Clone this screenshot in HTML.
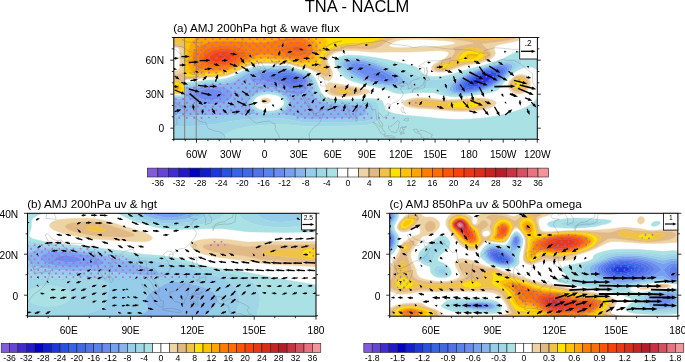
<!DOCTYPE html>
<html><head><meta charset="utf-8"><title>TNA - NACLM</title>
<style>html,body{margin:0;padding:0;background:#fff}svg{display:block}text{font-family:"Liberation Sans",Arial,Helvetica,sans-serif;fill:#000}</style></head><body>
<svg width="685" height="362" viewBox="0 0 685 362">
<defs>
<pattern id="dotsa" x="193.20" y="41.70" width="7.39" height="7.52" patternUnits="userSpaceOnUse"><circle cx="1" cy="1" r="0.95" fill="#a060e4"/><circle cx="4.70" cy="4.76" r="0.95" fill="#a060e4"/></pattern>
<pattern id="dotsb" x="33.76" y="244.26" width="7.05" height="7.06" patternUnits="userSpaceOnUse"><circle cx="1" cy="1" r="0.90" fill="#b05ee2"/><circle cx="4.53" cy="4.53" r="0.90" fill="#b05ee2"/></pattern>
<pattern id="dotsc" x="550.00" y="237.40" width="7.00" height="7.00" patternUnits="userSpaceOnUse"><circle cx="1" cy="1" r="0.95" fill="#7a68f0"/><circle cx="4.50" cy="4.50" r="0.95" fill="#7a68f0"/></pattern>
<clipPath id="cpa"><rect x="173.8" y="37.5" width="363.5" height="101.7"/></clipPath>
<clipPath id="cpb"><rect x="27.5" y="213.3" width="288.5" height="102.9"/></clipPath>
<clipPath id="cpc"><rect x="389.7" y="213.3" width="288.1" height="102.9"/></clipPath>
</defs>
<rect width="685" height="362" fill="#fff"/>
<text x="357.0" y="11.7" font-size="16.5" text-anchor="middle">TNA - NACLM</text>
<text x="173.2" y="31.7" font-size="11.7" text-anchor="start">(a) AMJ 200hPa hgt &amp; wave flux</text>
<g clip-path="url(#cpa)">
<rect x="173.8" y="37.5" width="363.5" height="101.7" fill="#fff"/>
<path d="M480.8 79.4L481.8 79.3 482.4 79.5 480.8 80.3 480.5 79.5Z" fill="#0f1ed2" stroke="#0f1ed2" stroke-width="0.5" fill-rule="evenodd"/>
<path d="M485.8 74.3L489.8 73.8 491.8 74.2 492.5 74.5 493 75.5 492.7 76.5 492.1 77.5 489.9 79.5 486.7 81.5 482 83.5 478.2 84.5 474.8 84.8 472.3 84.5 471.2 83.5 471.3 82.5 471.8 81.5 473.9 79.5 477.1 77.5 481.6 75.5 484.9 74.5ZM480.5 79.5L480.8 80.3 482.4 79.5 481.8 79.3 480.8 79.4Z" fill="#1e37dc" stroke="#1e37dc" stroke-width="0.5" fill-rule="evenodd"/>
<path d="M487.8 72.4L490.8 72 492.8 72 495.4 72.5 496.4 73.5 496.5 74.5 496.1 75.5 495.6 76.5 494.8 77.5 492.5 79.5 489.5 81.5 487.7 82.5 482.8 84.6 479.8 85.5 476.8 86.2 474.8 86.5 471.8 86.6 470.3 86.5 468.8 86 468 85.5 467.6 84.5 467.7 83.5 468.2 82.5 469 81.5 471.2 79.5 476.2 76.5 480.8 74.5 483.8 73.4 487.5 72.5ZM484.9 74.5L481.6 75.5 477.1 77.5 473.9 79.5 471.8 81.5 471.3 82.5 471.2 83.5 472.3 84.5 474.8 84.8 478.2 84.5 482 83.5 486.7 81.5 489.9 79.5 492.1 77.5 492.7 76.5 493 75.5 492.5 74.5 491.8 74.2 489.8 73.8 485.8 74.3Z" fill="#2850e1" stroke="#2850e1" stroke-width="0.5" fill-rule="evenodd"/>
<path d="M493.8 70.5L495.8 70.6 497.8 71.1 498.4 71.5 499.1 72.5 499.1 73.5 498.3 75.5 496.7 77.5 494.5 79.5 489.8 82.5 485.8 84.5 483.1 85.5 476.8 87.3 471.8 88 469.8 88 467.8 87.8 466.7 87.5 465.2 86.5 464.7 85.5 464.8 84.5 465.2 83.5 465.9 82.5 467.9 80.5 470.6 78.5 473.9 76.5 480.6 73.5 487.1 71.5 490.8 70.8 493.5 70.5ZM487.5 72.5L483.8 73.4 480.8 74.5 476.2 76.5 471.2 79.5 469 81.5 468.2 82.5 467.7 83.5 467.6 84.5 468 85.5 468.8 86 470.3 86.5 471.8 86.6 474.8 86.5 476.8 86.2 479.8 85.5 482.8 84.6 487.7 82.5 489.5 81.5 492.5 79.5 494.8 77.5 495.6 76.5 496.1 75.5 496.5 74.5 496.4 73.5 495.4 72.5 492.8 72 490.8 72 487.8 72.4Z" fill="#3764e6" stroke="#3764e6" stroke-width="0.5" fill-rule="evenodd"/>
<path d="M492.8 69.5L495.8 69.2 497.8 69.3 499.8 69.9 500.8 70.5 501.3 71.5 501.4 72.5 501.1 73.5 500 75.5 498.3 77.5 496.1 79.5 493.4 81.5 487.9 84.5 484.8 85.8 480.8 87.2 476.8 88.2 473.8 88.8 469.8 89.2 466.8 89.1 464.3 88.5 462.8 87.5 462.3 86.5 462.3 85.5 462.6 84.5 463.2 83.5 464.9 81.5 467.3 79.5 470.3 77.5 473.9 75.5 476.8 74.1 483.9 71.5 487.8 70.4 492.6 69.5ZM493.5 70.5L490.8 70.8 487.1 71.5 480.6 73.5 473.9 76.5 470.6 78.5 467.9 80.5 465.9 82.5 465.2 83.5 464.8 84.5 464.7 85.5 465.2 86.5 466.7 87.5 467.8 87.8 469.8 88 471.8 88 476.8 87.3 483.1 85.5 485.8 84.5 489.8 82.5 494.5 79.5 496.7 77.5 498.3 75.5 499.1 73.5 499.1 72.5 498.4 71.5 497.8 71.1 495.8 70.6 493.8 70.5Z" fill="#4169e6" stroke="#4169e6" stroke-width="0.5" fill-rule="evenodd"/>
<path d="M493.8 68.4L496.8 68.1 499.8 68.2 501.8 68.7 502.9 69.5 503.4 70.5 503.5 71.5 503.2 72.5 502.2 74.5 499.8 77.5 497.6 79.5 495 81.5 491.8 83.4 488.8 85 484.8 86.7 480.8 88 476.8 89.1 472.8 89.8 468.8 90.2 465.8 90.2 462.8 89.7 460.8 88.6 460 87.5 459.9 86.5 460.6 84.5 462.1 82.5 464.2 80.5 466.9 78.5 470.2 76.5 474.8 74.2 478.8 72.5 484.5 70.5 488.8 69.4 493 68.5ZM492.6 69.5L487.8 70.4 483.9 71.5 476.8 74.1 473.9 75.5 470.3 77.5 467.3 79.5 464.9 81.5 463.2 83.5 462.6 84.5 462.3 85.5 462.3 86.5 462.8 87.5 464.3 88.5 466.8 89.1 469.8 89.2 473.8 88.8 476.8 88.2 480.8 87.2 484.8 85.8 487.9 84.5 493.4 81.5 496.1 79.5 498.3 77.5 500 75.5 501.1 73.5 501.4 72.5 501.3 71.5 500.8 70.5 499.8 69.9 497.8 69.3 495.8 69.2 492.8 69.5ZM282.8 75.5L286.8 74.8 289.8 74.8 292.8 75.4 295.7 76.5 297.3 77.5 298.4 78.5 299 79.5 299.2 80.5 298.9 81.5 298 82.5 296.8 83.1 294.8 83.3 291.8 82.6 283.3 78.5 281.5 77.5 281 76.5 282.7 75.5Z" fill="#5073e6" stroke="#5073e6" stroke-width="0.5" fill-rule="evenodd"/>
<path d="M493.8 67.5L497.8 67 500.8 67 503.5 67.5 505 68.5 505.5 69.5 505.6 70.5 505.3 71.5 504.3 73.5 502 76.5 499.8 78.8 496.8 81.3 493.8 83.2 490.8 84.9 486.8 86.7 482.8 88.2 478.4 89.5 473.8 90.5 469.8 91.1 465.8 91.3 462.8 91 459.8 90.2 458.6 89.5 457.8 88.5 457.6 87.5 457.7 86.5 458 85.5 459.3 83.5 461.3 81.5 465.2 78.5 468.4 76.5 472.8 74.2 477.8 72.1 482.8 70.3 488.8 68.6 493.8 67.5ZM493 68.5L488.8 69.4 484.5 70.5 478.8 72.5 474.8 74.2 470.2 76.5 466.9 78.5 464.2 80.5 462.1 82.5 460.6 84.5 459.9 86.5 460 87.5 460.8 88.6 462.8 89.7 465.8 90.2 468.8 90.2 472.8 89.8 476.8 89.1 480.8 88 484.8 86.7 488.8 85 491.8 83.4 495 81.5 497.6 79.5 499.8 77.5 502.2 74.5 503.2 72.5 503.5 71.5 503.4 70.5 502.9 69.5 501.8 68.7 499.8 68.2 496.8 68.1 493.8 68.4ZM282.8 72.5L287.8 72.4 291.8 73.1 293.8 73.7 298.2 75.5 300.2 76.5 301.6 77.5 302.4 78.5 302.9 79.5 303.2 80.5 303.2 81.5 302.8 83.1 301.8 84.5 300.6 85.5 298.8 86.4 296.8 86.8 294.8 86.7 292.8 86.3 283.8 82.4 280.8 81.5 272.2 79.5 269.8 78.5 268.5 77.5 268.1 76.5 268.5 75.5 269.9 74.5 273.8 73.4 282 72.5ZM282.7 75.5L281 76.5 281.5 77.5 283.3 78.5 291.8 82.6 294.8 83.3 296.8 83.1 298 82.5 298.9 81.5 299.2 80.5 299 79.5 298.4 78.5 297.3 77.5 295.7 76.5 292.8 75.4 289.8 74.8 286.8 74.8 282.8 75.5ZM373.8 72.9L374.8 72.6 375.8 72.5 377.8 72.7 380.8 73.4 382.8 74.2 385.1 75.5 386.3 76.5 386.9 77.5 386.6 78.5 385.8 78.9 383.8 79.2 381.8 79.1 378.6 78.5 376 77.5 374.4 76.5 373.3 75.5 372.9 74.5 373 73.5ZM208.8 93.4L210.7 93.5 210.8 93.7 211.1 94.5 209.8 94.8 208.8 94.8 207.5 94.5 207.9 93.5Z" fill="#5a82eb" stroke="#5a82eb" stroke-width="0.5" fill-rule="evenodd"/>
<path d="M352.8 63.4L354.8 63 357.8 63 362.8 63.7 368.6 65.5 384 71.5 389.5 74.5 392 76.5 392.8 77.5 393.3 78.5 393.4 79.5 392.8 80.5 390.8 81.5 386.8 81.9 380.8 81.4 376.3 80.5 372.9 79.5 368.1 77.5 360.8 73.2 353.8 69.5 352.4 68.5 350.8 66.8 350.4 65.5 350.7 64.5 352.4 63.5ZM373 73.5L372.9 74.5 373.3 75.5 374.4 76.5 376 77.5 378.6 78.5 381.8 79.1 383.8 79.2 385.8 78.9 386.6 78.5 386.9 77.5 386.3 76.5 385.1 75.5 382.8 74.2 380.8 73.4 377.8 72.7 375.8 72.5 374.8 72.6 373.8 72.9ZM494.8 66.5L498.8 65.9 502.8 65.8 504.8 66.1 505.9 66.5 506.8 67.1 507.2 67.5 507.6 68.5 507.7 69.5 507 71.5 505 74.5 502.4 77.5 499.1 80.5 495.8 83 492.8 84.8 488.8 86.7 483.8 88.7 479.8 89.9 474.8 91.1 469.8 91.9 464.8 92.2 460.8 92 457.8 91.2 456.6 90.5 455.8 89.7 455.2 88.5 455.2 87.5 455.5 86.5 455.9 85.5 457.3 83.5 459.4 81.5 463.3 78.5 467.8 75.8 472.4 73.5 477.8 71.3 482.9 69.5 488.8 67.8 494.6 66.5ZM493.8 67.5L488.8 68.6 482.8 70.3 477.8 72.1 472.8 74.2 468.4 76.5 465.2 78.5 461.3 81.5 459.3 83.5 458 85.5 457.7 86.5 457.6 87.5 457.8 88.5 458.6 89.5 459.8 90.2 462.8 91 465.8 91.3 469.8 91.1 473.8 90.5 478.4 89.5 482.8 88.2 486.8 86.7 490.8 84.9 493.8 83.2 496.8 81.3 499.8 78.8 502 76.5 504.3 73.5 505.3 71.5 505.6 70.5 505.5 69.5 505 68.5 503.5 67.5 500.8 67 497.8 67 493.8 67.5ZM271.8 71.4L282.8 70.8 286.8 70.8 288.8 70.9 291.4 71.5 294.4 72.5 300.8 75 302.8 76.1 304.4 77.5 305.6 79.5 306 81.5 306 83.5 305.8 84.5 304.8 86.4 302.8 88.2 300.8 89.3 297.8 90.1 295.8 90.2 292.8 89.6 290.8 88.9 284.8 85.9 281.8 84.8 278.8 84 267.8 82 263.8 80.7 261.5 79.5 260.3 78.5 259.6 77.5 259.5 76.5 259.9 75.5 260.9 74.5 262.6 73.5 265.4 72.5 271 71.5ZM282 72.5L273.8 73.4 269.9 74.5 268.5 75.5 268.1 76.5 268.5 77.5 269.8 78.5 272.2 79.5 280.8 81.5 283.8 82.4 292.8 86.3 294.8 86.7 296.8 86.8 298.8 86.4 300.6 85.5 301.8 84.5 302.8 83.1 303.2 81.5 303.2 80.5 302.9 79.5 302.4 78.5 301.6 77.5 300.2 76.5 298.2 75.5 293.8 73.7 291.8 73.1 287.8 72.4 282.8 72.5ZM203.8 89.3L208.8 88.7 213.8 89 217.8 89.8 219.7 90.5 221.4 91.5 222.4 92.5 222.9 93.5 222.9 94.5 222.6 95.5 221.9 96.5 220.6 97.5 218.7 98.5 215.8 99.4 210.8 100 205.8 99.8 202.8 99.3 200.8 98.7 198.8 97.8 197.8 97.1 197.1 96.5 196.3 95.5 196 94.5 196.2 93.5 196.8 92.5 198 91.5 199.8 90.5 202.8 89.5ZM207.9 93.5L207.5 94.5 208.8 94.8 209.8 94.8 211.1 94.5 210.8 93.7 210.7 93.5 208.8 93.4Z" fill="#698cee" stroke="#698cee" stroke-width="0.5" fill-rule="evenodd"/>
<path d="M349.8 61.4L352.8 61 356.8 60.9 361.8 61.4 365.8 62.3 370 63.5 375.4 65.5 386.8 70.5 390.6 72.5 393.8 74.5 396.3 76.5 398 78.5 398.4 79.5 398.5 80.5 398.1 81.5 396.9 82.5 394.8 83.3 391.8 83.7 387.8 83.8 383.8 83.4 378.8 82.7 373.5 81.5 370 80.5 367 79.5 362.3 77.5 356.8 74.6 352.8 72.2 349.1 69.5 347.2 67.5 346.6 66.5 346.2 65.5 346.2 64.5 346.5 63.5 347.5 62.5 349.6 61.5ZM352.4 63.5L350.7 64.5 350.4 65.5 350.8 66.8 352.4 68.5 353.8 69.5 360.8 73.2 368.1 77.5 372.9 79.5 376.3 80.5 380.8 81.4 386.8 81.9 390.8 81.5 392.8 80.5 393.4 79.5 393.3 78.5 392.8 77.5 392 76.5 389.5 74.5 384 71.5 368.6 65.5 362.8 63.7 357.8 63 354.8 63 352.8 63.4ZM495.8 65.4L499.8 64.8 503.8 64.5 506.8 64.9 508.5 65.5 509.6 66.5 510 67.5 509.9 68.5 509.2 70.5 507.9 72.5 505.4 75.5 501.6 79.5 497.8 82.7 494.8 84.7 490.8 86.8 485.8 88.8 480.8 90.4 475.8 91.7 469.8 92.7 464.8 93.1 460.8 93.1 456.8 92.4 454.5 91.5 453.3 90.5 452.8 89.5 452.6 88.5 452.8 87.5 453.1 86.5 454.3 84.5 457.2 81.5 460.8 78.8 465.8 75.8 470.4 73.5 475.8 71.2 481.8 69.1 488.8 67 495.3 65.5ZM494.6 66.5L488.8 67.8 482.9 69.5 477.8 71.3 472.4 73.5 467.8 75.8 463.3 78.5 459.4 81.5 457.3 83.5 455.9 85.5 455.5 86.5 455.2 87.5 455.2 88.5 455.8 89.7 456.6 90.5 457.8 91.2 460.8 92 464.8 92.2 469.8 91.9 474.8 91.1 479.8 89.9 483.8 88.7 488.8 86.7 492.8 84.8 495.8 83 499.1 80.5 502.4 77.5 505 74.5 507 71.5 507.7 69.5 507.6 68.5 507.2 67.5 506.8 67.1 505.9 66.5 504.8 66.1 502.8 65.8 498.8 65.9 494.8 66.5ZM283.8 69.5L287.8 69.5 289.8 69.9 300.8 73.6 303 74.5 304.6 75.5 305.8 76.5 307.4 78.5 307.9 79.5 308.5 81.5 308.7 84.5 308.5 86.5 308 88.5 306.9 90.5 304.8 92.4 301.8 94.1 298.8 94.9 296.8 95.1 293.8 94.8 290.8 93.9 288.8 93 282.8 89.6 279.8 88.4 276.1 87.5 264.8 85.9 257.8 84.1 254.8 83 252.8 81.9 250.8 80.5 250 79.5 249.6 78.5 249.7 77.5 250.1 76.5 250.9 75.5 252.1 74.5 253.9 73.5 256.3 72.5 259.5 71.5 264.2 70.5 267.8 70.1 282.9 69.5ZM271 71.5L265.4 72.5 262.6 73.5 260.9 74.5 259.9 75.5 259.5 76.5 259.6 77.5 260.3 78.5 261.5 79.5 263.8 80.7 267.8 82 278.8 84 281.8 84.8 284.8 85.9 290.8 88.9 292.8 89.6 295.8 90.2 297.8 90.1 300.8 89.3 302.8 88.2 304.8 86.4 305.8 84.5 306 83.5 306 81.5 305.6 79.5 304.4 77.5 302.8 76.1 300.8 75 294.4 72.5 291.4 71.5 288.8 70.9 286.8 70.8 282.8 70.8 271.8 71.4ZM204.8 86.4L208.8 86.1 213.8 86.1 218.8 86.5 222.8 87.1 225.8 87.8 228.8 88.9 230.8 90.2 232 91.5 232.6 92.5 232.9 93.5 232.8 95.5 231.9 97.5 230.2 99.5 227.8 101 224.8 102.3 221.8 103.1 217.8 103.9 213.8 104.3 208.8 104.3 203.8 103.9 199.8 103.3 195.8 102.1 192.8 100.9 190.5 99.5 188.4 97.5 187.5 95.5 187.4 94.5 187.6 93.5 188.2 92.5 189.8 91 192.6 89.5 195.3 88.5 199 87.5 204 86.5ZM202.8 89.5L199.8 90.5 198 91.5 196.8 92.5 196.2 93.5 196 94.5 196.3 95.5 197.1 96.5 197.8 97.1 198.8 97.8 200.8 98.7 202.8 99.3 205.8 99.8 210.8 100 215.8 99.4 218.7 98.5 220.6 97.5 221.9 96.5 222.6 95.5 222.9 94.5 222.9 93.5 222.4 92.5 221.4 91.5 219.7 90.5 217.8 89.8 213.8 89 208.8 88.7 203.8 89.3Z" fill="#78a0f0" stroke="#78a0f0" stroke-width="0.5" fill-rule="evenodd"/>
<path d="M349.8 59.5L354.8 59.2 359.6 59.5 364.8 60.3 369.5 61.5 374.8 63.2 380.5 65.5 386.8 68.3 393.1 71.5 398.1 74.5 400.8 76.5 402.9 78.5 403.6 79.5 403.9 80.5 404 81.5 403.6 82.5 402.6 83.5 400.7 84.5 396.8 85.3 392.8 85.5 387.8 85.3 381.9 84.5 375.8 83.4 370.8 82.2 364.8 80.5 359.4 78.5 355.4 76.5 350.8 73.6 346.8 70.5 344 67.5 343 65.5 342.8 64.5 343 63.5 343.4 62.5 344.3 61.5 345.8 60.6 346.8 60.2 349.6 59.5ZM349.6 61.5L347.5 62.5 346.5 63.5 346.2 64.5 346.2 65.5 346.6 66.5 347.2 67.5 349.1 69.5 352.8 72.2 356.8 74.6 362.3 77.5 367 79.5 370 80.5 373.5 81.5 378.8 82.7 383.8 83.4 387.8 83.8 391.8 83.7 394.8 83.3 396.9 82.5 398.1 81.5 398.5 80.5 398.4 79.5 398 78.5 396.3 76.5 393.8 74.5 390.6 72.5 386.8 70.5 375.4 65.5 370 63.5 365.8 62.3 361.8 61.4 356.8 60.9 352.8 61 349.8 61.4ZM501.8 63.4L506.8 63.1 509.8 63.6 511.8 64.7 512.4 65.5 512.7 66.5 512.2 68.5 510.9 70.5 507.6 74.5 502.8 79.5 499.8 82.2 496.8 84.5 493.8 86.3 489.8 88.3 485.8 89.8 480.8 91.3 475.8 92.5 470.8 93.3 464.8 93.9 458.8 93.9 454.8 93.4 452.8 92.7 451.8 92.2 450.9 91.5 450.1 90.5 449.8 89.5 449.7 88.5 449.9 87.5 450.9 85.5 453.5 82.5 456.8 79.9 460.8 77.3 466.8 74.1 471.8 71.9 478.8 69.3 486.8 66.8 494.8 64.7 501.1 63.5ZM495.3 65.5L488.8 67 481.8 69.1 475.8 71.2 470.4 73.5 465.8 75.8 460.8 78.8 457.2 81.5 454.3 84.5 453.1 86.5 452.8 87.5 452.6 88.5 452.8 89.5 453.3 90.5 454.5 91.5 456.8 92.4 460.8 93.1 464.8 93.1 469.8 92.7 475.8 91.7 480.8 90.4 485.8 88.8 490.8 86.8 494.8 84.7 497.8 82.7 501.6 79.5 505.4 75.5 507.9 72.5 509.2 70.5 509.9 68.5 510 67.5 509.6 66.5 508.5 65.5 506.8 64.9 503.8 64.5 499.8 64.8 495.8 65.4ZM280.8 68.5L286.8 68.4 289.8 68.9 297.8 71.7 302.8 73.2 305.6 74.5 307.1 75.5 308.2 76.5 309.8 78.5 311 81.5 311.6 84.5 312.1 91.5 313 94.5 313.8 95.7 315.8 98.1 316.8 98.9 318.8 100.1 324.8 102.7 327.8 103.4 333.8 103.9 356.2 104.5 362.8 105.5 365.3 106.5 366.1 107.5 366.5 108.5 366.7 109.5 366.7 111.5 366.5 112.5 365.8 114 364.8 114.9 363.7 115.5 361 116.5 356.4 117.5 348.8 118.4 341.8 118.7 309.8 119 306.8 118.8 301.8 118.2 287.8 115.1 281.8 114.1 280.6 113.5 281.7 112.5 284.8 110.3 286.8 108.6 288.5 106.5 289 105.5 289.4 104.5 289.7 102.5 289.3 100.5 288.9 99.5 287.5 97.5 285.8 95.9 282.8 94 280.8 93.1 276.8 91.8 272.8 91.1 269.8 90.9 263.8 91.2 259.8 91.8 256.8 92.7 253.8 94 251.8 95.3 250.4 96.5 248.8 98.5 247.9 100.5 247.6 102.5 247.9 104.5 248.3 105.5 249.5 107.5 250.8 108.9 256.8 113.5 255.8 114 252.8 114.3 236.8 114.6 215.8 115.3 205.8 115.5 188.8 115 172.8 113.9 172.8 99.4 183.8 98.1 184.8 96.5 185.2 95.5 185.5 93.5 185.8 88.1 186.8 87.6 204.8 84.3 210.8 83.9 223.8 83.7 228.8 83 232.8 81.9 234.8 81 245.1 74.5 248.8 72.5 251.8 71.3 254.8 70.5 259.8 69.5 264.8 68.9 268.8 68.7 279.8 68.5ZM282.9 69.5L267.8 70.1 264.2 70.5 259.5 71.5 256.3 72.5 253.9 73.5 252.1 74.5 250.9 75.5 250.1 76.5 249.7 77.5 249.6 78.5 250 79.5 250.8 80.5 252.8 81.9 254.8 83 257.8 84.1 264.8 85.9 276.1 87.5 279.8 88.4 282.8 89.6 288.8 93 290.8 93.9 293.8 94.8 296.8 95.1 298.8 94.9 301.8 94.1 304.8 92.4 306.9 90.5 308 88.5 308.5 86.5 308.7 84.5 308.5 81.5 307.9 79.5 307.4 78.5 305.8 76.5 304.6 75.5 303 74.5 300.8 73.6 289.8 69.9 287.8 69.5 283.8 69.5ZM204 86.5L199 87.5 195.3 88.5 192.6 89.5 189.8 91 188.2 92.5 187.6 93.5 187.4 94.5 187.5 95.5 188.4 97.5 190.5 99.5 192.8 100.9 195.8 102.1 199.8 103.3 203.8 103.9 208.8 104.3 213.8 104.3 217.8 103.9 221.8 103.1 224.8 102.3 227.8 101 230.2 99.5 231.9 97.5 232.8 95.5 232.9 93.5 232.6 92.5 232 91.5 230.8 90.2 228.8 88.9 225.8 87.8 222.8 87.1 218.8 86.5 213.8 86.1 208.8 86.1 204.8 86.4Z" fill="#87b4eb" stroke="#87b4eb" stroke-width="0.5" fill-rule="evenodd"/>
<path d="M346.8 58.3L350.8 57.8 356.8 57.9 362.8 58.5 368.8 59.7 373.8 61 379.8 63.1 386.8 66 394.8 69.8 401.9 73.5 407.1 76.5 409.9 78.5 411.8 80.5 412.2 81.5 412.2 82.5 411.8 83.5 410.8 84.5 408.8 85.7 404.8 86.9 400.8 87.5 395.8 87.5 390.8 87.1 383.8 86.1 375.4 84.5 366.7 82.5 359.9 80.5 355 78.5 349.8 75.5 345.8 72.5 342.6 69.5 340.6 66.5 339.9 64.5 339.9 63.5 340.1 62.5 340.7 61.5 341.6 60.5 342.8 59.7 345.8 58.5ZM349.6 59.5L346.8 60.2 345.8 60.6 344.3 61.5 343.4 62.5 343 63.5 342.8 64.5 343 65.5 344 67.5 346.8 70.5 350.8 73.6 355.4 76.5 359.4 78.5 364.8 80.5 370.8 82.2 375.8 83.4 381.9 84.5 387.8 85.3 392.8 85.5 396.8 85.3 400.7 84.5 402.6 83.5 403.6 82.5 404 81.5 403.9 80.5 403.6 79.5 402.9 78.5 400.8 76.5 398.1 74.5 393.1 71.5 386.8 68.3 380.5 65.5 374.8 63.2 369.5 61.5 364.8 60.3 359.6 59.5 354.8 59.2 349.8 59.5ZM506.8 61.4L508.8 61.3 511.4 61.5 512.8 61.8 514.6 62.5 515.7 63.5 516.1 64.5 516.1 65.5 515.7 66.5 514.5 68.5 511.8 71.5 502.8 80.7 498.8 84.4 495.8 86.5 492.8 88.2 488.8 89.8 485.8 90.8 476.8 93.1 471.8 93.9 466.8 94.6 459.8 94.9 454.8 94.7 450.8 93.8 448 92.5 446.9 91.5 446.3 90.5 446 89.5 445.9 88.5 446.1 87.5 447 85.5 448.6 83.5 449.6 82.5 453.8 79.5 459.1 76.5 465.8 73.2 471.8 70.8 480.8 67.8 493.8 64.1 500.8 62.4 505.9 61.5ZM501.1 63.5L494.8 64.7 486.8 66.8 478.8 69.3 471.8 71.9 466.8 74.1 460.8 77.3 456.8 79.9 453.5 82.5 450.9 85.5 449.9 87.5 449.7 88.5 449.8 89.5 450.1 90.5 450.9 91.5 451.8 92.2 452.8 92.7 454.8 93.4 458.8 93.9 464.8 93.9 470.8 93.3 475.8 92.5 480.8 91.3 485.8 89.8 489.8 88.3 493.8 86.3 496.8 84.5 499.8 82.2 502.8 79.5 507.6 74.5 510.9 70.5 512.2 68.5 512.7 66.5 512.4 65.5 511.8 64.7 509.8 63.6 506.8 63.1 501.8 63.4ZM282.8 67.5L287.8 67.5 290.8 68.2 297.8 70.8 304.1 72.5 306.8 73.7 309.5 75.5 310.8 76.8 312 78.5 313.8 82.2 314.5 84.5 315.7 90.5 317 93.5 318.6 95.5 319.8 96.5 323.5 99.5 325.8 100.7 328.8 101.3 336.8 101.8 365.8 101.8 368.8 102.2 370.8 103 371.8 103.6 372.6 104.5 373.1 105.5 373.7 107.5 374 111.5 373.8 114.5 373.2 116.5 371.9 118.5 370.7 119.5 368.5 120.5 365.8 121.1 354.8 121.9 340.8 122.4 309.8 122.8 306.8 122.6 302.8 122.2 288.8 119.5 282.8 118.6 268.8 118.6 253.8 119 244.1 119.5 235 120.5 215.8 124 207.8 125.1 197.8 125.9 184.8 126.4 172.8 126.5 172.8 113.9 188.8 115 205.8 115.5 215.8 115.3 236.8 114.6 252.8 114.3 255.8 114 256.8 113.5 250.8 108.9 249.5 107.5 248.3 105.5 247.9 104.5 247.6 102.5 247.9 100.5 248.3 99.5 249.5 97.5 250.4 96.5 251.8 95.3 253.8 94 255.8 93.1 258.8 92.1 262.8 91.3 265.8 91 269.8 90.9 272.8 91.1 276.8 91.8 279.8 92.7 282.8 94 284.8 95.2 286.5 96.5 288.3 98.5 289.3 100.5 289.6 101.5 289.6 103.5 289 105.5 288.5 106.5 286.8 108.6 284.8 110.3 281.7 112.5 280.6 113.5 281.8 114.1 287.8 115.1 302.8 118.4 306.8 118.8 309.8 119 340.8 118.7 347.3 118.5 353.8 117.9 357.8 117.2 361 116.5 363.7 115.5 364.8 114.9 365.8 114 366.5 112.5 366.7 110.5 366.5 108.5 366.1 107.5 365.3 106.5 362.8 105.5 355.8 104.5 333.8 103.9 327.8 103.4 324.8 102.7 317.7 99.5 316.3 98.5 314.8 97 313.6 95.5 312.6 93.5 312 90.5 311.6 84.5 311 81.5 309.8 78.5 308.2 76.5 305.8 74.6 303.7 73.5 297.8 71.7 291.8 69.5 287.8 68.5 267.8 68.7 263.8 69 258.8 69.7 252.8 71 248.8 72.5 241.7 76.5 236.8 79.9 234.8 81 232.8 81.9 229.8 82.8 226.8 83.4 223.8 83.7 210.8 83.9 204.8 84.3 186.8 87.6 185.8 88.1 185.5 93.5 185.2 95.5 184.8 96.5 183.8 98.1 172.8 99.4 172.8 97.1 178.8 97 183.8 96.7 184.6 95.5 185.1 93.5 185.8 85.5 196.8 84.1 205.8 82.6 221.8 81.7 226.8 81 229.8 80 233.8 78.5 236.8 76.9 240.8 74.5 246.9 71.5 249.8 70.3 252.8 69.4 257.8 68.5 264.8 67.7 282.7 67.5ZM264.2 92.5L260.8 93.1 257.8 94.1 254.9 95.5 252.8 97 251.4 98.5 250.3 100.5 250 102.5 250.3 104.5 251.4 106.5 253.3 108.5 255.8 110.2 258.8 111.6 262.8 112.8 265.8 113.2 269.8 113.3 272.8 113.1 276.8 112.2 279.8 111.2 281.8 110.1 284.2 108.5 286.1 106.5 287.1 104.5 287.5 102.5 287.1 100.5 286 98.5 283.9 96.5 281.8 95.1 278.8 93.8 275.8 92.9 271.8 92.3 267.8 92.2 264.8 92.4Z" fill="#96cde8" stroke="#96cde8" stroke-width="0.5" fill-rule="evenodd"/>
<path d="M349.8 56.5L355.8 56.5 362.8 57.2 369.8 58.3 375.8 59.7 385.8 62.9 401.8 69.4 411.8 72.9 419.8 76.7 422.8 77.8 428.8 79.2 435.8 79.7 442.8 79.3 445.8 78.8 448.8 78.1 452.8 76.8 464.8 72.1 470.8 70 505.8 59.7 509.8 58.9 512.8 58.6 515.8 58.6 518.8 59.3 520.8 60.3 521.7 61.5 521.9 62.5 521.7 63.5 520.4 65.5 518.4 67.5 509.8 74.9 499.8 85.2 497.8 86.9 495.8 88.3 492.8 89.8 489.8 90.9 481.8 92.9 470.8 94.9 461.8 95.7 457.8 95.8 453.8 95.7 450.8 95.3 447.2 94.5 444.6 93.5 442.8 92.5 437.8 88.9 434.8 88 431.8 87.9 426.8 88.1 406.8 90.3 402.8 90.4 399.8 90.3 392.8 89.2 370.8 84.7 361.6 82.5 356.8 81 352.9 79.5 349.8 78 347.3 76.5 344.8 74.6 341.8 71.7 339.8 69.2 338.1 66.5 337.4 64.5 337.3 62.5 337.6 61.5 338.1 60.5 339.8 59.1 341.8 58 343.8 57.3 346.8 56.7 349.6 56.5ZM345.8 58.5L342.8 59.7 341.6 60.5 340.7 61.5 340.1 62.5 339.9 63.5 339.9 64.5 340.6 66.5 342.6 69.5 345.8 72.5 349.8 75.5 355 78.5 359.9 80.5 366.7 82.5 375.4 84.5 383.8 86.1 390.8 87.1 395.8 87.5 400.8 87.5 404.8 86.9 408.8 85.7 410.8 84.5 411.8 83.5 412.2 82.5 412.2 81.5 411.8 80.5 409.9 78.5 407.1 76.5 401.9 73.5 394.8 69.8 386.8 66 379.8 63.1 373.8 61 368.8 59.7 362.8 58.5 356.8 57.9 350.8 57.8 346.8 58.3ZM505.9 61.5L500.8 62.4 493.8 64.1 480.8 67.8 471.8 70.8 465.8 73.2 459.1 76.5 453.8 79.5 449.6 82.5 448.6 83.5 447 85.5 446.1 87.5 445.9 88.5 446 89.5 446.3 90.5 446.9 91.5 448 92.5 450.8 93.8 454.8 94.7 459.8 94.9 466.8 94.6 471.8 93.9 476.8 93.1 485.8 90.8 488.8 89.8 492.8 88.2 495.8 86.5 498.8 84.4 502.8 80.7 511.8 71.5 514.5 68.5 515.7 66.5 516.1 65.5 516.1 64.5 515.7 63.5 514.6 62.5 512.8 61.8 511.4 61.5 508.8 61.3 506.8 61.4ZM257.8 67.4L262.8 66.8 266.8 66.6 274.8 66.8 287.8 66.7 290.8 67.4 297.8 70 304.3 71.5 307.8 72.8 309.1 73.5 310.8 74.9 312.2 76.5 313.8 78.8 315.6 82.5 318.6 90.5 320.1 93.5 321.7 95.5 323.8 97.6 324.9 98.5 326.8 99.5 328.8 99.9 332.8 100.3 340.8 100.6 346.8 100.6 367.8 100 372.4 100.5 375.5 101.5 376.9 102.5 377.7 103.5 378.4 105.5 379.6 112.5 379.6 115.5 379.2 117.5 378.3 119.5 377.5 120.5 375.1 122.5 371.8 124 367.8 124.9 362.8 125.3 344.8 126 309.8 126.6 303.8 126.3 290.8 125 283.8 124.5 271.8 124.7 259.8 125.3 251.8 126.1 244.8 127.2 239 128.5 232.7 130.5 228.5 132.5 225.8 134.5 224.2 136.5 223 139.5 172.8 139.5 172.8 126.5 192.8 126.2 205.8 125.3 215.8 124 235 120.5 244.1 119.5 253.8 119 268.8 118.6 282.8 118.6 288.8 119.5 302.8 122.2 306.8 122.6 309.8 122.8 342.8 122.4 358.8 121.7 365.8 121.1 367.8 120.7 369.8 120 371.8 118.6 372.7 117.5 373.6 115.5 374 112.5 373.9 109.5 373.7 107.5 373.1 105.5 372.6 104.5 371.8 103.6 370.8 103 368.8 102.2 365.8 101.8 344.8 101.9 332.8 101.7 327.8 101.2 324.8 100.2 322.8 99 318.8 95.7 317 93.5 315.7 90.5 314.5 84.5 313.8 82.2 312 78.5 310.8 76.8 309.5 75.5 306.8 73.7 304.1 72.5 297.8 70.8 290.8 68.2 287.8 67.5 266.8 67.6 261.8 68 256.8 68.6 252.1 69.5 249.1 70.5 242.7 73.5 234.8 78 229.8 80 225.8 81.2 220.8 81.8 205.8 82.6 196.8 84.1 185.8 85.5 185.1 93.5 184.6 95.5 183.8 96.7 178.8 97 172.8 97.1 172.8 96.2 178.8 96.2 183.8 95.9 184.5 94.5 184.8 93.1 185.3 86.5 185.8 83.9 195.8 82.9 205.8 81.3 220.8 80.4 224.8 79.9 228.8 78.8 233.8 76.9 242 72.5 248.8 69.4 251.8 68.4 256.8 67.5ZM264.8 92.4L267.8 92.2 271.8 92.3 275.8 92.9 278.8 93.8 281.8 95.1 283.9 96.5 286 98.5 287.1 100.5 287.5 102.5 287.1 104.5 286.1 106.5 284.2 108.5 281.8 110.1 279.8 111.2 276.8 112.2 272.8 113.1 269.8 113.3 265.8 113.2 262.8 112.8 258.8 111.6 255.8 110.2 253.3 108.5 251.4 106.5 250.3 104.5 250 102.5 250.3 100.5 251.4 98.5 252.8 97 254.9 95.5 257.8 94.1 260.8 93.1 264.2 92.5ZM263.9 93.5L260.8 94.2 257.8 95.3 255.6 96.5 253.8 98 252.6 99.5 251.8 101.5 251.8 103.5 252.5 105.5 254.2 107.5 255.8 108.7 257.8 109.9 260.8 111 263.8 111.8 266.8 112.1 269.8 112.2 272.8 111.9 275.8 111.3 278.8 110.3 280.8 109.3 283.3 107.5 284.2 106.5 285.4 104.5 285.8 102.5 285.4 100.5 284.1 98.5 282.8 97.2 280.8 95.9 277.8 94.6 274.8 93.8 271.8 93.3 267.8 93.1 264.8 93.4Z" fill="#a0d7e6" stroke="#a0d7e6" stroke-width="0.5" fill-rule="evenodd"/>
<path d="M522.8 50.5L537.8 49.5 537.8 70.7 536.6 69.5 534.8 68.2 532.8 67.3 530.8 66.9 528.8 66.7 526.8 66.9 522.8 67.9 517.8 70.2 514.8 72.1 511.8 74.4 508.8 77.1 505.6 80.5 498.8 89 497.8 89.9 495.8 91.1 492.8 92 487.8 93 476.8 94.8 467.8 96 458.8 96.7 454.8 96.8 450.8 96.5 444.2 95.5 434.8 93.1 431.8 92.7 427.8 92.4 418.8 92.5 402.8 93.6 397.8 93.5 394.8 92.9 388.8 90.5 382.5 88.5 361.8 83.9 356.8 82.6 350.4 80.5 346.8 78.8 343.8 76.8 340.8 73.8 338.8 71.2 337 68.5 335.9 66.5 335.1 64.5 334.7 62.5 334.8 61.5 335.2 60.5 335.8 59.5 336.9 58.5 339.8 56.9 343.8 55.7 347.8 55.2 352.8 55.2 358.8 55.5 365.8 56.2 374.8 57.5 386.8 59.5 409.8 65.1 414.8 66.6 416.7 67.5 418.2 68.5 421.8 72.5 423 73.5 424.7 74.5 426.8 75.3 428.8 75.9 431.8 76.4 437.8 76.6 443.8 76.1 449.8 74.9 464.8 70.3 486.2 64.5 492.5 62.5 500.8 59.5 505.2 57.5 513.8 53 516.8 51.7 518.8 51.1 522.7 50.5ZM349.6 56.5L346.8 56.7 343.8 57.3 341.8 58 339.8 59.1 338.1 60.5 337.6 61.5 337.3 62.5 337.4 64.5 338.1 66.5 339.8 69.2 341.8 71.7 344.8 74.6 347.3 76.5 349.8 78 352.9 79.5 356.8 81 361.6 82.5 370.8 84.7 392.8 89.2 399.8 90.3 402.8 90.4 406.8 90.3 426.8 88.1 431.8 87.9 434.8 88 437.8 88.9 442.8 92.5 444.6 93.5 447.2 94.5 450.8 95.3 453.8 95.7 457.8 95.8 461.8 95.7 470.8 94.9 481.8 92.9 489.8 90.9 492.8 89.8 495.8 88.3 497.8 86.9 499.8 85.2 509.8 74.9 518.4 67.5 520.4 65.5 521.7 63.5 521.9 62.5 521.7 61.5 520.8 60.3 518.8 59.3 515.8 58.6 512.8 58.6 509.8 58.9 505.8 59.7 470.8 70 464.8 72.1 452.8 76.8 448.8 78.1 445.8 78.8 442.8 79.3 435.8 79.7 428.8 79.2 422.8 77.8 419.8 76.7 411.8 72.9 401.8 69.4 385.8 62.9 375.8 59.7 369.8 58.3 362.8 57.2 355.8 56.5 349.8 56.5ZM257.8 66.4L265.8 65.8 274.8 66 287.8 65.9 289.8 66.3 298.8 69.5 303.8 70.4 306.8 71.2 308.8 72.1 310.8 73.5 312.8 75.5 314.4 77.5 316.6 81.5 319.8 89.5 321.2 92.5 323.4 95.5 324.8 96.8 326.8 98.1 328 98.5 331.8 99.1 338.8 99.5 346.8 99.5 368.8 98.5 374.8 98.8 378.8 99.4 381.6 100.5 382.6 101.5 383.1 102.5 384.8 107.9 385.8 109.6 386.8 110.7 387.8 111.4 391.8 112.8 395.8 113.8 404.8 115.2 420.1 116.5 441.8 118.7 452.8 119.3 461.8 119.3 470.8 119 480.8 118.2 488.8 117.2 496.8 115.9 505.8 113.9 512.8 112 521.8 108.9 527.8 106.2 531.8 103.7 534.8 101.1 537.8 97.6 537.8 139.5 223 139.5 224.2 136.5 225.8 134.5 228.5 132.5 230.4 131.5 234.8 129.8 239 128.5 244.8 127.2 250.8 126.2 262.8 125.1 280.8 124.5 288.8 124.8 302.8 126.3 308.8 126.6 341.8 126.1 364.8 125.2 369.8 124.5 371.8 124 373.8 123.2 375.8 122 376.8 121.2 378.3 119.5 378.8 118.5 379.4 116.5 379.6 113.5 379.3 110.5 378.7 106.5 378.1 104.5 377.7 103.5 376.9 102.5 375.5 101.5 372.4 100.5 367.8 100 346.8 100.6 340.8 100.6 332.8 100.3 328.8 99.9 326.8 99.5 324.9 98.5 323.8 97.6 321.7 95.5 320.1 93.5 318.6 90.5 316 83.5 314.7 80.5 313.6 78.5 312.2 76.5 309.8 74 307.8 72.8 304.8 71.7 297.8 70 290.8 67.4 287.8 66.7 274.8 66.8 265.8 66.6 260.8 67 254.8 67.8 251.8 68.4 248.5 69.5 242 72.5 233.8 76.9 228.8 78.8 224.8 79.9 220.8 80.4 205.8 81.3 195.8 82.9 185.8 83.9 185.3 86.5 184.8 93.1 184.5 94.5 183.8 95.9 178.8 96.2 172.8 96.2 172.8 95.5 178.8 95.5 183.8 95.2 184.1 94.5 184.6 92.5 185.2 84.5 185.4 83.5 185.8 82.6 195.8 81.9 205.8 80.3 219.8 79.4 224.8 78.8 228.8 77.6 233.8 75.7 241.8 71.5 248.8 68.4 251.8 67.4 257.2 66.5ZM264.8 93.4L267.8 93.1 271.8 93.3 274.8 93.8 277.8 94.6 280.8 95.9 282.8 97.2 284.1 98.5 285.4 100.5 285.8 102.5 285.4 104.5 284.2 106.5 283.3 107.5 280.8 109.3 278.8 110.3 275.8 111.3 272.8 111.9 269.8 112.2 266.8 112.1 263.8 111.8 260.8 111 257.8 109.9 255.8 108.7 254.2 107.5 252.5 105.5 251.8 103.5 251.8 101.5 252.6 99.5 253.8 98 255.6 96.5 257.8 95.3 260.8 94.2 263.9 93.5ZM263.5 94.5L260.8 95.2 258.8 96 256.8 97.1 255.1 98.5 253.8 100.5 253.5 101.5 253.5 103.5 254.4 105.5 255.8 107.1 257.7 108.5 259.8 109.5 262.8 110.5 267.8 111.1 270.8 111.1 273.8 110.7 276.8 109.8 278.8 109 280.8 107.8 282.3 106.5 283.1 105.5 284 103.5 283.9 101.5 283.1 99.5 281.8 98.1 279.8 96.7 277.3 95.5 275.8 95 272.8 94.4 269.8 94.1 266.8 94.1 263.8 94.5Z" fill="#aae1e4" stroke="#aae1e4" stroke-width="0.5" fill-rule="evenodd"/>
<path d="M396.8 37.5L398.7 36.5 424.8 36.5 432.3 37.5 447.8 38.8 456.8 39.7 468.4 41.5 472.5 42.5 473.7 43.5 458.1 46.5 454.4 47.5 453 48.5 454.6 50.5 455 51.5 454.8 52.5 453.7 54.5 451.3 57.5 448.4 59.5 439.8 63 437.8 64 435.8 65.4 434.8 66.5 434.4 67.5 434.4 68.5 434.9 69.5 436.8 70.5 438.8 70.9 440.8 71 443.8 70.7 447.8 69.8 451.7 68.5 457.8 66 461.8 64.8 465.8 64 475.8 62.6 480.6 61.5 483.8 60.5 487.9 58.5 489.2 57.5 490.2 56.5 490.8 55.5 491 54.5 490.9 53.5 490.4 52.5 488.8 50.6 483.8 46 481.9 44.5 482.8 43.5 501.8 41.2 507.8 40.3 511.2 39.5 514.4 38.5 516.3 37.5 517.1 36.5 527.9 36.5 527 37.5 525.8 38.2 522.3 39.5 512.8 41.9 499.9 44.5 496.8 45.4 495.8 45.9 494.9 46.5 494.2 47.5 494 48.5 495.3 52.5 495.3 53.5 495.1 54.5 494.5 55.5 492.7 57.5 491.3 58.5 487.4 60.5 483.8 61.8 478.8 63.2 465.8 65.3 461.8 66.2 457.8 67.4 449.8 70.4 444.8 71.7 441.8 72.1 438.8 72.2 436.8 72.1 434.8 71.6 432.8 70.6 431.8 69.5 431.5 68.5 431.5 67.5 431.9 66.5 432.5 65.5 434.8 63.5 437.8 61.9 444.8 58.5 447.2 56.5 448.5 54.5 448.7 53.5 448.3 52.5 446.8 51.6 445.8 51.3 441.8 50.8 436.8 50.7 409.8 52.1 387.8 52 379.8 52.3 369.8 52.1 356.8 50.7 347.8 50.4 344.8 50.7 341.8 51.1 337.8 52.1 334.8 53.1 332.8 54.1 330.8 55.5 328.9 57.5 328.2 58.5 327.7 60.5 327.9 62.5 328.7 64.5 331 68.5 331.9 70.5 332.5 72.5 332.7 74.5 332.4 76.5 331.8 77.9 330.8 79.4 329.8 80.4 328.8 81 327.8 80.8 324.8 79.4 322.8 78 318.8 74.4 316.8 72.8 313.8 71.4 310.5 69.5 308.4 68.5 305.8 67.8 297.8 66.8 290.8 64.3 288.8 63.8 286.8 63.6 275.8 63.8 264.8 63.4 259.8 63.7 253.8 64.5 250.8 65.1 247.8 66.2 240.8 69.4 233.8 73 228.8 74.9 224.8 76 218.8 76.8 206.5 77.5 194.8 79.2 185.8 79.5 184.8 80.4 184.5 81.5 184.4 89.5 184 92.5 183.8 93.1 181.8 93.6 178.8 93.9 174.8 93.9 172.8 93.6 172.8 92.8 175.8 93.3 178.8 93.3 182.8 92.7 183.8 92.1 184.2 88.5 184.1 80.5 184.3 79.5 184.8 78.7 185.8 78.5 194.8 78.3 205.8 76.7 219.8 75.9 224.8 75.2 227.8 74.4 233.8 72.2 241.8 68.1 247.8 65.4 250.8 64.3 252.8 63.8 257.8 63.1 265.8 62.5 275.8 63 287.8 62.9 290.8 63.6 297.8 66 299.8 66.3 306.8 67 309.8 68 312.8 69.5 316.8 70.7 318.8 72 321.8 74.4 323.8 75.6 325.8 76.2 327.8 76.1 328.8 75.6 329.8 74.5 330.2 73.5 330.2 71.5 329.8 70 329.2 68.5 326.7 64.5 325.7 62.5 325.5 61.5 325.7 59.5 326.5 57.5 328.2 55.5 329.8 54.1 332.8 52.1 334.8 51.1 338.8 49.9 342.8 49 345.8 48.6 349.8 48.4 354.8 48.5 368.8 49 371.8 48.9 374.8 48.4 377.8 47.3 380.8 45.9 385.8 42.2 388.5 40.5 396.7 37.5ZM407.9 39.5L400.8 40 398.4 40.5 395.2 41.5 393 42.5 390.1 44.5 389.4 45.5 389.8 46.5 390.8 46.8 394.9 47.5 400.8 47.8 417.8 47.3 436.8 46.4 445.8 45.6 452.5 44.5 455.3 43.5 455.2 42.5 451.8 41.6 442.8 40.5 433.8 40 417.8 39.3 408.8 39.4ZM173.8 45.6L177.8 45.8 178.8 46.1 180.8 47.3 183.8 48.2 184 52.5 183.9 69.5 183.8 71.9 182.8 72.8 180.8 73.2 178.8 74.2 177.8 74.5 172.8 74.7 172.8 70.9 176.8 70.8 177.8 70.6 179 69.5 179.5 68.5 179.8 66.5 179.9 59.5 179.8 51.5 179.4 49.5 178.9 48.5 177.8 47.7 176.8 47.4 172.8 47.3 172.8 45.6ZM520.8 74.4L522.8 74.5 524.8 75.1 526.8 76.2 527.8 77.1 528.9 78.5 529.9 80.5 530.2 81.5 530.5 83.5 530.3 85.5 529.5 87.5 528.3 89.5 527.3 90.5 525.8 91.8 523.8 92.9 521.8 93.6 519.8 94 517.8 94 515.8 93.8 513.8 93.1 511.8 91.9 510.3 90.5 509 88.5 508.5 87.5 508.2 85.5 508.3 84.5 508.9 82.5 510.2 80.5 512 78.5 513.8 77 515.8 75.8 517.8 75 520 74.5ZM517.6 76.5L514.8 77.8 512.8 79.4 511.8 80.5 510.8 82.2 510.3 83.5 510.2 85.5 510.5 86.5 510.9 87.5 511.8 88.8 512.8 89.8 514.8 91 517.8 91.8 519.8 91.8 521.8 91.4 523.8 90.6 524.8 89.9 526.3 88.5 527.1 87.5 527.8 86 528.2 84.5 528.2 82.5 528 81.5 527 79.5 526.2 78.5 525.1 77.5 523.8 76.8 522.8 76.4 520.8 76.1 517.8 76.4ZM329.8 82.5L337.8 83.7 356.8 87.2 366.8 89.5 369.2 90.5 370.2 91.5 369.8 92.5 368.8 92.9 367.3 93.5 360.8 94.9 352.8 96 346.8 96.5 343.8 96.6 338.8 96.3 332.3 95.5 329.8 94.6 328.1 93.5 327.1 92.5 326.5 91.5 325.8 89.5 325.8 87.5 326 86.5 326.8 84.6 328.8 82.7 329.7 82.5ZM336.3 86.5L333.8 86.9 332.1 87.5 330.6 88.5 329.9 89.5 329.8 90.5 330.1 91.5 330.9 92.5 331.8 93.1 332.8 93.6 335.6 94.5 339.8 95.1 344.8 95.3 349.8 94.9 352.9 94.5 357.9 93.5 360.8 92.5 361.7 91.5 360.9 90.5 357.8 89.3 348.8 87.5 340.8 86.4 336.8 86.4ZM263.8 98.2L265.8 98 267.8 98.2 268.8 98.5 270.2 99.5 270.6 100.5 270.4 101.5 269.4 102.5 267.8 103.3 265.8 103.6 264.8 103.6 262.8 103.1 261.7 102.5 260.9 101.5 260.9 100.5 261.4 99.5 263 98.5ZM263.7 100.5L264.3 101.5 264.8 101.7 265.8 101.7 266.8 101.5 267.4 100.5 266.8 100 265.8 99.6 264.8 99.8 263.8 100.4ZM411.8 98.5L417.8 97.8 423.8 97.8 428.8 98.1 442.2 99.5 449.8 99.8 456.8 99.5 476.8 98.1 481.8 98.1 486.8 98.5 490.8 99.4 493.9 100.5 495.4 101.5 496.1 102.5 496.2 103.5 495.7 104.5 494.6 105.5 491.8 107.1 487.8 108.5 481.8 109.9 475.8 110.8 470.8 111.3 463.8 111.6 457.8 111.5 448.8 111 432.8 109.2 416.8 108.3 410.8 107.6 406.8 106.6 404.8 105.7 403.2 104.5 402.8 103.5 402.9 102.5 403.7 101.5 405.2 100.5 407.8 99.4 411.6 98.5ZM415.2 99.5L410.8 100.5 408.7 101.5 407.7 102.5 407.6 103.5 408.4 104.5 410.4 105.5 413.8 106.3 418.8 106.9 433.8 107.7 448.9 109.5 455.8 110.1 465.8 110.2 474.8 109.5 480.8 108.5 484.7 107.5 487.8 106.2 489.1 105.5 490.2 104.5 490.6 103.5 490.3 102.5 489.1 101.5 486.6 100.5 483.8 99.9 479.8 99.4 473.8 99.3 453.8 100.7 445.8 100.9 438.8 100.5 424.8 99.2 419.8 99.1 415.8 99.4Z" fill="#eed4a5" stroke="#eed4a5" stroke-width="0.5" fill-rule="evenodd"/>
<path d="M387.8 36.8L388.1 36.5 398.7 36.5 396.7 37.5 388.5 40.5 385.8 42.2 380.8 45.9 375.8 48.1 372.8 48.7 369.8 49 354.8 48.5 349.8 48.4 345.8 48.6 341.8 49.2 337.8 50.2 334.8 51.1 331.8 52.7 329.3 54.5 327.3 56.5 326 58.5 325.5 60.5 325.5 61.5 326.1 63.5 329.2 68.5 329.8 70 330.2 71.5 330.2 73.5 329.8 74.5 328.8 75.6 327.8 76.1 325.8 76.2 323.8 75.6 321.8 74.4 318.8 72 316.8 70.7 312.8 69.5 309.8 68 307.8 67.2 305.8 66.8 299.8 66.3 297.8 66 288.8 63.1 286.8 62.9 274.8 62.9 266.8 62.5 258.8 63 252.8 63.8 249.8 64.7 241.8 68.1 233.8 72.2 227.8 74.4 224.8 75.2 219.8 75.9 205.8 76.7 194.8 78.3 185.8 78.5 184.8 78.7 184.3 79.5 184.1 80.5 184.2 88.5 183.8 92.1 182.8 92.7 181.8 92.9 177.8 93.3 174.8 93.2 172.8 92.8 172.8 92 174.8 92.5 177.8 92.7 180.8 92.4 183.1 91.5 183.8 90.5 184 87.5 183.8 84 182.8 82.1 181.8 81.4 179.8 80.6 177.8 80.4 175.8 80.5 173.8 81.1 172.8 81.6 172.8 74.7 176.8 74.5 178.8 74.2 180.8 73.2 182.8 72.8 183.8 71.9 184 65.5 183.8 48.5 183.8 48.2 180.8 47.3 178.8 46.1 177.8 45.8 172.8 45.6 172.8 43.6 177.8 43.7 180.8 44.5 183.8 44.9 184.2 47.5 184.4 49.5 184.4 72.5 184.5 75.5 184.9 76.5 185.8 77.2 192.8 77.5 196.8 77.2 205.8 75.8 218.8 75.1 224.8 74.4 228 73.5 233.8 71.4 241.8 67.3 247.8 64.6 250.8 63.5 252.8 63 257.8 62.3 264.8 61.7 274.8 62.1 286.8 62.1 288.8 62.3 297.8 65.1 299.8 65.4 304.8 65.6 306.8 65.9 308.8 66.4 312.8 67.8 316.8 68.5 318.8 69.3 323.1 72.5 324.8 73.1 325.8 73.2 326.8 72.8 327.1 72.5 327.6 71.5 327.6 70.5 326.8 68.3 323.4 63.5 323 61.5 323.2 59.5 324.2 57.5 326.5 54.5 328.8 52.4 331.8 50.3 333.8 49.2 336.8 48.2 340.8 47.2 344.8 46.5 349.8 46.1 367.8 45.6 370.8 45.2 374.8 44 380.8 41.5 384.4 39.5 387.3 37.5ZM425.8 36.5L455 36.5 458.5 37.5 469.8 39.1 477.8 39.9 484.8 40.2 492.8 39.9 499.8 39.1 503.1 38.5 505.8 37.6 507 36.5 517.1 36.5 516.3 37.5 514.4 38.5 511.2 39.5 507.8 40.3 501.8 41.2 482.8 43.5 481.9 44.5 483.8 46 488.8 50.6 490.4 52.5 490.9 53.5 491 54.5 490.8 55.5 490.2 56.5 489.2 57.5 487.9 58.5 486.1 59.5 481.8 61.1 477.8 62.2 465.8 64 461.8 64.8 457.8 66 451.7 68.5 447.8 69.8 443.8 70.7 440.8 71 438.8 70.9 436.8 70.5 434.9 69.5 434.4 68.5 434.4 67.5 434.8 66.5 435.8 65.4 437.8 64 439.8 63 448.4 59.5 451.3 57.5 453.7 54.5 454.8 52.5 455 51.5 454.6 50.5 453 48.5 454.4 47.5 458.1 46.5 473.7 43.5 472.5 42.5 468.4 41.5 462.6 40.5 451.8 39.1 432.3 37.5 424.8 36.5ZM465.9 48.5L463.8 49.3 461.8 50.7 458.8 53.6 454.8 58.3 452.8 59.9 449.8 61.3 443.8 63.3 440.8 64.5 439 65.5 437.9 66.5 437.4 67.5 437.7 68.5 439.7 69.5 442.8 69.6 445.8 69.1 448.1 68.5 450.8 67.5 455.8 65.2 458.8 64.1 462.8 63.1 473.8 61.6 477.8 60.9 482.2 59.5 484.3 58.5 485.7 57.5 486.6 56.5 487 55.5 487.1 54.5 486.6 53.5 485.8 52.5 484.8 51.7 481.8 50 478.8 48.9 474.8 48 470.8 47.8 466.8 48.3ZM517.8 76.4L520.8 76.1 522.8 76.4 523.8 76.8 525.1 77.5 526.2 78.5 527 79.5 528 81.5 528.2 82.5 528.2 84.5 527.8 86 527.1 87.5 526.3 88.5 524.8 89.9 523.8 90.6 521.8 91.4 519.8 91.8 517.8 91.8 514.8 91 512.8 89.8 511.8 88.8 510.9 87.5 510.5 86.5 510.2 85.5 510.3 83.5 510.8 82.2 511.8 80.5 512.8 79.4 514.8 77.8 517.6 76.5ZM516.6 78.5L515 79.5 513.9 80.5 512.6 82.5 512.3 84.5 512.9 86.5 513.6 87.5 514.7 88.5 516.8 89.5 517.8 89.7 519.8 89.7 521.8 89.2 523.2 88.5 524.4 87.5 525.7 85.5 526 83.5 525.7 81.5 525.1 80.5 524.3 79.5 522.9 78.5 521.8 78.1 519.8 77.8 518.8 77.9 516.8 78.4ZM336.8 86.4L340.8 86.4 348.8 87.5 357.8 89.3 360.9 90.5 361.7 91.5 360.8 92.5 357.9 93.5 352.9 94.5 349.8 94.9 344.8 95.3 339.8 95.1 335.6 94.5 332.8 93.6 331.8 93.1 330.9 92.5 330.1 91.5 329.8 90.5 329.9 89.5 330.6 88.5 332.1 87.5 333.8 86.9 336.3 86.5ZM338.3 89.5L336.9 90.5 336.9 91.5 338.2 92.5 340.8 93.2 342.8 93.6 344.8 93.5 348.8 93 350.7 92.5 351.8 91.5 350.9 90.5 347.8 89.5 341.8 88.9 340.8 88.9 338.8 89.3ZM415.8 99.4L419.8 99.1 424.8 99.2 438.8 100.5 445.8 100.9 453.8 100.7 473.8 99.3 479.8 99.4 483.8 99.9 486.6 100.5 489.1 101.5 490.3 102.5 490.6 103.5 490.2 104.5 489.1 105.5 487.8 106.2 484.7 107.5 480.8 108.5 474.8 109.5 465.8 110.2 455.8 110.1 448.9 109.5 433.8 107.7 418.8 106.9 413.8 106.3 410.4 105.5 408.4 104.5 407.6 103.5 407.7 102.5 408.7 101.5 410.8 100.5 415.2 99.5ZM415.7 101.5L413.8 102.5 413.8 103.5 415.8 104.5 416.8 104.7 421.8 105.3 434.8 106 453.6 108.5 460.8 108.9 466.8 108.8 471.8 108.5 477.8 107.5 481.3 106.5 483.5 105.5 484.7 104.5 485 103.5 484.2 102.5 481.9 101.5 477.8 100.8 473.8 100.5 469.8 100.6 451.8 101.9 443.8 102.2 436.8 102.1 422.8 100.8 418.8 101 415.8 101.5ZM263.8 100.4L264.8 99.8 265.8 99.6 266.8 100 267.4 100.5 266.8 101.5 265.8 101.7 264.8 101.7 264.3 101.5 263.7 100.5Z" fill="#e1b987" stroke="#e1b987" stroke-width="0.5" fill-rule="evenodd"/>
<path d="M173.8 36.5L184.5 36.5 184.3 41.5 184.8 48.5 184.9 70.5 185.3 74.5 185.8 75.6 189.8 76.1 193.8 76.3 197.8 76 205.8 74.8 218.8 74.1 224.8 73.4 228.2 72.5 233.8 70.5 242.8 66 249.8 62.9 252.8 62.1 260.8 61 266.8 60.7 275.8 61.2 287.8 61.3 290.8 61.9 295.8 63.6 298.8 64.3 305.8 64.5 313.8 66 316.8 65.8 317.8 65.5 319 64.5 319.5 63.5 320.9 58.5 322 56.5 323.8 54.2 326.8 50.9 328.8 49.1 331.8 47 333.8 46 339.8 44.1 345.8 43 349.8 42.7 368.8 42.1 372.8 41.1 379.4 38.5 381.2 37.5 382.1 36.5 388.1 36.5 387.3 37.5 385.9 38.5 381.8 41 375.8 43.6 371.8 44.9 367.8 45.6 349.8 46.1 344.8 46.5 340.8 47.2 336.8 48.2 333.8 49.2 331.8 50.3 328.8 52.4 326.5 54.5 324.2 57.5 323.2 59.5 323 61.5 323.4 63.5 326.8 68.3 327.6 70.5 327.6 71.5 327.1 72.5 326.8 72.8 325.8 73.2 324.8 73.1 323.1 72.5 318.8 69.3 316.8 68.5 312.8 67.8 308.8 66.4 306.8 65.9 304.8 65.6 299.8 65.4 297.8 65.1 288.8 62.3 286.8 62.1 274.8 62.1 264.8 61.7 257.8 62.3 252.8 63 250.8 63.5 247.8 64.6 241.8 67.3 233.8 71.4 228 73.5 224.8 74.4 218.8 75.1 205.8 75.8 196.8 77.2 191.8 77.5 185.8 77.2 184.9 76.5 184.5 75.5 184.4 72.5 184.4 49.5 184.2 47.5 183.8 44.9 180.8 44.5 177.8 43.7 172.8 43.6 172.8 36.5ZM455.8 36.5L476.6 36.5 480.8 37.3 484.8 37.5 487.8 37.4 491.8 36.5 507 36.5 505.8 37.6 503.1 38.5 499.8 39.1 492.8 39.9 484.8 40.2 477.8 39.9 469.8 39.1 458.5 37.5 455 36.5ZM466.8 48.3L470.8 47.8 474.8 48 478.8 48.9 481.8 50 484.8 51.7 485.8 52.5 486.6 53.5 487.1 54.5 487 55.5 486.6 56.5 485.7 57.5 484.3 58.5 482.2 59.5 477.8 60.9 473.8 61.6 462.8 63.1 458.8 64.1 455.8 65.2 450.8 67.5 448.1 68.5 445.8 69.1 442.8 69.6 439.7 69.5 437.7 68.5 437.4 67.5 437.9 66.5 439 65.5 440.8 64.5 443.8 63.3 449.8 61.3 452.8 59.9 454.8 58.3 458.8 53.6 461.8 50.7 463.8 49.3 465.9 48.5ZM468 51.5L465.8 52.3 463.8 53.3 461.1 55.5 460.3 56.5 459.1 58.5 458.7 59.5 458.6 60.5 458.8 60.7 459.8 61.1 460.8 61.3 465.8 61.1 472.3 60.5 477.2 59.5 480 58.5 481.7 57.5 482.7 56.5 483.1 55.5 482.9 54.5 482.1 53.5 479.8 52.2 477.8 51.5 475.8 51.1 471.8 50.9 468.8 51.3ZM447.3 64.5L443.8 65.5 442.4 66.5 442.9 67.5 444.8 67.5 448.1 66.5 449.7 65.5 449.9 64.5 447.8 64.4ZM516.8 78.4L518.8 77.9 519.8 77.8 521.8 78.1 522.9 78.5 524.3 79.5 525.1 80.5 525.7 81.5 526 83.5 525.7 85.5 524.4 87.5 523.2 88.5 521.8 89.2 519.8 89.7 517.8 89.7 516.8 89.5 514.7 88.5 513.6 87.5 512.9 86.5 512.3 84.5 512.6 82.5 513.9 80.5 515 79.5 516.6 78.5ZM517.1 80.5L515.8 81.5 515.1 82.5 514.8 83.5 514.9 84.5 515.3 85.5 516.2 86.5 517.8 87.3 518.8 87.4 520.8 87.1 521.8 86.5 522.8 85.5 523.3 84.5 523.4 83.5 523.2 82.5 522.7 81.5 521.8 80.6 520.8 80.2 519.8 80 517.8 80.2ZM176.8 80.4L179.8 80.6 181.8 81.4 182.8 82.1 183.8 84 184 87.5 183.8 90.7 182.8 91.7 179.8 92.6 175.8 92.6 172.8 92 172.8 90.7 174.4 91.5 175.8 91.8 177.8 91.9 179.8 91.7 180.8 91.4 182.5 90.5 183.1 89.5 183.3 87.5 182.8 85.7 181.7 84.5 179.8 83.4 177.8 83 175.8 83.2 173.8 84.1 172.8 85 172.8 81.6 174.8 80.7 176.2 80.5ZM338.8 89.3L340.8 88.9 341.8 88.9 347.8 89.5 350.9 90.5 351.8 91.5 350.7 92.5 348.8 93 344.8 93.5 342.8 93.6 340.8 93.2 338.2 92.5 336.9 91.5 336.9 90.5 338.3 89.5ZM415.8 101.5L418.8 101 422.8 100.8 436.8 102.1 443.8 102.2 451.8 101.9 469.8 100.6 473.8 100.5 477.8 100.8 481.9 101.5 484.2 102.5 485 103.5 484.7 104.5 483.5 105.5 481.3 106.5 477.8 107.5 471.8 108.5 466.8 108.8 460.8 108.9 453.6 108.5 434.8 106 421.8 105.3 416.8 104.7 415.8 104.5 413.8 103.5 413.8 102.5 415.7 101.5ZM461.7 102.5L452.9 103.5 448.8 104.4 448.4 104.5 448.8 105.5 452.7 106.5 457.8 107.1 462.8 107.3 467.8 107.2 473.2 106.5 476.6 105.5 478.1 104.5 477.9 103.5 475.4 102.5 472.8 102.2 467.8 102.1 461.8 102.5Z" fill="#f0c346" stroke="#f0c346" stroke-width="0.5" fill-rule="evenodd"/>
<path d="M184.8 36.5L189.6 36.5 185.8 39.9 185.5 41.5 185.4 62.5 185.6 69.5 185.8 72.4 187.9 73.5 189.8 74.1 191.8 74.5 194.8 74.8 198.8 74.5 205.8 73.6 219.8 72.9 224.8 72.3 227.9 71.5 233.8 69.4 242.8 65 249.8 61.9 252.8 61 260.8 59.8 266.8 59.6 275.8 60.1 287.8 60.3 290.8 60.9 295.9 62.5 298.8 63.1 304.8 63 312.8 63.5 313.8 63.4 314.8 63.1 315.8 62.6 316.8 61.4 319.8 55.2 325.4 46.5 326.8 43.5 327 41.5 326.7 40.5 326.1 39.5 324.9 38.5 321.6 36.5 356.7 36.5 360.1 37.5 367.8 38.2 370.8 37.7 372.8 36.5 382.1 36.5 381.2 37.5 379.4 38.5 373.8 40.8 369.8 41.9 366.8 42.3 349.8 42.7 345.8 43 339.8 44.1 333.8 46 331.8 47 328.8 49.1 326.8 50.9 323.8 54.2 322 56.5 320.9 58.5 319.5 63.5 319 64.5 317.8 65.5 316.8 65.8 313.8 66 305.8 64.5 298.8 64.3 295.8 63.6 290.8 61.9 287.8 61.3 275.8 61.2 266.8 60.7 260.8 61 252.8 62.1 249.8 62.9 242.8 66 233.8 70.5 228.2 72.5 224.8 73.4 218.8 74.1 205.8 74.8 197.8 76 193.8 76.3 189.8 76.1 185.8 75.6 185.3 74.5 184.9 70.5 184.8 48.5 184.3 41.5 184.5 36.5ZM476.8 36.5L491.8 36.5 487.8 37.4 484.8 37.5 480.8 37.3 476.6 36.5ZM468.8 51.3L471.8 50.9 475.8 51.1 477.8 51.5 479.8 52.2 482.1 53.5 482.9 54.5 483.1 55.5 482.7 56.5 481.7 57.5 480 58.5 477.2 59.5 472.3 60.5 465.8 61.1 460.8 61.3 459.8 61.1 458.8 60.7 458.6 60.5 458.7 59.5 459.1 58.5 460.3 56.5 461.1 55.5 463.8 53.3 465.8 52.3 468 51.5ZM471.3 53.5L468.8 54 466.8 54.9 465.9 55.5 465 56.5 464.7 57.5 465.8 58.6 467.8 58.9 470.8 58.8 473.3 58.5 476.4 57.5 477.7 56.5 478 55.5 477.3 54.5 475.8 53.8 473.8 53.5 471.8 53.4ZM447.8 64.4L449.9 64.5 449.7 65.5 448.1 66.5 444.8 67.5 442.9 67.5 442.4 66.5 443.8 65.5 447.3 64.5ZM517.8 80.2L519.8 80 520.8 80.2 521.8 80.6 522.7 81.5 523.2 82.5 523.4 83.5 523.3 84.5 522.8 85.5 521.8 86.5 520.8 87.1 518.8 87.4 517.8 87.3 516.2 86.5 515.3 85.5 514.9 84.5 514.8 83.5 515.1 82.5 515.8 81.5 517.1 80.5ZM175.8 83.2L177.8 83 179.8 83.4 181.7 84.5 182.8 85.7 183.3 87.5 183.1 89.5 182.5 90.5 180.6 91.5 177.8 91.9 175.8 91.8 174.4 91.5 172.8 90.7 172.8 85 173.8 84.1 174.9 83.5ZM175.3 85.5L174 86.5 173.4 87.5 173.4 88.5 173.8 89.5 175.1 90.5 176.8 90.9 178.8 90.8 179.9 90.5 181.2 89.5 181.6 88.5 181.6 87.5 181 86.5 179.8 85.5 178.8 85.1 176.8 85 175.8 85.2ZM461.8 102.5L467.8 102.1 472.8 102.2 475.4 102.5 477.9 103.5 478.1 104.5 476.6 105.5 473.2 106.5 467.8 107.2 462.8 107.3 457.8 107.1 452.7 106.5 448.8 105.5 448.4 104.5 448.8 104.4 452.9 103.5 461.7 102.5Z" fill="#ffe100" stroke="#ffe100" stroke-width="0.5" fill-rule="evenodd"/>
<path d="M188.8 37.2L189.6 36.5 211.8 36.5 203.8 37.4 195.8 38.8 194.3 39.5 192.8 40.6 191.8 41.6 190.6 43.5 189.6 46.5 187.8 55.5 187.5 59.5 187.8 62.5 188.8 66.5 190.2 69.5 191.1 70.5 192.5 71.5 194.8 72.3 197.8 72.5 205.8 72 217.8 71.7 222.8 71.2 225.8 70.7 230 69.5 234.8 67.7 241.8 64.2 250.8 60.1 254.8 59 260.8 58.1 266.8 57.8 274.8 58.5 287.8 59 289.8 59.3 296.8 61.2 298.8 61.6 300.8 61.6 305.8 61.1 309.4 60.5 312.8 59.3 313.8 58.5 314.8 57.3 316.4 54.5 317.6 51.5 318.4 48.5 318.6 46.5 318.2 44.5 317.7 43.5 316.2 41.5 313.6 39.5 309.1 36.5 321.6 36.5 323.8 37.8 325.8 39.3 326.7 40.5 327 41.5 326.8 43.5 325.9 45.5 320.2 54.5 316.8 61.4 315.9 62.5 314.8 63.1 312.8 63.5 305.8 63.1 299.8 63.2 296.8 62.7 290.8 60.9 287.8 60.3 275.8 60.1 266.8 59.6 260.8 59.8 252.8 61 249.8 61.9 242.8 65 233.8 69.4 227.9 71.5 224.8 72.3 218.8 73 204.8 73.7 196.8 74.7 193.8 74.7 191.6 74.5 188.8 73.8 186.8 73 185.8 72.4 185.7 71.5 185.4 62.5 185.5 42.5 185.8 39.9 188.5 37.5ZM356.8 36.5L372.8 36.5 370.8 37.7 367.8 38.2 360.1 37.5 356.7 36.5ZM471.8 53.4L473.8 53.5 475.8 53.8 477.3 54.5 478 55.5 477.7 56.5 476.4 57.5 473.3 58.5 470.8 58.8 467.8 58.9 465.8 58.6 464.7 57.5 465 56.5 465.9 55.5 466.8 54.9 468.8 54 471.3 53.5ZM175.8 85.2L176.8 85 178.8 85.1 179.8 85.5 181 86.5 181.6 87.5 181.6 88.5 181.2 89.5 179.9 90.5 178.8 90.8 176.8 90.9 175.1 90.5 173.8 89.5 173.4 88.5 173.4 87.5 174 86.5 175.3 85.5ZM176.7 87.5L176.3 88.5 176.8 88.9 177.8 89 178.7 88.5 178.2 87.5 177.8 87.4 176.8 87.5Z" fill="#ffc300" stroke="#ffc300" stroke-width="0.5" fill-rule="evenodd"/>
<path d="M203.8 37.4L211.8 36.5 309.1 36.5 315 40.5 317.1 42.5 318.2 44.5 318.4 45.5 318.5 47.5 318.2 49.5 317.3 52.5 315.8 55.7 314.6 57.5 313.8 58.5 312.4 59.5 307.8 60.9 301.8 61.5 298.8 61.6 296.8 61.2 289.8 59.3 287.8 59 274.8 58.5 266.8 57.8 260.8 58.1 254.8 59 250.8 60.1 241.8 64.2 234.8 67.7 230 69.5 225.8 70.7 222.8 71.2 217.8 71.7 205.8 72 197.8 72.5 194.8 72.3 192.5 71.5 191.1 70.5 190.2 69.5 188.8 66.5 187.9 63.5 187.6 60.5 187.7 56.5 189.6 46.5 190.2 44.5 191.2 42.5 192.8 40.6 193.8 39.8 195.8 38.8 203 37.5ZM288.1 38.5L281.8 39.5 268.8 42.1 261.8 42.9 255.8 42.9 235.8 41.5 224.8 41.2 218.8 41.4 214.8 41.7 210.8 42.2 206.8 43.1 203 44.5 199.8 46.3 196.8 48.7 195.8 49.7 194.8 51 193.2 54.5 192.6 57.5 192.5 59.5 192.8 61.5 193.8 64.5 194.8 65.9 195.8 66.8 196.8 67.4 199.5 68.5 201.8 69 206.8 69.5 213.8 69.8 218.8 69.7 223.8 69.2 228.8 68.1 234.8 66.1 243.9 61.5 250.8 57.6 254.8 55.9 257.8 54.9 260.8 54.1 263.8 53.8 267.8 54 277.8 56.1 288.8 57.4 296.8 59.2 298.8 59.4 300.8 59.4 304.8 58.6 306.8 57.8 308.8 56.5 310.7 54.5 311.8 52.5 312.6 49.5 312.6 47.5 312.3 46.5 311.5 44.5 309.9 42.5 307.8 40.6 305.8 39.3 302.8 38.1 300.8 37.7 297.8 37.7 288.8 38.4ZM176.8 87.5L177.8 87.4 178.2 87.5 178.7 88.5 177.8 89 176.8 88.9 176.3 88.5 176.7 87.5Z" fill="#ffa500" stroke="#ffa500" stroke-width="0.5" fill-rule="evenodd"/>
<path d="M288.8 38.4L297.8 37.7 300.8 37.7 302.8 38.1 305.8 39.3 307.8 40.6 309.9 42.5 311.5 44.5 312.3 46.5 312.6 47.5 312.6 49.5 311.8 52.5 310.7 54.5 308.8 56.5 306.8 57.8 304.8 58.6 300.8 59.4 298.8 59.4 296.8 59.2 288.8 57.4 277.8 56.1 267.8 54 263.8 53.8 260.8 54.1 257.8 54.9 254.8 55.9 250.8 57.6 243.9 61.5 234.8 66.1 228.8 68.1 223.8 69.2 218.8 69.7 213.8 69.8 206.8 69.5 201.8 69 199.5 68.5 196.8 67.4 195.8 66.8 194.8 65.9 193.8 64.5 192.8 61.5 192.5 59.5 192.6 57.5 193.2 54.5 194.8 51 195.8 49.7 196.8 48.7 199.8 46.3 203 44.5 206.8 43.1 210.8 42.2 214.8 41.7 218.8 41.4 224.8 41.2 235.8 41.5 255.8 42.9 261.8 42.9 268.8 42.1 281.8 39.5 288.1 38.5ZM295.5 41.5L291.8 41.9 288.6 42.5 285.5 43.5 283.5 44.5 282.1 45.5 281.2 46.5 280.7 47.5 280.5 48.5 280.6 49.5 281 50.5 281.8 51.5 283.1 52.5 285.1 53.5 293.8 55.9 296.8 56.3 298.8 56.4 300.8 56.2 302.8 55.6 304.8 54.5 305.8 53.6 306.8 52.1 307.5 50.5 307.7 48.5 307.6 47.5 306.8 45.6 306 44.5 304.8 43.4 303.4 42.5 300.8 41.6 295.8 41.5ZM215.1 46.5L211.8 47.3 207.8 48.7 204.4 50.5 201.6 52.5 199.8 54.5 199.2 55.5 198.4 57.5 198.4 59.5 199.2 61.5 200.8 63.3 202.8 64.7 205.8 65.9 208.8 66.7 212.8 67.2 216.8 67.4 221.8 67.1 225.8 66.6 229.8 65.6 233.8 64.3 237.6 62.5 240.9 60.5 243.5 58.5 245.4 56.5 246.3 54.5 246.3 53.5 246.1 52.5 245.6 51.5 244.7 50.5 242.8 49.1 239.8 47.8 235.8 46.6 230.8 45.9 225.8 45.6 219.8 45.8 215.8 46.4Z" fill="#ff7d00" stroke="#ff7d00" stroke-width="0.5" fill-rule="evenodd"/>
<path d="M295.8 41.5L300.8 41.6 303.4 42.5 304.8 43.4 306 44.5 306.8 45.6 307.6 47.5 307.7 48.5 307.5 50.5 306.8 52.1 305.8 53.6 304.8 54.5 302.8 55.6 300.8 56.2 298.8 56.4 296.8 56.3 293.8 55.9 285.1 53.5 283.1 52.5 281.8 51.5 281 50.5 280.6 49.5 280.5 48.5 280.7 47.5 281.2 46.5 282.1 45.5 283.5 44.5 285.5 43.5 288.6 42.5 291.8 41.9 295.5 41.5ZM293.6 47.5L292.7 48.5 292.9 49.5 294.1 50.5 296.8 51.1 298.8 50.9 300.1 50.5 301 49.5 301.1 48.5 300.4 47.5 299.8 47.2 298.8 46.9 296.8 46.7 294.8 47 293.8 47.4ZM215.8 46.4L219.8 45.8 225.8 45.6 230.8 45.9 235.8 46.6 239.8 47.8 242.8 49.1 244.7 50.5 245.6 51.5 246.1 52.5 246.3 53.5 246.3 54.5 245.4 56.5 243.5 58.5 240.9 60.5 237.6 62.5 233.8 64.3 229.8 65.6 225.8 66.6 221.8 67.1 216.8 67.4 212.8 67.2 208.8 66.7 205.8 65.9 202.8 64.7 200.8 63.3 199.2 61.5 198.4 59.5 198.4 57.5 199.2 55.5 199.8 54.5 201.6 52.5 204.4 50.5 207.8 48.7 211.8 47.3 215.1 46.5ZM216.6 49.5L213.8 50.2 210.2 51.5 207.8 52.8 205.8 54.4 204.9 55.5 204 57.5 204 58.5 204.2 59.5 204.8 60.5 205.8 61.6 207.8 62.9 209.8 63.7 212.8 64.4 215.8 64.8 218.8 64.8 222.8 64.6 225.8 64.1 228.8 63.3 231.8 62.3 234.8 60.8 236.8 59.5 237.8 58.5 238.6 57.5 239.1 56.5 239.3 55.5 239.2 54.5 238.7 53.5 237.8 52.4 235.8 51.1 233.8 50.3 230.8 49.5 227.8 49 223.8 48.8 219.8 49 216.8 49.5Z" fill="#ff6e00" stroke="#ff6e00" stroke-width="0.5" fill-rule="evenodd"/>
<path d="M293.8 47.4L294.8 47 296.8 46.7 298.8 46.9 299.8 47.2 300.4 47.5 301.1 48.5 301 49.5 300.1 50.5 298.8 50.9 296.8 51.1 294.1 50.5 292.9 49.5 292.7 48.5 293.6 47.5ZM216.8 49.5L219.8 49 223.8 48.8 227.8 49 230.8 49.5 233.8 50.3 235.8 51.1 237.8 52.4 238.7 53.5 239.2 54.5 239.3 55.5 239.1 56.5 238.6 57.5 237.8 58.5 236.8 59.5 234.8 60.8 231.8 62.3 228.8 63.3 225.8 64.1 222.8 64.6 218.8 64.8 215.8 64.8 212.8 64.4 209.8 63.7 207.8 62.9 205.8 61.6 204.8 60.5 204.2 59.5 204 58.5 204 57.5 204.9 55.5 205.8 54.4 207.8 52.8 210.2 51.5 213.8 50.2 216.6 49.5ZM216 52.5L213.3 53.5 211.8 54.4 210.5 55.5 209.7 56.5 209.4 57.5 209.5 58.5 210.1 59.5 210.8 60.2 211.8 60.8 213.4 61.5 216.8 62.2 220.8 62.2 225.8 61.4 228.8 60.4 230.6 59.5 231.9 58.5 232.7 57.5 233.2 56.5 233.1 55.5 232.6 54.5 231.5 53.5 229.8 52.6 227.8 52.1 225.8 51.7 220.8 51.7 216.8 52.3Z" fill="#ff5505" stroke="#ff5505" stroke-width="0.5" fill-rule="evenodd"/>
<path d="M216.8 52.3L220.8 51.7 225.8 51.7 227.8 52.1 229.8 52.6 231.5 53.5 232.6 54.5 233.1 55.5 233.2 56.5 232.7 57.5 231.9 58.5 230.6 59.5 228.8 60.4 225.8 61.4 220.8 62.2 216.8 62.2 213.4 61.5 211.8 60.8 210.8 60.2 210.1 59.5 209.5 58.5 209.4 57.5 209.7 56.5 210.5 55.5 211.8 54.4 213.3 53.5 216 52.5ZM219.4 55.5L217.5 56.5 217.1 57.5 217.8 58.1 218.8 58.6 220.8 58.7 222.4 58.5 224.6 57.5 225 56.5 223.8 55.5 221.8 55.2 219.8 55.4Z" fill="#fa410a" stroke="#fa410a" stroke-width="0.5" fill-rule="evenodd"/>
<path d="M219.8 55.4L221.8 55.2 223.8 55.5 225 56.5 224.6 57.5 222.4 58.5 220.8 58.7 218.8 58.6 217.8 58.1 217.1 57.5 217.5 56.5 219.4 55.5Z" fill="#eb3714" stroke="#eb3714" stroke-width="0.5" fill-rule="evenodd"/>
<path d="M258.4 87.4 253.9 94.2 249.9 97.0 245.4 104.4 245.9 110.1 245.0 111.5 247.6 115.7 249.9 118.0 253.3 121.4 256.2 123.2 260.1 122.3 265.8 121.4 269.8 121.1 272.6 123.2 274.9 123.7 275.5 127.1 274.9 129.3 277.2 132.7 278.6 135.0 279.8 138.4 280.0 140.7M310.1 140.7 309.3 135.6 309.0 133.5 311.2 130.5 313.5 127.6 316.9 125.4 319.8 122.5 322.4 116.9 322.8 114.6 318.1 115.5 314.7 116.3 313.7 114.9 313.9 113.7 311.2 111.2 309.3 110.1 308.4 107.2 306.9 104.4 305.0 101.0 303.3 97.6 301.6 94.2 301.0 92.7 297.6 93.0 293.1 92.1 287.4 91.3 286.3 93.6 282.3 91.3 276.6 90.2 276.0 86.2 268.1 86.5 262.4 88.3 258.4 87.4M301.6 94.2 304.4 96.4 306.7 99.8 309.0 104.4 312.4 109.5 313.5 113.8 315.8 113.5 319.2 112.3 323.7 109.5 327.2 108.4 330.0 106.7 332.3 102.7 329.4 101.0 328.6 98.1 326.0 100.8 323.2 100.4 322.9 98.7 321.5 98.1 319.8 94.7 321.5 94.2 323.7 97.0 326.6 98.0 328.9 97.6 330.0 99.3 334.0 99.6 340.2 99.5 341.4 101.0 342.5 101.6 343.1 102.9 344.8 104.6 347.0 103.8 347.4 106.7 348.2 110.1 349.3 113.5 351.0 116.9 352.7 119.1 353.8 118.0 355.3 116.5 355.8 112.9 355.9 110.6 358.2 109.3 361.2 106.1 363.5 103.8 365.8 103.3 368.0 102.7 369.2 104.4 371.5 107.8 372.0 110.1 373.7 109.5 375.4 109.1 376.0 113.5 376.6 116.9 376.3 119.1 378.6 121.4 380.0 124.8 382.2 126.5 383.0 125.9 382.1 123.1 380.5 121.1 378.8 119.1 378.3 114.6 378.8 112.9 380.5 114.0 381.7 115.7 383.9 118.0 386.0 116.3 388.5 114.6 388.8 112.3 387.4 109.5 385.7 107.2 385.1 105.5 387.4 103.8 389.6 104.0 390.2 105.2 393.6 102.7 397.0 102.1 399.9 99.3 402.7 95.9 403.3 93.6 402.1 91.9 400.4 89.1 401.6 86.8 403.8 86.2 399.9 85.7 398.7 84.0 402.7 82.3 403.3 84.0 406.7 82.8 408.4 85.7 408.1 89.1 411.2 88.2 411.8 86.2 410.1 83.4 412.9 80.0 418.6 78.9 424.3 73.2 424.8 68.1 418.6 66.2 427.1 61.0 440.7 60.7 451.0 57.9 441.9 61.3 441.3 64.1 442.4 70.4 448.7 64.7 449.8 60.7 457.8 60.2 468.0 57.3 466.9 55.1 471.4 54.7 477.1 55.3 480.5 52.8 469.1 50.0 457.8 49.4 446.4 48.8 435.1 47.1 423.7 46.0 413.5 47.7 408.9 46.0 393.0 44.3 382.8 40.3 376.0 42.0 363.5 43.1 355.6 45.4 346.5 46.0 340.8 47.7 341.9 50.5 332.8 50.0 324.9 50.5 314.7 50.7 314.7 52.8 310.1 54.5 306.7 55.6 303.3 52.8 310.1 53.4 311.2 51.1 298.8 48.8 293.1 47.7 286.3 48.8 280.6 51.1 276.0 55.6 270.4 58.5 272.6 62.4 277.2 61.3 279.4 65.3 283.4 64.1 285.7 60.2 284.6 57.9 289.7 53.7 293.1 53.9 289.1 56.8 290.8 60.2 297.6 60.2 291.9 61.0 288.5 63.6 286.3 66.4 280.6 67.0 276.0 66.4 276.6 63.0 274.3 63.6 273.8 67.0 269.2 69.2 266.9 70.4 263.0 73.0 259.6 73.2 263.5 76.0 263.0 78.9 254.1 79.4 254.5 86.2 258.4 87.4 262.4 86.6 264.7 84.3 268.1 80.8 271.5 79.2 274.9 78.0 278.9 81.1 282.5 82.8 282.9 85.1 284.0 83.4 285.7 82.6 280.0 78.9 278.6 76.8 280.2 76.5 286.8 81.1 288.5 85.1 290.8 86.8 291.9 85.1 290.8 82.5 294.2 81.9 295.3 86.2 299.3 86.8 305.6 86.8 305.0 90.8 303.6 92.7 301.0 92.7M297.6 81.5 302.2 80.6 307.8 81.7 311.8 81.1 309.0 78.3 306.7 76.8 302.7 77.7 302.2 76.0 299.3 76.0 297.0 78.9 297.6 81.5M320.3 85.7 326.0 86.2 324.9 82.8 324.9 80.6 323.2 77.2 318.1 76.6 318.6 79.4 320.9 82.3 320.3 85.7M355.6 117.4 357.6 119.7 356.2 121.4 355.3 119.7 355.6 117.4M412.3 92.5 413.5 89.6 415.8 89.1 418.6 88.9 420.3 88.9 422.6 88.5 424.6 87.4 424.8 84.5 425.4 82.3 423.7 82.3 423.1 85.1 420.3 86.2 419.2 87.4 415.8 87.9 413.5 89.1 412.3 90.2 412.3 92.5M424.0 81.1 425.4 79.4 425.8 76.8 429.4 78.3 430.0 79.4 427.1 80.6 424.0 81.1M426.0 76.0 427.7 72.6 426.5 67.0 427.1 71.5 426.0 76.0M402.1 99.8 403.3 100.4 401.9 103.3 401.2 101.6 402.1 99.8M401.6 107.2 403.5 107.4 403.3 110.1 405.5 113.5 404.4 112.6 402.1 112.3 401.0 110.1 401.6 107.2M403.3 120.3 405.5 118.6 408.4 118.0 408.1 120.8 407.2 121.4 405.5 120.3 403.3 120.3M372.9 122.0 376.0 123.7 378.8 125.9 382.2 128.2 383.4 131.0 385.1 131.6 384.9 134.8 383.4 134.8 380.5 132.7 378.8 129.3 376.8 126.3 374.3 124.0 372.9 122.0M384.3 135.9 387.4 135.6 390.5 135.6 393.0 136.1 394.7 137.0 394.5 138.0 389.6 137.3 385.7 136.6 384.3 135.9M388.5 126.5 391.3 125.9 393.0 124.6 395.9 122.5 397.6 120.3 399.9 122.3 398.5 124.8 398.7 127.1 398.1 128.8 397.0 130.5 396.4 132.7 394.7 132.7 393.0 131.9 391.3 131.9 389.6 129.9 388.5 127.9 388.5 126.5M400.8 127.6 401.6 126.8 404.4 127.1 406.7 126.5 405.0 127.7 401.9 127.7 402.7 129.3 404.7 129.3 403.0 130.5 403.8 131.9 404.2 133.6 402.7 133.6 402.1 131.6 401.3 131.6 401.4 134.4 400.4 134.4 400.4 132.2 399.6 131.3 400.8 127.6M413.5 129.1 416.9 129.1 418.0 131.9 421.4 130.1 424.8 131.1 429.4 133.1 432.6 135.0 431.1 136.1 432.2 138.4 435.6 140.1 431.7 140.1 427.1 138.4 424.8 138.6 422.6 137.3 421.4 137.6 420.9 134.1 418.0 133.2 415.8 132.7 414.6 131.4 413.5 129.1M388.2 105.6 390.5 105.5 390.0 107.3 388.3 107.1 388.2 105.6M259.0 71.5 266.4 70.0 264.7 68.1 262.4 64.7 261.3 61.9 258.4 62.4 259.0 66.4 261.3 67.5 259.2 69.2 259.0 71.5M253.3 69.2 257.9 69.0 257.9 65.8 255.6 65.6 253.3 67.0 253.3 69.2M237.4 53.9 239.7 55.6 243.1 56.2 248.8 55.1 248.2 53.4 244.2 53.0 239.7 53.0 237.4 53.9M244.2 36.3 242.0 43.1 239.7 48.8 227.2 51.1 219.2 53.9 215.8 54.5 213.6 60.2 207.9 57.9 204.5 54.5 206.7 51.1 203.3 47.7 198.8 42.6 187.4 42.0 181.8 39.7 190.8 36.3M172.7 99.8 173.8 99.3 173.2 96.4 172.3 93.6 173.2 91.9 175.5 89.6 178.3 88.5 178.3 85.1 180.6 82.8 184.0 81.1 185.2 78.9 188.6 77.4 189.7 78.3 192.0 77.2 195.4 76.6 196.5 74.9 191.4 74.3 189.7 72.6 196.5 71.5 199.9 69.2 201.3 68.1 196.5 65.3 194.2 62.4 191.4 59.8 185.2 61.3 185.7 59.0 182.9 58.2 176.1 57.3 172.7 60.2M172.7 45.4 182.9 47.1 188.6 51.1 194.2 52.8 189.7 57.3 181.8 55.1 176.1 50.0 172.7 48.8M197.1 74.0 201.1 74.9 204.5 74.9 203.9 72.1 201.1 69.8 197.1 74.0M172.7 127.1 177.2 123.7 176.6 119.1 178.9 116.3 182.9 114.6 183.5 116.3 187.4 115.7 194.2 116.3 196.5 118.6 199.9 121.4 205.6 122.5 207.9 128.2 210.2 129.3 214.7 131.0 219.2 131.6 222.6 133.9 224.9 136.1 223.8 140.7M172.7 102.1 177.2 104.4 180.0 105.5 176.1 102.7 172.7 102.1M180.0 105.7 182.9 105.7 186.9 107.2 184.0 108.0 180.0 107.2 180.0 105.7M480.5 52.8 482.8 53.4 487.3 52.8 489.6 55.1 485.0 56.8 486.2 60.2 489.6 61.3 494.1 63.6 498.7 60.7 502.1 59.6 506.6 60.2 514.6 60.7 519.1 63.0 523.7 66.4 528.2 70.4 532.2 73.2 532.8 76.0 532.2 79.4 532.8 82.8 535.0 86.2 538.4 89.6M482.8 52.8 485.0 50.2 495.3 47.7 505.5 48.6 513.4 49.4 525.9 49.4 538.4 50.0M323.7 47.7 328.3 44.9 335.1 42.0 341.9 40.9 332.8 43.1 327.2 46.6 323.7 47.7M277.2 38.0 282.9 40.9 289.7 39.7 295.3 37.5 285.1 36.9 277.2 38.0" fill="none" stroke="#6a6a6a" stroke-width="0.35" stroke-opacity="0.75" stroke-linejoin="round"/>
<path d="M184.7 37V140M196.2 37V140" stroke="#8a7f74" stroke-width="1" fill="none"/>
<path d="M193.8 36.5L322.3 36.5 322.3 59.5 321.3 60.5 321.3 63.5 322.3 64.5 322.3 69.5 321.8 70 319.8 68 318.8 68 317.8 67 311.8 67 310.8 66 308.8 66 307.8 65 297.8 65 296.8 64 294.8 64 293.8 63 291.8 63 290.8 62 271.8 62 270.8 61 261.8 61 260.8 62 253.8 62 252.8 63 249.8 63 248.8 64 247.8 64 246.8 65 245.8 65 244.8 66 242.8 66 241.8 67 240.8 67 239.8 68 238.8 68 236.8 70 234.8 70 233.8 71 232.8 71 231.8 72 229.8 72 228.8 73 226.8 73 225.8 74 220.8 74 219.8 75 204.8 75 203.8 76 198.8 76 197.8 77 193.8 77 193.3 76.5 193.3 36.5ZM484.8 71L494.8 71 497.3 73.5 497.3 74.5 496.3 75.5 496.3 76.5 490.8 82 489.8 82 488.8 83 487.8 83 486.8 84 485.8 84 484.8 85 483.8 85 482.8 86 480.8 86 479.8 87 477.8 87 476.8 88 467.8 88 466.8 87 465.8 87 465.3 86.5 465.3 83.5 466.3 82.5 466.3 81.5 469.8 78 470.8 78 472.8 76 473.8 76 474.8 75 475.8 75 476.8 74 477.8 74 478.8 73 480.8 73 481.8 72 483.8 72 484.3 71.5ZM370.8 74L376.8 74 377.8 75 378.8 75 381.3 77.5 381.3 78.5 378.8 81 377.8 81 376.8 82 370.8 82 369.8 81 368.8 81 367.8 82 366.8 82 365.8 81 363.8 81 362.8 80 360.8 80 359.8 79 358.8 79 358.3 78.5 358.8 78 365.8 78 366.3 77.5 366.3 76.5 367.8 75 369.8 75 370.3 74.5ZM515.8 77L520.8 77 522.3 78.5 522.3 79.5 523.3 80.5 523.3 85.5 522.3 86.5 522.3 87.5 520.8 89 515.8 89 513.3 86.5 513.3 85.5 512.3 84.5 512.3 81.5 513.3 80.5 513.3 79.5 515.3 77.5ZM236.8 78L309.8 78 311.3 79.5 311.3 80.5 312.3 81.5 312.3 86.5 313.3 87.5 313.3 91.5 314.3 92.5 314.3 93.5 315.3 94.5 315.3 95.5 317.8 98 318.8 98 320.8 100 321.8 100 322.8 101 323.8 101 324.8 102 327.8 102 328.8 103 362.8 103 363.8 104 366.8 104 368.3 105.5 368.3 115.5 368.8 116 395.8 116 396.3 116.5 396.3 118.5 395.8 119 296.8 119 295.8 118 291.8 118 290.8 117 286.8 117 285.8 116 239.8 116 238.8 117 223.8 117 222.8 118 208.8 118 207.8 119 172.8 119 172.8 98 181.8 98 182.8 97 183.8 97 185.3 95.5 185.3 87.5 185.8 87 186.8 87 187.8 86 193.8 86 194.8 85 199.8 85 200.8 84 205.8 84 206.8 83 225.8 83 226.8 82 229.8 82 230.8 81 231.8 81 232.8 80 234.8 80 236.3 78.5ZM267.3 91.5L266.8 92 260.8 92 259.8 93 257.8 93 256.8 94 254.8 94 252.8 96 251.8 96 250.3 97.5 250.3 98.5 249.3 99.5 249.3 100.5 248.3 101.5 248.3 103.5 249.3 104.5 249.3 105.5 250.3 106.5 250.3 107.5 251.8 109 252.8 109 254.8 111 255.8 111 256.8 112 257.8 112 258.8 113 260.8 113 261.8 114 264.8 114 265.8 115 271.8 115 272.8 114 275.8 114 276.8 113 278.8 113 279.8 112 280.8 112 281.8 111 282.8 111 288.3 105.5 288.3 99.5 283.8 95 282.8 95 281.8 94 280.8 94 279.8 93 277.8 93 276.8 92 269.8 92 268.8 91 267.8 91ZM466.8 98L476.8 98 477.8 99 478.8 99 480.3 100.5 480.3 103.5 478.8 105 477.8 105 476.8 106 466.8 106 463.3 102.5 463.3 101.5 466.3 98.5ZM414.8 101L416.8 101 418.3 102.5 416.8 104 414.8 104 414.3 103.5 414.3 101.5Z" fill="url(#dotsa)" fill-rule="evenodd"/>
<g stroke="#000" fill="#000" stroke-linecap="butt">
<path d="M181.3 56.5L185.9 56.5" stroke-width="1.25" fill="none"/><path d="M189.7 56.5L185.3 58.1L185.3 54.9Z" stroke="none"/>
<path d="M173.0 58.3L175.5 58.3" stroke-width="1.25" fill="none"/><path d="M178.8 58.3L174.9 59.8L174.9 56.9Z" stroke="none"/>
<path d="M188.8 62.5L195.0 62.2" stroke-width="1.29" fill="none"/><path d="M198.8 62.0L194.5 63.8L194.4 60.6Z" stroke="none"/>
<path d="M199.7 60.7L206.7 60.5" stroke-width="1.31" fill="none"/><path d="M210.5 60.3L206.2 62.1L206.1 58.8Z" stroke="none"/>
<path d="M179.7 65.0L182.6 65.0" stroke-width="1.25" fill="none"/><path d="M186.3 65.0L182.0 66.6L182.0 63.4Z" stroke="none"/>
<path d="M222.2 60.7L224.7 60.5" stroke-width="1.25" fill="none"/><path d="M228.0 60.3L224.2 62.0L224.0 59.1Z" stroke="none"/>
<path d="M230.5 53.7L233.4 54.0" stroke-width="1.25" fill="none"/><path d="M237.2 54.5L232.6 55.6L233.0 52.4Z" stroke="none"/>
<path d="M213.8 64.0L216.4 64.7" stroke-width="1.25" fill="none"/><path d="M219.7 65.7L215.4 66.0L216.2 63.1Z" stroke="none"/>
<path d="M229.7 63.7L234.4 65.4" stroke-width="1.25" fill="none"/><path d="M238.0 66.7L233.3 66.7L234.4 63.6Z" stroke="none"/>
<path d="M204.7 69.5L208.4 68.9" stroke-width="1.25" fill="none"/><path d="M212.2 68.3L208.1 70.6L207.6 67.4Z" stroke="none"/>
<path d="M240.5 57.8L242.5 60.6" stroke-width="1.25" fill="none"/><path d="M244.7 63.7L240.8 61.0L243.4 59.1Z" stroke="none"/>
<path d="M249.7 55.0L250.4 56.1" stroke-width="1.25" fill="none"/><path d="M251.7 57.8L249.3 56.2L250.9 55.0Z" stroke="none"/>
<path d="M223.0 70.0L224.7 71.0" stroke-width="1.25" fill="none"/><path d="M227.2 72.3L223.6 71.8L224.8 69.6Z" stroke="none"/>
<path d="M241.3 66.2L246.6 69.8" stroke-width="1.29" fill="none"/><path d="M249.7 72.0L245.1 70.8L247.0 68.1Z" stroke="none"/>
<path d="M251.3 62.3L253.2 64.8" stroke-width="1.25" fill="none"/><path d="M255.5 67.8L251.5 65.3L254.1 63.3Z" stroke="none"/>
<path d="M235.5 72.5L236.5 72.9" stroke-width="1.25" fill="none"/><path d="M238.3 73.7L235.6 73.6L236.3 71.8Z" stroke="none"/>
<path d="M195.5 71.2L196.8 71.8" stroke-width="1.25" fill="none"/><path d="M198.8 72.8L195.8 72.5L196.7 70.6Z" stroke="none"/>
<path d="M190.5 80.7L194.2 80.1" stroke-width="1.25" fill="none"/><path d="M198.0 79.5L193.9 81.8L193.4 78.6Z" stroke="none"/>
<path d="M203.0 80.0L204.8 78.1" stroke-width="1.25" fill="none"/><path d="M207.2 75.7L205.5 79.6L203.3 77.5Z" stroke="none"/>
<path d="M215.5 81.7L216.8 77.6" stroke-width="1.25" fill="none"/><path d="M218.0 74.0L218.2 78.7L215.1 77.7Z" stroke="none"/>
<path d="M250.5 74.5L253.0 75.6" stroke-width="1.25" fill="none"/><path d="M256.3 77.0L251.9 76.8L253.1 73.9Z" stroke="none"/>
<path d="M173.0 68.7L174.7 69.0" stroke-width="1.25" fill="none"/><path d="M177.2 69.5L173.9 70.0L174.3 67.8Z" stroke="none"/>
<path d="M174.7 76.2L176.8 77.6" stroke-width="1.25" fill="none"/><path d="M179.7 79.5L175.5 78.5L177.2 76.0Z" stroke="none"/>
<path d="M181.3 82.3L184.4 83.3" stroke-width="1.25" fill="none"/><path d="M188.0 84.5L183.3 84.7L184.3 81.6Z" stroke="none"/>
<path d="M183.8 73.3L185.1 73.3" stroke-width="1.25" fill="none"/><path d="M187.2 73.3L184.5 74.3L184.5 72.3Z" stroke="none"/>
<path d="M243.8 80.7L244.7 81.8" stroke-width="1.25" fill="none"/><path d="M246.0 83.7L243.5 82.0L245.2 80.7Z" stroke="none"/>
<path d="M262.2 72.8L263.9 71.8" stroke-width="1.25" fill="none"/><path d="M266.3 70.3L264.0 73.2L262.7 71.0Z" stroke="none"/>
<path d="M271.3 76.2L273.5 75.2" stroke-width="1.25" fill="none"/><path d="M276.3 74.0L273.5 76.7L272.4 74.2Z" stroke="none"/>
<path d="M278.8 55.3L279.3 53.2" stroke-width="1.25" fill="none"/><path d="M280.0 50.3L280.5 54.1L277.9 53.5Z" stroke="none"/>
<path d="M282.2 47.0L282.6 45.3" stroke-width="1.25" fill="none"/><path d="M283.3 42.8L283.6 46.2L281.4 45.6Z" stroke="none"/>
<path d="M273.0 67.0L274.0 65.7" stroke-width="1.25" fill="none"/><path d="M275.5 63.7L274.6 66.8L272.7 65.4Z" stroke="none"/>
<path d="M279.7 64.5L283.8 62.2" stroke-width="1.25" fill="none"/><path d="M287.2 60.3L284.1 63.9L282.5 61.0Z" stroke="none"/>
<path d="M278.0 72.8L283.7 70.2" stroke-width="1.29" fill="none"/><path d="M287.2 68.7L283.8 72.0L282.5 69.0Z" stroke="none"/>
<path d="M281.3 80.3L283.9 79.2" stroke-width="1.25" fill="none"/><path d="M287.2 77.8L283.9 80.9L282.7 78.1Z" stroke="none"/>
<path d="M263.8 85.3L264.8 86.3" stroke-width="1.25" fill="none"/><path d="M266.3 87.8L263.7 86.6L265.1 85.2Z" stroke="none"/>
<path d="M274.7 82.0L275.7 84.1" stroke-width="1.25" fill="none"/><path d="M277.2 87.0L274.2 84.2L276.7 83.0Z" stroke="none"/>
<path d="M198.0 85.3L205.1 86.2" stroke-width="1.32" fill="none"/><path d="M208.8 86.7L204.3 87.7L204.7 84.5Z" stroke="none"/>
<path d="M209.7 86.3L213.4 86.3" stroke-width="1.25" fill="none"/><path d="M217.2 86.3L212.8 88.0L212.8 84.7Z" stroke="none"/>
<path d="M188.8 89.0L196.0 91.0" stroke-width="1.33" fill="none"/><path d="M199.7 92.0L195.0 92.4L195.9 89.3Z" stroke="none"/>
<path d="M201.3 92.8L208.5 94.5" stroke-width="1.32" fill="none"/><path d="M212.2 95.3L207.5 95.9L208.2 92.8Z" stroke="none"/>
<path d="M174.7 90.0L182.0 93.0" stroke-width="1.35" fill="none"/><path d="M185.5 94.5L180.8 94.3L182.1 91.3Z" stroke="none"/>
<path d="M173.0 86.2L175.5 86.5" stroke-width="1.25" fill="none"/><path d="M178.8 87.0L174.7 87.9L175.1 85.0Z" stroke="none"/>
<path d="M217.2 96.2L218.9 95.1" stroke-width="1.25" fill="none"/><path d="M221.3 93.7L219.0 96.5L217.7 94.3Z" stroke="none"/>
<path d="M234.7 92.8L236.5 94.7" stroke-width="1.25" fill="none"/><path d="M238.8 97.2L235.0 95.3L237.1 93.3Z" stroke="none"/>
<path d="M242.2 91.2L246.5 94.1" stroke-width="1.25" fill="none"/><path d="M249.7 96.2L245.1 95.1L246.9 92.4Z" stroke="none"/>
<path d="M283.8 85.3L284.3 87.4" stroke-width="1.25" fill="none"/><path d="M285.0 90.3L282.9 87.2L285.5 86.6Z" stroke="none"/>
<path d="M307.8 45.7L309.5 45.4" stroke-width="1.25" fill="none"/><path d="M312.0 45.0L309.1 46.6L308.7 44.4Z" stroke="none"/>
<path d="M299.5 49.0L301.2 49.5" stroke-width="1.25" fill="none"/><path d="M303.7 50.3L300.3 50.5L301.0 48.2Z" stroke="none"/>
<path d="M287.8 52.3L289.9 51.8" stroke-width="1.25" fill="none"/><path d="M292.8 51.2L289.7 53.3L289.1 50.7Z" stroke="none"/>
<path d="M312.0 52.3L315.9 53.7" stroke-width="1.25" fill="none"/><path d="M319.5 55.0L314.8 55.1L315.9 52.0Z" stroke="none"/>
<path d="M322.8 48.3L326.7 49.4" stroke-width="1.25" fill="none"/><path d="M330.3 50.3L325.7 50.8L326.5 47.6Z" stroke="none"/>
<path d="M334.5 43.7L335.4 45.2" stroke-width="1.25" fill="none"/><path d="M336.7 47.3L334.1 45.2L336.1 44.1Z" stroke="none"/>
<path d="M343.3 50.0L343.8 51.6" stroke-width="1.25" fill="none"/><path d="M344.5 54.0L342.5 51.4L344.7 50.7Z" stroke="none"/>
<path d="M365.3 45.0L366.4 45.0" stroke-width="1.25" fill="none"/><path d="M368.3 45.0L365.8 45.9L365.8 44.1Z" stroke="none"/>
<path d="M303.7 58.3L306.6 58.3" stroke-width="1.25" fill="none"/><path d="M310.3 58.3L306.0 59.9L306.0 56.7Z" stroke="none"/>
<path d="M320.3 57.3L324.2 58.4" stroke-width="1.25" fill="none"/><path d="M327.8 59.5L323.2 59.8L324.1 56.7Z" stroke="none"/>
<path d="M332.0 57.0L335.9 58.3" stroke-width="1.25" fill="none"/><path d="M339.5 59.5L334.8 59.7L335.8 56.6Z" stroke="none"/>
<path d="M344.5 59.5L347.0 60.2" stroke-width="1.25" fill="none"/><path d="M350.3 61.2L346.0 61.5L346.9 58.6Z" stroke="none"/>
<path d="M356.2 59.5L357.9 60.2" stroke-width="1.25" fill="none"/><path d="M360.3 61.2L356.9 61.1L357.8 58.8Z" stroke="none"/>
<path d="M292.8 61.2L295.8 60.4" stroke-width="1.25" fill="none"/><path d="M299.5 59.5L295.6 62.1L294.8 59.0Z" stroke="none"/>
<path d="M302.8 69.5L303.9 67.4" stroke-width="1.25" fill="none"/><path d="M305.3 64.5L304.9 68.5L302.4 67.3Z" stroke="none"/>
<path d="M292.0 71.2L292.7 69.5" stroke-width="1.25" fill="none"/><path d="M293.7 67.0L293.6 70.5L291.3 69.6Z" stroke="none"/>
<path d="M312.0 65.3L315.8 64.7" stroke-width="1.25" fill="none"/><path d="M319.5 64.0L315.5 66.4L314.9 63.2Z" stroke="none"/>
<path d="M323.7 67.5L326.6 67.1" stroke-width="1.25" fill="none"/><path d="M330.3 66.7L326.2 68.8L325.8 65.6Z" stroke="none"/>
<path d="M334.5 67.5L338.2 67.1" stroke-width="1.25" fill="none"/><path d="M342.0 66.7L337.8 68.8L337.4 65.5Z" stroke="none"/>
<path d="M347.0 69.5L350.0 68.8" stroke-width="1.25" fill="none"/><path d="M353.7 67.8L349.8 70.5L349.0 67.3Z" stroke="none"/>
<path d="M357.8 69.5L360.4 68.8" stroke-width="1.25" fill="none"/><path d="M363.7 67.8L360.2 70.4L359.4 67.5Z" stroke="none"/>
<path d="M368.7 64.5L369.4 64.6" stroke-width="1.25" fill="none"/><path d="M371.2 65.0L368.6 65.4L369.0 63.7Z" stroke="none"/>
<path d="M392.8 65.0L394.9 64.8" stroke-width="1.25" fill="none"/><path d="M397.8 64.5L394.5 66.1L394.2 63.6Z" stroke="none"/>
<path d="M383.7 69.5L385.8 69.1" stroke-width="1.25" fill="none"/><path d="M388.7 68.7L385.4 70.5L385.0 68.0Z" stroke="none"/>
<path d="M302.8 78.7L308.1 75.0" stroke-width="1.29" fill="none"/><path d="M311.2 72.8L308.5 76.7L306.6 74.0Z" stroke="none"/>
<path d="M316.2 75.0L318.3 74.1" stroke-width="1.25" fill="none"/><path d="M321.2 72.8L318.3 75.6L317.2 73.0Z" stroke="none"/>
<path d="M331.5 75.7L329.1 76.6L329.1 74.8Z" stroke="none"/>
<path d="M342.4 75.7L340.0 76.6L340.0 74.8Z" stroke="none"/>
<path d="M351.2 77.3L351.9 77.3" stroke-width="1.25" fill="none"/><path d="M353.7 77.3L351.3 78.2L351.3 76.4Z" stroke="none"/>
<path d="M365.3 79.5L366.7 77.9" stroke-width="1.25" fill="none"/><path d="M368.7 75.7L367.3 79.2L365.4 77.5Z" stroke="none"/>
<path d="M376.2 75.3L377.9 73.9" stroke-width="1.25" fill="none"/><path d="M380.3 72.0L378.3 75.4L376.6 73.2Z" stroke="none"/>
<path d="M392.0 75.7L394.9 75.9" stroke-width="1.25" fill="none"/><path d="M398.7 76.2L394.2 77.4L394.5 74.2Z" stroke="none"/>
<path d="M293.7 78.3L296.2 77.9" stroke-width="1.25" fill="none"/><path d="M299.5 77.3L295.8 79.4L295.4 76.6Z" stroke="none"/>
<path d="M320.3 82.3L321.1 82.1" stroke-width="1.25" fill="none"/><path d="M322.8 81.7L320.7 83.1L320.3 81.4Z" stroke="none"/>
<path d="M307.0 85.3L310.0 84.6" stroke-width="1.25" fill="none"/><path d="M313.7 83.7L309.8 86.3L309.0 83.2Z" stroke="none"/>
<path d="M292.8 87.0L299.9 86.1" stroke-width="1.32" fill="none"/><path d="M303.7 85.7L299.5 87.8L299.1 84.6Z" stroke="none"/>
<path d="M334.5 87.8L335.2 86.5" stroke-width="1.25" fill="none"/><path d="M336.2 84.5L335.8 87.5L333.9 86.6Z" stroke="none"/>
<path d="M345.3 89.5L346.8 86.9" stroke-width="1.25" fill="none"/><path d="M348.7 83.7L347.9 88.3L345.1 86.7Z" stroke="none"/>
<path d="M360.3 90.0L364.4 85.6" stroke-width="1.28" fill="none"/><path d="M367.0 82.8L365.2 87.2L362.8 84.9Z" stroke="none"/>
<path d="M372.8 84.5L375.5 82.8" stroke-width="1.25" fill="none"/><path d="M378.7 80.7L375.9 84.4L374.1 81.7Z" stroke="none"/>
<path d="M384.5 80.7L386.2 80.2" stroke-width="1.25" fill="none"/><path d="M388.7 79.5L385.9 81.5L385.3 79.2Z" stroke="none"/>
<path d="M392.8 84.5L395.0 86.2" stroke-width="1.25" fill="none"/><path d="M397.8 88.3L393.6 87.0L395.5 84.6Z" stroke="none"/>
<path d="M325.3 91.2L326.6 90.8" stroke-width="1.25" fill="none"/><path d="M328.7 90.3L326.3 92.0L325.8 90.0Z" stroke="none"/>
<path d="M313.7 93.3L315.4 92.8" stroke-width="1.25" fill="none"/><path d="M317.8 92.0L315.2 94.1L314.4 91.8Z" stroke="none"/>
<path d="M354.5 93.7L355.2 90.7" stroke-width="1.25" fill="none"/><path d="M356.2 87.0L356.7 91.7L353.5 90.9Z" stroke="none"/>
<path d="M371.2 93.7L372.3 91.1" stroke-width="1.25" fill="none"/><path d="M373.7 87.8L373.4 92.3L370.6 91.1Z" stroke="none"/>
<path d="M382.0 90.3L383.4 88.9" stroke-width="1.25" fill="none"/><path d="M385.3 87.0L383.8 90.3L382.1 88.5Z" stroke="none"/>
<path d="M292.0 96.7L293.3 96.1" stroke-width="1.25" fill="none"/><path d="M295.3 95.3L293.1 97.3L292.4 95.4Z" stroke="none"/>
<path d="M302.0 96.2L304.1 95.1" stroke-width="1.25" fill="none"/><path d="M307.0 93.7L304.2 96.6L303.0 94.1Z" stroke="none"/>
<path d="M342.0 97.2L344.2 95.5" stroke-width="1.25" fill="none"/><path d="M347.0 93.3L344.6 97.1L342.8 94.6Z" stroke="none"/>
<path d="M364.5 97.2L364.8 95.8" stroke-width="1.25" fill="none"/><path d="M365.3 93.7L365.7 96.6L363.7 96.1Z" stroke="none"/>
<path d="M402.7 60.3L403.4 60.4" stroke-width="1.25" fill="none"/><path d="M405.2 60.7L402.7 61.2L402.9 59.5Z" stroke="none"/>
<path d="M411.0 64.5L411.7 64.6" stroke-width="1.25" fill="none"/><path d="M413.5 65.0L411.0 65.4L411.3 63.7Z" stroke="none"/>
<path d="M419.3 68.7L420.0 68.8" stroke-width="1.25" fill="none"/><path d="M421.8 69.0L419.3 69.6L419.6 67.8Z" stroke="none"/>
<path d="M427.7 62.3L428.9 62.5" stroke-width="1.25" fill="none"/><path d="M431.0 62.8L428.2 63.4L428.5 61.5Z" stroke="none"/>
<path d="M401.0 71.7L403.1 71.3" stroke-width="1.25" fill="none"/><path d="M406.0 70.8L402.7 72.7L402.3 70.1Z" stroke="none"/>
<path d="M410.2 76.2L411.5 75.7" stroke-width="1.25" fill="none"/><path d="M413.5 75.0L411.2 76.9L410.6 74.9Z" stroke="none"/>
<path d="M402.7 82.0L403.4 81.9" stroke-width="1.25" fill="none"/><path d="M405.2 81.7L402.9 82.9L402.7 81.1Z" stroke="none"/>
<path d="M431.0 71.2L431.7 71.3" stroke-width="1.25" fill="none"/><path d="M433.5 71.7L431.0 72.1L431.3 70.3Z" stroke="none"/>
<path d="M436.8 67.3L439.8 67.0" stroke-width="1.25" fill="none"/><path d="M443.5 66.7L439.3 68.7L439.0 65.5Z" stroke="none"/>
<path d="M445.2 70.0L449.1 71.5" stroke-width="1.25" fill="none"/><path d="M452.7 72.8L448.0 72.8L449.1 69.8Z" stroke="none"/>
<path d="M464.3 58.3L465.6 58.3" stroke-width="1.25" fill="none"/><path d="M467.7 58.3L465.0 59.3L465.0 57.3Z" stroke="none"/>
<path d="M457.7 61.2L457.8 62.4" stroke-width="1.25" fill="none"/><path d="M458.0 64.5L456.7 61.9L458.7 61.7Z" stroke="none"/>
<path d="M468.5 65.7L468.9 66.6" stroke-width="1.25" fill="none"/><path d="M469.7 68.3L467.9 66.4L469.5 65.7Z" stroke="none"/>
<path d="M458.5 69.5L460.3 71.3" stroke-width="1.25" fill="none"/><path d="M462.7 73.7L458.8 71.9L460.9 69.8Z" stroke="none"/>
<path d="M474.3 61.2L477.2 62.4" stroke-width="1.25" fill="none"/><path d="M480.7 64.0L476.0 63.7L477.3 60.7Z" stroke="none"/>
<path d="M486.8 59.5L488.6 60.5" stroke-width="1.25" fill="none"/><path d="M491.0 62.0L487.4 61.3L488.7 59.1Z" stroke="none"/>
<path d="M504.3 51.7L505.0 51.8" stroke-width="1.25" fill="none"/><path d="M506.8 52.0L504.3 52.6L504.6 50.8Z" stroke="none"/>
<path d="M498.5 62.0L500.7 63.4" stroke-width="1.25" fill="none"/><path d="M503.5 65.3L499.3 64.3L501.0 61.9Z" stroke="none"/>
<path d="M489.3 66.2L496.9 70.8" stroke-width="1.38" fill="none"/><path d="M500.2 72.8L495.6 71.9L497.3 69.1Z" stroke="none"/>
<path d="M479.3 66.7L483.8 73.1" stroke-width="1.34" fill="none"/><path d="M486.0 76.2L482.1 73.5L484.8 71.6Z" stroke="none"/>
<path d="M469.3 72.0L480.1 77.7" stroke-width="1.50" fill="none"/><path d="M483.5 79.5L478.8 78.9L480.4 76.0Z" stroke="none"/>
<path d="M482.7 72.8L494.3 78.9" stroke-width="1.53" fill="none"/><path d="M497.7 80.7L493.0 80.1L494.5 77.2Z" stroke="none"/>
<path d="M462.7 77.8L471.0 82.6" stroke-width="1.41" fill="none"/><path d="M474.3 84.5L469.7 83.7L471.3 80.9Z" stroke="none"/>
<path d="M474.3 80.7L484.1 84.1" stroke-width="1.43" fill="none"/><path d="M487.7 85.3L483.0 85.4L484.1 82.3Z" stroke="none"/>
<path d="M453.5 76.2L454.8 80.1" stroke-width="1.25" fill="none"/><path d="M456.0 83.7L453.1 80.0L456.2 79.0Z" stroke="none"/>
<path d="M460.2 84.5L463.1 88.8" stroke-width="1.25" fill="none"/><path d="M465.2 92.0L461.4 89.2L464.1 87.4Z" stroke="none"/>
<path d="M445.2 84.0L445.9 86.0" stroke-width="1.25" fill="none"/><path d="M446.8 88.7L444.5 85.8L446.9 85.0Z" stroke="none"/>
<path d="M441.9 78.0L439.3 78.2L439.9 76.5Z" stroke="none"/>
<path d="M423.5 77.0L424.5 78.2" stroke-width="1.25" fill="none"/><path d="M426.0 80.0L423.3 78.4L424.9 77.0Z" stroke="none"/>
<path d="M415.2 86.2L413.5 84.3L415.1 83.6Z" stroke="none"/>
<path d="M494.3 86.7L511.4 86.3" stroke-width="1.66" fill="none"/><path d="M515.2 86.2L510.8 87.9L510.7 84.6Z" stroke="none"/>
<path d="M491.0 90.7L491.8 90.5" stroke-width="1.25" fill="none"/><path d="M493.5 90.0L491.4 91.5L491.0 89.8Z" stroke="none"/>
<path d="M508.5 71.2L511.4 73.7" stroke-width="1.25" fill="none"/><path d="M514.3 76.2L509.9 74.5L512.1 72.1Z" stroke="none"/>
<path d="M497.7 75.3L504.3 78.9" stroke-width="1.33" fill="none"/><path d="M507.7 80.7L503.0 80.0L504.6 77.2Z" stroke="none"/>
<path d="M479.3 87.0L482.7 93.8" stroke-width="1.33" fill="none"/><path d="M484.3 97.2L480.9 93.9L483.9 92.5Z" stroke="none"/>
<path d="M436.8 90.3L437.7 90.7" stroke-width="1.25" fill="none"/><path d="M439.3 91.3L436.8 91.3L437.4 89.6Z" stroke="none"/>
<path d="M418.6 96.4L416.8 94.7L418.3 93.9Z" stroke="none"/>
<path d="M501.8 93.7L502.5 95.1" stroke-width="1.25" fill="none"/><path d="M503.5 97.2L501.3 95.0L503.2 94.0Z" stroke="none"/>
<path d="M510.2 93.7L512.3 94.4" stroke-width="1.25" fill="none"/><path d="M515.2 95.3L511.3 95.5L512.1 92.9Z" stroke="none"/>
<path d="M459.3 94.5L459.6 95.4" stroke-width="1.25" fill="none"/><path d="M460.2 97.2L458.6 95.1L460.3 94.6Z" stroke="none"/>
<path d="M518.6 51.9L516.1 52.4L516.3 50.7Z" stroke="none"/>
<path d="M528.0 66.0L528.1 66.7" stroke-width="1.25" fill="none"/><path d="M528.3 68.5L527.1 66.2L528.9 66.0Z" stroke="none"/>
<path d="M526.3 77.1L528.4 77.5" stroke-width="1.25" fill="none"/><path d="M531.3 78.1L527.6 78.7L528.1 76.1Z" stroke="none"/>
<path d="M513.9 80.4L523.5 82.8" stroke-width="1.41" fill="none"/><path d="M527.2 83.7L522.5 84.2L523.3 81.1Z" stroke="none"/>
<path d="M519.7 85.0L532.6 88.3" stroke-width="1.53" fill="none"/><path d="M536.3 89.2L531.6 89.7L532.4 86.5Z" stroke="none"/>
<path d="M518.0 88.4L530.3 93.5" stroke-width="1.53" fill="none"/><path d="M533.8 95.0L529.1 94.8L530.4 91.8Z" stroke="none"/>
<path d="M509.8 94.2L514.4 95.6" stroke-width="1.25" fill="none"/><path d="M518.0 96.8L513.4 97.0L514.4 93.9Z" stroke="none"/>
<path d="M189.6 93.7L200.1 102.5" stroke-width="1.55" fill="none"/><path d="M203.0 105.0L198.5 103.4L200.7 100.9Z" stroke="none"/>
<path d="M174.7 111.6L177.7 110.6" stroke-width="1.25" fill="none"/><path d="M181.3 109.5L177.6 112.4L176.6 109.3Z" stroke="none"/>
<path d="M184.6 105.6L185.0 106.8" stroke-width="1.25" fill="none"/><path d="M185.5 108.6L183.9 106.4L185.7 105.9Z" stroke="none"/>
<path d="M193.0 104.5L193.3 107.0" stroke-width="1.25" fill="none"/><path d="M193.8 110.3L191.8 106.6L194.7 106.2Z" stroke="none"/>
<path d="M203.0 109.5L202.6 111.6" stroke-width="1.25" fill="none"/><path d="M202.1 114.5L201.4 110.8L204.0 111.2Z" stroke="none"/>
<path d="M212.1 108.6L213.6 111.2" stroke-width="1.25" fill="none"/><path d="M215.4 114.5L211.9 111.5L214.7 109.9Z" stroke="none"/>
<path d="M214.6 104.5L215.9 103.8" stroke-width="1.25" fill="none"/><path d="M217.9 102.8L215.8 105.0L214.9 103.1Z" stroke="none"/>
<path d="M203.8 103.6L205.1 103.0" stroke-width="1.25" fill="none"/><path d="M207.1 102.0L205.0 104.2L204.1 102.3Z" stroke="none"/>
<path d="M222.9 109.5L224.7 111.3" stroke-width="1.25" fill="none"/><path d="M227.1 113.6L223.3 111.9L225.3 109.8Z" stroke="none"/>
<path d="M227.9 102.8L231.0 104.0" stroke-width="1.25" fill="none"/><path d="M234.6 105.3L229.9 105.3L231.0 102.2Z" stroke="none"/>
<path d="M232.1 112.3L236.6 111.9" stroke-width="1.25" fill="none"/><path d="M240.4 111.6L236.1 113.6L235.9 110.4Z" stroke="none"/>
<path d="M237.1 101.2L243.7 104.4" stroke-width="1.33" fill="none"/><path d="M247.1 106.1L242.4 105.6L243.8 102.7Z" stroke="none"/>
<path d="M245.4 115.3L248.1 111.7" stroke-width="1.25" fill="none"/><path d="M250.4 108.6L249.0 113.1L246.4 111.2Z" stroke="none"/>
<path d="M248.7 105.0L254.2 103.4" stroke-width="1.27" fill="none"/><path d="M257.9 102.3L254.1 105.1L253.2 102.0Z" stroke="none"/>
<path d="M262.0 101.2L264.1 101.2" stroke-width="1.25" fill="none"/><path d="M267.0 101.2L263.5 102.4L263.5 99.9Z" stroke="none"/>
<path d="M263.7 115.3L264.8 111.5" stroke-width="1.25" fill="none"/><path d="M265.9 107.8L266.2 112.5L263.1 111.6Z" stroke="none"/>
<path d="M272.5 104.5L273.1 105.4" stroke-width="1.25" fill="none"/><path d="M274.2 107.0L272.0 105.4L273.6 104.4Z" stroke="none"/>
<path d="M281.2 99.5L282.0 99.1" stroke-width="1.25" fill="none"/><path d="M283.7 98.3L281.9 100.1L281.1 98.5Z" stroke="none"/>
<path d="M280.8 108.6L281.4 109.6" stroke-width="1.25" fill="none"/><path d="M282.5 111.1L280.3 109.6L281.9 108.5Z" stroke="none"/>
<path d="M288.7 104.0L290.0 105.1" stroke-width="1.25" fill="none"/><path d="M292.0 106.6L288.8 105.6L290.3 103.8Z" stroke="none"/>
<path d="M297.0 111.1L297.9 111.7" stroke-width="1.25" fill="none"/><path d="M299.5 112.8L296.9 112.2L297.9 110.6Z" stroke="none"/>
<path d="M312.0 102.8L313.0 101.2" stroke-width="1.25" fill="none"/><path d="M314.5 99.0L313.7 102.4L311.6 101.1Z" stroke="none"/>
<path d="M322.8 101.2L323.9 99.8" stroke-width="1.25" fill="none"/><path d="M325.6 97.8L324.4 101.0L322.6 99.5Z" stroke="none"/>
<path d="M307.8 109.5L309.9 109.7" stroke-width="1.25" fill="none"/><path d="M312.8 110.0L309.2 110.9L309.4 108.3Z" stroke="none"/>
<path d="M320.3 109.5L322.1 108.1" stroke-width="1.25" fill="none"/><path d="M324.4 106.1L322.4 109.5L320.7 107.4Z" stroke="none"/>
<path d="M327.8 110.0L334.2 107.5" stroke-width="1.31" fill="none"/><path d="M337.8 106.1L334.2 109.2L333.1 106.2Z" stroke="none"/>
<path d="M335.3 102.8L335.5 99.9" stroke-width="1.25" fill="none"/><path d="M335.8 96.2L337.0 100.6L333.8 100.4Z" stroke="none"/>
<path d="M343.6 111.1L344.4 107.7" stroke-width="1.25" fill="none"/><path d="M345.2 104.0L345.8 108.6L342.7 107.9Z" stroke="none"/>
<path d="M352.7 112.0L356.1 107.1" stroke-width="1.27" fill="none"/><path d="M358.2 104.0L357.1 108.5L354.4 106.7Z" stroke="none"/>
<path d="M352.4 101.2L352.6 99.5" stroke-width="1.25" fill="none"/><path d="M352.9 97.0L353.7 100.2L351.4 99.9Z" stroke="none"/>
<path d="M366.0 108.6L366.8 105.9" stroke-width="1.25" fill="none"/><path d="M367.7 102.3L368.2 106.8L365.1 106.0Z" stroke="none"/>
<path d="M362.7 101.2L363.8 97.3" stroke-width="1.25" fill="none"/><path d="M364.9 93.7L365.2 98.3L362.1 97.4Z" stroke="none"/>
<path d="M379.6 98.5L377.9 100.4L377.1 98.8Z" stroke="none"/>
<path d="M390.5 96.5L388.6 98.3L387.9 96.6Z" stroke="none"/>
<path d="M399.4 103.2L397.3 104.7L396.9 103.0Z" stroke="none"/>
<path d="M388.8 108.6L389.3 107.7" stroke-width="1.25" fill="none"/><path d="M390.2 106.1L389.8 108.7L388.3 107.9Z" stroke="none"/>
<path d="M409.9 104.7L408.5 102.6L410.3 102.2Z" stroke="none"/>
<path d="M419.5 105.0L420.7 103.3" stroke-width="1.25" fill="none"/><path d="M422.4 100.8L421.5 104.5L419.3 103.0Z" stroke="none"/>
<path d="M430.1 98.2L428.4 96.2L430.1 95.6Z" stroke="none"/>
<path d="M443.7 95.8L443.9 98.5" stroke-width="1.25" fill="none"/><path d="M444.1 102.1L442.3 98.0L445.4 97.8Z" stroke="none"/>
<path d="M437.2 106.3L440.5 107.5" stroke-width="1.25" fill="none"/><path d="M444.1 108.8L439.4 108.8L440.5 105.8Z" stroke="none"/>
<path d="M451.5 102.5L451.9 105.1" stroke-width="1.25" fill="none"/><path d="M452.5 108.4L450.3 104.7L453.3 104.2Z" stroke="none"/>
<path d="M460.5 93.1L461.2 96.7" stroke-width="1.25" fill="none"/><path d="M462.0 100.4L459.5 96.4L462.7 95.8Z" stroke="none"/>
<path d="M471.4 93.1L472.6 97.8" stroke-width="1.25" fill="none"/><path d="M473.5 101.5L470.9 97.6L474.0 96.8Z" stroke="none"/>
<path d="M463.0 101.5L466.8 105.6" stroke-width="1.26" fill="none"/><path d="M469.3 108.4L465.2 106.2L467.6 104.0Z" stroke="none"/>
<path d="M470.4 100.4L479.5 104.2" stroke-width="1.41" fill="none"/><path d="M483.0 105.7L478.3 105.5L479.5 102.5Z" stroke="none"/>
<path d="M469.3 110.9L474.0 112.1" stroke-width="1.25" fill="none"/><path d="M477.7 113.0L473.1 113.5L473.9 110.4Z" stroke="none"/>
<path d="M485.1 101.5L487.9 102.7" stroke-width="1.25" fill="none"/><path d="M491.4 104.2L486.7 103.9L488.0 100.9Z" stroke="none"/>
<path d="M483.0 108.4L486.5 112.6" stroke-width="1.26" fill="none"/><path d="M488.9 115.5L484.8 113.2L487.3 111.1Z" stroke="none"/>
<path d="M494.5 106.7L498.0 112.9" stroke-width="1.31" fill="none"/><path d="M499.8 116.2L496.2 113.1L499.1 111.5Z" stroke="none"/>
<path d="M505.1 115.1L509.4 111.6" stroke-width="1.26" fill="none"/><path d="M512.4 109.2L510.0 113.3L508.0 110.7Z" stroke="none"/>
<path d="M506.4 104.1L504.4 102.5L505.9 101.6Z" stroke="none"/>
<path d="M519.8 100.4L520.0 102.6" stroke-width="1.25" fill="none"/><path d="M520.4 105.7L518.6 102.2L521.3 101.9Z" stroke="none"/>
<path d="M527.1 108.8L528.2 111.6" stroke-width="1.25" fill="none"/><path d="M529.7 115.1L526.5 111.6L529.5 110.4Z" stroke="none"/>
<path d="M525.0 97.9L528.9 99.4" stroke-width="1.25" fill="none"/><path d="M532.4 100.8L527.7 100.7L528.9 97.7Z" stroke="none"/>
<path d="M531.3 102.1L534.0 105.0" stroke-width="1.25" fill="none"/><path d="M536.6 107.8L532.4 105.6L534.8 103.4Z" stroke="none"/>
</g>
</g>
<rect x="173.8" y="37.5" width="363.5" height="101.7" fill="none" stroke="#000" stroke-width="1"/>
<path d="M196.5 139.2v3.5M230.6 139.2v3.5M264.7 139.2v3.5M298.8 139.2v3.5M332.8 139.2v3.5M366.9 139.2v3.5M401.0 139.2v3.5M435.1 139.2v3.5M469.1 139.2v3.5M503.2 139.2v3.5M537.3 139.2v3.5M173.8 139.2v2.0M185.2 139.2v2.0M207.9 139.2v2.0M219.2 139.2v2.0M242.0 139.2v2.0M253.3 139.2v2.0M276.0 139.2v2.0M287.4 139.2v2.0M310.1 139.2v2.0M321.5 139.2v2.0M344.2 139.2v2.0M355.6 139.2v2.0M378.3 139.2v2.0M389.6 139.2v2.0M412.3 139.2v2.0M423.7 139.2v2.0M446.4 139.2v2.0M457.8 139.2v2.0M480.5 139.2v2.0M491.9 139.2v2.0M514.6 139.2v2.0M525.9 139.2v2.0" stroke="#000" stroke-width="0.8" fill="none"/>
<text x="196.5" y="157.8" font-size="10.2" text-anchor="middle">60W</text>
<text x="230.6" y="157.8" font-size="10.2" text-anchor="middle">30W</text>
<text x="264.7" y="157.8" font-size="10.2" text-anchor="middle">0</text>
<text x="298.8" y="157.8" font-size="10.2" text-anchor="middle">30E</text>
<text x="332.8" y="157.8" font-size="10.2" text-anchor="middle">60E</text>
<text x="366.9" y="157.8" font-size="10.2" text-anchor="middle">90E</text>
<text x="401.0" y="157.8" font-size="10.2" text-anchor="middle">120E</text>
<text x="435.1" y="157.8" font-size="10.2" text-anchor="middle">150E</text>
<text x="469.1" y="157.8" font-size="10.2" text-anchor="middle">180</text>
<text x="503.2" y="157.8" font-size="10.2" text-anchor="middle">150W</text>
<text x="537.3" y="157.8" font-size="10.2" text-anchor="middle">120W</text>
<path d="M173.8 128.2h-3.5M173.8 94.2h-3.5M173.8 60.2h-3.5M173.8 139.5h-2.0M173.8 116.9h-2.0M173.8 105.5h-2.0M173.8 82.8h-2.0M173.8 71.5h-2.0M173.8 48.8h-2.0M173.8 37.5h-2.0" stroke="#000" stroke-width="0.8" fill="none"/>
<path d="M537.3 128.2h3.5M537.3 94.2h3.5M537.3 60.2h3.5M537.3 139.5h2.0M537.3 116.9h2.0M537.3 105.5h2.0M537.3 82.8h2.0M537.3 71.5h2.0M537.3 48.8h2.0M537.3 37.5h2.0" stroke="#000" stroke-width="0.8" fill="none"/>
<text x="164.1" y="131.6" font-size="10.2" text-anchor="end">0</text>
<text x="164.1" y="97.6" font-size="10.2" text-anchor="end">30N</text>
<text x="164.1" y="63.6" font-size="10.2" text-anchor="end">60N</text>
<rect x="519.7" y="37.5" width="17.6" height="21.5" fill="#fff" stroke="#000" stroke-width="0.8"/>
<text x="528.2" y="45.7" font-size="8.3" text-anchor="middle">.2</text>
<g stroke="#000" fill="#000"><path d="M521.0 51.3L532.2 51.3" stroke-width="1.30" fill="none"/><path d="M535.6 51.3L531.6 52.9L531.6 49.7Z" stroke="none"/></g>
<rect x="147.30" y="168.1" width="10.56" height="8.9" fill="#825adc" stroke="#222" stroke-width="0.6"/>
<rect x="157.86" y="168.1" width="10.56" height="8.9" fill="#6446d2" stroke="#222" stroke-width="0.6"/>
<rect x="168.42" y="168.1" width="10.56" height="8.9" fill="#412dcd" stroke="#222" stroke-width="0.6"/>
<rect x="178.98" y="168.1" width="10.56" height="8.9" fill="#2319c8" stroke="#222" stroke-width="0.6"/>
<rect x="189.54" y="168.1" width="10.56" height="8.9" fill="#0000c8" stroke="#222" stroke-width="0.6"/>
<rect x="200.10" y="168.1" width="10.56" height="8.9" fill="#0f1ed2" stroke="#222" stroke-width="0.6"/>
<rect x="210.66" y="168.1" width="10.56" height="8.9" fill="#1e37dc" stroke="#222" stroke-width="0.6"/>
<rect x="221.22" y="168.1" width="10.56" height="8.9" fill="#2850e1" stroke="#222" stroke-width="0.6"/>
<rect x="231.78" y="168.1" width="10.56" height="8.9" fill="#3764e6" stroke="#222" stroke-width="0.6"/>
<rect x="242.34" y="168.1" width="10.56" height="8.9" fill="#4169e6" stroke="#222" stroke-width="0.6"/>
<rect x="252.90" y="168.1" width="10.56" height="8.9" fill="#5073e6" stroke="#222" stroke-width="0.6"/>
<rect x="263.46" y="168.1" width="10.56" height="8.9" fill="#5a82eb" stroke="#222" stroke-width="0.6"/>
<rect x="274.02" y="168.1" width="10.56" height="8.9" fill="#698cee" stroke="#222" stroke-width="0.6"/>
<rect x="284.58" y="168.1" width="10.56" height="8.9" fill="#78a0f0" stroke="#222" stroke-width="0.6"/>
<rect x="295.14" y="168.1" width="10.56" height="8.9" fill="#87b4eb" stroke="#222" stroke-width="0.6"/>
<rect x="305.70" y="168.1" width="10.56" height="8.9" fill="#96cde8" stroke="#222" stroke-width="0.6"/>
<rect x="316.26" y="168.1" width="10.56" height="8.9" fill="#a0d7e6" stroke="#222" stroke-width="0.6"/>
<rect x="326.82" y="168.1" width="10.56" height="8.9" fill="#aae1e4" stroke="#222" stroke-width="0.6"/>
<rect x="337.38" y="168.1" width="10.56" height="8.9" fill="#ffffff" stroke="#222" stroke-width="0.6"/>
<rect x="347.94" y="168.1" width="10.56" height="8.9" fill="#ffffff" stroke="#222" stroke-width="0.6"/>
<rect x="358.50" y="168.1" width="10.56" height="8.9" fill="#eed4a5" stroke="#222" stroke-width="0.6"/>
<rect x="369.06" y="168.1" width="10.56" height="8.9" fill="#e1b987" stroke="#222" stroke-width="0.6"/>
<rect x="379.62" y="168.1" width="10.56" height="8.9" fill="#f0c346" stroke="#222" stroke-width="0.6"/>
<rect x="390.18" y="168.1" width="10.56" height="8.9" fill="#ffe100" stroke="#222" stroke-width="0.6"/>
<rect x="400.74" y="168.1" width="10.56" height="8.9" fill="#ffc300" stroke="#222" stroke-width="0.6"/>
<rect x="411.30" y="168.1" width="10.56" height="8.9" fill="#ffa500" stroke="#222" stroke-width="0.6"/>
<rect x="421.86" y="168.1" width="10.56" height="8.9" fill="#ff7d00" stroke="#222" stroke-width="0.6"/>
<rect x="432.42" y="168.1" width="10.56" height="8.9" fill="#ff6e00" stroke="#222" stroke-width="0.6"/>
<rect x="442.98" y="168.1" width="10.56" height="8.9" fill="#ff5505" stroke="#222" stroke-width="0.6"/>
<rect x="453.54" y="168.1" width="10.56" height="8.9" fill="#fa410a" stroke="#222" stroke-width="0.6"/>
<rect x="464.10" y="168.1" width="10.56" height="8.9" fill="#eb3714" stroke="#222" stroke-width="0.6"/>
<rect x="474.66" y="168.1" width="10.56" height="8.9" fill="#dc2d19" stroke="#222" stroke-width="0.6"/>
<rect x="485.22" y="168.1" width="10.56" height="8.9" fill="#c82323" stroke="#222" stroke-width="0.6"/>
<rect x="495.78" y="168.1" width="10.56" height="8.9" fill="#b41e28" stroke="#222" stroke-width="0.6"/>
<rect x="506.34" y="168.1" width="10.56" height="8.9" fill="#c83241" stroke="#222" stroke-width="0.6"/>
<rect x="516.90" y="168.1" width="10.56" height="8.9" fill="#d7505f" stroke="#222" stroke-width="0.6"/>
<rect x="527.46" y="168.1" width="10.56" height="8.9" fill="#e6737d" stroke="#222" stroke-width="0.6"/>
<rect x="538.02" y="168.1" width="10.56" height="8.9" fill="#f2969b" stroke="#222" stroke-width="0.6"/>
<text x="157.9" y="186.3" font-size="8.7" text-anchor="middle">-36</text>
<text x="179.0" y="186.3" font-size="8.7" text-anchor="middle">-32</text>
<text x="200.1" y="186.3" font-size="8.7" text-anchor="middle">-28</text>
<text x="221.2" y="186.3" font-size="8.7" text-anchor="middle">-24</text>
<text x="242.3" y="186.3" font-size="8.7" text-anchor="middle">-20</text>
<text x="263.5" y="186.3" font-size="8.7" text-anchor="middle">-16</text>
<text x="284.6" y="186.3" font-size="8.7" text-anchor="middle">-12</text>
<text x="305.7" y="186.3" font-size="8.7" text-anchor="middle">-8</text>
<text x="326.8" y="186.3" font-size="8.7" text-anchor="middle">-4</text>
<text x="347.9" y="186.3" font-size="8.7" text-anchor="middle">0</text>
<text x="369.1" y="186.3" font-size="8.7" text-anchor="middle">4</text>
<text x="390.2" y="186.3" font-size="8.7" text-anchor="middle">8</text>
<text x="411.3" y="186.3" font-size="8.7" text-anchor="middle">12</text>
<text x="432.4" y="186.3" font-size="8.7" text-anchor="middle">16</text>
<text x="453.5" y="186.3" font-size="8.7" text-anchor="middle">20</text>
<text x="474.7" y="186.3" font-size="8.7" text-anchor="middle">24</text>
<text x="495.8" y="186.3" font-size="8.7" text-anchor="middle">28</text>
<text x="516.9" y="186.3" font-size="8.7" text-anchor="middle">32</text>
<text x="538.0" y="186.3" font-size="8.7" text-anchor="middle">36</text>
<text x="27.2" y="207.6" font-size="11.7" text-anchor="start">(b) AMJ 200hPa uv &amp; hgt</text>
<g clip-path="url(#cpb)">
<rect x="27.5" y="213.3" width="288.5" height="102.9" fill="#fff"/>
<path d="M160.5 212.3L179.5 212.3 177.5 213.1 175.5 213.6 170.5 214.1 167.5 214 164.5 213.6 162.5 213.1 160.5 212.3ZM58.5 256.3L62.5 255.7 67.5 255.7 73.3 256.3 77.5 257.3 79.9 258.3 81.2 259.3 81.2 260.3 79.6 261.3 78.5 261.6 74.5 262.3 69.5 262.4 64.5 262.1 59.9 261.3 57.2 260.3 55.8 259.3 55.4 258.3 56.1 257.3 58.4 256.3Z" fill="#698cee" stroke="#698cee" stroke-width="0.5" fill-rule="evenodd"/>
<path d="M150.5 212.3L160.5 212.3 162.5 213.1 164.5 213.6 167.5 214 170.5 214.1 175.5 213.6 177.5 213.1 179.5 212.3 190.1 212.3 189 213.3 187.4 214.3 185.1 215.3 182.5 216.1 176.5 217.2 170.5 217.6 164.5 217.3 158.4 216.3 155 215.3 152.7 214.3 151 213.3 149.9 212.3ZM50.5 252.2L54.5 251.9 59.5 251.8 70.1 252.3 78.2 253.3 83.5 254.2 92.3 256.3 95.5 257.3 100.4 259.3 102.2 260.3 103.5 261.3 104.2 262.3 104 263.3 102.4 264.3 98.6 265.3 95.5 265.8 90.5 266.3 82.5 266.8 75.5 267 68.5 266.9 62.5 266.6 57.5 266 53.1 265.3 49 264.3 45.5 263.1 42.3 261.3 41.1 260.3 40.4 259.3 40.1 258.3 40.1 257.3 40.5 256.3 41.4 255.3 43 254.3 45.5 253.3 49.8 252.3ZM58.4 256.3L56.1 257.3 55.4 258.3 55.8 259.3 57.2 260.3 59.9 261.3 64.5 262.1 69.5 262.4 74.5 262.3 78.5 261.6 79.6 261.3 81.2 260.3 81.2 259.3 79.9 258.3 77.5 257.3 73.3 256.3 67.5 255.7 62.5 255.7 58.5 256.3Z" fill="#78a0f0" stroke="#78a0f0" stroke-width="0.5" fill-rule="evenodd"/>
<path d="M141.5 212.3L149.9 212.3 151 213.3 152.7 214.3 155 215.3 158.4 216.3 164.5 217.3 170.5 217.6 176.5 217.2 182.5 216.1 185.1 215.3 187.4 214.3 189 213.3 190.1 212.3 198.7 212.3 197.5 213.8 195.5 215.3 192.5 216.8 188.5 218.2 184.5 219.2 180.5 219.8 175.5 220.3 170.5 220.5 165.5 220.4 161.5 220 156.9 219.3 152.5 218.3 148.5 217 144.9 215.3 143.4 214.3 141.4 212.3ZM40.5 249.2L46.5 248.9 53.5 249 63.5 249.5 73.5 250.4 80.5 251.3 93 253.3 103.2 255.3 112.1 257.3 124.3 260.3 135.3 263.3 145.3 266.3 150.8 268.3 155 270.3 156.6 271.3 157.8 272.3 158.5 273.3 158.7 274.3 158.5 274.5 157.5 275.3 155.5 275.7 151.5 275.8 144.5 275.4 116.5 272.6 104.5 271.7 94.5 271.3 71.5 271 61.5 270.5 51.5 269.5 42.5 267.9 36.9 266.3 32.1 264.3 29.5 262.6 28 261.3 27.2 260.3 26.5 259 26.5 255.8 27.4 254.3 28.5 253.2 30.5 251.9 33.5 250.6 36.5 249.8 39.6 249.3ZM49.8 252.3L45.5 253.3 43 254.3 41.4 255.3 40.5 256.3 40.1 257.3 40.1 258.3 40.4 259.3 41.1 260.3 42.3 261.3 45.5 263.1 49 264.3 53.1 265.3 57.5 266 62.5 266.6 68.5 266.9 75.5 267 82.5 266.8 90.5 266.3 95.5 265.8 98.6 265.3 102.4 264.3 104 263.3 104.2 262.3 103.5 261.3 102.2 260.3 100.4 259.3 95.5 257.3 92.3 256.3 83.5 254.2 78.2 253.3 70.1 252.3 59.5 251.8 54.5 251.9 50.5 252.2ZM170.5 282.1L172.5 281.8 175.5 281.7 181.5 282.2 189.5 283.4 196.5 284.9 202.5 286.8 207.5 288.8 211.5 291.1 214.5 293.5 216.5 296.1 217.4 298.3 217.6 299.3 217.5 301 216.8 303.3 214.8 306.3 212.5 308.8 206.5 314.2 203.6 316.3 136.9 316.3 144.5 312.7 146.4 311.3 147.3 310.3 147.7 309.3 147.8 308.3 147.7 307.3 145.9 302.3 145.7 300.3 145.7 299.3 146.5 297.1 147.5 295.6 148.7 294.3 151.5 292 156.5 288.8 165.5 283.8 167.5 282.9 169.5 282.3Z" fill="#87b4eb" stroke="#87b4eb" stroke-width="0.5" fill-rule="evenodd"/>
<path d="M132.5 212.3L141.4 212.3 143.4 214.3 144.9 215.3 148.5 217 152.5 218.3 156.9 219.3 161.5 220 165.5 220.4 170.5 220.5 175.5 220.3 180.5 219.8 184.5 219.2 188.5 218.2 192.5 216.8 195.5 215.3 197.5 213.8 198.7 212.3 208.4 212.3 207.8 213.3 206.5 214.8 203.5 217 199.5 219 195.5 220.4 190.5 221.7 184.5 222.7 178.5 223.3 171.5 223.5 165.5 223.3 159.5 222.7 153.5 221.7 147.6 220.3 141.6 218.3 137.3 216.3 134.3 214.3 132.4 212.3ZM259.5 212.3L302.7 212.3 303.1 213.3 303.2 214.3 302.9 215.3 302.3 216.3 300.5 217.8 297.7 219.3 294.5 220.4 290.2 221.3 285.5 221.8 280.5 222 275.5 221.8 271.5 221.2 267.2 220.3 263.5 219 260.7 217.3 259.5 216.1 259 215.3 258.7 214.3 258.7 213.3 259.1 212.3ZM27.5 244.5L69.5 248.2 87 250.3 119.4 255.3 142.5 259.6 162.8 262.3 173.2 264.3 185.9 267.3 203.5 272.8 217.1 276.3 222.8 278.3 226.8 280.3 230.5 282.9 233.5 285.9 236.1 289.3 237.8 292.3 238.9 295.3 239.5 298.3 239.5 301.3 239 304.3 238.1 307.3 235.7 313.3 234.3 316.3 203.6 316.3 206.5 314.2 212.5 308.8 214.8 306.3 216.5 303.9 217.5 301.3 217.6 299.3 217.4 298.3 216.6 296.3 215.2 294.3 213.2 292.3 209.5 289.8 205.5 287.9 200.5 286.1 194.5 284.4 187.5 283 180.5 282.1 174.5 281.7 170.5 282.1 168.5 282.6 165.5 283.8 154.5 290 151 292.3 148.7 294.3 147.5 295.6 146.5 297.1 145.7 299.3 145.7 300.3 145.9 302.3 147.7 307.3 147.8 308.3 147.7 309.3 147.3 310.3 146.4 311.3 144.5 312.7 136.9 316.3 75.8 316.3 87.8 313.3 94.7 311.3 99.8 309.3 101.6 308.3 103.5 306.8 104.7 305.3 105.6 303.3 108.8 289.3 109 287.3 108.9 286.3 108.6 285.3 108 284.3 107 283.3 105.6 282.3 103.5 281.3 100.8 280.3 97.5 279.4 91.9 278.3 80.5 277 53.5 275.1 43.5 274.2 33.5 273 26.5 271.9 26.5 259 27.2 260.3 29.1 262.3 32.1 264.3 35.5 265.8 39.5 267.1 43.5 268.1 48.5 269.1 54.5 269.9 61.5 270.5 68.5 270.9 94.6 271.3 106.5 271.8 117.5 272.7 142.5 275.2 150.5 275.7 154.5 275.7 157.5 275.3 158.7 274.3 158.5 273.3 157.8 272.3 156.6 271.3 155 270.3 150.8 268.3 145.3 266.3 135.3 263.3 120.4 259.3 107.8 256.3 93 253.3 80.5 251.3 71.5 250.2 59.5 249.3 49.5 248.9 41.5 249.1 38.5 249.4 35.5 250 31.6 251.3 29.7 252.3 28.4 253.3 27.4 254.3 26.5 255.8 26.5 244.3Z" fill="#96cde8" stroke="#96cde8" stroke-width="0.5" fill-rule="evenodd"/>
<path d="M123.5 212.3L132.4 212.3 134.3 214.3 135.6 215.3 139.3 217.3 144.4 219.3 151.5 221.3 156.5 222.3 161.5 223 166.5 223.4 171.5 223.5 178.5 223.3 184.5 222.7 190.5 221.7 195.5 220.4 199.5 219 203.5 217 206.5 214.8 207.8 213.3 208.4 212.3 226.1 212.3 224.7 214.3 223.7 215.3 219.3 218.3 214.5 220.6 208.5 222.7 201.5 224.3 193.5 225.5 184.1 226.3 174.5 226.6 167.5 226.4 160.5 225.7 153 224.3 145 222.3 138.5 220.3 133.5 218.3 127.6 215.3 123 212.3ZM239.5 212.3L259.1 212.3 258.7 213.3 258.7 214.3 259 215.3 259.5 216.1 260.7 217.3 263.5 219 267.2 220.3 271.5 221.2 275.5 221.8 280.5 222 285.5 221.8 290.2 221.3 294.5 220.4 297.7 219.3 300.5 217.8 302.3 216.3 302.9 215.3 303.2 214.3 303.1 213.3 302.7 212.3 316.5 212.3 316.5 220.1 314.7 221.3 312.5 222.4 309.5 223.6 306.5 224.5 299.5 226 290.5 227 281.5 227.4 272.5 227.1 264.5 226.3 257.5 225 251.5 223.3 246.8 221.3 245 220.3 242.1 218.3 240 216.3 239.4 215.3 238.9 214.3 238.7 213.3 238.9 212.3ZM26.9 239.3L29.5 240.7 32.5 241.5 38.5 242.8 44.5 243.7 54.5 245 74.5 247 88.5 248.7 120.5 253 141.5 256.6 161.5 258.3 168.4 259.3 173.5 260.2 186.5 263.1 200.5 267.7 204.5 268.8 230.8 273.3 239.4 275.3 242.6 276.3 247.4 278.3 249.2 279.3 251.9 281.3 254.7 284.3 257.1 288.3 259.1 293.3 259.9 297.3 260 300.3 259.6 304.3 258.8 308.3 256.5 316.3 234.3 316.3 237.7 308.3 239.3 303.3 239.6 300.3 239.5 298.3 238.6 294.3 237.3 291.3 235.5 288.4 233.9 286.3 231.5 283.8 229.5 282.1 226.8 280.3 223.5 278.6 220.2 277.3 213.5 275.3 203.5 272.8 185.9 267.3 173.2 264.3 162.8 262.3 142.5 259.6 119.4 255.3 100.6 252.3 84.5 250 69.5 248.2 26.5 244.3 26.5 239ZM27.5 272.1L33.5 273 42.5 274.1 52.5 275 81.5 277 87.5 277.7 93.5 278.6 97.1 279.3 100.8 280.3 103.5 281.3 105.6 282.3 107 283.3 108 284.3 108.6 285.3 109 287.3 108.6 290.3 106.2 301.3 105.6 303.3 104.7 305.3 102.9 307.3 101.6 308.3 98.5 309.9 94.7 311.3 87.8 313.3 75.8 316.3 26.5 316.3 26.5 297.6 27.3 299.3 29.2 301.3 31.5 302.8 34.5 304.1 38.5 305.3 41.5 305.8 45.5 306.2 49.5 306.3 53.5 306 58.3 305.3 62 304.3 64.5 303.3 66.5 302.2 68.8 300.3 70.1 298.3 70.7 296.3 70.5 294.3 69.5 292.3 67.5 290.3 65.5 289 62.5 287.8 58.5 286.7 54.5 286.1 50.5 285.8 45.5 285.8 41.5 286.2 37.5 287 34.5 287.9 31.5 289.2 29.5 290.5 27.6 292.3 26.5 294.4 26.5 271.9Z" fill="#a0d7e6" stroke="#a0d7e6" stroke-width="0.5" fill-rule="evenodd"/>
<path d="M27.5 212.3L45.5 212.3 40.5 214 36.5 215.8 34.5 217.1 33.5 217.9 32.4 219.3 31.8 220.3 31.3 222.3 31.3 226.3 31 228.3 29.4 233.3 29.1 235.3 29.4 236.3 30.5 237.6 32.5 238.7 35.5 239.6 43.5 241.4 56.5 243.3 80.5 245.8 119.5 250.6 143.3 254.3 160.5 255.6 169.5 256.7 176.5 258 184.5 259.8 188.5 261 200.5 265 206.5 266.4 214.5 267.8 233.1 270.3 245.9 272.3 280.5 278.9 316.5 284.8 316.5 316.3 256.5 316.3 259.2 306.3 260 301.3 260 298.3 259.7 296.3 259.1 293.3 258 290.3 256.6 287.3 255.4 285.3 253.9 283.3 251.9 281.3 249.2 279.3 247.4 278.3 242.6 276.3 239.4 275.3 230.8 273.3 204.5 268.8 200.5 267.7 190.4 264.3 184.5 262.6 173.9 260.3 168.4 259.3 160.5 258.2 142.5 256.7 120.5 253 91.5 249.1 76.5 247.2 56.5 245.2 45.5 243.9 35.5 242.2 29.5 240.7 27.5 239.7 26.5 239 26.5 212.3ZM116.5 212.3L123 212.3 127.6 215.3 133.5 218.3 138.5 220.3 148.5 223.2 158.5 225.4 164.5 226.2 169.5 226.5 178.5 226.5 189.5 225.9 198.5 224.8 206.1 223.3 212.8 221.3 216.5 219.7 219.3 218.3 223.7 215.3 224.7 214.3 226.1 212.3 238.9 212.3 238.7 213.3 238.9 214.3 239.4 215.3 241 217.3 243.4 219.3 247.5 221.7 252.5 223.7 257.5 225 263.5 226.1 269.5 226.9 276.5 227.3 283.5 227.4 290.5 227 297.5 226.3 303.5 225.2 308.5 223.9 312.7 222.3 316.5 220.1 316.5 232.1 282.5 232.4 250.5 231.9 243.5 231.3 230.5 229.5 222.5 228.8 216.5 228.5 207.5 228.5 191.5 229.2 179.5 229.4 171.5 229.3 165.5 228.8 159.5 227.9 153.5 226.7 145.5 224.6 137.5 222.3 132.1 220.3 124.5 216.9 116.4 212.3ZM41.5 286.2L45.5 285.8 50.5 285.8 54.5 286.1 58.5 286.7 62.5 287.8 65.5 289 67.5 290.3 69.5 292.3 70.5 294.3 70.7 296.3 70.1 298.3 69.6 299.3 68.5 300.6 66.3 302.3 63.5 303.7 59.5 305 55.5 305.8 51.5 306.2 46.5 306.3 42.5 306 38.5 305.3 34.9 304.3 31.5 302.8 29.2 301.3 27.3 299.3 26.5 297.6 26.5 294.4 27.5 292.5 28.6 291.3 30.5 289.8 33.4 288.3 36.5 287.2 40.9 286.3Z" fill="#aae1e4" stroke="#aae1e4" stroke-width="0.5" fill-rule="evenodd"/>
<path d="M79.5 218.3L86.5 218.3 91.5 218.4 96.5 218.9 101.5 219.8 112.5 222.7 143.6 232.3 146 233.3 149.8 235.3 151.1 236.3 152 237.3 152.4 238.3 152 239.3 150.6 240.3 149.5 240.7 146.5 241.4 142.5 241.7 134.5 241.5 104.5 239.8 94.5 238.9 85.5 237.7 70.5 235.1 62.6 233.3 57.5 231.6 54.4 230.3 52.7 229.3 51.3 228.3 50.3 227.3 49.8 226.3 49.6 225.3 49.9 224.3 50.6 223.3 51.8 222.3 53.5 221.3 55.5 220.5 59.5 219.5 68.5 218.7 79.4 218.3ZM77.9 222.3L71.5 223.1 68.5 223.9 67.4 224.3 65.8 225.3 65.2 226.3 65.5 227.3 66.4 228.3 68 229.3 70.2 230.3 73.5 231.4 85.3 234.3 90.9 235.3 96.5 236 103.5 236.5 120.5 236.9 126.5 236.9 130.5 236.6 132.8 236.3 134.2 235.3 133.7 234.3 132.2 233.3 127.6 231.3 122 229.3 106 224.3 98.5 222.6 92.5 221.8 86.5 221.7 78.5 222.2ZM205.5 239.2L214.5 238.8 221.5 238.9 229.5 239.7 244.5 241.8 248.5 242.1 265.5 241.5 316.5 241.5 316.5 244.4 309.5 244.4 294.5 245.1 264.5 245.2 259.5 245.5 250.5 246.7 247.5 246.8 243.5 246.5 226.5 243.8 222.5 243.4 217.9 243.3 213.5 243.6 207.9 244.3 204.2 245.3 203.1 246.3 203.1 247.3 203.9 248.3 205.8 249.3 211.9 251.3 216.5 252.3 222.9 253.3 245.5 255.9 258.5 258.9 264.5 259.8 316.5 263.2 316.5 266.8 274.5 264.4 263.5 263.6 245.5 260.8 217.5 257.2 211.5 256.1 205.5 254.8 200.5 253.2 197.5 251.8 195 250.3 192.4 248.3 191.3 247.3 190.6 246.3 190.2 245.3 190.3 244.3 191 243.3 192.6 242.3 194.5 241.5 199.5 240.1 204.7 239.3Z" fill="#eed4a5" stroke="#eed4a5" stroke-width="0.5" fill-rule="evenodd"/>
<path d="M78.5 222.2L86.5 221.7 92.5 221.8 98.5 222.6 106 224.3 122 229.3 127.6 231.3 132.2 233.3 133.7 234.3 134.2 235.3 132.8 236.3 130.5 236.6 126.5 236.9 120.5 236.9 103.5 236.5 96.5 236 90.9 235.3 85.3 234.3 73.5 231.4 70.2 230.3 68 229.3 66.4 228.3 65.5 227.3 65.2 226.3 65.8 225.3 67.4 224.3 68.5 223.9 71.5 223.1 77.9 222.3ZM88.8 226.3L86.1 227.3 85.7 228.3 86.5 229.3 88.5 230.3 91.9 231.3 95.5 231.8 99.5 232 102.5 231.8 105 231.3 105.9 230.3 105.1 229.3 103.2 228.3 100.5 227.3 96 226.3 92.5 226 89.5 226.2ZM218.5 243.3L222.5 243.4 226.5 243.8 243.5 246.5 247.5 246.8 250.5 246.7 259.5 245.5 264.5 245.2 294.5 245.1 309.5 244.4 316.5 244.4 316.5 246.9 312.5 246.6 308.5 246.9 298.5 248.9 293.5 249.4 267.5 250.4 265.5 250.7 263.5 251.2 262.3 252.3 262.8 253.3 264.9 254.3 269.5 255.1 295.5 257.5 309.5 259.8 316.5 260.1 316.5 263.2 264.5 259.8 258.5 258.9 245.5 255.9 222.9 253.3 216.3 252.3 211.9 251.3 205.8 249.3 203.9 248.3 203.1 247.3 203.1 246.3 204.2 245.3 207.9 244.3 213.5 243.6 217.9 243.3Z" fill="#e1b987" stroke="#e1b987" stroke-width="0.5" fill-rule="evenodd"/>
<path d="M89.5 226.2L92.5 226 96 226.3 100.5 227.3 103.2 228.3 105.1 229.3 105.9 230.3 105 231.3 102.5 231.8 99.5 232 95.5 231.8 91.9 231.3 88.5 230.3 86.5 229.3 85.7 228.3 86.1 227.3 88.8 226.3ZM306.5 247.2L311.5 246.6 316.5 246.9 316.5 249.3 312.5 248.8 310.5 248.9 308.4 249.3 305.8 250.3 304.4 251.3 303.6 252.3 303.4 253.3 303.8 254.3 304.8 255.3 307.5 256.6 309.5 257.1 311.5 257.4 313.5 257.4 316.5 257.2 316.5 260.1 312.5 260.1 308.5 259.7 297.5 257.7 291.5 257 271 255.3 264.9 254.3 262.8 253.3 262.3 252.3 263.2 251.3 265.5 250.7 270.5 250.2 287.5 249.7 294.5 249.3 298.5 248.9 305.8 247.3Z" fill="#f0c346" stroke="#f0c346" stroke-width="0.5" fill-rule="evenodd"/>
<path d="M308.5 249.3L310.5 248.9 312.5 248.8 316.5 249.3 316.5 257.2 312.5 257.4 309.5 257.1 306.7 256.3 304.5 255 303.8 254.3 303.4 253.3 303.6 252.3 304.4 251.3 305.8 250.3 308.4 249.3ZM310.9 252.3L310.5 253.3 311.5 253.8 312.5 253.9 313.5 253.8 314.3 253.3 313.9 252.3 312.5 252 311.5 252.1Z" fill="#ffe100" stroke="#ffe100" stroke-width="0.5" fill-rule="evenodd"/>
<path d="M311.5 252.1L312.5 252 313.9 252.3 314.3 253.3 313.5 253.8 312.5 253.9 311.5 253.8 310.5 253.3 310.9 252.3Z" fill="#ffc300" stroke="#ffc300" stroke-width="0.5" fill-rule="evenodd"/>
<path d="M27.5 317.7 26.1 308.5 25.4 304.8 29.6 299.3 33.7 294.2 39.9 290.1 45.0 285.0 49.8 274.7 50.6 270.6 41.9 272.3 35.7 273.7 34.1 271.2 34.3 269.0 29.6 264.5 26.1 262.4 24.4 257.3 21.7 252.2 18.2 246.1 15.1 239.9 12.0 233.8 11.0 231.1 4.8 231.7 -3.4 230.1 -13.7 228.7 -15.8 232.8 -23.0 228.7 -33.3 226.6 -34.3 219.4 -48.7 219.9 -59.0 223.1 -66.3 221.5M12.0 233.8 17.2 237.9 21.3 244.0 25.4 252.2 31.6 261.4 33.7 269.2 37.8 268.6 44.0 266.5 52.2 261.4 58.4 259.4 63.6 256.3 67.7 249.1 62.5 246.1 61.1 240.9 56.3 245.7 51.2 245.0 50.8 242.0 48.1 240.9 45.0 234.8 48.1 233.8 52.2 238.9 57.4 240.7 61.5 239.9 63.6 243.0 70.8 243.6 82.1 243.4 84.2 246.1 86.2 247.1 87.3 249.5 90.4 252.6 94.5 251.2 95.1 256.3 96.5 262.4 98.6 268.6 101.7 274.7 104.8 278.8 106.8 276.8 109.5 274.1 110.3 267.6 110.5 263.5 114.7 261.0 120.2 255.3 124.4 251.2 128.5 250.2 132.6 249.1 134.7 252.2 138.8 258.3 139.8 262.4 142.9 261.4 146.0 260.8 147.0 268.6 148.1 274.7 147.6 278.8 151.8 282.9 154.2 289.1 158.4 292.1 159.8 291.1 158.1 286.0 155.3 282.3 152.2 278.8 151.1 270.6 152.2 267.6 155.3 269.6 157.3 272.7 161.4 276.8 165.2 273.7 169.7 270.6 170.3 266.5 167.6 261.4 164.5 257.3 163.5 254.2 167.6 251.2 171.7 251.6 172.8 253.6 179.0 249.1 185.1 248.1 190.3 243.0 195.4 236.8 196.5 232.8 194.4 229.7 191.3 224.6 193.4 220.5 197.5 219.4 190.3 218.4 188.2 215.3 195.4 212.3 196.5 215.3 202.7 213.3 205.8 218.4 205.3 224.6 210.9 222.9 211.9 219.4 208.8 214.3 214.0 208.2 224.3 206.1 234.6 195.9 235.6 186.7 224.3 183.2 239.8 173.8 264.5 173.4 283.0 168.3 266.5 174.4 265.5 179.5 267.6 190.8 278.9 180.5 281.0 173.4 295.4 172.3 313.9 167.2 311.9 163.1 320.1 162.5 330.4 163.5 336.6 159.0 316.0 153.9 295.4 152.9 274.8 151.9 254.2 148.8 233.6 146.8 215.0 149.8 206.8 146.8 177.9 143.7 159.4 136.5 147.0 139.6 124.4 141.6 109.9 145.7 93.4 146.8 83.1 149.8 85.2 154.9 68.7 153.9 54.3 154.9 35.7 155.4 35.7 159.0 27.5 162.1 21.3 164.2 15.1 159.0 27.5 160.1 29.6 156.0 6.9 151.9 -3.4 149.8 -15.8 151.9 -26.1 156.0 -34.3 164.2 -44.6 169.3 -40.5 176.4 -32.3 174.4 -28.1 181.6 -20.9 179.5 -16.8 172.3 -18.9 168.3 -9.6 160.7 -3.4 161.1 -10.6 166.2 -7.5 172.3 4.8 172.3 -5.5 173.8 -11.7 178.5 -15.8 183.6 -26.1 184.6 -34.3 183.6 -33.3 177.5 -37.4 178.5 -38.4 184.6 -46.7 188.7 -50.8 190.8 -58.0 195.5 -64.2 195.9 -57.0 201.0 -58.0 206.1 -74.1 207.2 -73.5 219.4 -66.3 221.5 -59.0 220.1 -54.9 216.0 -48.7 209.6 -42.6 206.7 -36.4 204.5 -29.2 210.2 -22.6 213.3 -22.0 217.4 -19.9 214.3 -16.8 212.9 -27.1 206.1 -29.6 202.4 -26.7 201.8 -14.7 210.2 -11.7 217.4 -7.5 220.5 -5.5 217.4 -7.5 212.7 -1.3 211.7 0.7 219.4 7.9 220.5 19.3 220.5 18.2 227.6 15.8 231.1 11.0 231.1M4.8 210.8 13.1 209.2 23.4 211.3 30.6 210.2 25.4 205.1 21.3 202.4 14.1 204.1 13.1 201.0 7.9 201.0 3.8 206.1 4.8 210.8M46.0 218.4 56.3 219.4 54.3 213.3 54.3 209.2 51.2 203.1 41.9 202.0 43.0 207.2 47.1 212.3 46.0 218.4M109.9 275.7 113.6 279.8 111.2 282.9 109.5 279.8 109.9 275.7M213.0 230.7 215.0 225.6 219.1 224.6 224.3 224.2 227.4 224.2 231.5 223.5 235.2 221.5 235.6 216.4 236.7 212.3 233.6 212.3 232.5 217.4 227.4 219.4 225.3 221.5 219.1 222.5 215.0 224.6 213.0 226.6 213.0 230.7M234.2 210.2 236.7 207.2 237.3 202.4 243.9 205.1 244.9 207.2 239.8 209.2 234.2 210.2M237.7 201.0 240.8 194.9 238.7 184.6 239.8 192.8 237.7 201.0M194.4 244.0 196.5 245.0 194.0 250.2 192.8 247.1 194.4 244.0M193.4 257.3 196.9 257.7 196.5 262.4 200.6 268.6 198.5 266.9 194.4 266.5 192.4 262.4 193.4 257.3M196.5 280.9 200.6 277.8 205.8 276.8 205.3 281.9 203.7 282.9 200.6 280.9 196.5 280.9M141.5 283.9 147.0 287.0 152.2 291.1 158.4 295.2 160.4 300.3 163.5 301.3 163.1 307.1 160.4 307.1 155.3 303.4 152.2 297.2 148.5 291.7 143.9 287.6 141.5 283.9M162.1 309.1 167.6 308.5 173.4 308.5 177.9 309.5 181.0 311.2 180.6 312.8 171.7 311.6 164.5 310.4 162.1 309.1M169.7 292.1 174.8 291.1 177.9 288.6 183.1 285.0 186.2 280.9 190.3 284.6 187.8 289.1 188.2 293.2 187.2 296.2 185.1 299.3 184.1 303.4 181.0 303.4 177.9 302.0 174.8 302.0 171.7 298.3 169.7 294.6 169.7 292.1M191.9 294.2 193.4 292.7 198.5 293.2 202.7 292.1 199.6 294.4 194.0 294.4 195.4 297.2 199.2 297.2 196.1 299.3 197.5 302.0 198.1 305.0 195.4 305.0 194.4 301.3 193.0 301.3 193.2 306.5 191.3 306.5 191.3 302.4 189.9 300.7 191.9 294.2M215.0 296.8 221.2 296.8 223.3 302.0 229.4 298.7 235.6 300.5 243.9 304.0 249.6 307.5 247.0 309.5 249.0 313.6 255.2 316.7 248.0 316.7 239.8 313.6 235.6 314.0 231.5 311.6 229.4 312.2 228.4 305.8 223.3 304.2 219.1 303.4 217.1 300.9 215.0 296.8M169.1 254.5 173.4 254.2 172.4 257.5 169.3 257.1 169.1 254.5M52.2 149.8 60.5 144.7 72.8 139.6 85.2 137.5 68.7 141.6 58.4 147.8 52.2 149.8" fill="none" stroke="#6a6a6a" stroke-width="0.35" stroke-opacity="0.75" stroke-linejoin="round"/>
<path d="M148.5 212.8L149.5 212.8 150 212.3 157 212.3 157.5 212.8 158.5 212.8 159 213.3 159 214.3 157.5 215.8 149.5 215.8 148 214.3 148 213.3ZM211.5 240.8L222.5 240.8 223.5 241.8 224.5 241.8 226 243.3 226 244.3 223.5 246.8 220.5 246.8 219.5 247.8 214.5 247.8 213.5 246.8 210.5 246.8 208 244.3 208 243.3 209.5 241.8 210.5 241.8 211 241.3ZM27.5 243.8L61.5 243.8 62.5 244.8 68.5 244.8 69.5 245.8 76.5 245.8 77.5 246.8 83.5 246.8 84.5 247.8 90.5 247.8 91.5 248.8 98.5 248.8 99.5 249.8 102.5 249.8 103.5 250.8 105.5 250.8 106.5 251.8 109.5 251.8 110.5 252.8 113.5 252.8 114.5 253.8 116.5 253.8 117.5 254.8 120.5 254.8 121.5 255.8 123.5 255.8 124.5 256.8 126.5 256.8 127.5 257.8 128.5 257.8 129.5 258.8 130.5 258.8 131.5 259.8 132.5 259.8 133.5 260.8 134.5 260.8 135.5 261.8 136.5 261.8 137.5 262.8 138.5 262.8 140.5 264.8 141.5 264.8 144.5 267.8 145.5 267.8 148.5 270.8 149.5 270.8 150.5 271.8 162.5 271.8 163.5 272.8 179.5 272.8 180.5 273.8 196.5 273.8 197.5 274.8 199.5 274.8 200 275.3 200 279.3 199.5 279.8 26.5 279.8 26.5 243.8ZM311.5 246.8L314.5 246.8 316.5 248.8 316.5 255.8 316 256.3 316 257.3 315.5 257.8 314.5 257.8 313.5 258.8 312.5 258.8 311.5 257.8 310.5 257.8 310 257.3 310 256.3 309 255.3 309 249.3 311 247.3Z" fill="url(#dotsb)" fill-rule="evenodd"/>
<g stroke="#000" fill="#000" stroke-linecap="butt">
<path d="M81.6 215.5L83.8 215.3" stroke-width="1.40" fill="none"/><path d="M86.8 214.9L83.3 216.4L83.1 214.2Z" stroke="none"/>
<path d="M91.2 215.2L94.5 215.2" stroke-width="1.40" fill="none"/><path d="M97.7 215.2L93.9 216.4L93.9 214.0Z" stroke="none"/>
<path d="M99.9 215.2L104.8 215.4" stroke-width="1.40" fill="none"/><path d="M108.0 215.5L104.2 216.6L104.2 214.2Z" stroke="none"/>
<path d="M36.2 220.1L37.7 219.2" stroke-width="1.40" fill="none"/><path d="M39.9 217.9L37.7 220.3L36.7 218.6Z" stroke="none"/>
<path d="M117.5 218.1L120.3 219.1" stroke-width="1.40" fill="none"/><path d="M123.4 220.1L119.4 220.0L120.1 217.8Z" stroke="none"/>
<path d="M27.2 223.0L27.8 222.7" stroke-width="1.40" fill="none"/><path d="M29.7 222.0L27.6 223.7L26.9 222.2Z" stroke="none"/>
<path d="M77.2 224.0L78.9 223.2" stroke-width="1.40" fill="none"/><path d="M81.3 222.0L78.9 224.3L77.9 222.5Z" stroke="none"/>
<path d="M86.0 223.0L88.7 222.6" stroke-width="1.40" fill="none"/><path d="M91.9 222.2L88.3 223.9L88.0 221.6Z" stroke="none"/>
<path d="M95.5 223.0L99.7 223.0" stroke-width="1.40" fill="none"/><path d="M102.9 223.0L99.1 224.2L99.1 221.8Z" stroke="none"/>
<path d="M106.5 222.5L109.9 223.0" stroke-width="1.40" fill="none"/><path d="M113.1 223.4L109.2 224.1L109.5 221.8Z" stroke="none"/>
<path d="M123.4 225.9L124.4 226.6" stroke-width="1.40" fill="none"/><path d="M126.0 227.8L123.4 226.9L124.3 225.6Z" stroke="none"/>
<path d="M80.5 232.5L79.1 231.0" stroke-width="1.40" fill="none"/><path d="M77.2 228.8L80.3 230.7L78.7 232.1Z" stroke="none"/>
<path d="M102.1 235.1L100.0 234.8" stroke-width="1.40" fill="none"/><path d="M97.0 234.4L100.7 233.8L100.4 236.0Z" stroke="none"/>
<path d="M61.9 235.4L59.2 234.9" stroke-width="1.40" fill="none"/><path d="M56.0 234.3L60.0 233.8L59.5 236.2Z" stroke="none"/>
<path d="M70.7 235.7L68.3 234.9" stroke-width="1.40" fill="none"/><path d="M65.2 234.0L69.2 234.0L68.5 236.3Z" stroke="none"/>
<path d="M82.4 239.8L78.1 238.5" stroke-width="1.40" fill="none"/><path d="M75.0 237.6L79.0 237.6L78.3 239.8Z" stroke="none"/>
<path d="M92.6 239.8L88.4 238.5" stroke-width="1.40" fill="none"/><path d="M85.3 237.6L89.3 237.6L88.6 239.8Z" stroke="none"/>
<path d="M119.7 240.1L116.2 239.0" stroke-width="1.40" fill="none"/><path d="M113.1 238.1L117.1 238.1L116.4 240.3Z" stroke="none"/>
<path d="M126.0 240.6L124.0 239.9" stroke-width="1.40" fill="none"/><path d="M121.2 239.1L124.9 239.1L124.2 241.2Z" stroke="none"/>
<path d="M52.4 242.5L47.5 243.1" stroke-width="1.40" fill="none"/><path d="M44.3 243.5L47.9 241.8L48.2 244.2Z" stroke="none"/>
<path d="M61.1 243.0L57.7 242.7" stroke-width="1.40" fill="none"/><path d="M54.6 242.5L58.4 241.6L58.2 244.0Z" stroke="none"/>
<path d="M69.9 243.5L67.5 242.8" stroke-width="1.40" fill="none"/><path d="M64.4 242.0L68.3 241.8L67.7 244.1Z" stroke="none"/>
<path d="M108.0 243.5L104.5 242.5" stroke-width="1.40" fill="none"/><path d="M101.4 241.6L105.4 241.5L104.7 243.8Z" stroke="none"/>
<path d="M40.6 246.0L39.2 246.7" stroke-width="1.40" fill="none"/><path d="M37.0 247.9L39.3 245.6L40.1 247.3Z" stroke="none"/>
<path d="M89.7 247.1L84.0 246.0" stroke-width="1.40" fill="none"/><path d="M80.9 245.4L84.9 245.0L84.4 247.3Z" stroke="none"/>
<path d="M98.5 247.9L93.5 246.7" stroke-width="1.40" fill="none"/><path d="M90.4 246.0L94.4 245.7L93.8 248.0Z" stroke="none"/>
<path d="M122.6 247.9L120.3 246.5" stroke-width="1.40" fill="none"/><path d="M117.5 244.9L121.4 245.8L120.2 247.9Z" stroke="none"/>
<path d="M57.5 250.4L54.1 250.8" stroke-width="1.40" fill="none"/><path d="M50.9 251.2L54.5 249.6L54.8 251.9Z" stroke="none"/>
<path d="M66.3 251.2L63.5 250.7" stroke-width="1.40" fill="none"/><path d="M60.4 250.1L64.4 249.7L63.9 252.0Z" stroke="none"/>
<path d="M76.5 251.8L73.0 250.7" stroke-width="1.40" fill="none"/><path d="M69.9 249.8L73.9 249.8L73.2 252.0Z" stroke="none"/>
<path d="M112.4 252.3L109.9 250.5" stroke-width="1.40" fill="none"/><path d="M107.3 248.6L111.0 249.9L109.7 251.8Z" stroke="none"/>
<path d="M37.0 253.7L37.3 254.3" stroke-width="1.40" fill="none"/><path d="M38.4 255.9L36.3 254.2L37.7 253.3Z" stroke="none"/>
<path d="M94.1 256.7L90.8 254.2" stroke-width="1.40" fill="none"/><path d="M88.2 252.3L92.0 253.6L90.6 255.5Z" stroke="none"/>
<path d="M102.1 255.9L100.1 254.0" stroke-width="1.40" fill="none"/><path d="M97.7 251.8L101.3 253.6L99.7 255.3Z" stroke="none"/>
<path d="M115.6 258.6L112.4 256.3" stroke-width="1.40" fill="none"/><path d="M109.7 254.5L113.5 255.7L112.2 257.6Z" stroke="none"/>
<path d="M83.8 260.3L83.6 259.3" stroke-width="1.40" fill="none"/><path d="M83.1 257.4L84.5 259.7L82.9 260.1Z" stroke="none"/>
<path d="M91.2 262.5L90.9 261.5" stroke-width="1.40" fill="none"/><path d="M90.4 259.6L91.8 261.9L90.3 262.3Z" stroke="none"/>
<path d="M128.2 214.2L130.5 215.5" stroke-width="1.40" fill="none"/><path d="M133.3 217.1L129.4 216.3L130.6 214.2Z" stroke="none"/>
<path d="M138.4 214.2L140.8 215.5" stroke-width="1.40" fill="none"/><path d="M143.6 217.1L139.7 216.3L140.9 214.2Z" stroke="none"/>
<path d="M131.9 222.0L136.2 223.7" stroke-width="1.40" fill="none"/><path d="M139.2 224.9L135.2 224.6L136.1 222.4Z" stroke="none"/>
<path d="M142.1 222.2L146.4 223.8" stroke-width="1.40" fill="none"/><path d="M149.4 224.9L145.5 224.7L146.2 222.5Z" stroke="none"/>
<path d="M153.1 222.5L156.7 223.8" stroke-width="1.40" fill="none"/><path d="M159.7 224.9L155.7 224.7L156.5 222.5Z" stroke="none"/>
<path d="M174.3 223.7L176.5 223.4" stroke-width="1.40" fill="none"/><path d="M179.4 223.0L176.0 224.6L175.7 222.4Z" stroke="none"/>
<path d="M163.3 226.6L166.7 227.0" stroke-width="1.40" fill="none"/><path d="M169.9 227.4L166.0 228.1L166.3 225.8Z" stroke="none"/>
<path d="M184.6 227.4L187.3 226.9" stroke-width="1.40" fill="none"/><path d="M190.4 226.3L186.9 228.2L186.5 225.8Z" stroke="none"/>
<path d="M194.1 226.9L196.8 226.7" stroke-width="1.40" fill="none"/><path d="M199.9 226.3L196.3 227.9L196.0 225.6Z" stroke="none"/>
<path d="M132.6 230.7L135.2 230.9" stroke-width="1.40" fill="none"/><path d="M138.4 231.0L134.6 232.0L134.7 229.7Z" stroke="none"/>
<path d="M142.8 230.7L145.5 231.2" stroke-width="1.40" fill="none"/><path d="M148.7 231.8L144.7 232.3L145.2 230.0Z" stroke="none"/>
<path d="M153.1 230.7L156.5 231.0" stroke-width="1.40" fill="none"/><path d="M159.7 231.3L155.8 232.2L156.0 229.8Z" stroke="none"/>
<path d="M173.6 231.0L176.3 230.7" stroke-width="1.40" fill="none"/><path d="M179.4 230.3L175.8 231.9L175.5 229.6Z" stroke="none"/>
<path d="M163.3 235.1L166.0 234.9" stroke-width="1.40" fill="none"/><path d="M169.2 234.7L165.5 236.2L165.3 233.8Z" stroke="none"/>
<path d="M134.1 247.9L129.8 246.4" stroke-width="1.40" fill="none"/><path d="M126.7 245.4L130.7 245.5L130.0 247.7Z" stroke="none"/>
<path d="M143.6 247.1L140.8 246.5" stroke-width="1.40" fill="none"/><path d="M137.7 245.7L141.7 245.5L141.1 247.7Z" stroke="none"/>
<path d="M192.6 243.5L192.3 242.9" stroke-width="1.40" fill="none"/><path d="M191.2 241.3L193.3 243.0L191.9 243.9Z" stroke="none"/>
<path d="M178.0 251.5L176.8 250.7" stroke-width="1.40" fill="none"/><path d="M175.0 249.3L177.8 250.3L176.8 251.7Z" stroke="none"/>
<path d="M189.0 251.8L187.1 250.6" stroke-width="1.40" fill="none"/><path d="M184.6 248.9L188.2 250.0L187.0 251.9Z" stroke="none"/>
<path d="M199.9 252.3L196.5 250.7" stroke-width="1.40" fill="none"/><path d="M193.6 249.3L197.6 249.9L196.6 252.0Z" stroke="none"/>
<path d="M138.4 255.9L136.1 254.6" stroke-width="1.40" fill="none"/><path d="M133.3 253.0L137.2 253.9L136.0 255.9Z" stroke="none"/>
<path d="M216.0 255.9L211.7 254.4" stroke-width="1.40" fill="none"/><path d="M208.7 253.3L212.7 253.5L211.9 255.7Z" stroke="none"/>
<path d="M226.0 255.6L222.8 254.7" stroke-width="1.40" fill="none"/><path d="M219.7 253.7L223.7 253.7L223.0 256.0Z" stroke="none"/>
<path d="M163.3 258.6L161.5 258.4" stroke-width="1.40" fill="none"/><path d="M158.9 258.1L162.2 257.4L162.0 259.4Z" stroke="none"/>
<path d="M174.3 259.6L171.5 258.7" stroke-width="1.40" fill="none"/><path d="M168.5 257.7L172.4 257.7L171.7 260.0Z" stroke="none"/>
<path d="M184.6 259.6L181.7 258.5" stroke-width="1.40" fill="none"/><path d="M178.7 257.4L182.7 257.6L181.9 259.8Z" stroke="none"/>
<path d="M194.8 259.6L191.3 258.4" stroke-width="1.40" fill="none"/><path d="M188.2 257.4L192.2 257.5L191.5 259.7Z" stroke="none"/>
<path d="M205.8 259.6L200.7 257.7" stroke-width="1.40" fill="none"/><path d="M197.7 256.7L201.7 256.8L200.9 259.1Z" stroke="none"/>
<path d="M132.6 262.5L130.4 262.2" stroke-width="1.40" fill="none"/><path d="M127.5 261.8L131.2 261.2L130.9 263.4Z" stroke="none"/>
<path d="M142.8 263.0L140.7 262.5" stroke-width="1.40" fill="none"/><path d="M137.7 261.8L141.5 261.5L141.0 263.7Z" stroke="none"/>
<path d="M153.1 262.5L150.9 262.3" stroke-width="1.40" fill="none"/><path d="M148.0 262.1L151.6 261.3L151.4 263.5Z" stroke="none"/>
<path d="M215.3 262.5L210.4 261.3" stroke-width="1.40" fill="none"/><path d="M207.3 260.6L211.2 260.3L210.7 262.6Z" stroke="none"/>
<path d="M226.0 262.5L221.4 261.9" stroke-width="1.40" fill="none"/><path d="M218.2 261.5L222.2 260.8L221.9 263.2Z" stroke="none"/>
<path d="M296.9 218.1L298.3 218.9" stroke-width="1.40" fill="none"/><path d="M300.5 220.1L297.4 219.5L298.2 217.8Z" stroke="none"/>
<path d="M302.7 231.3L304.9 231.2" stroke-width="1.40" fill="none"/><path d="M307.8 231.0L304.4 232.3L304.2 230.1Z" stroke="none"/>
<path d="M309.6 231.0L312.0 230.9" stroke-width="1.40" fill="none"/><path d="M315.2 230.7L311.4 232.1L311.3 229.8Z" stroke="none"/>
<path d="M274.9 239.5L280.5 238.6" stroke-width="1.40" fill="none"/><path d="M283.7 238.1L280.1 239.8L279.7 237.5Z" stroke="none"/>
<path d="M285.2 239.1L290.0 238.6" stroke-width="1.40" fill="none"/><path d="M293.2 238.4L289.5 239.9L289.3 237.5Z" stroke="none"/>
<path d="M295.4 239.1L301.0 238.6" stroke-width="1.40" fill="none"/><path d="M304.2 238.4L300.5 239.8L300.3 237.5Z" stroke="none"/>
<path d="M306.4 239.1L312.0 238.4" stroke-width="1.40" fill="none"/><path d="M315.2 238.1L311.5 239.7L311.3 237.3Z" stroke="none"/>
<path d="M264.7 243.9L269.6 242.6" stroke-width="1.40" fill="none"/><path d="M272.7 241.7L269.4 243.9L268.7 241.6Z" stroke="none"/>
<path d="M255.9 247.9L258.8 246.6" stroke-width="1.40" fill="none"/><path d="M261.7 245.4L258.7 248.0L257.8 245.8Z" stroke="none"/>
<path d="M280.8 247.4L284.9 246.6" stroke-width="1.40" fill="none"/><path d="M288.1 246.0L284.6 247.9L284.1 245.6Z" stroke="none"/>
<path d="M291.0 247.4L295.2 246.6" stroke-width="1.40" fill="none"/><path d="M298.3 246.0L294.8 247.9L294.4 245.6Z" stroke="none"/>
<path d="M301.3 247.4L306.2 246.4" stroke-width="1.40" fill="none"/><path d="M309.3 245.7L305.9 247.6L305.3 245.3Z" stroke="none"/>
<path d="M270.5 251.8L273.3 250.8" stroke-width="1.40" fill="none"/><path d="M276.4 249.8L273.2 252.1L272.4 249.9Z" stroke="none"/>
<path d="M254.4 255.9L253.7 254.8" stroke-width="1.40" fill="none"/><path d="M252.5 253.0L254.7 254.8L253.3 255.8Z" stroke="none"/>
<path d="M263.9 256.2L263.6 254.9" stroke-width="1.40" fill="none"/><path d="M263.2 252.7L264.6 255.3L262.9 255.6Z" stroke="none"/>
<path d="M233.9 255.6L231.7 254.6" stroke-width="1.40" fill="none"/><path d="M228.8 253.3L232.7 253.8L231.8 255.9Z" stroke="none"/>
<path d="M307.8 254.8L305.7 254.5" stroke-width="1.40" fill="none"/><path d="M302.7 254.2L306.4 253.5L306.2 255.7Z" stroke="none"/>
<path d="M238.3 263.0L233.4 262.1" stroke-width="1.40" fill="none"/><path d="M230.2 261.5L234.2 261.0L233.8 263.3Z" stroke="none"/>
<path d="M249.3 263.0L243.7 262.2" stroke-width="1.40" fill="none"/><path d="M240.5 261.8L244.4 261.1L244.1 263.5Z" stroke="none"/>
<path d="M259.5 262.5L253.1 261.0" stroke-width="1.43" fill="none"/><path d="M250.0 260.3L254.0 260.0L253.5 262.3Z" stroke="none"/>
<path d="M270.5 263.0L264.9 262.2" stroke-width="1.40" fill="none"/><path d="M261.7 261.8L265.7 261.1L265.3 263.5Z" stroke="none"/>
<path d="M281.5 263.2L273.7 262.7" stroke-width="1.47" fill="none"/><path d="M270.5 262.5L274.4 261.6L274.2 263.9Z" stroke="none"/>
<path d="M291.7 263.2L284.7 263.0" stroke-width="1.44" fill="none"/><path d="M281.5 263.0L285.3 261.9L285.3 264.2Z" stroke="none"/>
<path d="M302.0 263.2L294.9 263.0" stroke-width="1.44" fill="none"/><path d="M291.7 263.0L295.6 261.9L295.5 264.2Z" stroke="none"/>
<path d="M315.2 263.0L305.9 262.6" stroke-width="1.52" fill="none"/><path d="M302.7 262.5L306.6 261.5L306.5 263.8Z" stroke="none"/>
<path d="M118.2 265.5L119.7 266.0" stroke-width="1.40" fill="none"/><path d="M121.9 266.9L118.8 266.7L119.5 265.0Z" stroke="none"/>
<path d="M87.5 271.3L89.0 270.4" stroke-width="1.40" fill="none"/><path d="M91.2 269.1L89.0 271.6L88.0 269.9Z" stroke="none"/>
<path d="M98.5 271.3L99.6 270.5" stroke-width="1.40" fill="none"/><path d="M101.4 269.1L99.7 271.5L98.6 270.1Z" stroke="none"/>
<path d="M110.2 269.0L110.2 271.7L108.6 271.2Z" stroke="none"/>
<path d="M77.2 275.4L79.1 274.4" stroke-width="1.40" fill="none"/><path d="M81.6 273.1L79.1 275.7L78.0 273.8Z" stroke="none"/>
<path d="M87.5 278.9L89.3 278.2" stroke-width="1.40" fill="none"/><path d="M91.9 277.2L89.1 279.4L88.4 277.5Z" stroke="none"/>
<path d="M97.7 278.6L99.6 278.0" stroke-width="1.40" fill="none"/><path d="M102.1 277.2L99.3 279.2L98.7 277.3Z" stroke="none"/>
<path d="M38.7 279.1L36.8 277.1L38.2 276.4Z" stroke="none"/>
<path d="M67.0 282.7L68.5 282.2" stroke-width="1.40" fill="none"/><path d="M70.7 281.3L68.2 283.2L67.6 281.5Z" stroke="none"/>
<path d="M76.5 282.7L78.7 282.1" stroke-width="1.40" fill="none"/><path d="M81.6 281.3L78.4 283.4L77.8 281.2Z" stroke="none"/>
<path d="M48.8 283.2L46.5 281.7L47.7 280.6Z" stroke="none"/>
<path d="M91.9 286.7L94.1 285.9" stroke-width="1.40" fill="none"/><path d="M97.0 284.8L93.9 287.2L93.1 285.0Z" stroke="none"/>
<path d="M102.1 286.7L104.3 286.1" stroke-width="1.40" fill="none"/><path d="M107.3 285.2L104.0 287.3L103.4 285.1Z" stroke="none"/>
<path d="M37.0 285.2L37.5 285.6" stroke-width="1.40" fill="none"/><path d="M39.2 286.7L36.6 285.9L37.5 284.6Z" stroke="none"/>
<path d="M50.9 289.6L53.1 289.6" stroke-width="1.40" fill="none"/><path d="M56.0 289.6L52.5 290.7L52.5 288.5Z" stroke="none"/>
<path d="M61.1 290.6L63.3 289.9" stroke-width="1.40" fill="none"/><path d="M66.3 288.9L63.1 291.2L62.4 289.0Z" stroke="none"/>
<path d="M71.4 290.6L73.6 289.8" stroke-width="1.40" fill="none"/><path d="M76.5 288.6L73.5 291.1L72.6 288.9Z" stroke="none"/>
<path d="M81.3 290.6L83.8 289.7" stroke-width="1.40" fill="none"/><path d="M86.8 288.6L83.6 291.0L82.8 288.8Z" stroke="none"/>
<path d="M112.4 290.6L114.6 290.0" stroke-width="1.40" fill="none"/><path d="M117.5 289.2L114.3 291.3L113.7 289.1Z" stroke="none"/>
<path d="M122.6 290.1L123.9 289.7" stroke-width="1.40" fill="none"/><path d="M126.0 289.2L123.6 290.7L123.1 289.1Z" stroke="none"/>
<path d="M40.6 293.3L42.4 293.6" stroke-width="1.40" fill="none"/><path d="M45.0 294.0L41.7 294.5L42.0 292.5Z" stroke="none"/>
<path d="M91.9 294.5L94.1 293.6" stroke-width="1.40" fill="none"/><path d="M97.0 292.6L93.9 294.9L93.1 292.8Z" stroke="none"/>
<path d="M102.1 294.5L104.3 293.6" stroke-width="1.40" fill="none"/><path d="M107.3 292.6L104.2 294.9L103.4 292.8Z" stroke="none"/>
<path d="M50.2 297.7L53.5 297.5" stroke-width="1.40" fill="none"/><path d="M56.7 297.4L53.0 298.7L52.9 296.4Z" stroke="none"/>
<path d="M60.4 298.4L63.9 297.6" stroke-width="1.40" fill="none"/><path d="M67.0 296.9L63.5 298.9L63.0 296.6Z" stroke="none"/>
<path d="M71.4 298.4L73.6 297.6" stroke-width="1.40" fill="none"/><path d="M76.5 296.5L73.4 298.9L72.6 296.7Z" stroke="none"/>
<path d="M81.3 298.4L83.7 297.6" stroke-width="1.40" fill="none"/><path d="M86.8 296.5L83.6 298.9L82.8 296.7Z" stroke="none"/>
<path d="M112.4 298.0L114.6 297.5" stroke-width="1.40" fill="none"/><path d="M117.5 296.9L114.2 298.7L113.7 296.6Z" stroke="none"/>
<path d="M121.9 297.7L123.6 297.6" stroke-width="1.40" fill="none"/><path d="M126.0 297.4L123.0 298.5L122.9 296.7Z" stroke="none"/>
<path d="M92.6 302.1L94.4 301.5" stroke-width="1.40" fill="none"/><path d="M97.0 300.6L94.2 302.6L93.5 300.7Z" stroke="none"/>
<path d="M102.1 302.1L104.3 301.4" stroke-width="1.40" fill="none"/><path d="M107.3 300.6L104.0 302.7L103.4 300.5Z" stroke="none"/>
<path d="M112.4 305.7L114.5 305.4" stroke-width="1.40" fill="none"/><path d="M117.5 305.0L114.1 306.6L113.8 304.4Z" stroke="none"/>
<path d="M121.9 305.7L123.6 305.6" stroke-width="1.40" fill="none"/><path d="M126.0 305.3L123.1 306.6L122.9 304.7Z" stroke="none"/>
<path d="M102.1 308.7L103.9 309.0" stroke-width="1.40" fill="none"/><path d="M106.5 309.4L103.2 309.8L103.5 307.9Z" stroke="none"/>
<path d="M27.5 312.6L29.3 312.4" stroke-width="1.40" fill="none"/><path d="M31.9 312.0L28.8 313.4L28.5 311.5Z" stroke="none"/>
<path d="M34.8 313.5L37.6 312.6" stroke-width="1.40" fill="none"/><path d="M40.6 311.6L37.4 313.9L36.7 311.6Z" stroke="none"/>
<path d="M45.8 313.8L48.0 312.6" stroke-width="1.40" fill="none"/><path d="M50.9 311.1L48.0 313.9L47.0 311.8Z" stroke="none"/>
<path d="M118.2 312.3L119.7 312.8" stroke-width="1.40" fill="none"/><path d="M121.9 313.5L118.8 313.5L119.4 311.7Z" stroke="none"/>
<path d="M164.1 265.8L161.4 266.0" stroke-width="1.40" fill="none"/><path d="M158.2 266.2L161.9 264.7L162.1 267.1Z" stroke="none"/>
<path d="M174.3 266.6L171.6 266.1" stroke-width="1.40" fill="none"/><path d="M168.5 265.5L172.4 265.1L172.0 267.4Z" stroke="none"/>
<path d="M184.6 266.2L181.2 266.0" stroke-width="1.40" fill="none"/><path d="M178.0 265.8L181.8 264.8L181.7 267.2Z" stroke="none"/>
<path d="M194.8 266.2L191.4 266.0" stroke-width="1.40" fill="none"/><path d="M188.2 265.8L192.1 264.8L191.9 267.2Z" stroke="none"/>
<path d="M206.5 266.6L200.9 266.1" stroke-width="1.40" fill="none"/><path d="M197.7 265.8L201.6 265.0L201.4 267.3Z" stroke="none"/>
<path d="M142.8 269.9L140.7 270.2" stroke-width="1.40" fill="none"/><path d="M137.7 270.6L141.1 269.0L141.4 271.2Z" stroke="none"/>
<path d="M153.1 269.9L150.9 270.2" stroke-width="1.40" fill="none"/><path d="M148.0 270.6L151.4 269.0L151.7 271.2Z" stroke="none"/>
<path d="M219.7 270.6L216.2 269.8" stroke-width="1.40" fill="none"/><path d="M213.1 269.1L217.1 268.8L216.6 271.1Z" stroke="none"/>
<path d="M169.2 273.5L167.0 274.0" stroke-width="1.40" fill="none"/><path d="M164.1 274.5L167.4 272.7L167.8 274.9Z" stroke="none"/>
<path d="M179.4 274.0L176.8 274.1" stroke-width="1.40" fill="none"/><path d="M173.6 274.2L177.3 272.9L177.4 275.2Z" stroke="none"/>
<path d="M189.7 274.0L186.3 274.3" stroke-width="1.40" fill="none"/><path d="M183.1 274.5L186.8 273.0L187.0 275.4Z" stroke="none"/>
<path d="M200.7 274.0L196.5 274.1" stroke-width="1.40" fill="none"/><path d="M193.3 274.2L197.1 272.9L197.2 275.3Z" stroke="none"/>
<path d="M211.7 274.2L206.8 274.1" stroke-width="1.40" fill="none"/><path d="M203.6 274.0L207.4 272.9L207.4 275.3Z" stroke="none"/>
<path d="M137.0 277.2L136.3 277.7" stroke-width="1.40" fill="none"/><path d="M134.8 278.9L136.3 276.7L137.3 277.9Z" stroke="none"/>
<path d="M146.5 277.2L145.4 277.8" stroke-width="1.40" fill="none"/><path d="M143.6 278.9L145.5 276.8L146.3 278.3Z" stroke="none"/>
<path d="M157.5 276.9L156.0 277.7" stroke-width="1.40" fill="none"/><path d="M153.8 278.9L156.1 276.6L157.0 278.3Z" stroke="none"/>
<path d="M226.0 277.5L223.6 277.8" stroke-width="1.40" fill="none"/><path d="M220.4 278.3L224.0 276.6L224.4 278.9Z" stroke="none"/>
<path d="M173.6 281.3L171.8 281.9" stroke-width="1.40" fill="none"/><path d="M169.2 282.7L172.0 280.7L172.7 282.7Z" stroke="none"/>
<path d="M183.8 281.3L182.0 281.9" stroke-width="1.40" fill="none"/><path d="M179.4 282.7L182.3 280.7L182.9 282.7Z" stroke="none"/>
<path d="M194.1 281.3L191.9 281.9" stroke-width="1.40" fill="none"/><path d="M189.0 282.7L192.2 280.6L192.8 282.8Z" stroke="none"/>
<path d="M205.1 281.6L202.3 282.3" stroke-width="1.40" fill="none"/><path d="M199.2 283.0L202.6 281.0L203.2 283.3Z" stroke="none"/>
<path d="M215.3 281.3L212.5 282.1" stroke-width="1.40" fill="none"/><path d="M209.5 283.0L212.8 280.8L213.4 283.1Z" stroke="none"/>
<path d="M144.3 284.5L145.5 285.7" stroke-width="1.40" fill="none"/><path d="M147.2 287.4L144.4 285.9L145.7 284.6Z" stroke="none"/>
<path d="M155.3 284.5L155.8 285.6" stroke-width="1.40" fill="none"/><path d="M156.7 287.4L154.8 285.4L156.3 284.7Z" stroke="none"/>
<path d="M128.6 290.3L125.9 289.6L126.8 288.3Z" stroke="none"/>
<path d="M165.5 288.9L165.9 289.4" stroke-width="1.40" fill="none"/><path d="M167.0 291.1L164.9 289.4L166.2 288.5Z" stroke="none"/>
<path d="M178.0 288.9L177.2 289.7" stroke-width="1.40" fill="none"/><path d="M175.8 291.1L177.0 288.7L178.2 289.8Z" stroke="none"/>
<path d="M189.0 288.2L187.4 289.6" stroke-width="1.40" fill="none"/><path d="M185.3 291.5L187.1 288.4L188.6 290.0Z" stroke="none"/>
<path d="M199.2 288.2L197.3 289.8" stroke-width="1.40" fill="none"/><path d="M194.8 291.8L197.0 288.5L198.5 290.3Z" stroke="none"/>
<path d="M210.2 288.2L207.7 290.0" stroke-width="1.40" fill="none"/><path d="M205.1 291.8L207.5 288.7L208.8 290.6Z" stroke="none"/>
<path d="M220.4 287.4L217.7 289.7" stroke-width="1.40" fill="none"/><path d="M215.3 291.8L217.4 288.5L219.0 290.2Z" stroke="none"/>
<path d="M143.6 291.8L145.1 293.0" stroke-width="1.40" fill="none"/><path d="M147.2 294.7L144.0 293.5L145.3 291.8Z" stroke="none"/>
<path d="M154.6 291.8L155.7 293.0" stroke-width="1.40" fill="none"/><path d="M157.5 294.7L154.6 293.2L156.0 291.9Z" stroke="none"/>
<path d="M127.5 296.9L128.4 297.1" stroke-width="1.40" fill="none"/><path d="M130.4 297.4L127.7 297.8L127.9 296.2Z" stroke="none"/>
<path d="M133.3 296.9L135.5 297.4" stroke-width="1.40" fill="none"/><path d="M138.4 298.0L134.7 298.4L135.1 296.2Z" stroke="none"/>
<path d="M169.9 296.2L171.1 297.4" stroke-width="1.40" fill="none"/><path d="M172.9 299.1L170.0 297.6L171.4 296.3Z" stroke="none"/>
<path d="M180.9 295.5L181.5 297.3" stroke-width="1.40" fill="none"/><path d="M182.4 299.9L180.3 297.1L182.3 296.4Z" stroke="none"/>
<path d="M193.3 295.5L192.1 297.3" stroke-width="1.40" fill="none"/><path d="M190.4 299.9L191.5 296.2L193.4 297.5Z" stroke="none"/>
<path d="M203.6 295.5L202.0 297.4" stroke-width="1.40" fill="none"/><path d="M199.9 299.9L201.5 296.2L203.3 297.7Z" stroke="none"/>
<path d="M214.6 295.5L212.3 298.2" stroke-width="1.40" fill="none"/><path d="M210.2 300.6L211.8 297.0L213.6 298.5Z" stroke="none"/>
<path d="M226.0 295.5L223.5 297.7" stroke-width="1.40" fill="none"/><path d="M221.2 299.9L223.2 296.4L224.8 298.2Z" stroke="none"/>
<path d="M142.8 300.6L145.6 301.1" stroke-width="1.40" fill="none"/><path d="M148.7 301.8L144.7 302.2L145.2 299.9Z" stroke="none"/>
<path d="M153.8 300.6L155.6 301.1" stroke-width="1.40" fill="none"/><path d="M158.2 301.8L154.8 301.9L155.3 300.0Z" stroke="none"/>
<path d="M126.0 305.3L127.8 305.3" stroke-width="1.40" fill="none"/><path d="M130.4 305.3L127.2 306.3L127.2 304.3Z" stroke="none"/>
<path d="M132.6 305.7L136.0 305.3" stroke-width="1.40" fill="none"/><path d="M139.2 305.0L135.5 306.6L135.3 304.2Z" stroke="none"/>
<path d="M181.6 302.8L181.9 304.6" stroke-width="1.40" fill="none"/><path d="M182.4 307.2L180.9 304.2L182.8 303.8Z" stroke="none"/>
<path d="M194.1 302.8L192.3 305.3" stroke-width="1.40" fill="none"/><path d="M190.4 307.9L191.7 304.1L193.6 305.5Z" stroke="none"/>
<path d="M204.3 302.8L202.5 305.3" stroke-width="1.40" fill="none"/><path d="M200.7 307.9L201.9 304.1L203.8 305.5Z" stroke="none"/>
<path d="M214.6 303.2L212.9 305.4" stroke-width="1.40" fill="none"/><path d="M210.9 307.9L212.3 304.2L214.2 305.7Z" stroke="none"/>
<path d="M224.1 303.5L222.5 305.1" stroke-width="1.40" fill="none"/><path d="M220.4 307.2L222.2 303.9L223.8 305.4Z" stroke="none"/>
<path d="M148.0 308.2L150.7 308.9" stroke-width="1.40" fill="none"/><path d="M153.8 309.7L149.8 309.9L150.4 307.6Z" stroke="none"/>
<path d="M127.5 313.0L129.6 313.0" stroke-width="1.40" fill="none"/><path d="M132.6 313.0L129.0 314.2L129.0 311.9Z" stroke="none"/>
<path d="M137.7 312.6L139.9 313.0" stroke-width="1.40" fill="none"/><path d="M142.8 313.5L139.1 314.0L139.5 311.8Z" stroke="none"/>
<path d="M186.8 310.9L186.5 312.3" stroke-width="1.40" fill="none"/><path d="M186.0 314.5L185.7 311.5L187.5 311.9Z" stroke="none"/>
<path d="M198.5 310.9L197.2 312.6" stroke-width="1.40" fill="none"/><path d="M195.5 315.0L196.7 311.5L198.5 312.7Z" stroke="none"/>
<path d="M208.7 310.9L207.2 312.4" stroke-width="1.40" fill="none"/><path d="M205.1 314.5L206.8 311.2L208.4 312.8Z" stroke="none"/>
<path d="M226.0 311.6L223.4 312.6" stroke-width="1.40" fill="none"/><path d="M220.4 313.8L223.5 311.3L224.4 313.5Z" stroke="none"/>
<path d="M233.2 270.1L226.1 269.7" stroke-width="1.44" fill="none"/><path d="M222.9 269.6L226.8 268.6L226.7 271.0Z" stroke="none"/>
<path d="M243.4 270.1L237.1 269.8" stroke-width="1.42" fill="none"/><path d="M233.9 269.6L237.8 268.6L237.6 271.0Z" stroke="none"/>
<path d="M253.7 270.1L247.4 269.8" stroke-width="1.42" fill="none"/><path d="M244.2 269.6L248.0 268.6L247.9 271.0Z" stroke="none"/>
<path d="M263.9 270.6L257.6 270.1" stroke-width="1.42" fill="none"/><path d="M254.4 269.9L258.3 269.0L258.1 271.3Z" stroke="none"/>
<path d="M274.2 270.6L267.9 270.3" stroke-width="1.42" fill="none"/><path d="M264.7 270.1L268.5 269.1L268.4 271.5Z" stroke="none"/>
<path d="M284.4 270.6L278.1 270.3" stroke-width="1.42" fill="none"/><path d="M274.9 270.1L278.8 269.1L278.6 271.5Z" stroke="none"/>
<path d="M294.7 270.6L288.4 270.3" stroke-width="1.42" fill="none"/><path d="M285.2 270.1L289.0 269.1L288.9 271.5Z" stroke="none"/>
<path d="M304.9 270.6L298.6 270.3" stroke-width="1.42" fill="none"/><path d="M295.4 270.1L299.3 269.1L299.1 271.5Z" stroke="none"/>
<path d="M315.2 270.6L309.6 270.3" stroke-width="1.40" fill="none"/><path d="M306.4 270.1L310.2 269.2L310.1 271.5Z" stroke="none"/>
<path d="M237.6 277.9L232.7 278.2" stroke-width="1.40" fill="none"/><path d="M229.5 278.3L233.2 277.0L233.4 279.3Z" stroke="none"/>
<path d="M247.8 277.9L243.0 278.2" stroke-width="1.40" fill="none"/><path d="M239.8 278.3L243.5 277.0L243.6 279.3Z" stroke="none"/>
<path d="M258.1 277.9L253.2 277.9" stroke-width="1.40" fill="none"/><path d="M250.0 277.9L253.8 276.7L253.8 279.1Z" stroke="none"/>
<path d="M268.3 277.9L263.5 277.9" stroke-width="1.40" fill="none"/><path d="M260.3 277.9L264.1 276.7L264.1 279.1Z" stroke="none"/>
<path d="M277.8 277.9L273.7 278.3" stroke-width="1.40" fill="none"/><path d="M270.5 278.6L274.2 277.1L274.4 279.4Z" stroke="none"/>
<path d="M287.3 277.5L283.9 278.2" stroke-width="1.40" fill="none"/><path d="M280.8 278.9L284.2 277.0L284.7 279.3Z" stroke="none"/>
<path d="M297.6 277.9L294.2 278.1" stroke-width="1.40" fill="none"/><path d="M291.0 278.3L294.7 276.9L294.9 279.3Z" stroke="none"/>
<path d="M307.8 277.9L304.5 278.1" stroke-width="1.40" fill="none"/><path d="M301.3 278.3L305.0 276.9L305.1 279.3Z" stroke="none"/>
<path d="M315.9 277.9L314.1 278.1" stroke-width="1.40" fill="none"/><path d="M311.5 278.3L314.6 277.0L314.8 279.0Z" stroke="none"/>
<path d="M230.2 284.5L227.8 286.0" stroke-width="1.40" fill="none"/><path d="M225.1 287.7L227.7 284.7L229.0 286.7Z" stroke="none"/>
<path d="M240.5 284.5L238.2 285.8" stroke-width="1.40" fill="none"/><path d="M235.4 287.4L238.1 284.5L239.3 286.6Z" stroke="none"/>
<path d="M250.7 284.8L248.6 285.6" stroke-width="1.40" fill="none"/><path d="M245.6 286.7L248.7 284.3L249.5 286.5Z" stroke="none"/>
<path d="M261.0 286.0L258.8 285.8" stroke-width="1.40" fill="none"/><path d="M255.9 285.7L259.5 284.8L259.4 287.0Z" stroke="none"/>
<path d="M271.2 286.3L269.1 286.0" stroke-width="1.40" fill="none"/><path d="M266.1 285.7L269.8 285.0L269.5 287.2Z" stroke="none"/>
<path d="M281.5 285.7L279.3 286.1" stroke-width="1.40" fill="none"/><path d="M276.4 286.7L279.7 284.9L280.1 287.1Z" stroke="none"/>
<path d="M291.7 285.2L289.6 285.9" stroke-width="1.40" fill="none"/><path d="M286.6 286.7L289.8 284.6L290.5 286.8Z" stroke="none"/>
<path d="M302.0 285.7L299.8 285.9" stroke-width="1.40" fill="none"/><path d="M296.9 286.3L300.3 284.7L300.5 287.0Z" stroke="none"/>
<path d="M312.2 285.7L310.1 285.8" stroke-width="1.40" fill="none"/><path d="M307.1 286.0L310.6 284.7L310.7 286.9Z" stroke="none"/>
<path d="M235.4 291.1L232.5 293.9" stroke-width="1.40" fill="none"/><path d="M230.2 296.2L232.1 292.7L233.8 294.4Z" stroke="none"/>
<path d="M245.6 291.5L243.6 293.3" stroke-width="1.40" fill="none"/><path d="M241.2 295.5L243.3 292.1L244.8 293.8Z" stroke="none"/>
<path d="M255.9 292.6L253.7 293.4" stroke-width="1.40" fill="none"/><path d="M250.7 294.5L253.8 292.1L254.6 294.2Z" stroke="none"/>
<path d="M266.1 293.0L264.3 292.8" stroke-width="1.40" fill="none"/><path d="M261.7 292.6L265.0 291.9L264.8 293.9Z" stroke="none"/>
<path d="M276.4 293.6L274.2 293.3" stroke-width="1.40" fill="none"/><path d="M271.2 293.0L274.9 292.3L274.7 294.5Z" stroke="none"/>
<path d="M286.6 293.0L284.4 293.6" stroke-width="1.40" fill="none"/><path d="M281.5 294.5L284.7 292.4L285.3 294.5Z" stroke="none"/>
<path d="M296.9 292.6L294.7 293.4" stroke-width="1.40" fill="none"/><path d="M291.7 294.5L294.8 292.1L295.6 294.2Z" stroke="none"/>
<path d="M307.1 293.3L305.0 293.4" stroke-width="1.40" fill="none"/><path d="M302.0 293.6L305.5 292.3L305.6 294.5Z" stroke="none"/>
<path d="M315.9 293.3L314.5 293.4" stroke-width="1.40" fill="none"/><path d="M312.2 293.6L315.0 292.5L315.1 294.2Z" stroke="none"/>
<path d="M235.4 299.1L232.7 301.4" stroke-width="1.40" fill="none"/><path d="M230.2 303.5L232.4 300.2L233.9 302.0Z" stroke="none"/>
<path d="M235.4 312.0L233.2 312.6" stroke-width="1.40" fill="none"/><path d="M230.2 313.5L233.5 311.4L234.1 313.6Z" stroke="none"/>
</g>
</g>
<rect x="27.5" y="213.3" width="288.5" height="102.9" fill="none" stroke="#000" stroke-width="1"/>
<path d="M68.7 316.2v3.5M130.5 316.2v3.5M192.4 316.2v3.5M254.2 316.2v3.5M316.0 316.2v3.5M27.5 316.2v2.0M48.1 316.2v2.0M89.3 316.2v2.0M109.9 316.2v2.0M151.1 316.2v2.0M171.7 316.2v2.0M213.0 316.2v2.0M233.6 316.2v2.0M274.8 316.2v2.0M295.4 316.2v2.0" stroke="#000" stroke-width="0.8" fill="none"/>
<text x="68.7" y="334.3" font-size="10.2" text-anchor="middle">60E</text>
<text x="130.5" y="334.3" font-size="10.2" text-anchor="middle">90E</text>
<text x="192.4" y="334.3" font-size="10.2" text-anchor="middle">120E</text>
<text x="254.2" y="334.3" font-size="10.2" text-anchor="middle">150E</text>
<text x="316.0" y="334.3" font-size="10.2" text-anchor="middle">180</text>
<path d="M27.5 295.2h-3.5M27.5 254.2h-3.5M27.5 213.3h-3.5M27.5 315.7h-2.0M27.5 274.7h-2.0M27.5 233.8h-2.0" stroke="#000" stroke-width="0.8" fill="none"/>
<path d="M316.0 295.2h3.5M316.0 254.2h3.5M316.0 213.3h3.5M316.0 315.7h2.0M316.0 274.7h2.0M316.0 233.8h2.0" stroke="#000" stroke-width="0.8" fill="none"/>
<text x="18.2" y="299.8" font-size="10.2" text-anchor="end">0</text>
<text x="18.2" y="258.9" font-size="10.2" text-anchor="end">20N</text>
<text x="18.2" y="217.9" font-size="10.2" text-anchor="end">40N</text>
<rect x="301.6" y="213.3" width="14.4" height="16.6" fill="#fff" stroke="#000" stroke-width="0.8"/>
<text x="308.3" y="219.7" font-size="6.7" text-anchor="middle">2.5</text>
<g stroke="#000" fill="#000"><path d="M302.4 224.5L311.2 224.5" stroke-width="1.19" fill="none"/><path d="M314.2 224.5L310.6 225.9L310.6 223.1Z" stroke="none"/></g>
<rect x="1.20" y="343.3" width="8.41" height="9.2" fill="#825adc" stroke="#222" stroke-width="0.6"/>
<rect x="9.61" y="343.3" width="8.41" height="9.2" fill="#6446d2" stroke="#222" stroke-width="0.6"/>
<rect x="18.02" y="343.3" width="8.41" height="9.2" fill="#412dcd" stroke="#222" stroke-width="0.6"/>
<rect x="26.43" y="343.3" width="8.41" height="9.2" fill="#2319c8" stroke="#222" stroke-width="0.6"/>
<rect x="34.84" y="343.3" width="8.41" height="9.2" fill="#0000c8" stroke="#222" stroke-width="0.6"/>
<rect x="43.25" y="343.3" width="8.41" height="9.2" fill="#0f1ed2" stroke="#222" stroke-width="0.6"/>
<rect x="51.66" y="343.3" width="8.41" height="9.2" fill="#1e37dc" stroke="#222" stroke-width="0.6"/>
<rect x="60.07" y="343.3" width="8.41" height="9.2" fill="#2850e1" stroke="#222" stroke-width="0.6"/>
<rect x="68.48" y="343.3" width="8.41" height="9.2" fill="#3764e6" stroke="#222" stroke-width="0.6"/>
<rect x="76.89" y="343.3" width="8.41" height="9.2" fill="#4169e6" stroke="#222" stroke-width="0.6"/>
<rect x="85.30" y="343.3" width="8.41" height="9.2" fill="#5073e6" stroke="#222" stroke-width="0.6"/>
<rect x="93.71" y="343.3" width="8.41" height="9.2" fill="#5a82eb" stroke="#222" stroke-width="0.6"/>
<rect x="102.12" y="343.3" width="8.41" height="9.2" fill="#698cee" stroke="#222" stroke-width="0.6"/>
<rect x="110.53" y="343.3" width="8.41" height="9.2" fill="#78a0f0" stroke="#222" stroke-width="0.6"/>
<rect x="118.94" y="343.3" width="8.41" height="9.2" fill="#87b4eb" stroke="#222" stroke-width="0.6"/>
<rect x="127.35" y="343.3" width="8.41" height="9.2" fill="#96cde8" stroke="#222" stroke-width="0.6"/>
<rect x="135.76" y="343.3" width="8.41" height="9.2" fill="#a0d7e6" stroke="#222" stroke-width="0.6"/>
<rect x="144.17" y="343.3" width="8.41" height="9.2" fill="#aae1e4" stroke="#222" stroke-width="0.6"/>
<rect x="152.58" y="343.3" width="8.41" height="9.2" fill="#ffffff" stroke="#222" stroke-width="0.6"/>
<rect x="160.99" y="343.3" width="8.41" height="9.2" fill="#ffffff" stroke="#222" stroke-width="0.6"/>
<rect x="169.40" y="343.3" width="8.41" height="9.2" fill="#eed4a5" stroke="#222" stroke-width="0.6"/>
<rect x="177.81" y="343.3" width="8.41" height="9.2" fill="#e1b987" stroke="#222" stroke-width="0.6"/>
<rect x="186.22" y="343.3" width="8.41" height="9.2" fill="#f0c346" stroke="#222" stroke-width="0.6"/>
<rect x="194.63" y="343.3" width="8.41" height="9.2" fill="#ffe100" stroke="#222" stroke-width="0.6"/>
<rect x="203.04" y="343.3" width="8.41" height="9.2" fill="#ffc300" stroke="#222" stroke-width="0.6"/>
<rect x="211.45" y="343.3" width="8.41" height="9.2" fill="#ffa500" stroke="#222" stroke-width="0.6"/>
<rect x="219.86" y="343.3" width="8.41" height="9.2" fill="#ff7d00" stroke="#222" stroke-width="0.6"/>
<rect x="228.27" y="343.3" width="8.41" height="9.2" fill="#ff6e00" stroke="#222" stroke-width="0.6"/>
<rect x="236.68" y="343.3" width="8.41" height="9.2" fill="#ff5505" stroke="#222" stroke-width="0.6"/>
<rect x="245.09" y="343.3" width="8.41" height="9.2" fill="#fa410a" stroke="#222" stroke-width="0.6"/>
<rect x="253.50" y="343.3" width="8.41" height="9.2" fill="#eb3714" stroke="#222" stroke-width="0.6"/>
<rect x="261.91" y="343.3" width="8.41" height="9.2" fill="#dc2d19" stroke="#222" stroke-width="0.6"/>
<rect x="270.32" y="343.3" width="8.41" height="9.2" fill="#c82323" stroke="#222" stroke-width="0.6"/>
<rect x="278.73" y="343.3" width="8.41" height="9.2" fill="#b41e28" stroke="#222" stroke-width="0.6"/>
<rect x="287.14" y="343.3" width="8.41" height="9.2" fill="#c83241" stroke="#222" stroke-width="0.6"/>
<rect x="295.55" y="343.3" width="8.41" height="9.2" fill="#d7505f" stroke="#222" stroke-width="0.6"/>
<rect x="303.96" y="343.3" width="8.41" height="9.2" fill="#e6737d" stroke="#222" stroke-width="0.6"/>
<rect x="312.37" y="343.3" width="8.41" height="9.2" fill="#f2969b" stroke="#222" stroke-width="0.6"/>
<text x="9.6" y="360.9" font-size="8.7" text-anchor="middle">-36</text>
<text x="26.4" y="360.9" font-size="8.7" text-anchor="middle">-32</text>
<text x="43.2" y="360.9" font-size="8.7" text-anchor="middle">-28</text>
<text x="60.1" y="360.9" font-size="8.7" text-anchor="middle">-24</text>
<text x="76.9" y="360.9" font-size="8.7" text-anchor="middle">-20</text>
<text x="93.7" y="360.9" font-size="8.7" text-anchor="middle">-16</text>
<text x="110.5" y="360.9" font-size="8.7" text-anchor="middle">-12</text>
<text x="127.4" y="360.9" font-size="8.7" text-anchor="middle">-8</text>
<text x="144.2" y="360.9" font-size="8.7" text-anchor="middle">-4</text>
<text x="161.0" y="360.9" font-size="8.7" text-anchor="middle">0</text>
<text x="177.8" y="360.9" font-size="8.7" text-anchor="middle">4</text>
<text x="194.6" y="360.9" font-size="8.7" text-anchor="middle">8</text>
<text x="211.4" y="360.9" font-size="8.7" text-anchor="middle">12</text>
<text x="228.3" y="360.9" font-size="8.7" text-anchor="middle">16</text>
<text x="245.1" y="360.9" font-size="8.7" text-anchor="middle">20</text>
<text x="261.9" y="360.9" font-size="8.7" text-anchor="middle">24</text>
<text x="278.7" y="360.9" font-size="8.7" text-anchor="middle">28</text>
<text x="295.6" y="360.9" font-size="8.7" text-anchor="middle">32</text>
<text x="312.4" y="360.9" font-size="8.7" text-anchor="middle">36</text>
<text x="389.4" y="207.6" font-size="11.7" text-anchor="start">(c) AMJ 850hPa uv &amp; 500hPa omega</text>
<g clip-path="url(#cpc)">
<rect x="389.7" y="213.3" width="288.1" height="102.9" fill="#fff"/>
<path d="M618.7 266.2L621.7 266 624.7 266.3 627.6 267.3 628.8 268.3 629 269.3 628.3 270.3 626.7 271.3 624.7 272 622.7 272.5 619.7 272.7 616.8 272.3 614.6 271.3 613.8 270.3 613.6 269.3 614.1 268.3 615.3 267.3 618.2 266.3Z" fill="#1e37dc" stroke="#1e37dc" stroke-width="0.5" fill-rule="evenodd"/>
<path d="M615.7 265.2L617.7 264.8 620.7 264.5 625.7 264.6 629.7 265.4 632.2 266.3 633.7 267.3 634.4 268.3 634.4 269.3 633.8 270.3 632.4 271.3 630.7 272.1 627.3 273.3 622.7 274.1 618.7 274.2 616.7 274 614.7 273.5 612.3 272.3 611.2 271.3 610.7 270.3 610.6 269.3 610.9 268.3 611.6 267.3 612.7 266.5 615.4 265.3ZM618.2 266.3L615.3 267.3 614.1 268.3 613.6 269.3 613.8 270.3 614.6 271.3 616.8 272.3 619.7 272.7 622.7 272.5 624.7 272 626.7 271.3 628.3 270.3 629 269.3 628.8 268.3 627.6 267.3 624.7 266.3 621.7 266 618.7 266.2Z" fill="#2850e1" stroke="#2850e1" stroke-width="0.5" fill-rule="evenodd"/>
<path d="M496.7 255.1L497.7 255 499.7 255.5 503.2 257.3 504.4 258.3 505 259.3 504.7 260.3 503.7 260.8 501.7 261 499.7 260.6 498.7 260.1 497.4 259.3 496.4 258.3 495.9 257.3 495.7 256.3 496.3 255.3ZM619.7 263.3L622.7 263.1 626.7 263.3 629.7 263.6 633.1 264.3 636.1 265.3 637.9 266.3 639 267.3 639.6 268.3 639.6 269.3 639 270.3 637.9 271.3 636.1 272.3 633.5 273.3 630 274.3 623.7 275.4 618.7 275.5 616.5 275.3 613.7 274.6 611.7 273.8 609.7 272.5 608.6 271.3 608.1 270.3 608 269.3 608.2 268.3 608.8 267.3 610.7 265.7 614 264.3 619.3 263.3ZM615.4 265.3L612.7 266.5 611.6 267.3 610.9 268.3 610.6 269.3 610.7 270.3 611.2 271.3 612.3 272.3 614.7 273.5 616.7 274 618.7 274.2 622.7 274.1 627.3 273.3 630.7 272.1 632.4 271.3 633.8 270.3 634.4 269.3 634.4 268.3 633.7 267.3 632.2 266.3 629.7 265.4 625.7 264.6 620.7 264.5 617.7 264.8 615.7 265.2Z" fill="#3764e6" stroke="#3764e6" stroke-width="0.5" fill-rule="evenodd"/>
<path d="M389.7 238.1L390.2 239.3 390.3 240.3 390.1 241.3 389.7 242 388.7 242.3 388.7 237.9ZM493.7 253.1L494.7 252.6 495.7 252.5 497.7 252.8 500.7 254.1 503.7 255.9 505.7 257.4 506.6 258.3 507.1 259.3 507.1 260.3 506.3 261.3 503.7 262 501.7 262 498.7 261.4 496.5 260.3 495.2 259.3 494.3 258.3 493.2 256.3 492.9 255.3 493 254.3 493.5 253.3ZM496.3 255.3L495.7 256.3 495.9 257.3 496.4 258.3 497.4 259.3 498.7 260.1 499.7 260.6 501.7 261 503.7 260.8 504.7 260.3 505 259.3 504.4 258.3 503.2 257.3 499.7 255.5 497.7 255 496.7 255.1ZM618.7 262.2L622.7 261.9 626.7 262 630.7 262.3 634.7 263 637.7 263.7 640.7 264.9 643 266.3 643.9 267.3 644.4 268.3 644.4 269.3 644 270.3 643 271.3 641.6 272.3 639.5 273.3 635.7 274.5 631.7 275.5 626.7 276.3 622.7 276.7 619.7 276.8 616.7 276.5 613.7 276 611.5 275.3 609.4 274.3 607.7 273.1 606.1 271.3 605.7 270.3 605.6 269.3 605.8 268.3 606.3 267.3 607.7 265.8 609.7 264.6 611.7 263.8 614.7 262.9 618.1 262.3ZM619.3 263.3L614 264.3 610.7 265.7 608.8 267.3 608.2 268.3 608 269.3 608.1 270.3 608.6 271.3 609.7 272.5 611.7 273.8 613.7 274.6 616.5 275.3 618.7 275.5 623.7 275.4 630 274.3 633.5 273.3 636.1 272.3 637.9 271.3 639 270.3 639.6 269.3 639.6 268.3 639 267.3 637.9 266.3 636.1 265.3 633.1 264.3 629.7 263.6 626.7 263.3 622.7 263.1 619.7 263.3Z" fill="#4169e6" stroke="#4169e6" stroke-width="0.5" fill-rule="evenodd"/>
<path d="M389.7 235.6L390.7 236.4 391.6 238.3 391.8 239.3 391.7 241.3 391.4 242.3 390.7 243.8 389.7 244.6 388.7 244.8 388.7 242.3 389.7 242 390.3 240.3 390.2 239.3 389.8 238.3 388.7 237.9 388.7 235.4ZM492.7 251.2L494.7 250.8 496.7 250.9 498 251.3 501.7 253.1 506.4 256.3 508.4 258.3 508.9 259.3 508.9 260.3 508.4 261.3 506.9 262.3 503.7 262.9 500.7 262.7 497.7 261.8 494.7 260.3 492.6 258.3 491.7 257 491 255.3 490.9 254.3 491 253.3 491.5 252.3 492.6 251.3ZM493.5 253.3L493 254.3 492.9 255.3 493.2 256.3 494.3 258.3 495.2 259.3 496.5 260.3 498.7 261.4 501.7 262 503.7 262 506.3 261.3 507.1 260.3 507.1 259.3 506.6 258.3 505.7 257.4 503.7 255.9 500.7 254.1 497.7 252.8 495.7 252.5 494.7 252.6 493.7 253.1ZM617.7 261.3L621.7 260.8 626.7 260.7 631.7 261 635.7 261.6 639.1 262.3 642.7 263.4 645.7 264.8 647.8 266.3 648.6 267.3 649.1 268.3 649.1 269.3 648.8 270.3 648.1 271.3 646.9 272.3 644.7 273.5 640.7 275 636.7 276.1 631.7 277 626.7 277.6 622.7 277.9 618.7 277.9 615.7 277.6 611.7 276.7 608.7 275.6 606.5 274.3 604.7 272.7 603.7 271.3 603.3 270.3 603.2 269.3 603.3 268.3 603.7 267.3 604.7 266.1 605.6 265.3 607.2 264.3 609.5 263.3 613.7 262 617.4 261.3ZM618.1 262.3L614.7 262.9 611.7 263.8 609.7 264.6 607.7 265.8 606.3 267.3 605.8 268.3 605.6 269.3 605.7 270.3 606.1 271.3 607.7 273.1 609.4 274.3 611.5 275.3 613.7 276 616.7 276.5 619.7 276.8 622.7 276.7 626.7 276.3 631.7 275.5 635.7 274.5 639.5 273.3 641.6 272.3 643 271.3 644 270.3 644.4 269.3 644.4 268.3 643.9 267.3 643 266.3 640.7 264.9 637.7 263.7 634.7 263 630.7 262.3 626.7 262 622.7 261.9 618.7 262.2ZM478.7 305.2L481 305.3 479.7 305.6 477.9 305.3Z" fill="#5073e6" stroke="#5073e6" stroke-width="0.5" fill-rule="evenodd"/>
<path d="M389.7 214.9L390.7 215.1 391.3 216.3 391 217.3 390.7 217.7 389.7 218 388.7 217.4 388.7 215.6 389 215.3ZM389.7 233.8L390.7 234.5 392 236.3 392.7 238.3 392.9 240.3 392.6 242.3 391.7 244.5 390.7 245.7 389.7 246.4 388.7 246.5 388.7 244.8 389.7 244.6 390.7 243.8 391.4 242.3 391.8 240.3 391.6 238.3 390.7 236.4 389.7 235.6 388.7 235.4 388.7 233.5ZM515.7 238.2L516.7 238.1 517.7 239.3 517.9 241.3 517.6 242.3 516.7 243.5 515.7 243.8 514.7 243.4 514.2 242.3 514.1 241.3 514.3 240.3 514.7 239.2 515.6 238.3ZM491.7 250L492.7 249.6 494.7 249.4 497.7 249.9 500.9 251.3 505.7 254.4 508.2 256.3 510 258.3 510.4 259.3 510.5 260.3 510.1 261.3 509.1 262.3 507.7 263 505.7 263.5 503.7 263.6 501.7 263.5 499.7 263.2 496.8 262.3 493.7 260.7 492 259.3 491.1 258.3 489.8 256.3 489.4 255.3 489.2 253.3 489.5 252.3 490.1 251.3 491.2 250.3ZM492.6 251.3L491.5 252.3 491 253.3 490.9 254.3 491 255.3 491.7 257 492.6 258.3 494.7 260.3 497.7 261.8 500.7 262.7 503.7 262.9 506.9 262.3 508.4 261.3 508.9 260.3 508.9 259.3 508.4 258.3 506.4 256.3 501.7 253.1 498 251.3 496.7 250.9 494.7 250.8 492.7 251.2ZM616.7 260.3L621.7 259.7 626.7 259.5 631.7 259.7 636.7 260.3 641.7 261.2 645.5 262.3 648.7 263.6 651.6 265.3 652.7 266.3 653.5 267.3 654 268.3 654.1 269.3 653.8 270.3 653.2 271.3 652.2 272.3 649.7 273.9 646.5 275.3 643.3 276.3 638.7 277.4 632.7 278.3 626.7 279 621.7 279.2 617.7 279.1 613.7 278.5 609.7 277.5 606.7 276.2 603.6 274.3 601.6 272.3 600.7 270.3 600.5 269.3 600.6 268.3 601 267.3 601.7 266.3 602.7 265.3 604.2 264.3 606.7 263.1 611.7 261.4 616.6 260.3ZM617.4 261.3L613.7 262 609.5 263.3 607.2 264.3 605.6 265.3 604.7 266.1 603.7 267.3 603.3 268.3 603.2 269.3 603.3 270.3 603.7 271.3 604.7 272.7 606.5 274.3 608.7 275.6 611.7 276.7 615.7 277.6 618.7 277.9 622.7 277.9 626.7 277.6 631.7 277 636.7 276.1 640.7 275 644.7 273.5 646.9 272.3 648.1 271.3 648.8 270.3 649.1 269.3 649.1 268.3 648.6 267.3 647.8 266.3 645.7 264.8 642.7 263.4 639.1 262.3 635.7 261.6 631.7 261 626.7 260.7 621.7 260.8 617.7 261.3ZM672.7 266.1L673.7 265.9 674.7 266 675.7 266.4 676.8 267.3 677.9 269.3 678.3 271.3 678.3 272.3 677.9 274.3 676.7 276.3 675.7 277.1 674.7 277.5 673.7 277.4 672.7 277.1 671.7 276.4 670.7 275.3 669.6 273.3 669.1 271.3 669.4 269.3 669.9 268.3 670.7 267.3 672.3 266.3ZM475.7 304.2L478.7 304 481.7 304.1 483.6 304.3 485.7 304.9 486.7 305.3 486.7 306.3 483.7 307 478.7 307.2 475.7 306.9 473 306.3 472.2 305.3 474.9 304.3ZM477.9 305.3L479.7 305.6 481 305.3 478.7 305.2Z" fill="#5a82eb" stroke="#5a82eb" stroke-width="0.5" fill-rule="evenodd"/>
<path d="M389.7 213.2L390.7 213.2 391.7 213.7 392.3 214.3 392.8 215.3 393 216.3 392.7 217.6 391.7 219.1 390.7 219.8 389.7 220 388.7 219.8 388.7 217.4 389.7 218 390.7 217.7 391 217.3 391.3 216.3 390.7 215.1 389.7 214.9 388.7 215.6 388.7 213.4 389.2 213.3ZM389.7 232.2L390.7 232.9 391.7 234 392.7 235.5 393.7 238.3 393.8 240.3 393.3 243.3 392.7 244.8 391.8 246.3 390.7 247.3 389.7 247.9 388.7 248.1 388.7 246.5 389.7 246.4 390.7 245.7 391.8 244.3 392.6 242.3 392.9 240.3 392.7 238.3 392 236.3 390.7 234.5 389.7 233.8 388.7 233.5 388.7 231.8ZM515.7 236.7L516.7 236.6 517.9 237.3 518.7 238.6 519 240.3 518.8 242.3 518.4 243.3 517.7 244.5 516.7 245.4 515.7 245.8 514.7 245.8 513.7 245.1 513 243.3 512.9 242.3 513.2 240.3 513.7 238.8 514.7 237.3ZM515.6 238.3L514.7 239.2 514.3 240.3 514.1 241.3 514.2 242.3 514.7 243.4 515.7 243.8 516.7 243.5 517.6 242.3 517.9 241.3 517.7 239.3 516.7 238.1 515.7 238.2ZM493.7 248.2L495.7 248.3 497.7 248.8 501.7 250.4 504.9 252.3 507.7 254.3 509.7 255.9 510.9 257.3 511.9 259.3 511.9 260.3 511.7 261.3 510.9 262.3 509.3 263.3 507.7 263.8 505.7 264.2 501.7 264.2 499.7 263.8 496.7 263 493.1 261.3 491.7 260.3 489.6 258.3 488.4 256.3 488 255.3 487.7 253.3 487.9 252.3 488.7 250.7 489.7 249.6 490.7 249 492.9 248.3ZM491.2 250.3L490.1 251.3 489.5 252.3 489.2 253.3 489.4 255.3 489.8 256.3 491.1 258.3 492 259.3 493.7 260.7 496.8 262.3 499.7 263.2 501.7 263.5 503.7 263.6 505.7 263.5 507.7 263 509.1 262.3 510.1 261.3 510.5 260.3 510.4 259.3 510 258.3 508.2 256.3 505.7 254.4 500.9 251.3 497.7 249.9 494.7 249.4 492.7 249.6 491.7 250ZM623.7 258.3L629.7 258.2 635.7 258.7 641.7 259.5 647.7 261 651.5 262.3 655.6 264.3 657.2 265.3 659.7 267.3 660.6 268.3 661.2 269.3 660.9 270.3 659.9 271.3 657.1 273.3 653.2 275.3 649.7 276.6 644.7 277.9 639.7 278.9 632.7 279.9 626.7 280.4 621.7 280.6 617.7 280.4 612.7 279.7 608.7 278.6 604.7 277 601.7 275.2 599.4 273.3 598 271.3 597.7 270.3 597.6 268.3 598 267.3 598.6 266.3 600.7 264.6 603 263.3 608.7 261.1 613.7 259.7 618.7 258.7 623.4 258.3ZM616.6 260.3L611.7 261.4 606.7 263.1 604.2 264.3 602.7 265.3 601.7 266.3 601 267.3 600.6 268.3 600.5 269.3 600.7 270.3 601.6 272.3 603.6 274.3 606.7 276.2 609.7 277.5 613.7 278.5 617.7 279.1 621.7 279.2 626.7 279 632.7 278.3 638.7 277.4 643.3 276.3 646.5 275.3 649.7 273.9 652.2 272.3 653.2 271.3 653.8 270.3 654.1 269.3 654 268.3 653.5 267.3 652.7 266.3 651.6 265.3 648.7 263.6 645.5 262.3 641.7 261.2 636.7 260.3 631.7 259.7 626.7 259.5 621.7 259.7 616.7 260.3ZM672.7 263.2L674.7 263.1 675.7 263.4 677.3 264.3 678.7 265.7 678.7 277.6 677.7 278.7 676.8 279.3 675.7 279.6 674.7 279.7 672.7 279.5 671.7 279.2 670.2 278.3 669 277.3 667.3 275.3 665.1 272.3 663.9 270.3 664 269.3 664.7 268.3 666.9 266.3 669.7 264.3 672.1 263.3ZM672.3 266.3L670.7 267.3 669.9 268.3 669.4 269.3 669.1 271.3 669.6 273.3 670.7 275.3 671.7 276.4 672.7 277.1 673.7 277.4 674.7 277.5 675.7 277.1 676.7 276.3 677.9 274.3 678.3 272.3 678.3 271.3 677.9 269.3 676.8 267.3 675.7 266.4 674.7 266 673.7 265.9 672.7 266.1ZM664.7 295.3L667.7 295.5 670.2 296.3 671.3 297.3 671.8 298.3 671.9 299.3 671.7 300.3 671.1 301.3 669.7 302.7 668.7 303.3 666.7 304 663.7 304.5 660.7 304.3 658.2 303.3 657.1 302.3 656.5 301.3 656.2 300.3 656.2 299.3 656.6 298.3 657.4 297.3 658.7 296.4 660.7 295.8 664 295.3ZM477.7 303.3L481.7 303.3 485.7 303.8 488 304.3 489.9 305.3 490.1 306.3 488.6 307.3 486.7 307.7 483.7 308 479.7 308 474.7 307.6 472.5 307.3 469.4 306.3 468.8 305.3 470.4 304.3 473.7 303.6 477.7 303.3ZM474.9 304.3L472.2 305.3 473 306.3 475.7 306.9 478.7 307.2 483.7 307 486.7 306.3 486.7 305.3 485.7 304.9 483.6 304.3 481.7 304.1 478.7 304 475.7 304.2Z" fill="#698cee" stroke="#698cee" stroke-width="0.5" fill-rule="evenodd"/>
<path d="M389.7 212.3L391.7 212.3 392.7 213 393.7 214.3 394.1 216.3 393.7 218.3 392.7 219.8 391.7 220.8 390.7 221.4 389.7 221.7 388.7 221.5 388.7 219.8 389.7 220 390.7 219.8 391.7 219.1 392.7 217.6 393 216.3 392.7 215 391.7 213.7 390.7 213.2 389.7 213.2 388.7 213.4 388.7 212.3ZM389.5 230.3L390.7 231.2 391.7 232.4 393.6 235.3 394.4 237.3 394.7 240.3 394.2 243.3 393.5 245.3 392.7 246.7 391.7 248 390.7 248.8 389.7 249.3 388.7 249.5 388.7 248.1 389.7 247.9 390.7 247.3 391.7 246.4 392.4 245.3 393.3 243.3 393.8 240.3 393.7 238.3 392.7 235.5 391.7 234 390.7 232.9 389.7 232.2 388.7 231.8 388.7 230ZM514.7 236.1L515.7 235.5 516.7 235.5 517.7 235.9 519 237.3 519.7 238.9 519.9 240.3 519.7 242.5 518.7 245 517.7 246.4 516.7 247.2 515.7 247.7 514.7 247.8 513.7 247.6 513.3 247.3 512.7 246.7 512.1 245.3 511.9 243.3 512.3 240.3 513.1 238.3 513.7 237.2 514.5 236.3ZM514.7 237.3L513.7 238.8 513.2 240.3 512.9 242.3 513 243.3 513.7 245.1 514.7 245.8 515.7 245.8 516.7 245.4 517.7 244.5 518.4 243.3 518.8 242.3 519 240.3 518.7 238.6 517.9 237.3 516.7 236.6 515.7 236.7ZM492.7 247.2L494.7 247.2 496.7 247.5 499.4 248.3 502 249.3 507.7 252.4 509.7 253.9 511.7 256 512.7 257.6 513.3 259.3 513.4 260.3 513.2 261.3 512.6 262.3 511.4 263.3 509 264.3 506.7 264.8 504.7 264.9 501.7 264.8 498.7 264.2 495.8 263.3 493.4 262.3 491.6 261.3 490.2 260.3 488.2 258.3 486.9 256.3 486.6 255.3 486.3 253.3 486.5 252.3 487.4 250.3 488.7 248.8 489.7 248.1 492 247.3ZM492.9 248.3L490.7 249 489.7 249.6 488.7 250.7 487.9 252.3 487.7 253.3 488 255.3 488.4 256.3 489.6 258.3 491.7 260.3 493.1 261.3 496.7 263 499.7 263.8 501.7 264.2 505.7 264.2 507.7 263.8 509.3 263.3 510.9 262.3 511.7 261.3 511.9 260.3 511.9 259.3 510.9 257.3 509.7 255.9 507.7 254.3 504.9 252.3 501.7 250.4 497.7 248.8 495.7 248.3 493.7 248.2ZM619.7 257.2L624.7 256.8 629.7 256.8 634.7 257 640.7 257.7 645.7 258.6 649.7 259.5 653.7 260.7 659.7 262.8 662.7 263.4 663.7 263.4 665.7 263 670.7 261.1 672.7 260.7 674.7 260.7 676.7 261.3 678.7 262.5 678.7 265.7 677.3 264.3 675.7 263.4 673.7 263.1 672.1 263.3 669.7 264.3 668.2 265.3 665.7 267.3 664 269.3 663.9 270.3 665.1 272.3 668.1 276.3 669 277.3 670.7 278.7 672.7 279.5 674.7 279.7 675.7 279.6 676.8 279.3 677.7 278.7 678.7 277.6 678.7 280.1 677.7 280.6 675.7 281 673.7 281 670.5 280.3 668.3 279.3 663.7 276.5 661.7 276.1 658.7 276.5 652.1 278.3 642.7 280.1 633.7 281.4 625.7 282.1 619.7 282.2 614.7 281.7 609.7 280.7 604.7 278.9 599.6 276.3 597.7 275 595.8 273.3 595 272.3 594.1 270.3 594 268.3 594.4 267.3 595 266.3 596.1 265.3 597.7 264.3 601.9 262.3 611.7 258.8 615.7 257.8 618.7 257.3ZM623.4 258.3L618.7 258.7 613.7 259.7 608.7 261.1 603 263.3 600.7 264.6 598.6 266.3 598 267.3 597.6 268.3 597.7 270.3 598 271.3 599.4 273.3 601.7 275.2 604.7 277 608.7 278.6 612.7 279.7 617.7 280.4 621.7 280.6 626.7 280.4 632.7 279.9 639.7 278.9 644.7 277.9 649.7 276.6 653.2 275.3 657.1 273.3 659.9 271.3 660.9 270.3 661.2 269.3 660.6 268.3 659.7 267.3 657.2 265.3 655.6 264.3 651.5 262.3 647.7 261 641.7 259.5 635.7 258.7 629.7 258.2 623.7 258.3ZM662.7 293.3L669.7 293.1 671.7 293.3 672.7 293.6 673.9 294.3 674.8 295.3 675.3 296.3 675.8 298.3 675.7 299.9 675.3 301.3 673.9 303.3 672.8 304.3 671.2 305.3 668.7 306.3 664.7 307.1 661.7 307.2 659.7 307 657.7 306.7 655.7 306 654.4 305.3 653.3 304.3 652.7 303.3 652 301.3 651.9 299.3 652 298.3 652.4 297.3 653.1 296.3 653.7 295.8 654.4 295.3 656.9 294.3 662.3 293.3ZM664 295.3L660.7 295.8 658.7 296.4 657.4 297.3 656.6 298.3 656.2 299.3 656.2 300.3 656.5 301.3 657.1 302.3 658.2 303.3 660.7 304.3 663.7 304.5 666.7 304 668.7 303.3 669.7 302.7 671.1 301.3 671.7 300.3 671.9 299.3 671.8 298.3 671.3 297.3 670.2 296.3 667.7 295.5 664.7 295.3ZM470.7 303.2L475.7 302.7 480.7 302.6 485.7 303 489.7 303.8 491.2 304.3 492.6 305.3 492.9 306.3 492.2 307.3 491.7 307.6 488.7 308.5 484.7 308.8 478.7 308.7 472.7 308.1 468.3 307.3 465.9 306.3 465.5 305.3 466.7 304.3 470.3 303.3ZM477.7 303.3L473.7 303.6 470.4 304.3 468.8 305.3 469.4 306.3 472.5 307.3 474.7 307.6 479.7 308 483.7 308 486.7 307.7 488.6 307.3 490.1 306.3 489.9 305.3 488 304.3 485.7 303.8 481.7 303.3 477.7 303.3Z" fill="#78a0f0" stroke="#78a0f0" stroke-width="0.5" fill-rule="evenodd"/>
<path d="M391.7 212.3L393.6 212.3 394.4 213.3 395.1 215.3 395 217.3 394.3 219.3 392.7 221.5 390.7 223.3 389.7 223.9 388.7 224 388.7 221.5 389.7 221.7 390.7 221.4 391.7 220.8 393.1 219.3 394 217.3 394 215.3 393.7 214.3 392.7 213 391.7 212.3ZM389.7 227.9L391.7 230.6 394.6 235.3 395.3 237.3 395.6 240.3 395.4 242.3 394.8 244.3 393.4 247.3 391.7 249.5 390.7 250.3 389.7 250.8 388.7 251 388.7 249.5 389.7 249.3 390.7 248.8 391.7 248 392.9 246.3 394.2 243.3 394.7 240.3 394.4 237.3 393.7 235.4 392.7 233.7 390.7 231.2 389.7 230.4 388.7 230 388.7 227.3ZM514.7 235L515.7 234.5 516.7 234.5 517.7 234.8 518.7 235.6 519.7 236.9 520.3 238.3 520.6 239.3 520.7 241.3 520.3 243.3 519.7 245.1 518.7 246.9 517.7 248.2 515.7 249.7 512.7 250.8 511.8 251.3 512 252.3 514.2 257.3 514.7 259.3 514.6 261.3 514.2 262.3 513.3 263.3 511.6 264.3 509.7 265 507.7 265.4 504.7 265.6 502.7 265.5 499.7 265.1 494.7 263.6 490.7 261.7 487.7 259.3 486.1 257.3 485.5 256.3 485.2 255.3 485 253.3 485.1 252.3 486 250.3 487.5 248.3 488.7 247.4 489.7 246.8 491.7 246.3 493.7 246.2 496.7 246.6 499.5 247.3 507.7 250.1 509.7 250.4 510.9 250.3 510.7 245.3 511.3 241.3 511.9 239.3 512.7 237.5 513.7 236 514.4 235.3ZM514.5 236.3L513.7 237.2 513.1 238.3 512.3 240.3 511.9 243.3 512.1 245.3 512.7 246.7 513.3 247.3 513.7 247.6 514.7 247.8 515.7 247.7 516.7 247.2 517.7 246.4 518.7 245 519.7 242.5 519.9 240.3 519.7 238.9 519 237.3 517.7 235.9 516.7 235.5 515.7 235.5 514.7 236.1ZM492 247.3L489.7 248.1 488.7 248.8 487.4 250.3 486.5 252.3 486.3 253.3 486.6 255.3 486.9 256.3 488.2 258.3 490.2 260.3 491.6 261.3 493.4 262.3 495.8 263.3 498.7 264.2 501.7 264.8 504.7 264.9 506.7 264.8 509 264.3 511.4 263.3 512.6 262.3 513.2 261.3 513.4 260.3 513.3 259.3 512.7 257.6 511.7 256 509.7 253.9 507.7 252.4 502 249.3 499.4 248.3 496.7 247.5 494.7 247.2 492.7 247.2ZM623.7 255.3L631.7 255.3 640.7 256 647.7 257.1 659.7 259.8 662.7 260.2 665.7 260 671.7 258.5 674.7 258.4 676.7 258.8 678.7 259.8 678.7 262.5 676.7 261.3 675.7 260.9 673.7 260.6 670.7 261.1 666.7 262.7 664.7 263.3 663.7 263.4 661.7 263.3 659.7 262.8 652.4 260.3 646.7 258.8 640.7 257.7 633.7 257 628.7 256.8 623.7 256.8 619.7 257.2 615.7 257.8 611.7 258.8 608.7 259.7 601.9 262.3 597.7 264.3 596.1 265.3 595 266.3 594.4 267.3 594 268.3 593.9 269.3 594.1 270.3 595 272.3 596.7 274.2 598.1 275.3 601.7 277.5 606.7 279.7 611.7 281.1 617.7 282 623.7 282.2 631.7 281.6 641.7 280.3 650.7 278.6 658.7 276.5 661.7 276.1 663.7 276.5 668.3 279.3 670.5 280.3 671.7 280.6 673.7 281 675.7 281 677.7 280.6 678.7 280.1 678.7 281.5 675.7 281.9 671.7 281.6 664.7 279.6 662.7 279.2 660.7 279 655.7 279.6 625.7 284 620.7 284.4 617.7 284.5 612.7 284 608.7 283.1 605.7 282 600.7 279.6 596.7 277.4 593.7 275.4 592.3 274.3 590.5 272.3 589.9 271.3 589.5 269.3 589.6 268.3 589.9 267.3 590.7 266.3 591.9 265.3 595.8 263.3 609.7 257.6 612.7 256.7 615.7 256.1 623.1 255.3ZM659.7 292.2L669.7 291.5 673.7 291.6 675.7 292.1 676.7 292.8 677.7 294 678.3 295.3 678.7 296.7 678.7 300.7 677.7 303.3 676.7 304.6 674.7 306.3 672.7 307.4 669.7 308.3 665.7 309 659.7 309.3 656.7 309 653.7 308.5 650.6 307.3 649.4 306.3 648.7 305.3 648.3 303.3 648 299.3 648.1 297.3 648.6 296.3 649.5 295.3 651.3 294.3 654.2 293.3 659 292.3ZM662.3 293.3L656.9 294.3 654.4 295.3 653.7 295.8 653.1 296.3 652.4 297.3 652 298.3 651.9 299.3 652 301.3 652.7 303.3 653.3 304.3 654.4 305.3 655.7 306 657.7 306.7 659.7 307 661.7 307.2 664.7 307.1 668.7 306.3 671.2 305.3 672.8 304.3 673.9 303.3 675.3 301.3 675.7 299.9 675.8 298.3 675.3 296.3 674.8 295.3 673.9 294.3 672.7 293.6 671.7 293.3 669.7 293.1 662.7 293.3ZM471.7 302.3L477.7 302 483.7 302.1 488.7 302.6 490.7 303.1 492.7 303.8 493.8 304.3 494.9 305.3 495.3 306.3 494.9 307.3 493.8 308.3 492.7 308.8 490.7 309.3 488.7 309.6 483.7 309.7 473.7 309 468 308.3 464 307.3 462 306.3 461.7 305.3 462.7 304.3 465.7 303.2 471.7 302.3ZM470.3 303.3L466.7 304.3 465.5 305.3 465.9 306.3 468.3 307.3 472.7 308.1 478.7 308.7 484.7 308.8 488.7 308.5 491.7 307.6 492.2 307.3 492.9 306.3 492.6 305.3 491.2 304.3 489.7 303.8 485.7 303 480.7 302.6 475.7 302.7 470.7 303.2Z" fill="#87b4eb" stroke="#87b4eb" stroke-width="0.5" fill-rule="evenodd"/>
<path d="M393.7 212.3L395.1 212.3 395.6 213.3 396.2 215.3 396.1 217.3 394.9 220.3 392.1 224.3 391.5 226.3 391.6 227.3 392.3 229.3 395.1 234.3 396.1 236.3 396.5 238.3 396.5 241.3 396.1 243.3 395.4 245.3 393.7 248.7 391.7 251 390.7 251.7 388.7 252.5 388.7 251 389.7 250.8 390.7 250.3 391.7 249.5 393.4 247.3 394.8 244.3 395.5 241.3 395.5 238.3 394.6 235.3 390.7 229.1 389.7 227.9 388.7 227.3 388.7 224 389.7 223.9 391.7 222.5 393.7 220.3 394.8 218.3 395.1 216.3 395.1 215.3 394.4 213.3 393.6 212.3ZM583.7 224.2L586.7 224.1 587.7 224.3 584.7 224.5 583.2 224.3ZM514.7 234L515.7 233.6 516.7 233.5 517.7 233.8 518.7 234.5 519.5 235.3 520.2 236.3 521 238.3 521.4 241.3 520.9 244.3 519.7 247.2 518.7 248.9 516.1 252.3 515.7 253.3 515.6 255.3 516.2 259.3 516.1 261.3 515.8 262.3 514.7 263.7 513.7 264.4 511.7 265.3 509.7 265.8 506.7 266.2 503.7 266.3 501.7 266.1 496.7 264.9 491.7 263.1 489.7 262.1 487.7 260.7 486.1 259.3 484.6 257.3 484 256.3 483.5 254.3 483.7 252.3 484.1 251.3 485.2 249.3 486.7 247.5 487.7 246.7 489.7 245.7 491.7 245.3 494.7 245.3 497.7 245.9 504.7 247.8 506.7 247.9 507.7 247.6 508.7 246.7 508.9 246.3 510.8 240.3 512.1 237.3 513.4 235.3 514.4 234.3ZM514.4 235.3L513.7 236 512.7 237.5 511.9 239.3 511.3 241.3 510.7 245.3 510.9 250.3 509.7 250.4 507.7 250.1 499.5 247.3 496.7 246.6 493.7 246.2 491.7 246.3 489.7 246.8 488.7 247.4 487.5 248.3 486 250.3 485.1 252.3 485 253.3 485.2 255.3 485.5 256.3 486.1 257.3 487.7 259.3 490.7 261.7 494.7 263.6 499.7 265.1 502.7 265.5 504.7 265.6 507.7 265.4 509.7 265 511.6 264.3 513.3 263.3 514.2 262.3 514.6 261.3 514.7 259.3 514.2 257.3 512 252.3 511.8 251.3 512.7 250.8 515.7 249.7 517.7 248.2 518.7 246.9 519.7 245.1 520.3 243.3 520.7 241.3 520.6 239.3 520.3 238.3 519.7 236.9 518.7 235.6 517.7 234.8 516.7 234.5 515.7 234.5 514.7 235ZM426.7 254.2L427.7 254.1 428.8 254.3 429.7 255.1 430.5 257.3 430.2 259.3 429.7 260.3 428.2 261.3 426.7 261.6 424.7 261.2 423.4 260.3 422.8 259.3 422.7 258 422.9 257.3 423.5 256.3 424.7 255.2 426.5 254.3ZM614.7 254.3L619.7 253.7 624.7 253.5 635.7 253.7 645.7 254.7 659.7 257.1 662.7 257.4 665.7 257.2 671.7 256 674.7 255.9 676.7 256.3 678.7 257.1 678.7 259.8 676.7 258.8 673.7 258.3 670.7 258.7 665.7 260 663.7 260.2 661.7 260.2 645.7 256.7 638.7 255.8 631.7 255.3 625.7 255.2 620.7 255.5 615.7 256.1 611.7 257 608.7 258 593.7 264.3 591.9 265.3 590.7 266.3 589.9 267.3 589.6 268.3 589.5 269.3 589.9 271.3 591.3 273.3 592.3 274.3 594.9 276.3 597.7 278 605.7 282 608.7 283.1 612.7 284 616.7 284.4 620.7 284.4 627.7 283.7 655.7 279.6 660.7 279 662.7 279.2 664.7 279.6 670.4 281.3 672.7 281.7 675.7 281.9 678.7 281.5 678.7 282.4 676.7 282.6 673.7 282.6 663.7 280.7 660.7 280.6 657.7 280.7 648.7 281.8 635.7 283.8 628.6 285.3 620.7 287.6 617.7 287.9 612.7 287.6 586.6 284.3 581.6 283.3 582.7 282.4 583.1 282.3 588.7 282 591.7 281.6 592.8 281.3 593.7 280.3 593 279.3 586.3 274.3 584.6 272.3 584 271.3 583.6 269.3 583.8 268.3 584.2 267.3 585.2 266.3 586.7 265.3 588.8 264.3 599.3 260.3 606.7 256.3 609.7 255.3 614.5 254.3ZM440.7 268.3L442.1 268.3 443.7 268.8 444.7 269.5 445.4 270.3 445.8 271.3 445.8 272.3 445 273.3 443.7 273.9 442.7 274.1 440.7 273.9 439.3 273.3 438.2 272.3 437.8 271.3 437.9 270.3 438.7 269.2 439.7 268.6 440.6 268.3ZM659.7 291.2L673.7 290.3 676.7 290.7 678.7 291.4 678.7 296.7 677.7 294 677.3 293.3 676.1 292.3 673.7 291.6 671.7 291.5 661.7 292 656.7 292.7 654.2 293.3 651.3 294.3 649.5 295.3 648.6 296.3 648.1 297.3 648 299.3 648.3 303.3 648.7 305.3 649.4 306.3 650.7 307.4 653 308.3 655.7 308.9 659.7 309.3 663.7 309.2 667.7 308.8 671.7 307.7 673.7 306.9 676.1 305.3 677.7 303.3 678.7 300.7 678.7 306.9 678.2 307.3 675.7 308.7 672.7 309.7 669.7 310.4 665.7 310.9 661.7 311.1 657.7 311.1 650.7 310.4 646.1 309.3 644.1 308.3 643.3 307.3 643.1 306.3 644 301.3 643.6 297.3 643.7 296.3 644.4 295.3 646.2 294.3 649.3 293.3 653.2 292.3 658.9 291.3ZM474.7 301.3L481.7 301.2 488.7 301.7 492.7 302.6 494.5 303.3 496.2 304.3 497.1 305.3 497.4 306.3 497.3 307.3 496.7 308.3 495.4 309.3 493.7 310.1 491.7 310.6 488.7 310.9 484.7 310.8 473.7 309.9 465.7 309.1 459.7 307.8 458.1 307.3 456.4 306.3 456.2 305.3 457.3 304.3 460.7 303 466.7 301.9 474.4 301.3ZM471.7 302.3L465.7 303.2 462.7 304.3 461.7 305.3 462 306.3 464 307.3 468 308.3 473.7 309 483.7 309.7 488.7 309.6 490.7 309.3 492.7 308.8 493.8 308.3 494.9 307.3 495.3 306.3 494.9 305.3 493.8 304.3 492.7 303.8 490.7 303.1 488.7 302.6 483.7 302.1 477.7 302 471.7 302.3Z" fill="#96cde8" stroke="#96cde8" stroke-width="0.5" fill-rule="evenodd"/>
<path d="M395.7 212.3L396.5 212.3 396.9 213.3 397.3 215.3 397.1 217.3 396 220.3 393.6 224.3 393.2 225.3 393 227.3 393.1 228.3 393.8 230.3 396.3 234.3 397.2 236.3 397.7 238.3 397.5 241.3 397.1 243.3 396 246.3 395.1 248.3 393.8 250.3 391.7 252.6 389.7 253.8 388.7 254.1 388.7 252.5 390.7 251.7 391.7 251 392.7 250 393.9 248.3 395.4 245.3 396.1 243.3 396.5 241.3 396.5 238.3 396.1 236.3 395.1 234.3 392.3 229.3 391.6 227.3 391.5 226.3 392.1 224.3 394.9 220.3 396.1 217.3 396.2 215.3 396 214.3 395.1 212.3ZM569.7 221.3L576.7 221 593.7 221.1 598.7 221.4 601.7 222 602.3 222.3 601.4 223.3 598.6 224.3 592.7 225.6 588.2 226.3 583.7 226.7 577.7 227.1 572.7 227 566.6 226.3 563 225.3 560.8 224.3 560.7 223.3 563.1 222.3 569.3 221.3ZM583.2 224.3L584.7 224.5 587.7 224.3 586.7 224.1 583.7 224.2ZM514.7 233.1L515.7 232.6 516.7 232.6 517.7 232.9 519.5 234.3 520.7 235.9 521.4 237.3 522.1 240.3 522 242.3 521.4 245.3 520.3 248.3 518.3 252.3 517.7 254.3 517.5 256.3 517.7 261.3 517.5 262.3 517.1 263.3 516.2 264.3 514.7 265.3 512.7 266.1 510.7 266.6 507.7 267 502.7 266.9 497.7 265.8 490.7 263.6 488.7 262.6 486.8 261.3 484.5 259.3 482.9 257.3 482.1 255.3 482 254.3 482.3 252.3 483.8 249.3 486.4 246.3 487.7 245.4 488.7 244.9 490.7 244.5 493.7 244.4 496.7 244.9 503.7 246.4 505.7 246.4 506.7 246.1 507.7 245.4 508.4 244.3 511.7 236.9 512.7 235.2 514.4 233.3ZM514.4 234.3L513.4 235.3 512.1 237.3 510.8 240.3 508.9 246.3 508.7 246.7 507.7 247.6 506.7 247.9 504.7 247.8 497.7 245.9 494.7 245.3 491.7 245.3 489.7 245.7 487.7 246.7 486.7 247.5 485.2 249.3 484.1 251.3 483.7 252.3 483.5 254.3 484 256.3 484.6 257.3 486.1 259.3 487.7 260.7 489.7 262.1 491.7 263.1 496.7 264.9 501.7 266.1 503.7 266.3 506.7 266.2 509.7 265.8 511.7 265.3 513.7 264.4 514.7 263.7 515.8 262.3 516.1 261.3 516.2 259.3 515.6 255.3 515.7 253.3 516.1 252.3 518.7 248.9 519.7 247.2 520.9 244.3 521.4 241.3 521 238.3 520.2 236.3 519.5 235.3 518.7 234.5 517.7 233.8 516.7 233.5 515.7 233.6 514.7 234ZM440.7 239.1L442.7 238.9 443.7 239.2 445.2 240.3 445.9 241.3 446.2 242.3 446.3 243.3 445.9 245.3 444.7 247.1 443.5 248.3 437.7 252.5 435.6 254.3 434.2 256.3 432.9 260.3 432.4 261.3 431.4 262.3 429.7 263.1 427.7 263.4 425.7 263.2 423.7 262.6 421.8 261.3 421 260.3 420.6 259.3 420.4 258.3 420.4 257.3 421 255.3 422.7 252.8 424.7 250.8 431.7 245.9 437.7 240.7 440.1 239.3ZM426.5 254.3L424.7 255.2 423.5 256.3 422.9 257.3 422.7 258 422.8 259.3 423.4 260.3 424.7 261.2 426.7 261.6 428.2 261.3 429.7 260.3 430.2 259.3 430.5 257.3 429.7 255.1 428.8 254.3 427.7 254.1 426.7 254.2ZM613.7 252.2L622.7 251.6 632.7 251.6 644.7 252.4 661.7 254.4 665.7 254.3 670.7 253.6 673.7 253.3 676.7 253.7 678.7 254.2 678.7 257.1 676.7 256.3 673.7 255.9 670.7 256.2 665.7 257.2 662.7 257.4 659.7 257.1 646.7 254.8 636.7 253.8 625.7 253.5 616.7 254 611.7 254.8 607.7 255.9 605.7 256.8 599.3 260.3 588.8 264.3 586.7 265.3 585.2 266.3 584.2 267.3 583.8 268.3 583.6 269.3 584 271.3 585.3 273.3 586.3 274.3 593 279.3 593.7 280.3 592.8 281.3 591.7 281.6 582.7 282.4 581.6 283.3 586.6 284.3 612.7 287.6 617.7 287.9 620.7 287.6 628.6 285.3 635.7 283.8 648.7 281.8 657.7 280.7 660.7 280.6 663.7 280.7 673.7 282.6 676.7 282.6 678.7 282.4 678.7 283.2 675.7 283.4 672.7 283.1 664.7 281.7 659.7 281.6 653.7 282.1 641.7 283.8 634.7 285.1 630.5 286.3 628.2 287.3 626.7 288.3 624.7 290.3 623.7 291 622.7 291.3 620.7 291.3 618.7 291.1 601.7 288 575.4 284.3 570.5 283.3 567.3 282.3 566.4 281.3 569.7 280.4 579.9 279.3 581.7 278.3 581.4 277.3 577.1 273.3 575.8 271.3 575.5 270.3 575.4 269.3 575.7 268.3 576.3 267.3 577.6 266.3 579.6 265.3 582.5 264.3 590.7 261.9 595 260.3 596.9 259.3 598.2 258.3 600.7 255.7 603.6 254.3 607.7 253.2 613 252.3ZM436.7 266.1L438.7 265.4 441.7 265.4 443.7 265.9 444.7 266.4 446.7 267.8 447.7 268.9 448.5 270.3 449 272.3 448.8 273.3 448.2 274.3 447 275.3 444.7 276.1 441.7 276.3 438.7 275.7 437.5 275.3 435.8 274.3 434.8 273.3 434.3 272.3 434 270.3 434.1 269.3 434.7 268 435.2 267.3 436.4 266.3ZM440.6 268.3L439.7 268.6 438.7 269.2 437.9 270.3 437.8 271.3 438.2 272.3 439.3 273.3 440.7 273.9 442.7 274.1 443.7 273.9 445 273.3 445.8 272.3 445.8 271.3 445.4 270.3 444.7 269.5 443.7 268.8 442.1 268.3 440.7 268.3ZM662.7 290.3L673.7 289.5 676.7 289.5 678.7 289.9 678.7 291.4 676.7 290.7 673.7 290.3 659.7 291.2 653.2 292.3 646.2 294.3 644.4 295.3 643.7 296.3 643.6 297.3 644 301.3 643.1 306.3 643.3 307.3 644.1 308.3 646.7 309.5 649.7 310.2 652.7 310.7 659.7 311.2 665.7 310.9 671.7 310 675.7 308.7 678.7 306.9 678.7 310.3 675.7 311.3 672.7 311.9 668.7 312.5 664.7 312.8 659.7 313 654.7 312.9 648.7 312.5 643.7 311.8 640.5 311.3 636.8 310.3 635 309.3 634.5 308.3 634.7 307.3 638.2 303.3 638.7 302.3 639 301.3 639 300.3 638.7 299.3 638.3 298.3 636.8 296.3 636.5 295.3 636.7 295.2 638.4 294.3 646.7 292.8 653.4 291.3 657.7 290.7 662 290.3ZM474.7 300.3L483.7 300.4 489.7 300.9 492.7 301.5 494.7 302.1 496.7 303 497.7 303.7 499.1 305.3 499.5 306.3 499.4 307.3 499.1 308.3 498.4 309.3 496.7 310.7 494.7 311.6 492.7 312.1 489.7 312.4 485.7 312.3 476.8 311.3 459.7 309.9 453.7 308.9 451.4 308.3 449 307.3 447.9 306.3 448.2 305.3 449.4 304.3 450.7 303.6 453.9 302.3 457.7 301.5 462.7 300.9 474.2 300.3ZM474.4 301.3L466.7 301.9 460.7 303 457.3 304.3 456.2 305.3 456.4 306.3 458.1 307.3 459.7 307.8 465.7 309.1 473.7 309.9 484.7 310.8 488.7 310.9 491.7 310.6 493.7 310.1 495.4 309.3 496.7 308.3 497.3 307.3 497.4 306.3 497.1 305.3 496.2 304.3 494.5 303.3 492.7 302.6 488.7 301.7 481.7 301.2 474.7 301.3Z" fill="#a0d7e6" stroke="#a0d7e6" stroke-width="0.5" fill-rule="evenodd"/>
<path d="M396.7 212.3L398.2 212.3 398.6 214.3 398.5 216.3 397.6 219.3 395.3 223.3 394.4 225.3 394.1 227.3 394.5 229.3 394.9 230.3 398.2 235.3 398.6 236.3 399.1 238.3 399 240.3 398.2 243.3 397.1 246.3 396.2 248.3 394.7 250.9 393.7 252.3 391.7 254.3 390.7 255.1 388.7 256 388.7 254.1 389.7 253.8 391.7 252.6 393 251.3 394.7 248.9 396.4 245.3 397.5 241.3 397.7 238.3 397.2 236.3 396.3 234.3 393.8 230.3 393.1 228.3 393 227.3 393.2 225.3 393.6 224.3 396 220.3 397.1 217.3 397.3 215.3 397.2 214.3 396.5 212.3ZM569.7 218.2L576.7 218 584.7 218.2 604.7 219.5 608.7 220 610.7 220.4 611.8 221.3 610.8 222.3 608.4 223.3 604.9 224.3 594.7 226.4 583.7 227.7 573.7 228.2 564.7 228.1 552.7 227.3 550.7 226.9 549 226.3 547.8 225.3 547.5 224.3 547.8 223.3 548.8 222.3 550.7 221.4 555 220.3 559.7 219.5 569 218.3ZM569.3 221.3L563.1 222.3 560.7 223.3 560.8 224.3 563 225.3 566.6 226.3 572.7 227 577.7 227.1 583.7 226.7 588.2 226.3 592.7 225.6 598.6 224.3 601.4 223.3 602.3 222.3 601.7 222 598.7 221.4 593.7 221.1 576.7 221 569.7 221.3ZM656.7 221.2L658.7 221.3 659.7 221.8 660.1 222.3 660.1 223.3 659.4 224.3 658 225.3 654.9 226.3 652.9 226.3 651.7 225.7 651.3 225.3 651.3 224.3 651.9 223.3 653.2 222.3 654.7 221.6 656 221.3ZM514.7 232.1L515.7 231.7 516.7 231.6 517.7 231.9 519.7 233.5 521.1 235.3 522.1 237.3 522.8 240.3 522.8 242.3 522.3 245.3 520 252.3 519.2 255.3 519 257.3 519.2 262.3 519.1 263.3 518.7 264.3 517.8 265.3 516.7 266 514.7 266.9 509.7 267.8 506.7 267.9 503.7 267.8 499.7 267 490.7 264.5 488.7 263.7 486.7 262.6 484.9 261.3 482.6 259.3 481 257.3 480.2 255.3 480.1 254.3 480.7 252.3 482.5 249.3 484 247.3 485.7 245.5 487.7 244.2 489.7 243.7 492.7 243.6 496.7 244.1 501.7 245.1 503.7 245.3 505.7 245 506.7 244.5 507.7 243.5 508.7 241.9 511.3 236.3 512.6 234.3 513.7 232.9 514.5 232.3ZM514.4 233.3L512.7 235.2 511.7 236.9 508.4 244.3 507.7 245.4 506.7 246.1 505.7 246.4 503.7 246.4 496.7 244.9 493.7 244.4 490.7 244.5 488.7 244.9 487.7 245.4 486.4 246.3 483.8 249.3 482.3 252.3 482 254.3 482.1 255.3 482.9 257.3 484.5 259.3 486.8 261.3 488.7 262.6 490.7 263.6 497.7 265.8 502.7 266.9 507.7 267 510.7 266.6 512.7 266.1 514.7 265.3 516.2 264.3 517.1 263.3 517.5 262.3 517.7 261.3 517.5 256.3 517.7 254.3 518.3 252.3 520.3 248.3 521.4 245.3 522 242.3 522.1 240.3 521.4 237.3 520.7 235.9 519.5 234.3 517.7 232.9 516.7 232.6 515.7 232.6 514.7 233.1ZM440.7 236.1L442.7 235.7 443.7 235.8 445.7 236.6 446.7 237.3 448.4 239.3 449 240.3 449.7 242.3 449.9 244.3 449.8 245.3 449 247.3 448.3 248.3 446.4 250.3 441.3 254.3 439.2 256.3 437.9 258.3 437.7 259.3 437.9 260.3 438.7 261.3 443.7 263.2 446.7 265.1 448.7 267 450.3 269.3 451.2 271.3 451.4 272.3 451.4 273.3 451.1 274.3 450.5 275.3 449.7 276 447.7 277 445.7 277.5 443.7 277.8 439.7 277.6 437.7 277.3 435.7 276.7 433.1 275.3 431.9 274.3 430.8 272.3 430.4 270.3 430.3 268.3 430 267.3 429.7 266.8 428.7 266.1 424.7 264.8 421.7 263.3 420.4 262.3 419.6 261.3 419 260.3 418.3 258.3 418.3 256.3 419.1 253.3 420.2 251.3 421.9 249.3 424.2 247.3 430.7 242.8 436.5 238.3 438.7 236.9 440.1 236.3ZM440.1 239.3L437.7 240.7 431.7 245.9 424.7 250.8 422.7 252.8 421 255.3 420.4 257.3 420.4 258.3 420.6 259.3 421 260.3 421.8 261.3 423.7 262.6 425.7 263.2 427.7 263.4 429.7 263.1 431.4 262.3 432.4 261.3 432.9 260.3 434.2 256.3 435.6 254.3 437.7 252.5 443.5 248.3 444.7 247.1 445.9 245.3 446.3 243.3 446.2 242.3 445.9 241.3 445.2 240.3 443.7 239.2 442.7 238.9 440.7 239.1ZM436.4 266.3L435.2 267.3 434.7 268 434.1 269.3 434 270.3 434.3 272.3 434.8 273.3 435.8 274.3 437.5 275.3 438.7 275.7 441.7 276.3 444.7 276.1 447 275.3 448.2 274.3 448.8 273.3 449 272.3 448.5 270.3 447.7 268.9 446.7 267.8 444.7 266.4 443.7 265.9 441.7 265.4 438.7 265.4 436.7 266.1ZM622.7 249.3L630.7 249.3 638.7 249.6 661.7 251.3 665.7 251.3 672.7 250.6 675.7 250.7 678.7 251.2 678.7 254.2 676.7 253.7 673.7 253.3 670.7 253.6 665.7 254.3 661.7 254.4 642.7 252.2 635.7 251.7 628.7 251.5 622.7 251.6 616.7 251.9 611.7 252.5 606.7 253.4 603.6 254.3 601.3 255.3 600 256.3 598.2 258.3 596.9 259.3 595 260.3 590.7 261.9 579.6 265.3 577.6 266.3 576.3 267.3 575.7 268.3 575.4 269.3 575.5 270.3 575.8 271.3 577.1 273.3 581.4 277.3 581.7 278.3 579.9 279.3 569.7 280.4 566.4 281.3 567.3 282.3 570.5 283.3 575.4 284.3 581.7 285.3 600.7 287.8 616.7 290.8 621.7 291.4 623.7 291 624.7 290.3 626.7 288.3 628.2 287.3 631.7 285.9 636.7 284.7 647.7 282.9 656.7 281.8 661.7 281.5 665.7 281.8 673.7 283.2 676.7 283.4 678.7 283.2 678.7 284 676.7 284.1 673.7 283.9 667.7 282.8 662.7 282.3 659.7 282.3 652.7 283 639.7 285 634.7 286.2 631.7 287.3 630.3 288.3 629.8 289.3 630.1 290.3 631.5 291.3 632.7 291.8 635.7 292.4 639.7 292.5 645.7 292 656.7 290 665.7 289.5 674.7 288.6 678.7 288.7 678.7 289.9 676.7 289.5 673.7 289.5 659.7 290.5 654.7 291.1 638.4 294.3 636.5 295.3 636.8 296.3 638.3 298.3 638.7 299.3 639 300.3 639 301.3 638.7 302.3 638.2 303.3 634.7 307.3 634.5 308.3 635 309.3 636.8 310.3 641.7 311.5 648.7 312.5 656.7 313 663.7 312.9 669.7 312.4 674.7 311.5 678.7 310.3 678.7 313.2 671.7 314.2 664.7 314.5 654.7 314.5 643.7 314 634.7 313.3 629.7 312.3 627.3 311.3 626.2 310.3 625.8 309.3 626 308.3 626.6 307.3 631.2 303.3 632 302.3 632.3 301.3 632.2 300.3 631.6 299.3 630.3 298.3 628.4 297.3 620.7 294.6 605.7 290.5 596.7 288.7 576.7 285.7 568.7 284.3 560 282.3 557.2 281.3 556 280.3 556.7 279.7 557.7 279.2 566.2 277.3 567.1 276.3 566.5 275.3 563.5 272.3 562.5 270.3 562.4 269.3 562.7 268.3 563.6 267.3 565.5 266.3 568.9 265.3 583.7 262.3 587.4 261.3 590.2 260.3 592 259.3 593 258.3 593.4 256.3 594 255.3 595.4 254.3 597.8 253.3 600.8 252.3 605.7 251 610.7 250.1 615.7 249.6 621.8 249.3ZM452.7 299.3L464.7 298.8 481.7 298.9 489.7 299.5 494.7 300.7 497.7 302.1 499.7 303.5 501.1 305.3 501.4 306.3 501.5 307.3 501.3 308.3 500.7 309.7 499.7 311 498.7 311.9 496.7 312.9 495.3 313.3 493.7 313.5 489.7 313.8 485.7 313.7 472.7 312.7 458.7 312.2 453.7 311.5 448.7 310.1 444.2 308.3 442.3 307.3 441.3 306.3 441.5 305.3 446.7 300.7 448.7 299.9 452.7 299.3ZM474.2 300.3L462.7 300.9 457.7 301.5 453.9 302.3 450.7 303.6 449.4 304.3 448.2 305.3 447.9 306.3 449 307.3 451.4 308.3 453.7 308.9 459.7 309.9 476.8 311.3 485.7 312.3 489.7 312.4 492.7 312.1 494.7 311.6 496.7 310.7 498.4 309.3 499.1 308.3 499.4 307.3 499.5 306.3 499.1 305.3 497.7 303.7 496.7 303 494.7 302.1 492.7 301.5 489.7 300.9 483.7 300.4 474.7 300.3Z" fill="#aae1e4" stroke="#aae1e4" stroke-width="0.5" fill-rule="evenodd"/>
<path d="M411.7 213.1L414.7 212.7 417.7 212.8 419.5 213.3 420.7 213.9 423.7 216.5 424.7 217 425.7 217.1 430.7 217.1 433.7 217.7 435.7 218.7 437.8 220.3 439.3 222.3 439.8 224.3 439.5 226.3 438.5 228.3 436.8 230.3 434.7 232.1 432.7 233.3 430.7 234.2 428.7 234.9 423.7 236 422.7 236.4 421.7 237.3 418.3 242.3 412.7 249.3 411.1 252.3 410.8 253.3 410.6 255.3 410.8 257.3 411.7 260.3 415.5 268.3 416.8 273.3 417.6 275.3 418.7 276.6 420.7 277.9 424.6 279.3 429.3 280.3 434.7 281.1 439.7 281.5 443.7 281.5 447.7 281.2 451.7 280.5 455.6 279.3 457.8 278.3 459.2 277.3 459.9 276.3 460.1 275.3 459.5 273.3 456.6 268.3 455.2 265.3 454.8 263.3 454.9 262.3 455.3 261.3 456.7 259.9 458 259.3 459.7 258.8 462.7 258.6 466.7 259 469.7 259.7 472.7 260.8 483.2 265.3 486.7 266.6 488.7 267.1 493.7 267.6 495.7 268 502.7 270.9 513.7 273.8 529.2 279.3 539.3 282.3 545.7 283.7 561.1 286.3 579.7 290.4 598.7 293.6 603.7 294.7 608.7 296.3 611.7 297.5 614.7 299.3 615.7 300.3 616.3 301.3 616.5 302.3 616.4 303.3 615.9 304.3 611.7 310.3 610.7 312.3 610.6 313.3 612.3 314.3 612.7 314.4 619.7 315.5 627.1 316.3 618 316.3 607.4 314.3 606.4 313.3 607 312.3 612.4 305.3 613.3 303.3 613.3 302.3 613.1 301.3 612.4 300.3 611.2 299.3 608.7 297.9 604.7 296.3 600.7 295.2 595.7 294.2 576.7 291.5 560.7 287.6 545.7 285.1 539.7 283.9 530.4 281.3 512.7 275.7 503.7 273 500.7 271.8 496.4 269.3 494.7 268.8 492.7 268.5 487.7 268.5 485.7 268.2 468.7 263.4 465.7 262.8 462.7 262.6 460.7 263.1 459.4 264.3 459.2 265.3 459.6 267.3 460.9 269.3 462.7 271.2 466.3 274.3 467.1 275.3 467.2 276.3 466.4 277.3 464.5 278.3 461.9 279.3 457.7 280.6 452.7 281.8 447.7 282.6 443.7 282.8 436.7 282.7 428.7 282 422.7 281.2 418.7 280.1 416.7 279.3 415 278.3 413.9 277.3 412.7 275.3 412.2 273.3 411.6 269.3 411.1 267.3 408.1 259.3 407.2 256.3 407.3 254.3 407.7 253.3 413.6 244.3 414.6 242.3 414.6 241.3 413.7 240.6 411.7 240.8 405.7 242.6 403.7 243.7 402.2 245.3 401.6 246.3 401 248.3 400.7 252.3 400.2 254.3 395.6 262.3 394 266.3 393.4 269.3 392.9 275.3 392.4 277.3 391.2 279.3 388.7 282.4 388.7 273 389.2 269.3 389.8 267.3 390.6 265.3 391.6 263.3 396.3 256.3 398 253.3 398.9 251.3 400.4 246.3 401.5 244.3 402.7 242.9 403.7 242 410.7 237.7 412.7 236.7 418.7 234.6 419.2 234.3 420.1 233.3 420.5 231.3 420.2 229.3 419.7 227.8 418.7 226.8 417.7 226.8 416.7 227 409.7 230.7 405.7 231.9 402.7 232 400.7 231.5 398.7 230.4 397.7 229.1 397.2 227.3 397.5 225.3 399.2 222.3 401.7 219 403.7 217 405.7 215.5 408.7 214 411.1 213.3ZM410.6 215.3L408.7 215.9 406.7 216.7 403.7 218.7 400.7 221.8 399.6 223.3 398.6 225.3 398.4 227.3 398.7 228.4 399.7 229.5 400.7 230.1 402.7 230.4 404.7 230.2 406.7 229.7 408.7 228.9 410.7 227.8 414.1 225.3 417.1 222.3 418.3 220.3 418.6 219.3 418.7 218.3 418.6 217.3 418 216.3 416.7 215.3 415.7 215 413.7 214.8 410.7 215.3ZM429.3 221.3L427.7 221.9 426.1 223.3 425.5 224.3 425.2 225.3 425.1 227.3 425.5 229.3 426.7 230.8 427.7 231.3 428.7 231.5 430.6 231.3 432.7 230.4 434 229.3 434.8 228.3 435.3 227.3 435.5 226.3 435.5 225.3 435.3 224.3 434.8 223.3 433.7 222.2 431.7 221.3 429.7 221.2ZM453.7 213.1L455.7 212.7 457.7 212.6 461.7 213 465.7 214 468.7 215.1 470.7 216 472.3 217.3 472.5 218.3 472.2 221.3 472.7 223.3 473.7 224.3 474.7 224.5 475.8 224.3 476.8 223.3 477.2 222.3 477.4 220.3 477 217.3 477.5 216.3 478.7 215.3 481.7 213.7 483.7 213 486.7 212.4 496.9 212.3 499.7 212.6 504.7 213.6 511.7 215.9 513.7 216.2 515.7 215.8 519.8 213.3 521.9 212.3 548.7 212.3 550.3 213.3 550 214.3 548.1 215.3 542.7 217 540.7 217.8 539.9 218.3 539 219.3 538.6 220.3 538.5 222.3 538.8 224.3 539.9 228.3 541.3 230.3 542.7 231.2 543.7 231.5 547.7 231.8 563.7 230.8 597.7 229.9 611.7 228.8 620.7 227.6 624.7 227.3 627.7 227.4 633.7 228 639.7 228.4 646.7 229.9 650.7 230.3 654.7 230.2 663.7 229.5 669.7 229.6 674.7 230.4 678.7 231.4 678.7 242.1 663.7 243.2 650.7 243.6 639.7 243.2 618.7 241.6 614.7 241.5 610.7 241.8 607.7 242.6 605.7 243.4 597.7 247.5 592.7 249.8 587.7 251.6 576.6 255.3 574.8 256.3 574 257.3 573.6 258.3 572.3 259.3 571.7 259.5 567.9 260.3 561.7 260.9 555.7 261.1 543.7 261.1 539.7 261.9 532.7 264.1 530.7 264.4 528.7 264.4 526.7 263.8 525.7 263.2 524.6 262.3 523.3 260.3 523.1 259.3 523 257.3 525 244.3 525.2 241.3 525 239.3 523.9 236.3 522.8 234.3 519.7 230.3 517.7 228.6 516.7 228.2 515.7 228.2 514.7 228.6 513.7 229.5 511.7 232.4 507.9 239.3 506.7 240.8 505.7 241.6 504.7 242.1 502.7 242.6 500.7 242.6 488.7 241.3 486.7 241.3 485.7 241.5 484.7 242 483.7 242.7 479.7 247.3 476.7 249.5 473.7 250.5 471.7 250.7 469.7 250.4 467.7 249.7 463.7 247.6 460.7 245.2 458.7 243.3 455.7 239.6 448.9 230.3 446.4 226.3 445.8 224.3 445.7 222.3 446.2 220.3 447.1 218.3 448.5 216.3 449.7 215.1 451.7 213.8 453 213.3ZM526.2 213.3L524.7 213.8 522.7 214.8 520.7 216.4 516.7 219.9 515.7 220.5 514.7 220.7 513.7 220.4 508.7 217.8 506.7 216.9 503.7 216 500.7 215.4 496.7 215 492.7 215 489.9 215.3 487.5 216.3 486.7 217.3 487.1 218.3 489.7 219.5 490.7 220.2 491.3 221.3 491.2 222.3 490.9 223.3 489.7 225.3 489.5 226.3 490 228.3 491.6 232.3 491.7 233.3 491.3 234.3 490.4 235.3 486.7 237.8 485.7 238.1 484.7 238.1 483.7 237.8 482.7 237.1 481.2 235.3 480.9 234.3 480.8 233.3 481.2 231.3 481.7 230.3 482.7 229.2 487.4 226.3 488.1 225.3 487.9 224.3 486.7 222.1 485.7 221 484.7 220.6 482.7 220.8 480.7 221.9 477.6 225.3 476.7 225.7 475.7 225.9 474.7 225.8 473.7 225.5 472.2 224.3 471.6 223.3 470.1 219.3 469.4 218.3 468.1 217.3 465.7 216.1 463.7 215.4 460.7 214.8 457.7 214.7 455.7 215 453.7 215.7 451.7 216.9 450.7 217.8 449 220.3 448.3 222.3 448.2 224.3 448.9 227.3 450 229.3 456.5 238.3 459.7 242 462.7 244.6 466.7 247.1 469.7 248.3 472.7 248.8 474.7 248.6 475.7 248.3 477.7 247.3 480 245.3 483.7 240.9 484.7 240.1 485.7 239.7 492.7 241.1 498.7 241.8 502.7 241.8 504.7 241.2 506.1 240.3 507.7 238.4 513.7 227.7 514.7 226.5 515.7 226 516.7 226.2 517.7 226.9 518.7 227.9 521.7 231.6 524.3 235.3 525.7 238.3 526.1 240.3 526.1 243.3 525.4 249.3 524.3 256.3 524.2 258.3 524.7 260.1 525.6 261.3 526.7 262.2 528.7 262.9 530.7 263.1 533.7 262.6 537.2 261.3 542.7 258.7 544.7 258.1 546.7 258.1 551.7 258.8 555.7 258.9 559.7 258.7 562.7 258.2 567.5 256.3 583.7 251.8 590.7 249.3 596.6 246.3 605.7 240 607.7 239.1 609.7 238.5 612.7 238.2 615.7 238.4 638.7 241.4 646.7 241.9 652.7 241.8 658.5 241.3 665 240.3 669.2 239.3 672.1 238.3 674.1 237.3 675.3 236.3 675.9 235.3 675.8 234.3 675 233.3 673 232.3 671.7 232 668.7 231.4 665.7 231.2 651.7 231.6 636.7 230.7 633.7 230.4 628.7 229.4 625.7 229.1 621.7 229.4 618.7 230.1 612.7 232.1 607.7 232.8 602.7 232.6 587.7 231.4 577.7 231.2 563.7 231.6 546.7 232.9 542.7 232.8 540.7 232.2 539.7 231.4 538.9 230.3 537.9 227.3 536.2 220.3 536.1 219.3 536.4 218.3 537.1 217.3 538.7 216.1 540.3 215.3 541.5 214.3 540.4 213.3 535.7 212.6 530.7 212.6 526.7 213.2ZM483.9 231.3L482.8 232.3 482.4 233.3 482.4 234.3 482.9 235.3 483.7 236 484.4 236.3 485.7 236.5 486.7 236.3 488.7 235.4 489.8 234.3 490.1 233.3 489.7 232 488.7 231 487.7 230.6 486.7 230.5 484.7 230.9ZM592.7 212.3L620.3 212.3 620.5 213.3 618.7 213.7 613.7 214.3 608.7 214.4 602.7 214.3 595.7 213.6 593.6 213.3 592.3 212.3ZM639.7 216.9L640.7 216.6 641.7 216.7 642.7 217.1 643.7 217.9 644.5 219.3 644.6 220.3 644.4 221.3 643.7 222.4 642.7 223.3 641.7 223.8 640.7 224 639.7 223.9 638.7 223.3 637.9 222.3 637.5 221.3 637.4 220.3 637.6 219.3 638.1 218.3 639 217.3ZM658.7 284.2L661.7 284 664.7 284.1 667.7 284.6 670.2 285.3 671.1 286.3 668.8 287.3 667.7 287.5 663.7 287.9 653.7 288.1 643.7 289.6 640.2 289.3 639.6 288.3 641.8 287.3 652.7 285.2 658.1 284.3ZM657.1 285.3L654.3 286.3 655.7 286.8 660.3 287.3 664.7 287.1 667.9 286.3 666.9 285.3 662.7 284.8 657.7 285.2ZM389 287.3L391.7 288.9 395.7 290.5 399.7 291.5 402.7 291.8 406.7 291.7 416.7 290.1 422.7 289.6 426.7 289.7 433.7 290.5 437.7 290.7 441.7 290.6 451.7 289.7 471.7 290.2 486.7 289.7 491.7 290 495.7 290.8 498.7 291.9 500.9 293.3 502.7 295.4 507.6 303.3 509.1 306.3 510.7 310.4 512.1 313.3 510.3 314.3 500.7 315.7 493.6 316.3 439.2 316.3 437.3 314.3 437 312.3 436.1 311.3 433.7 310.1 430.7 309 418.7 305.5 414.7 304.8 409.7 304.6 404.7 304.9 400.7 305.6 397.7 306.4 394.7 307.7 392.3 309.3 391.4 310.3 390.8 311.3 390.5 312.3 390.6 313.3 391 315.3 391.5 316.3 388.7 316.3 388.7 309.5 390 308.3 391.6 307.3 395.7 305.4 400.7 304 405.7 303.2 410.7 302.9 418.7 303 421.2 303.3 422.7 303.8 426.4 306.3 428.8 307.3 434.7 309.2 437.3 310.3 438.9 311.3 439.9 312.3 441 314.3 441.7 314.7 444.7 315.6 447.7 316.1 454.7 316.3 472.7 315.9 488.7 315.8 494.7 315.6 505.9 314.3 508 313.3 508.2 312.3 507.6 308.3 507.1 306.3 505.7 303.5 503.7 300.8 500.7 297.3 498.5 295.3 495.7 293.6 492.7 292.7 488.7 292.1 482.7 291.8 452.7 291.5 437.7 292 424.7 291.6 416.9 292.3 406.7 294.1 401.7 294.2 398.7 293.9 396.7 293.5 388.7 290.9 388.7 287Z" fill="#eed4a5" stroke="#eed4a5" stroke-width="0.5" fill-rule="evenodd"/>
<path d="M526.7 213.2L530.7 212.6 535.7 212.6 540.4 213.3 541.5 214.3 540.3 215.3 538.7 216.1 537.1 217.3 536.4 218.3 536.1 219.3 536.2 220.3 537.9 227.3 538.9 230.3 539.7 231.4 540.7 232.2 542.7 232.8 546.7 232.9 563.7 231.6 577.7 231.2 587.7 231.4 602.7 232.6 607.7 232.8 612.7 232.1 618.7 230.1 621.7 229.4 625.7 229.1 628.7 229.4 633.7 230.4 636.7 230.7 651.7 231.6 665.7 231.2 668.7 231.4 671.7 232 673 232.3 675 233.3 675.8 234.3 675.9 235.3 675.3 236.3 674.1 237.3 672.1 238.3 669.2 239.3 665 240.3 658.5 241.3 652.7 241.8 646.7 241.9 638.7 241.4 615.7 238.4 612.7 238.2 609.7 238.5 607.7 239.1 605.7 240 596.6 246.3 590.7 249.3 583.7 251.8 567.5 256.3 562.7 258.2 559.7 258.7 555.7 258.9 551.7 258.8 546.7 258.1 544.7 258.1 542.7 258.7 537.2 261.3 533.7 262.6 530.7 263.1 528.7 262.9 526.7 262.2 525.6 261.3 524.7 260.1 524.2 258.3 524.3 256.3 525.4 249.3 526.1 243.3 526.1 240.3 525.7 238.3 524.3 235.3 521.7 231.6 518.7 227.9 517.7 226.9 516.7 226.2 515.7 226 514.7 226.5 513.7 227.7 507.7 238.4 506.1 240.3 504.7 241.2 502.7 241.8 498.7 241.8 492.7 241.1 485.7 239.7 484.7 240.1 483.7 240.9 480 245.3 477.7 247.3 475.7 248.3 474.7 248.6 472.7 248.8 469.7 248.3 466.7 247.1 462.7 244.6 459.7 242 456.5 238.3 450 229.3 448.9 227.3 448.2 224.3 448.3 222.3 449 220.3 450.7 217.8 451.7 216.9 453.7 215.7 455.7 215 457.7 214.7 460.7 214.8 463.7 215.4 465.7 216.1 468.1 217.3 469.4 218.3 470.1 219.3 471.6 223.3 472.2 224.3 473.7 225.5 474.7 225.8 475.7 225.9 476.7 225.7 477.6 225.3 480.7 221.9 482.7 220.8 484.7 220.6 485.7 221 486.7 222.1 487.9 224.3 488.1 225.3 487.4 226.3 482.7 229.2 481.7 230.3 481.2 231.3 480.8 233.3 480.9 234.3 481.2 235.3 482.7 237.1 483.7 237.8 484.7 238.1 485.7 238.1 486.7 237.8 490.4 235.3 491.3 234.3 491.7 233.3 491.6 232.3 490 228.3 489.5 226.3 489.7 225.3 490.9 223.3 491.2 222.3 491.3 221.3 490.7 220.2 489.7 219.5 487.1 218.3 486.7 217.3 487.5 216.3 489.9 215.3 492.7 215 496.7 215 500.7 215.4 503.7 216 506.7 216.9 508.7 217.8 513.7 220.4 514.7 220.7 515.7 220.5 516.7 219.9 520.7 216.4 522.7 214.8 524.7 213.8 526.2 213.3ZM456.6 216.3L454.7 216.8 452.7 218 451.3 219.3 450.1 221.3 449.6 223.3 449.7 225.3 450.2 227.3 451.3 229.3 458 238.3 460.7 241.1 462.7 242.8 465.7 244.9 467.7 246 469.7 246.8 472.7 247.3 474.7 247.2 476.7 246.5 478.7 245 480.2 243.3 482 240.3 482.2 239.3 481.8 238.3 480.5 236.3 479.6 234.3 479.2 230.3 478.7 228.6 477.7 227.8 474.7 226.9 472.7 225.9 471.3 224.3 469.7 221.1 468.7 219.6 466.7 218 463.7 216.7 461.7 216.2 458.7 216 456.7 216.3ZM525.7 216.3L522.7 217.9 520 220.3 518.7 222.3 518.4 223.3 518.4 224.3 519.1 226.3 520.3 228.3 525.9 236.3 526.4 237.3 527.1 239.3 527.3 241.3 527.2 244.3 525.4 257.3 525.7 259.3 526.4 260.3 527.7 261.3 528.7 261.7 530.7 261.9 532.7 261.7 534.7 261.1 536.3 260.3 537.8 259.3 540.7 256.1 542.7 255.2 545.7 255.1 552.7 255.7 556.7 255.8 560.7 255.6 565.7 254.9 572.7 253.7 579.7 252 585.2 250.3 590.2 248.3 593.8 246.3 596.6 244.3 598.7 242.3 600.2 240.3 600.9 238.3 600.7 237.3 600 236.3 598.4 235.3 594.7 234 589.7 233 583.7 232.3 577.7 232 570.7 232 563.7 232.2 556.7 232.7 544.7 234 542.7 234.1 540.7 233.9 539 233.3 537.7 231.9 537.1 230.3 535.2 223.3 533 218.3 532.3 216.3 531.7 215.7 530.7 215.4 529.7 215.3 527.7 215.6 525.7 216.3ZM499.3 218.3L497.7 218.9 496.7 219.7 493.9 224.3 493 226.3 492.5 228.3 492.5 229.3 493 232.3 492.9 233.3 492.6 234.3 491.8 235.3 489.5 237.3 488.8 238.3 489.3 239.3 492.7 240.4 498.7 241.1 502.7 241 504.7 240.3 505.7 239.7 507.7 237.3 509.9 233.3 512.1 228.3 512.7 226.3 512.8 224.3 512.4 223.3 510.7 221.3 507.7 219.5 505.7 218.7 503.7 218.3 501.7 218.1 499.7 218.2ZM621.7 231.3L619.9 232.3 619 233.3 618.8 234.3 619.7 235.5 621.2 236.3 622.7 236.8 625.7 237.3 630.7 237.8 637.7 239.4 643.7 240.2 647.7 240.4 650.7 240.2 656.5 239.3 659.5 238.3 665.1 235.3 666 234.3 664.7 233.9 661.7 233.6 645.7 232.7 634.7 232.9 632.7 232.6 629 231.3 626.7 230.8 624.7 230.7 622.7 231ZM410.7 215.3L413.7 214.8 415.7 215 416.7 215.3 418 216.3 418.6 217.3 418.7 218.3 418.6 219.3 418.3 220.3 417.1 222.3 414.1 225.3 410.7 227.8 408.7 228.9 406.7 229.7 404.7 230.2 402.7 230.4 400.7 230.1 399.7 229.5 398.7 228.4 398.4 227.3 398.6 225.3 399.6 223.3 400.7 221.8 403.7 218.7 406.7 216.7 408.7 215.9 410.6 215.3ZM408.7 217.3L405.7 218.7 402.7 221 400.7 223.3 399.7 225.5 399.6 226.3 399.7 227.3 400.4 228.3 401.7 228.9 403.7 229.1 406.7 228.3 409.7 226.8 412.9 224.3 413.9 223.3 415.3 221.3 416 219.3 415.9 218.3 415.1 217.3 413.7 216.7 411.7 216.6 408.7 217.3ZM429.7 221.2L431.7 221.3 433.7 222.2 434.8 223.3 435.3 224.3 435.5 225.3 435.5 226.3 435.3 227.3 434.8 228.3 434 229.3 432.7 230.4 430.6 231.3 428.7 231.5 427.7 231.3 426.7 230.8 425.5 229.3 425.1 227.3 425.2 225.3 425.5 224.3 426.1 223.3 427.7 221.9 429.3 221.3ZM410.7 241.1L412.7 240.5 413.7 240.6 414.6 241.3 414.6 242.3 413.6 244.3 407.7 253.3 407.3 254.3 407.2 256.3 408.1 259.3 411.1 267.3 411.6 269.3 412.2 273.3 412.7 275.3 413.9 277.3 415 278.3 416.7 279.3 418.7 280.1 422.7 281.2 428.7 282 436.7 282.7 443.7 282.8 447.7 282.6 452.7 281.8 457.7 280.6 461.9 279.3 464.5 278.3 466.4 277.3 467.2 276.3 467.1 275.3 466.3 274.3 462.7 271.2 460.7 269 459.6 267.3 459.3 266.3 459.2 265.3 459.4 264.3 460.3 263.3 461.7 262.8 463.7 262.6 466.7 263 485.7 268.2 487.7 268.5 492.7 268.5 494.7 268.8 496.4 269.3 500.7 271.8 503.7 273 512.7 275.7 530.4 281.3 539.7 283.9 545.7 285.1 560.7 287.6 577.7 291.7 597.7 294.6 601.7 295.5 605.7 296.7 608.7 297.9 611.2 299.3 612.4 300.3 613.1 301.3 613.3 302.3 613.3 303.3 612.4 305.3 607 312.3 606.4 313.3 607.4 314.3 618 316.3 611.5 316.3 603.1 314.3 602.6 313.3 608.3 307.3 609.8 305.3 610.5 303.3 610.5 302.3 610.1 301.3 609.3 300.3 607.7 299.1 604.7 297.7 600.7 296.4 596.7 295.5 591.7 294.7 579.7 293.4 575.7 292.8 559.7 288.9 545.7 286.7 540.7 285.6 517.7 278.8 502.7 274.9 500.7 274 499.7 273.4 497.2 271.3 495.7 270.4 493.7 269.9 491.7 270 487.7 271.2 483 272.3 482.5 273.3 483.9 276.3 484 277.3 483.5 278.3 481.3 279.3 472.7 279.7 468.7 280.1 464.7 280.9 453.7 283.7 448.7 284.4 445.7 284.5 436.7 284.2 425.7 284.4 421.7 283.8 418.7 282.9 415.7 281.8 412.7 280.3 410.2 278.3 409.4 277.3 408.2 275.3 407.6 273.3 406.7 267.7 405.5 264.3 404.7 262.9 403.7 261.8 402.7 261.4 401.7 261.5 400.7 262.1 399.7 263.3 398.7 265.3 398 268.3 397.5 274.3 397 276.3 396.1 278.3 392.9 283.3 392.7 284.3 392.8 285.3 393.5 286.3 394.6 287.3 396.7 288.4 399.7 289.4 403.7 289.9 407.7 289.6 417.7 287.6 423.7 286.9 425.7 287 433.7 289 437.7 289.4 440.8 289.3 448.7 287.8 451.7 287.6 456.7 287.7 466.7 288.6 471.7 288.8 476.7 288.5 484.7 287.5 487.7 287.4 491.7 287.7 495.7 288.5 498.7 289.4 500.8 290.3 502.7 291.4 504.7 293.3 505.7 295 507.9 300.3 512.7 308.7 514.7 311 515.7 311.8 518.6 313.3 516.1 314.3 501.4 316.3 493.6 316.3 500.7 315.7 510.3 314.3 512.1 313.3 510.7 310.4 509.1 306.3 508.1 304.3 501.9 294.3 500.7 293.1 498.7 291.9 496.7 291.1 493.7 290.3 490.7 289.9 486.7 289.7 471.7 290.2 453.7 289.7 449.7 289.8 441.7 290.6 437.7 290.7 433.7 290.5 426.7 289.7 423.7 289.6 417.7 290 407.7 291.6 403.7 291.9 399.7 291.5 394.7 290.1 390.6 288.3 388.7 287 388.7 282.4 391.2 279.3 392.4 277.3 392.9 275.3 393.4 269.3 394 266.3 395.6 262.3 400.2 254.3 400.7 252.3 401 248.3 401.7 246.1 402.7 244.6 404.7 243.1 410 241.3ZM405.4 244.3L403.6 245.3 402.7 246.7 402.3 248.3 402.7 250.1 403.7 251.2 404.7 251.5 405.7 251.3 406.7 250.7 408.1 249.3 408.8 248.3 409.5 246.3 409.4 245.3 408.7 244.5 407.7 244.1 405.7 244.2ZM657.7 285.2L662.7 284.8 666.9 285.3 667.9 286.3 664.7 287.1 660.3 287.3 655.7 286.8 654.3 286.3 657.1 285.3ZM402.7 305.2L408.7 304.6 412.7 304.6 415.7 304.9 419.7 305.8 430.7 309 434.3 310.3 436.1 311.3 437 312.3 437.3 314.3 439.2 316.3 433.1 316.3 433.8 315.3 433.8 314.3 434.2 313.3 434.2 312.3 433.2 311.3 431.2 310.3 426.7 308.9 417.7 306.7 413.7 306.1 409.7 305.8 405.7 306 402.7 306.4 399.7 307.1 396.7 308.3 395.1 309.3 394.1 310.3 393.4 311.3 393.2 312.3 393.3 313.3 394 315.3 394.9 316.3 391.5 316.3 391 315.3 390.5 312.3 390.8 311.3 391.4 310.3 392.3 309.3 393.7 308.3 396.7 306.8 399.7 305.8 402.2 305.3Z" fill="#e1b987" stroke="#e1b987" stroke-width="0.5" fill-rule="evenodd"/>
<path d="M456.7 216.3L458.7 216 461.7 216.2 463.7 216.7 466.7 218 468.7 219.6 469.7 221.1 471.3 224.3 472.7 225.9 474.7 226.9 477.7 227.8 478.7 228.6 479.2 230.3 479.6 234.3 480.5 236.3 481.8 238.3 482.2 239.3 482 240.3 480.2 243.3 478.7 245 476.7 246.5 474.7 247.2 472.7 247.3 469.7 246.8 467.7 246 465.7 244.9 462.7 242.8 460.7 241.1 458 238.3 451.3 229.3 450.2 227.3 449.7 225.3 449.6 223.3 450.1 221.3 451.3 219.3 452.7 218 454.7 216.8 456.6 216.3ZM456.5 217.3L454.7 218 452.8 219.3 451.7 220.6 450.8 222.3 450.5 224.3 450.6 225.3 451.2 227.3 452.3 229.3 459.5 238.3 461.7 240.5 464.7 242.9 467.7 244.6 470.7 245.7 473.7 246 475.7 245.5 477.7 244.4 478.7 243.3 480 241.3 480.4 240.3 480.4 239.3 480.2 238.3 478.8 235.3 477.3 230.3 476.6 229.3 472.7 226.8 471.7 225.9 470.5 224.3 468.7 221.1 467.7 219.9 466.7 219.1 464.7 218 461.7 217.1 458.7 216.9 456.7 217.3ZM525.7 216.3L527.7 215.6 529.7 215.3 530.7 215.4 531.7 215.7 532.3 216.3 533 218.3 535.2 223.3 537.1 230.3 537.7 231.9 539 233.3 540.7 233.9 542.7 234.1 544.7 234 556.7 232.7 563.7 232.2 570.7 232 577.7 232 583.7 232.3 589.7 233 594.7 234 598.4 235.3 600 236.3 600.7 237.3 600.9 238.3 600.2 240.3 598.7 242.3 596.6 244.3 593.8 246.3 590.2 248.3 585.2 250.3 579.7 252 572.7 253.7 565.7 254.9 560.7 255.6 556.7 255.8 552.7 255.7 545.7 255.1 542.7 255.2 540.7 256.1 537.8 259.3 536.3 260.3 534.7 261.1 532.7 261.7 530.7 261.9 528.7 261.7 527.7 261.3 526.4 260.3 525.7 259.3 525.4 257.3 527.2 244.3 527.3 241.3 527.1 239.3 526.4 237.3 525.9 236.3 520.3 228.3 519.1 226.3 518.4 224.3 518.4 223.3 518.7 222.3 520 220.3 522.7 217.9 525.7 216.3ZM524.6 219.3L522.7 220.4 521.7 221.3 521 222.3 520.5 223.3 520.4 225.3 521 227.3 522.7 230.3 527.3 236.3 528.4 238.3 528.7 240.3 528.6 243.3 526.6 257.3 526.8 258.3 527.3 259.3 528.7 260.4 530.7 260.8 531.7 260.8 533.7 260.2 535.4 259.3 536.5 258.3 537.7 256.3 538.7 255.2 540.3 254.3 541.7 253.9 544.7 253.8 552.7 254.4 556.7 254.5 561.7 254.2 566.7 253.7 572.7 252.7 578.7 251.4 584.7 249.5 588.7 247.8 591.3 246.3 594 244.3 595.8 242.3 596.7 240.3 596.8 239.3 596.5 238.3 595.8 237.3 594.4 236.3 592.7 235.5 588.9 234.3 583.7 233.4 578.7 232.9 572.7 232.7 560.7 233.1 554.7 233.6 543.7 235.1 540.7 235.3 538.7 235.1 536.8 234.3 536 233.3 535.7 232.3 535 227.3 534.5 225.3 533.1 222.3 531.7 220.6 530.7 219.7 528.7 218.8 526.7 218.7 524.7 219.3ZM408.7 217.3L411.7 216.6 413.7 216.7 415.1 217.3 415.9 218.3 416 219.3 415.3 221.3 413.9 223.3 412.9 224.3 409.7 226.8 406.7 228.3 403.7 229.1 401.7 228.9 400.4 228.3 399.7 227.3 399.6 226.3 399.7 225.5 400.7 223.3 402.7 221 405.7 218.7 408.7 217.3ZM409.8 218.3L406.9 219.3 404.7 220.6 402.8 222.3 401.4 224.3 401.1 225.3 401.1 226.3 401.7 227.3 402.7 227.7 404.7 227.6 407.7 226.6 409.7 225.3 411 224.3 412.8 222.3 413.3 221.3 413.6 220.3 413.5 219.3 412.7 218.5 411.7 218.2 410.7 218.2ZM499.7 218.2L501.7 218.1 503.7 218.3 505.7 218.7 507.7 219.5 510.7 221.3 512.4 223.3 512.8 224.3 512.7 226.3 512.1 228.3 509.9 233.3 507.7 237.3 505.7 239.7 504.7 240.3 502.7 241 498.7 241.1 492.7 240.4 489.3 239.3 488.8 238.3 489.5 237.3 491.8 235.3 492.6 234.3 492.9 233.3 493 232.3 492.5 229.3 492.5 228.3 493 226.3 493.9 224.3 496.7 219.7 497.7 218.9 499.3 218.3ZM501 220.3L499.7 220.7 497.7 222.1 496.6 223.3 495.3 225.3 494.1 228.3 494 230.3 494.2 232.3 494.1 233.3 493.7 234.3 493 235.3 491.1 237.3 490.7 238.3 491.6 239.3 494.7 240.1 499.7 240.5 502.7 240.2 504.7 239.4 505.7 238.7 507.7 236.2 509.3 233.3 510.6 230.3 511.2 228.3 511.4 226.3 511.3 225.3 510.7 223.9 509.7 222.7 508.7 221.8 507.7 221.2 505.7 220.5 503.7 220.1 501.7 220.1ZM622.7 231L624.7 230.7 626.7 230.8 629 231.3 632.7 232.6 634.7 232.9 645.7 232.7 661.7 233.6 664.7 233.9 666 234.3 665.1 235.3 659.5 238.3 656.5 239.3 650.7 240.2 647.7 240.4 643.7 240.2 637.7 239.4 630.7 237.8 625.7 237.3 622.7 236.8 621.2 236.3 619.7 235.5 618.8 234.3 619 233.3 619.9 232.3 621.7 231.3ZM640 235.3L638.9 236.3 639.8 237.3 642.7 238.2 646.7 238.6 648.7 238.5 650.7 238.1 652.9 237.3 653.5 236.3 652.2 235.3 649.7 234.8 646.7 234.5 643.7 234.6 640.7 235.1ZM405.7 244.2L407.7 244.1 408.7 244.5 409.4 245.3 409.5 246.3 408.8 248.3 408.1 249.3 406.7 250.7 405.7 251.3 404.7 251.5 403.7 251.2 402.7 250.1 402.3 248.3 402.7 246.7 403.6 245.3 405.4 244.3ZM405.1 246.3L404.7 246.5 404.3 247.3 404.4 248.3 404.7 248.7 405.7 248.7 406.3 248.3 406.8 247.3 406.4 246.3 405.7 246.1ZM400.7 262.1L401.7 261.5 402.7 261.4 403.7 261.8 404.9 263.3 405.7 264.7 406.6 267.3 407.6 273.3 408.2 275.3 409.4 277.3 410.2 278.3 412.7 280.3 415.7 281.8 418.7 282.9 422.7 284 426.7 284.4 436.7 284.2 445.7 284.5 448.7 284.4 453.7 283.7 464.7 280.9 468.7 280.1 472.7 279.7 481.3 279.3 483.5 278.3 484 277.3 483.9 276.3 482.5 273.3 483 272.3 487.7 271.2 491.7 270 493.7 269.9 495.7 270.4 497.2 271.3 499.7 273.4 500.7 274 502.7 274.9 517.7 278.8 540.7 285.6 545.7 286.7 559.7 288.9 575.7 292.8 579.7 293.4 592.7 294.9 600.7 296.4 604.7 297.7 608 299.3 609.3 300.3 610.1 301.3 610.5 302.3 610.5 303.3 609.8 305.3 607.4 308.3 602.6 313.3 603.1 314.3 611.5 316.3 606.1 316.3 598.9 314.3 598.8 313.3 602.7 310.3 604.9 308.3 606.7 306.3 607.8 304.3 608 303.3 607.9 302.3 607.4 301.3 605.7 299.8 602.7 298.3 598.7 297 593.7 296.1 578.7 294.6 574.7 294 571.2 293.3 558.7 290.2 546 288.3 541.7 287.5 536.7 286.1 524.7 282.2 516.7 280 508.7 278.2 500.7 277.1 498.7 276.7 497.7 276.2 496.7 275.3 495.3 273.3 494.7 272.8 493.7 272.7 492.7 273.3 492.6 274.3 493.6 277.3 493.7 278.3 493.4 279.3 492.2 282.3 492.2 283.3 492.9 284.3 494.6 285.3 500.7 287.9 503.4 289.3 504.9 290.3 506.7 291.8 507.8 293.3 508.3 294.3 509.5 298.3 510.7 301.3 513.7 306 515.7 308.2 517.7 309.6 519.7 310.4 522.7 310.9 530.7 311.6 533.8 312.3 536.1 313.3 534.3 314.3 518.7 314.9 513.9 315.3 507 316.3 501.4 316.3 516.1 314.3 518.6 313.3 515.7 311.8 514.7 311 512.7 308.7 507.9 300.3 505.7 295 504.7 293.3 503.7 292.2 501.7 290.8 499.7 289.8 496.7 288.8 491.7 287.7 487.7 287.4 484.7 287.5 476.7 288.5 471.7 288.8 466.7 288.6 456.7 287.7 451.7 287.6 448.7 287.8 440.8 289.3 437.7 289.4 433.7 289 425.7 287 423.7 286.9 417.7 287.6 407.7 289.6 403.7 289.9 399.7 289.4 397.7 288.8 395.7 287.9 394.6 287.3 393.5 286.3 392.8 285.3 392.7 284.3 392.9 283.3 393.4 282.3 396.1 278.3 397 276.3 397.5 274.3 397.8 269.3 398.4 266.3 399.7 263.3 400.5 262.3ZM402.7 278.3L401.7 278.5 400.7 279 399.7 279.8 398.2 281.3 397.1 283.3 397 284.3 397.3 285.3 398.7 286.6 400.3 287.3 401.7 287.7 404.7 287.9 408.5 287.3 411.1 286.3 412.3 285.3 412.4 284.3 411.6 283.3 410.4 282.3 406.7 279.7 404.7 278.6 402.7 278.3ZM467.9 282.3L464.7 283.3 462.9 284.3 462.7 285.3 463.7 285.9 464.4 286.3 465.7 286.6 469.7 287.3 472.7 287.3 475.7 287 478.4 286.3 480.4 285.3 480.9 284.3 479.9 283.3 477.1 282.3 474.7 281.9 471.7 281.8 468.7 282.1ZM403.7 306.2L406.7 305.9 409.7 305.8 414.7 306.2 421.7 307.7 430.7 310.1 433.2 311.3 434.2 312.3 434.2 313.3 433.8 314.3 433.8 315.3 433.1 316.3 427.5 316.3 429.4 315.3 431.1 313.3 431.2 312.3 430.2 311.3 427.8 310.3 423.7 309.2 416.7 307.6 412.7 307 408.7 306.8 405.7 307 402.7 307.5 399.9 308.3 397.8 309.3 396.5 310.3 395.8 311.3 395.5 312.3 395.7 313.3 396.2 314.3 396.8 315.3 398 316.3 394.9 316.3 394 315.3 393.3 313.3 393.2 312.3 393.4 311.3 394.1 310.3 395.1 309.3 397.7 307.9 400.7 306.8 403.3 306.3Z" fill="#f0c346" stroke="#f0c346" stroke-width="0.5" fill-rule="evenodd"/>
<path d="M456.7 217.3L458.7 216.9 461.7 217.1 464.7 218 466.7 219.1 467.7 219.9 468.7 221.1 470.5 224.3 471.7 225.9 472.7 226.8 476.6 229.3 477.3 230.3 478.8 235.3 480.2 238.3 480.4 239.3 480.4 240.3 480 241.3 478.7 243.3 477.7 244.4 475.7 245.5 473.7 246 470.7 245.7 467.7 244.6 464.7 242.9 461.7 240.5 459.5 238.3 452.3 229.3 451.2 227.3 450.6 225.3 450.5 224.3 450.8 222.3 451.7 220.6 452.8 219.3 454.7 218 456.5 217.3ZM455.9 218.3L454.7 218.9 452.9 220.3 452.2 221.3 451.4 223.3 451.3 224.3 451.6 226.3 452 227.3 453.2 229.3 460.7 238.2 462.7 240.1 464.7 241.6 467.7 243.4 470.7 244.5 472.7 244.8 473.7 244.7 475.4 244.3 476.7 243.6 477.9 242.3 478.7 240.9 479 239.3 478.9 238.3 476.8 232.3 475.7 230.3 474.8 229.3 471.1 226.3 470.4 225.3 467.9 221.3 467 220.3 465.7 219.4 463.7 218.4 461.7 217.8 458.7 217.7 456.7 218ZM410.7 218.2L411.7 218.2 412.7 218.5 413.5 219.3 413.6 220.3 413.3 221.3 412.8 222.3 411 224.3 409.7 225.3 407.7 226.6 404.7 227.6 402.7 227.7 401.7 227.3 401.1 226.3 401.1 225.3 401.4 224.3 402.8 222.3 404.7 220.6 406.9 219.3 409.8 218.3ZM407.7 220.3L405.7 221.3 404.7 222.1 403.5 223.3 403 224.3 402.9 225.3 403.7 226.1 404.7 226.2 406.7 225.7 408.7 224.5 410.1 223.3 410.8 222.3 411.1 221.3 410.7 220.2 409.7 220 407.7 220.3ZM524.7 219.3L526.7 218.7 528.7 218.8 530.7 219.7 531.7 220.6 533.1 222.3 534.5 225.3 535 227.3 535.7 232.3 536 233.3 536.8 234.3 538.7 235.1 540.7 235.3 543.7 235.1 554.7 233.6 560.7 233.1 572.7 232.7 578.7 232.9 583.7 233.4 588.9 234.3 592.7 235.5 594.4 236.3 595.8 237.3 596.5 238.3 596.8 239.3 596.7 240.3 595.8 242.3 594 244.3 591.3 246.3 588.7 247.8 584.7 249.5 578.7 251.4 572.7 252.7 566.7 253.7 561.7 254.2 556.7 254.5 552.7 254.4 544.7 253.8 541.7 253.9 540.3 254.3 538.7 255.2 537.7 256.3 536.5 258.3 535.4 259.3 533.7 260.2 531.7 260.8 530.7 260.8 528.7 260.4 527.3 259.3 526.8 258.3 526.6 257.3 528.6 243.3 528.7 240.3 528.4 238.3 527.3 236.3 522.7 230.3 521 227.3 520.4 225.3 520.5 223.3 521 222.3 521.7 221.3 522.7 220.4 524.6 219.3ZM524.6 221.3L523.2 222.3 522.4 223.3 522 224.3 522 226.3 522.6 228.3 523.7 230.3 525.7 232.8 527.7 234.6 530.3 236.3 531.2 237.3 531.2 238.3 530 244.3 528.1 256.3 528.2 257.3 528.5 258.3 529.7 259.3 531.7 259.5 532.7 259.2 533.7 258.7 534.7 257.7 536.3 255.3 537.3 254.3 538.7 253.4 540.7 252.8 543.7 252.7 552.7 253.4 556.7 253.5 561.7 253.3 566.7 252.9 572.7 251.9 578.7 250.5 582.7 249.2 587.2 247.3 589 246.3 591.6 244.3 593.2 242.3 593.6 241.3 593.8 240.3 593.6 239.3 593 238.3 591.9 237.3 590.1 236.3 586.7 235.1 581.7 234.1 575.7 233.5 569.7 233.4 562.7 233.6 556.7 234.1 539.7 236.6 536.7 236.7 534.7 236.5 533.7 236 533.3 235.3 533.8 230.3 533.7 228.3 533 225.3 531.9 223.3 530.7 222.1 528.7 221 526.7 220.7 524.7 221.3ZM501.7 220.1L503.7 220.1 505.7 220.5 507.7 221.2 508.7 221.8 509.7 222.7 510.7 223.9 511.3 225.3 511.4 226.3 511.2 228.3 510.6 230.3 509.3 233.3 507.7 236.2 505.7 238.7 504.7 239.4 502.7 240.2 499.7 240.5 494.7 240.1 491.6 239.3 490.7 238.3 491.1 237.3 493 235.3 493.7 234.3 494.1 233.3 494.2 232.3 494 230.3 494.1 228.3 495.3 225.3 496.6 223.3 497.7 222.1 499.7 220.7 501 220.3ZM500.3 222.3L498.7 223.3 497.7 224.3 496.3 226.3 495.7 227.6 495.3 229.3 495.2 233.3 494.9 234.3 494.2 235.3 492.6 237.3 492.5 238.3 494.2 239.3 497.7 239.8 500.7 239.8 502.7 239.5 503.7 239.1 504.7 238.5 506.1 237.3 507.5 235.3 508.6 233.3 510.1 229.3 510.3 227.3 510.2 226.3 509.8 225.3 509.3 224.3 508.3 223.3 506.7 222.3 505.7 221.9 503.7 221.6 501.7 221.8 500.7 222.1ZM640.7 235.1L643.7 234.6 646.7 234.5 649.7 234.8 652.2 235.3 653.5 236.3 652.9 237.3 650.7 238.1 648.7 238.5 646.7 238.6 642.7 238.2 639.8 237.3 638.9 236.3 640 235.3ZM405.7 246.1L406.4 246.3 406.8 247.3 406.3 248.3 405.7 248.7 404.7 248.7 404.4 248.3 404.3 247.3 404.7 246.5 405.1 246.3ZM492.7 273.3L493.7 272.7 494.7 272.8 495.7 273.8 496.7 275.3 497.7 276.2 498.7 276.7 500.7 277.1 508.7 278.2 516.7 280 524.7 282.2 536.7 286.1 541.7 287.5 546 288.3 558.7 290.2 571.2 293.3 574.7 294 578.7 294.6 593.7 296.1 598.7 297 602.8 298.3 605.7 299.8 607.4 301.3 607.9 302.3 608 303.3 607.8 304.3 606.7 306.3 604.9 308.3 602.7 310.3 598.8 313.3 598.9 314.3 606.1 316.3 601.3 316.3 594.6 314.3 594.9 313.3 598.7 311.1 602.4 308.3 604.3 306.3 605.4 304.3 605.5 303.3 605.3 302.3 604.7 301.3 603.6 300.3 600.7 298.9 596.7 297.7 592.7 297 574.7 295.3 569.9 294.3 558.7 291.5 542.7 289.2 537.7 287.9 527.4 284.3 519.7 282 512.7 280.5 506.7 280 503.7 280.1 501.7 280.7 500.7 281.3 499.9 282.3 499.8 283.3 500.3 284.3 501.2 285.3 507.7 289.8 509.3 291.3 510.1 292.3 511.1 294.3 512 298.3 512.7 300.3 513.8 302.3 515.7 304.7 517.7 306.3 519.7 307.3 522.7 308 528.7 308.5 531.7 309 535.7 310.5 541.4 313.3 540.9 314.3 535.7 315 519.7 315.6 512.8 316.3 507 316.3 517.7 314.9 534.3 314.3 536.1 313.3 533.8 312.3 530.7 311.6 522.7 310.9 519.7 310.4 517.7 309.6 515.7 308.2 513.7 306 510.7 301.3 509.5 298.3 508.3 294.3 507.8 293.3 506.7 291.8 504.9 290.3 503.4 289.3 500.7 287.9 494.6 285.3 492.9 284.3 492.2 283.3 492.2 282.3 493.4 279.3 493.7 278.3 493.6 277.3 492.6 274.3 492.7 273.3ZM402.7 278.3L404.7 278.6 406.7 279.7 410.4 282.3 411.6 283.3 412.4 284.3 412.3 285.3 411.1 286.3 408.5 287.3 404.7 287.9 401.7 287.7 400.3 287.3 398.7 286.6 397.3 285.3 397 284.3 397.1 283.3 398.2 281.3 399.7 279.8 400.7 279 401.7 278.5 402.7 278.3ZM468.7 282.1L471.7 281.8 474.7 281.9 477.1 282.3 479.9 283.3 480.9 284.3 480.4 285.3 478.4 286.3 475.7 287 472.7 287.3 469.7 287.3 465.7 286.6 464.4 286.3 463.7 285.9 462.7 285.3 462.9 284.3 464.7 283.3 467.9 282.3ZM403.7 307.3L408.7 306.8 413.7 307.1 418.7 308 427.8 310.3 430.2 311.3 431.2 312.3 431.1 313.3 429.4 315.3 427.5 316.3 422.1 316.3 424.8 315.3 427.6 313.3 427.9 312.3 426.7 311.3 424.1 310.3 417.7 308.7 413.7 308 409.7 307.7 406.7 307.8 403.6 308.3 400.7 309.2 398.9 310.3 398.1 311.3 397.8 312.3 398 313.3 399.5 315.3 401.1 316.3 398 316.3 396.8 315.3 395.7 313.3 395.5 312.3 395.8 311.3 396.5 310.3 398.7 308.8 400.7 308 403.6 307.3Z" fill="#ffe100" stroke="#ffe100" stroke-width="0.5" fill-rule="evenodd"/>
<path d="M456.7 218L458.7 217.7 461.7 217.8 463.7 218.4 465.7 219.4 467 220.3 467.9 221.3 470.4 225.3 471.1 226.3 474.8 229.3 475.7 230.3 476.8 232.3 478.9 238.3 479 239.3 478.7 240.9 477.9 242.3 476.7 243.6 475.4 244.3 473.7 244.7 472.7 244.8 470.7 244.5 467.7 243.4 464.7 241.6 462.7 240.1 460.7 238.2 453.2 229.3 452 227.3 451.6 226.3 451.3 224.3 451.4 223.3 452.2 221.3 452.9 220.3 454.7 218.9 455.9 218.3ZM458.6 218.3L456.7 218.7 454.7 219.6 453 221.3 452.4 222.3 452.1 223.3 452.1 225.3 452.3 226.3 453.3 228.3 461.2 237.3 464.7 240.4 467.7 242.3 469.7 243.1 471.7 243.5 473.7 243.5 474.7 243.2 476.1 242.3 477 241.3 477.5 240.3 477.7 239.3 477.6 238.3 477.1 236.3 476 233.3 475.1 231.3 474.4 230.3 470.7 226.8 467.7 222.1 465.9 220.3 464.7 219.5 462.7 218.7 460.7 218.3 458.7 218.3ZM407.7 220.3L409.7 220 410.7 220.2 411.1 221.3 410.8 222.3 410.1 223.3 408.7 224.5 406.7 225.7 404.7 226.2 403.7 226.1 402.9 225.3 403 224.3 403.5 223.3 404.7 222.1 405.7 221.3 407.7 220.3ZM524.7 221.3L526.7 220.7 528.7 221 530.7 222.1 531.9 223.3 533 225.3 533.7 228.3 533.8 230.3 533.3 235.3 533.7 236 534.7 236.5 536.7 236.7 539.7 236.6 556.7 234.1 562.7 233.6 569.7 233.4 575.7 233.5 581.7 234.1 586.7 235.1 590.1 236.3 591.9 237.3 593 238.3 593.6 239.3 593.8 240.3 593.6 241.3 593.2 242.3 591.6 244.3 589 246.3 587.2 247.3 582.7 249.2 578.7 250.5 572.7 251.9 566.7 252.9 561.7 253.3 556.7 253.5 552.7 253.4 543.7 252.7 540.7 252.8 538.7 253.4 537.3 254.3 536.3 255.3 534.7 257.7 533.7 258.7 532.7 259.2 531.7 259.5 529.7 259.3 528.5 258.3 528.2 257.3 528.1 256.3 530 244.3 531.2 238.3 531.2 237.3 530.3 236.3 527.7 234.6 525.7 232.8 523.7 230.3 522.6 228.3 522 226.3 522 224.3 522.4 223.3 523.2 222.3 524.6 221.3ZM524.9 223.3L524 224.3 523.6 225.3 523.5 226.3 523.9 228.3 524.7 229.8 525.9 231.3 527.7 232.7 528.7 233 529.7 233.1 530.7 232.6 531.7 231.3 532.2 229.3 532 227.3 531.3 225.3 530.6 224.3 529.7 223.5 528.7 222.9 527.7 222.7 526.7 222.6 525.7 222.9ZM562.6 234.3L554.7 235.1 547.7 236.3 538.5 238.3 535.7 239.2 534.7 239.7 533.2 241.3 532.2 243.3 531.7 245.3 530.7 250.6 530.3 254.3 530.4 256.3 530.7 256.8 531.7 257.1 532.7 256.6 534.6 254.3 535.8 253.3 537.7 252.3 539.7 251.7 543.7 251.6 551.7 252.4 556.7 252.7 561.7 252.5 567.7 251.9 573.7 250.9 579.8 249.3 584.8 247.3 588.1 245.3 589.2 244.3 590.7 242.3 591.1 241.3 591.1 240.3 590.7 239.3 589.9 238.3 588.4 237.3 586.7 236.5 582.5 235.3 576.7 234.4 569.7 234.1 562.7 234.3ZM500.7 222.1L501.7 221.8 503.7 221.6 505.7 221.9 506.7 222.3 508.3 223.3 509.3 224.3 509.8 225.3 510.2 226.3 510.3 227.3 510.1 229.3 508.6 233.3 507.5 235.3 506.1 237.3 504.7 238.5 503.7 239.1 502.7 239.5 500.7 239.8 497.7 239.8 494.2 239.3 492.5 238.3 492.6 237.3 494.2 235.3 494.9 234.3 495.2 233.3 495.3 229.3 495.7 227.6 496.3 226.3 497.7 224.3 498.7 223.3 500.3 222.3ZM501.5 223.3L499.7 224.2 498.7 225.1 497.1 227.3 496.5 229.3 496.3 233.3 496.1 234.3 494.3 237.3 494.7 238.3 496.7 238.9 499.7 239.1 502.7 238.6 504.7 237.5 506.7 235.3 507.9 233.3 508.7 231.3 509.3 228.3 509.2 227.3 508.7 225.8 507.7 224.5 506.7 223.8 504.7 223.1 502.7 223 501.7 223.2ZM503.7 280.1L506.7 280 509.7 280.1 513.7 280.7 517.7 281.5 524.7 283.4 537.7 287.9 542.7 289.2 558.7 291.5 569.9 294.3 574.7 295.3 592.7 297 596.7 297.7 600.7 298.9 603.6 300.3 604.7 301.3 605.3 302.3 605.5 303.3 605.4 304.3 604.3 306.3 602.4 308.3 598.7 311.1 594.9 313.3 594.6 314.3 601.3 316.3 596.5 316.3 589.5 314.3 590.2 313.3 594.7 311.5 598.5 309.3 601 307.3 602.6 305.3 603 304.3 603.1 303.3 602.8 302.3 602 301.3 600.7 300.4 598.2 299.3 594.7 298.4 590.7 297.7 577.7 296.8 573.7 296.3 569.7 295.5 561.7 293.4 557.7 292.5 541.7 290.5 535.7 288.9 526.2 285.3 521.7 283.9 515.7 282.6 510.7 282.1 508.3 282.3 506.7 282.9 506.1 283.3 505.8 284.3 506.2 285.3 507 286.3 511.5 290.3 513 292.3 514 294.3 515.2 299.3 516.3 301.3 517.7 302.8 519.7 304.1 521.7 304.8 529.7 305.7 532.7 306.6 535.7 308 540.7 310.8 545.7 313.3 545.7 314.3 535.7 315.8 526.6 316.3 512.8 316.3 519.7 315.6 531.7 315.2 536.7 314.9 540.9 314.3 541.4 313.3 536.7 310.9 532.7 309.3 529.7 308.6 522.7 308 520.7 307.6 518.7 306.9 516.7 305.6 514.7 303.6 513.2 301.3 512 298.3 511.1 294.3 510.7 293.3 509.7 291.8 507.7 289.8 502.6 286.3 501.2 285.3 500.3 284.3 499.8 283.3 499.9 282.3 500.7 281.3 502.9 280.3ZM403.7 308.3L408.7 307.7 413.7 308 420.4 309.3 424.1 310.3 426.7 311.3 427.9 312.3 427.6 313.3 424.8 315.3 422.1 316.3 416.4 316.3 420.1 315.3 423.6 313.3 424.1 312.3 423 311.3 420.3 310.3 416.1 309.3 412.7 308.8 409.7 308.6 406.7 308.8 403.9 309.3 401.5 310.3 400.7 311 400.4 311.3 400.1 312.3 400.4 313.3 400.7 313.7 402.5 315.3 405.2 316.3 401.1 316.3 399.5 315.3 398 313.3 397.8 312.3 398.1 311.3 398.9 310.3 400.6 309.3 403.6 308.3Z" fill="#ffc300" stroke="#ffc300" stroke-width="0.5" fill-rule="evenodd"/>
<path d="M458.7 218.3L460.7 218.3 462.7 218.7 464.7 219.5 465.9 220.3 467.7 222.1 470.7 226.8 474.4 230.3 475.1 231.3 476 233.3 477.1 236.3 477.6 238.3 477.7 239.3 477.5 240.3 477 241.3 476.1 242.3 474.7 243.2 473.7 243.5 471.7 243.5 469.7 243.1 467.7 242.3 464.7 240.4 461.2 237.3 453.3 228.3 452.3 226.3 452.1 225.3 452.1 223.3 452.4 222.3 453 221.3 454.7 219.6 456.7 218.7 458.6 218.3ZM456.6 219.3L454.8 220.3 453.8 221.3 453.1 222.3 452.8 223.3 452.6 224.3 452.9 226.3 454 228.3 458.9 233.3 462.5 237.3 465.7 240 467.7 241.1 469.7 241.9 471.7 242.3 473.7 242.1 474.7 241.6 475.7 240.7 476.3 239.3 476.3 238.3 476 236.3 475.3 234.3 473.9 231.3 469.7 226.6 467.1 222.3 466.2 221.3 464.9 220.3 462.7 219.2 460.7 218.8 458.7 218.8 456.7 219.3ZM501.7 223.2L502.7 223 504.7 223.1 506.7 223.8 507.7 224.5 508.7 225.8 509.2 227.3 509.3 228.3 508.7 231.3 507.9 233.3 506.7 235.3 504.7 237.5 502.7 238.6 499.7 239.1 496.7 238.9 494.7 238.3 494.3 237.3 496.1 234.3 496.3 233.3 496.5 229.3 497.1 227.3 498.7 225.1 499.7 224.2 501.5 223.3ZM503.1 224.3L501.7 224.6 499.7 225.8 498.5 227.3 497.7 229.3 497.3 234.3 496.5 236.3 496.5 237.3 497.7 238 499.7 238.2 502.7 237.6 504.7 236.4 505.7 235.4 506.7 234 507.9 231.3 508.3 229.3 508.3 228.3 508.1 227.3 507.6 226.3 506.7 225.3 505.7 224.7 503.7 224.3ZM525.7 222.9L526.7 222.6 527.7 222.7 528.7 222.9 529.7 223.5 530.6 224.3 531.3 225.3 532 227.3 532.2 229.3 531.7 231.3 530.7 232.6 529.7 233.1 528.7 233 527.7 232.7 525.9 231.3 524.7 229.8 523.9 228.3 523.5 226.3 523.6 225.3 524 224.3 524.9 223.3ZM526.3 225.3L525.5 226.3 525.5 227.3 525.7 228.3 526.7 229.7 527.6 230.3 528.7 230.5 529.1 230.3 529.7 229.8 529.9 229.3 530.1 228.3 529.7 226.6 528.5 225.3 527.7 225 526.7 225.1ZM562.7 234.3L569.7 234.1 576.7 234.4 582.5 235.3 586.7 236.5 588.4 237.3 589.9 238.3 590.7 239.3 591.1 240.3 591.1 241.3 590.7 242.3 589.2 244.3 588.1 245.3 584.8 247.3 579.8 249.3 573.7 250.9 567.7 251.9 561.7 252.5 556.7 252.7 551.7 252.4 543.7 251.6 539.7 251.7 537.7 252.3 535.8 253.3 534.6 254.3 532.7 256.6 531.7 257.1 530.7 256.8 530.4 256.3 530.3 254.3 530.7 250.6 531.7 245.3 532.2 243.3 533.2 241.3 534.7 239.7 535.7 239.2 538.5 238.3 547.7 236.3 554.7 235.1 562.6 234.3ZM559.2 235.3L552.7 236.2 547.4 237.3 541.7 238.9 538 240.3 536.4 241.3 535.4 242.3 534.7 243.5 533.8 246.3 533.6 248.3 533.7 249.5 534.2 250.3 534.7 250.6 539.7 250.3 541.7 250.3 550.7 251.5 555.7 251.8 559.7 251.8 564.7 251.5 569.7 250.8 573.7 250.1 578.7 248.7 582.2 247.3 584.1 246.3 586.9 244.3 587.7 243.3 588.3 242.3 588.5 241.3 588.4 240.3 587.8 239.3 586.7 238.3 584.9 237.3 581.9 236.3 578.7 235.6 574.7 235.1 569.7 234.9 564.7 234.9 559.7 235.2ZM508.7 282.2L510.7 282.1 513.7 282.3 519.7 283.4 526.2 285.3 536.7 289.2 541.7 290.5 557.7 292.5 561.7 293.4 569.7 295.5 573.7 296.3 577.7 296.8 590.7 297.7 594.7 298.4 598.7 299.5 600.7 300.4 602 301.3 602.8 302.3 603.1 303.3 603 304.3 602.6 305.3 601 307.3 598.5 309.3 594.7 311.5 590.2 313.3 589.5 314.3 596.5 316.3 591.3 316.3 586.7 315.1 581.8 314.3 583.4 313.3 588.7 312.1 592.7 310.7 595.7 309.2 598.4 307.3 600.1 305.3 600.5 304.3 600.5 303.3 600 302.3 599 301.3 597 300.3 593.6 299.3 589.7 298.7 577.7 298 572.7 297.4 568.7 296.5 560.7 294.3 555.7 293.3 543.7 292.2 539.7 291.7 534.7 290.4 527 287.3 521.7 285.5 517.7 284.7 514.7 284.5 512.7 284.8 511.9 285.3 511.8 286.3 512.4 287.3 514.9 290.3 516.4 292.3 517.3 294.3 518.8 298.3 519.5 299.3 520.5 300.3 522.7 301.4 529.7 302.7 532.7 303.7 535.7 305.3 543.2 310.3 545.7 311.6 550.1 313.3 550.7 314.3 539.4 316.3 526.6 316.3 534.7 315.9 541.7 315 545.7 314.3 545.7 313.3 540.7 310.8 535.7 308 532.7 306.6 529.7 305.7 521.7 304.8 519.7 304.1 517.7 302.8 516.3 301.3 515.2 299.3 514 294.3 513 292.3 511.5 290.3 507 286.3 506.2 285.3 505.8 284.3 506.1 283.3 506.7 282.9 508.3 282.3ZM404.7 309.1L408.7 308.6 413.7 308.9 419.7 310.2 423 311.3 424.1 312.3 423.6 313.3 420.1 315.3 417.7 316 416.4 316.3 405.2 316.3 402.7 315.4 401.7 314.7 400.7 313.7 400.4 313.3 400.1 312.3 400.4 311.3 401.5 310.3 403.9 309.3ZM404.8 310.3L403.1 311.3 402.6 312.3 403.1 313.3 404.7 314.5 406.7 315.3 408.7 315.6 411.7 315.6 414.7 315.2 417.5 314.3 419.4 313.3 420 312.3 418.9 311.3 415.9 310.3 411.7 309.7 408.7 309.6 405.7 310.1Z" fill="#ffa500" stroke="#ffa500" stroke-width="0.5" fill-rule="evenodd"/>
<path d="M456.7 219.3L458.7 218.8 460.7 218.8 462.7 219.2 464.9 220.3 466.2 221.3 467.1 222.3 469.7 226.6 473.9 231.3 475.3 234.3 476 236.3 476.3 238.3 476.3 239.3 475.7 240.7 474.7 241.6 473.7 242.1 471.7 242.3 469.7 241.9 467.7 241.1 465.7 240 462.5 237.3 458.9 233.3 454 228.3 452.9 226.3 452.6 224.3 452.8 223.3 453.1 222.3 453.8 221.3 454.8 220.3 456.6 219.3ZM458.6 219.3L456.7 219.8 455.7 220.3 454.5 221.3 453.7 222.3 453.3 223.3 453.2 224.3 453.2 225.3 454 227.3 455.7 229.4 459 232.3 463.7 237.2 465.7 238.8 467.7 240 469.7 240.8 471.7 241 472.7 240.9 473.9 240.3 474.7 239.3 475 238.3 475 237.3 474.2 234.3 472.7 231.3 469.7 227.8 467.2 223.3 465.4 221.3 464 220.3 462.7 219.7 460.7 219.3 458.7 219.3ZM503.7 224.3L505.7 224.7 506.7 225.3 507.6 226.3 508.1 227.3 508.3 228.3 508.3 229.3 507.9 231.3 506.7 234 505.7 235.4 504.7 236.4 502.7 237.6 499.7 238.2 497.7 238 496.5 237.3 496.5 236.3 497.3 234.3 497.7 229.3 498.5 227.3 499.7 225.8 501.7 224.6 503.1 224.3ZM501.2 226.3L499.7 227.7 498.9 229.3 498.7 231.3 498.8 235.3 499.1 236.3 499.7 236.6 500.7 236.8 502.7 236.4 503.7 235.8 505.4 234.3 506.6 232.3 507.2 230.3 507.2 228.3 506.7 227.2 505.8 226.3 504.7 225.7 503.7 225.6 501.7 226ZM526.7 225.1L527.7 225 528.5 225.3 529.7 226.6 530.1 228.3 529.9 229.3 529.7 229.8 529.1 230.3 528.7 230.5 527.6 230.3 526.7 229.7 525.7 228.3 525.5 227.3 525.5 226.3 526.3 225.3ZM559.7 235.2L564.7 234.9 569.7 234.9 574.7 235.1 578.7 235.6 581.9 236.3 584.9 237.3 586.7 238.3 587.8 239.3 588.4 240.3 588.5 241.3 588.3 242.3 587.7 243.3 586.9 244.3 584.1 246.3 582.2 247.3 578.7 248.7 573.7 250.1 569.7 250.8 564.7 251.5 559.7 251.8 555.7 251.8 550.7 251.5 541.7 250.3 539.7 250.3 534.7 250.6 534.2 250.3 533.7 249.5 533.6 248.3 533.8 246.3 534.7 243.5 535.4 242.3 536.4 241.3 538 240.3 541.7 238.9 547.4 237.3 552.7 236.2 559.2 235.3ZM557.4 236.3L551.7 237.3 547.5 238.3 544.3 239.3 540.7 240.9 538.7 242.3 537.9 243.3 537.3 244.3 537.1 245.3 537.1 246.3 537.5 247.3 538.7 248.1 539.7 248.4 547.7 250.1 551.7 250.6 558.7 251 566.7 250.4 570.7 249.8 574.7 248.9 578.7 247.6 581.5 246.3 583.1 245.3 584.4 244.3 585.2 243.3 585.7 242.3 585.9 241.3 585.6 240.3 584.8 239.3 582.7 238 580.7 237.2 576.6 236.3 572.7 235.9 567.7 235.7 562.7 235.8 557.7 236.3ZM512.7 284.8L513.7 284.6 515.7 284.5 520.9 285.3 526.7 287.2 534.7 290.4 539.7 291.7 543.7 292.2 555.7 293.3 560.7 294.3 568.7 296.5 572.7 297.4 577.7 298 589.7 298.7 593.6 299.3 597 300.3 599 301.3 600 302.3 600.5 303.3 600.5 304.3 600.1 305.3 598.4 307.3 595.7 309.2 592.7 310.7 588.7 312.1 583.4 313.3 581.8 314.3 586.7 315.1 591.3 316.3 584.9 316.3 580.7 315.6 576.7 315.1 561.7 314.4 554.7 314.8 545.8 316.3 539.4 316.3 550.7 314.3 550.1 313.3 545.7 311.6 543.2 310.3 535.7 305.3 532.7 303.7 529.7 302.7 522.7 301.4 520.5 300.3 519.5 299.3 518.8 298.3 517.3 294.3 516.4 292.3 514.9 290.3 512.4 287.3 511.8 286.3 511.9 285.3ZM519.9 289.3L520.7 291.3 522.5 294.3 523.7 295.8 524.7 296.6 525.8 297.3 531.7 299.7 533.7 300.9 536.7 303.1 541.6 307.3 544.7 309.4 548.6 311.3 552.7 312.5 559.7 313.7 561.7 313.8 565.1 313.3 581.7 311.9 585.7 311.3 589.7 310.2 592.7 309 595.7 307.2 596.7 306.3 597.5 305.3 597.8 304.3 597.7 303.3 597 302.3 595.7 301.5 592.4 300.3 587.7 299.6 576.7 299.1 572.7 298.6 568.7 297.7 559.7 295.2 554.7 294.3 549.7 293.9 539.7 293.5 535.7 293 531.7 292 524.7 289.2 521.7 288.5 520.7 288.6ZM405.7 310.1L408.7 309.6 411.7 309.7 415.9 310.3 418.9 311.3 420 312.3 419.4 313.3 417.5 314.3 414.7 315.2 411.7 315.6 408.7 315.6 406.7 315.3 404.7 314.5 403.1 313.3 402.6 312.3 403.1 311.3 404.8 310.3ZM407.2 311.3L406.2 312.3 407.1 313.3 407.7 313.5 410.7 313.9 413.7 313.4 414.2 313.3 415.2 312.3 413.7 311.3 410.7 310.9 407.7 311.2Z" fill="#ff7d00" stroke="#ff7d00" stroke-width="0.5" fill-rule="evenodd"/>
<path d="M458.7 219.3L460.7 219.3 462.7 219.7 464 220.3 465.4 221.3 467.2 223.3 469.7 227.8 472.7 231.3 474.2 234.3 475 237.3 475 238.3 474.7 239.3 473.9 240.3 472.7 240.9 471.7 241 469.7 240.8 467.7 240 465.7 238.8 463.7 237.2 459 232.3 455.7 229.4 454 227.3 453.2 225.3 453.2 224.3 453.3 223.3 453.7 222.3 454.5 221.3 455.7 220.3 456.7 219.8 458.6 219.3ZM456.7 220.3L455.2 221.3 454.3 222.3 453.9 223.3 453.7 224.3 454 226.3 455.3 228.3 456.7 229.6 460.2 232.3 464.2 236.3 466.7 238.2 468.7 239.2 469.7 239.5 470.7 239.6 472.1 239.3 472.7 238.9 473.2 238.3 473.5 237.3 473.5 236.3 473 234.3 472.1 232.3 468.7 227.7 467.1 224.3 465.8 222.3 463.7 220.7 461.7 219.9 460.7 219.7 458.7 219.7 456.7 220.3ZM501.7 226L503.7 225.6 504.7 225.7 505.8 226.3 506.7 227.2 507.2 228.3 507.2 230.3 506.6 232.3 505.4 234.3 503.7 235.8 502.7 236.4 500.7 236.8 499.7 236.6 499.1 236.3 498.8 235.3 498.7 231.3 498.9 229.3 499.7 227.7 501.2 226.3ZM502.5 227.3L501.7 227.7 500.7 228.8 500.1 230.3 500.1 231.3 500.7 233.8 501.7 234.6 502.7 234.6 503.7 234.2 504.7 233.3 505.7 231.7 506 230.3 506 229.3 505.7 228.3 504.7 227.4 503.7 227.1 502.7 227.2ZM557.7 236.3L562.7 235.8 567.7 235.7 572.7 235.9 576.6 236.3 580.7 237.2 582.7 238 584.8 239.3 585.6 240.3 585.9 241.3 585.7 242.3 585.2 243.3 584.4 244.3 583.1 245.3 581.5 246.3 578.7 247.6 574.7 248.9 570.7 249.8 566.7 250.4 558.7 251 551.7 250.6 547.7 250.1 539.7 248.4 538.7 248.1 537.5 247.3 537.1 246.3 537.1 245.3 537.3 244.3 537.9 243.3 538.7 242.3 540.7 240.9 544.3 239.3 547.5 238.3 551.7 237.3 557.4 236.3ZM556.8 237.3L551.7 238.3 548.2 239.3 545.6 240.3 543.6 241.3 542.2 242.3 541.4 243.3 540.9 244.3 540.9 245.3 541.5 246.3 543 247.3 545.7 248.3 551.7 249.6 558.7 250 562.7 249.9 566.7 249.5 571.7 248.6 574.7 247.7 578.4 246.3 580.2 245.3 581.7 244.1 582.4 243.3 582.9 242.3 583 241.3 582.5 240.3 581.4 239.3 579.4 238.3 575.8 237.3 573.7 237 569.7 236.6 565.7 236.6 557.7 237.2ZM520.7 288.6L521.7 288.5 524.7 289.2 531.7 292 535.7 293 539.7 293.5 549.7 293.9 554.7 294.3 559.7 295.2 568.7 297.7 572.7 298.6 576.7 299.1 587.7 299.6 592.4 300.3 595.7 301.5 597 302.3 597.7 303.3 597.8 304.3 597.5 305.3 596.7 306.3 595.7 307.2 592.7 309 589.7 310.2 585.7 311.3 581.7 311.9 565.1 313.3 561.7 313.8 559.7 313.7 552.7 312.5 548.6 311.3 544.7 309.4 541.6 307.3 536.7 303.1 533.7 300.9 531.7 299.7 525.8 297.3 524.7 296.6 523.7 295.8 522.5 294.3 520.7 291.3 519.9 289.3ZM543.6 295.3L540.7 295.7 538.4 296.3 537.2 297.3 537.1 298.3 537.4 299.3 539.3 302.3 542 305.3 545.7 308.3 548.7 309.9 550.7 310.6 553.7 311.4 558.7 312 563.7 311.9 578.7 310.7 582.7 310.2 586.7 309.5 589.7 308.5 592.2 307.3 593.7 306.1 594.4 305.3 594.7 304.3 594.3 303.3 592.7 302.1 590.2 301.3 587.7 300.9 576.7 300.4 572.7 300 568.7 299 559.7 296.3 555.7 295.5 549.7 295.1 543.7 295.3ZM407.7 311.2L410.7 310.9 413.7 311.3 415.2 312.3 414.2 313.3 413.7 313.4 410.7 313.9 407.7 313.5 407.1 313.3 406.2 312.3 407.2 311.3ZM551.7 315.2L557.7 314.5 564.7 314.5 577.7 315.2 584.9 316.3 573.3 316.3 561.7 315.7 557.7 315.8 553 316.3 545.8 316.3 551.2 315.3Z" fill="#ff6e00" stroke="#ff6e00" stroke-width="0.5" fill-rule="evenodd"/>
<path d="M456.7 220.3L458.7 219.7 460.7 219.7 461.7 219.9 463.7 220.7 465.8 222.3 467.1 224.3 468.7 227.7 472.1 232.3 473 234.3 473.5 236.3 473.5 237.3 473.2 238.3 472.7 238.9 472.1 239.3 470.7 239.6 469.7 239.5 468.7 239.2 466.7 238.2 464.2 236.3 460.2 232.3 456.7 229.6 455.3 228.3 454 226.3 453.7 224.3 453.9 223.3 454.3 222.3 455.2 221.3 456.7 220.3ZM458 220.3L456.7 220.8 455.7 221.5 454.9 222.3 454.4 223.3 454.2 224.3 454.3 225.3 455.1 227.3 456.7 229 461.6 232.3 464.8 235.3 466.7 236.7 468.7 237.6 469.7 237.8 470.7 237.7 471.2 237.3 471.8 236.3 471.6 234.3 470.7 232.3 468.1 228.3 466.9 225.3 465.9 223.3 464.7 221.9 462.7 220.7 460.7 220.1 458.7 220.2ZM502.7 227.2L503.7 227.1 504.7 227.4 505.7 228.3 506 229.3 506 230.3 505.7 231.7 504.7 233.3 503.7 234.2 502.7 234.6 501.7 234.6 500.7 233.8 500.1 231.3 500.1 230.3 500.7 228.8 501.7 227.7 502.5 227.3ZM502.7 230.3L502.7 230.6 503.7 230.5 503.7 230.3 502.7 230.3ZM557.7 237.2L565.7 236.6 569.7 236.6 573.7 237 575.8 237.3 579.4 238.3 581.4 239.3 582.5 240.3 583 241.3 582.9 242.3 582.4 243.3 581.7 244.1 580.2 245.3 578.4 246.3 574.7 247.7 571.7 248.6 566.7 249.5 562.7 249.9 558.7 250 551.7 249.6 545.7 248.3 543 247.3 541.5 246.3 540.9 245.3 540.9 244.3 541.4 243.3 542.2 242.3 543.6 241.3 545.6 240.3 548.2 239.3 551.7 238.3 556.8 237.3ZM557.6 238.3L552.9 239.3 549.8 240.3 547.7 241.3 546.2 242.3 545.3 243.3 545 244.3 545.3 245.3 546.4 246.3 548.5 247.3 552.7 248.4 555.7 248.7 559.7 248.8 566.6 248.3 571.4 247.3 574.4 246.3 576.7 245.2 578.1 244.3 578.7 243.6 579.5 242.3 579.4 241.3 578.7 240.3 577 239.3 575.7 238.8 573.7 238.3 570.7 237.9 564.7 237.7 557.7 238.3ZM543.7 295.3L549.7 295.1 555.7 295.5 559.7 296.3 568.7 299 572.7 300 576.7 300.4 587.7 300.9 590.2 301.3 592.7 302.1 594.3 303.3 594.7 304.3 594.4 305.3 593.7 306.1 592.2 307.3 589.7 308.5 586.7 309.5 582.7 310.2 578.7 310.7 563.7 311.9 558.7 312 553.7 311.4 550.7 310.6 548.7 309.9 545.7 308.3 542 305.3 539.3 302.3 537.4 299.3 537.1 298.3 537.2 297.3 538.4 296.3 540.7 295.7 543.6 295.3ZM543.9 297.3L542.3 298.3 541.7 299.3 541.6 300.3 541.8 301.3 542.9 303.3 544.7 305.4 547.7 307.8 550.7 309.2 553.7 310.1 557.7 310.7 562.7 310.6 571.7 309.5 581.7 308.5 583.7 308.2 586.7 307.4 589.1 306.3 590.2 305.3 590.3 304.3 589.7 303.7 589.3 303.3 587.7 302.8 584.7 302.3 576.7 302.1 572.7 301.6 569.7 300.8 560.7 297.8 555.7 296.7 552.7 296.4 549.7 296.3 546.7 296.6 544.7 297.1ZM553.7 316.2L557.7 315.8 561.7 315.7 573.3 316.3 553 316.3Z" fill="#ff5505" stroke="#ff5505" stroke-width="0.5" fill-rule="evenodd"/>
<path d="M458.7 220.2L460.7 220.1 462.7 220.7 464.7 221.9 465.9 223.3 466.9 225.3 468.1 228.3 470.7 232.3 471.6 234.3 471.8 236.3 471.2 237.3 470.7 237.7 469.7 237.8 468.7 237.6 466.7 236.7 464.8 235.3 461.6 232.3 456.7 229 455.1 227.3 454.3 225.3 454.2 224.3 454.4 223.3 454.9 222.3 455.7 221.5 456.7 220.8 458 220.3ZM456.7 221.3L455.5 222.3 454.9 223.3 454.7 224.3 454.8 225.3 455.1 226.3 455.7 227.3 457.7 229.1 463.6 232.3 466.7 234.7 467.7 235.1 468.7 235.2 469.3 234.3 469.1 233.3 467.3 229.3 466.6 226.3 465.9 224.3 464.7 222.6 462.7 221.1 460.7 220.5 458.7 220.6 456.7 221.3ZM502.7 230.3L503.7 230.3 503.7 230.5 502.7 230.6 502.7 230.3ZM557.7 238.3L564.7 237.7 570.7 237.9 573.7 238.3 575.7 238.8 577 239.3 578.7 240.3 579.4 241.3 579.5 242.3 578.7 243.6 578.1 244.3 576.7 245.2 574.4 246.3 571.4 247.3 566.6 248.3 559.7 248.8 555.7 248.7 552.7 248.4 548.5 247.3 546.4 246.3 545.3 245.3 545 244.3 545.3 243.3 546.2 242.3 547.7 241.3 549.8 240.3 552.9 239.3 557.6 238.3ZM563.5 239.3L556.6 240.3 553.6 241.3 551.9 242.3 551 243.3 551 244.3 551.8 245.3 554.3 246.3 557.7 246.8 561.7 246.8 566.6 246.3 570.3 245.3 572.7 244.1 573.8 243.3 574.3 242.3 573.9 241.3 572.4 240.3 571.7 240.1 567.7 239.4 563.7 239.3ZM544.7 297.1L546.7 296.6 549.7 296.3 552.7 296.4 555.7 296.7 560.7 297.8 569.7 300.8 572.7 301.6 576.7 302.1 584.7 302.3 587.7 302.8 589.3 303.3 589.7 303.7 590.3 304.3 590.2 305.3 589.1 306.3 586.7 307.4 583.7 308.2 581.7 308.5 571.7 309.5 562.7 310.6 557.7 310.7 553.7 310.1 550.7 309.2 547.7 307.8 544.7 305.4 542.9 303.3 541.8 301.3 541.6 300.3 541.7 299.3 542.3 298.3 543.9 297.3ZM547.6 298.3L545.7 299.3 545 300.3 544.9 301.3 545.1 302.3 545.6 303.3 547.2 305.3 549.7 307.1 551.7 308.1 555.7 309.1 559.7 309.3 564.7 308.7 569.9 307.3 572.5 306.3 573.5 305.3 572.3 304.3 563.8 300.3 559.7 298.8 555.7 297.9 551.7 297.7 549.7 297.8 547.7 298.3Z" fill="#fa410a" stroke="#fa410a" stroke-width="0.5" fill-rule="evenodd"/>
<path d="M456.7 221.3L458.7 220.6 460.7 220.5 462.7 221.1 464.7 222.6 465.9 224.3 466.6 226.3 467.3 229.3 469.1 233.3 469.3 234.3 468.7 235.2 467.7 235.1 466.7 234.7 463.6 232.3 457.7 229.1 455.7 227.3 455.1 226.3 454.8 225.3 454.7 224.3 454.9 223.3 455.5 222.3 456.7 221.3ZM457.6 221.3L456.1 222.3 455.4 223.3 455.2 224.3 455.2 225.3 455.6 226.3 456.3 227.3 457.7 228.5 459.7 229.6 462.7 230.5 464.7 230.6 465.2 230.3 465.7 229.6 466 227.3 465.7 225.3 464.7 223.3 463.7 222.2 461.7 221.2 459.7 220.9 457.7 221.3ZM563.7 239.3L567.7 239.4 571.7 240.1 572.4 240.3 573.9 241.3 574.3 242.3 573.8 243.3 572.7 244.1 570.3 245.3 566.6 246.3 561.7 246.8 557.7 246.8 554.3 246.3 551.8 245.3 551 244.3 551 243.3 551.9 242.3 553.6 241.3 556.6 240.3 563.5 239.3ZM547.7 298.3L549.7 297.8 551.7 297.7 555.7 297.9 559.7 298.8 563.8 300.3 572.3 304.3 573.5 305.3 572.5 306.3 569.9 307.3 564.7 308.7 559.7 309.3 555.7 309.1 551.7 308.1 549.7 307.1 547.2 305.3 545.6 303.3 545.1 302.3 544.9 301.3 545 300.3 545.7 299.3 547.6 298.3ZM552.1 299.3L549.7 300 549.1 300.3 548.3 301.3 548.2 302.3 548.5 303.3 549.2 304.3 550.2 305.3 551.7 306.2 553.7 307 556.7 307.6 559.7 307.6 561.7 307.3 564.2 306.3 565.3 305.3 565.3 304.3 564.7 303.3 563.5 302.3 561.8 301.3 559.5 300.3 555.7 299.4 552.7 299.2Z" fill="#eb3714" stroke="#eb3714" stroke-width="0.5" fill-rule="evenodd"/>
<path d="M457.7 221.3L459.7 220.9 461.7 221.2 463.7 222.2 464.7 223.3 465.7 225.3 466 227.3 465.7 229.6 465.2 230.3 464.7 230.6 462.7 230.5 459.7 229.6 457.7 228.5 456.3 227.3 455.6 226.3 455.2 225.3 455.2 224.3 455.4 223.3 456.1 222.3 457.6 221.3ZM459.4 221.3L457.7 221.7 456.7 222.4 456 223.3 455.7 224.3 455.7 225.3 456.1 226.3 456.7 227 458.3 228.3 460.7 229.3 462.7 229.5 463.7 229.3 464.8 228.3 465.1 227.3 465.2 226.3 464.7 224.3 464.1 223.3 462.7 222.1 461.7 221.6 459.7 221.3ZM552.7 299.2L555.7 299.4 559.5 300.3 561.8 301.3 563.5 302.3 564.7 303.3 565.3 304.3 565.3 305.3 564.2 306.3 561.7 307.3 559.7 307.6 556.7 307.6 553.7 307 551.7 306.2 550.2 305.3 549.2 304.3 548.5 303.3 548.2 302.3 548.3 301.3 549.1 300.3 549.7 300 552.1 299.3ZM552.9 302.3L552.8 303.3 553.6 304.3 554.7 304.8 556.7 305.2 557.7 305.1 558.7 304.8 559.4 304.3 559.3 303.3 558 302.3 555.7 301.7 553.7 301.9Z" fill="#dc2d19" stroke="#dc2d19" stroke-width="0.5" fill-rule="evenodd"/>
<path d="M459.7 221.3L461.7 221.6 462.7 222.1 464.1 223.3 464.7 224.3 465.2 226.3 465.1 227.3 464.8 228.3 463.7 229.3 462.7 229.5 460.7 229.3 458.3 228.3 456.7 227 456.1 226.3 455.7 225.3 455.7 224.3 456 223.3 456.7 222.4 457.7 221.7 459.4 221.3ZM457.5 222.3L456.5 223.3 456.2 224.3 456.3 225.3 456.7 226.3 457.6 227.3 458.7 228 460.7 228.7 461.7 228.7 463.3 228.3 464.2 227.3 464.5 226.3 464.4 225.3 464.1 224.3 463.5 223.3 462.2 222.3 460.7 221.8 458.7 221.8 457.7 222.2ZM553.7 301.9L555.7 301.7 558 302.3 559.3 303.3 559.4 304.3 558.7 304.8 557.7 305.1 556.7 305.2 554.7 304.8 553.6 304.3 552.8 303.3 552.9 302.3Z" fill="#c82323" stroke="#c82323" stroke-width="0.5" fill-rule="evenodd"/>
<path d="M457.7 222.2L458.7 221.8 460.7 221.8 462.2 222.3 463.5 223.3 464.1 224.3 464.4 225.3 464.5 226.3 464.2 227.3 463.3 228.3 461.7 228.7 460.7 228.7 458.7 228 457.6 227.3 456.7 226.3 456.3 225.3 456.2 224.3 456.5 223.3 457.5 222.3ZM458.6 222.3L457.2 223.3 456.7 224.3 456.8 225.3 457.3 226.3 458.5 227.3 459.7 227.8 461.7 228 462.7 227.7 463.2 227.3 463.7 226.4 463.8 225.3 463.5 224.3 462.8 223.3 461.7 222.5 460.7 222.2 458.7 222.3Z" fill="#b41e28" stroke="#b41e28" stroke-width="0.5" fill-rule="evenodd"/>
<path d="M458.7 222.3L460.7 222.2 461.7 222.5 462.8 223.3 463.5 224.3 463.8 225.3 463.7 226.4 463.2 227.3 462.7 227.7 461.7 228 459.7 227.8 458.5 227.3 457.3 226.3 456.8 225.3 456.7 224.3 457.2 223.3 458.6 222.3ZM457.9 223.3L457.3 224.3 457.4 225.3 458.1 226.3 459.7 227.3 460.7 227.4 461.7 227.3 462.9 226.3 463.1 225.3 462.9 224.3 462 223.3 460.7 222.7 459.7 222.6 458.7 222.8Z" fill="#c83241" stroke="#c83241" stroke-width="0.5" fill-rule="evenodd"/>
<path d="M458.7 222.8L459.7 222.6 460.7 222.7 462 223.3 462.9 224.3 463.1 225.3 462.9 226.3 461.7 227.3 460.7 227.4 459.7 227.3 458.1 226.3 457.4 225.3 457.3 224.3 457.9 223.3ZM459.2 223.3L458.7 223.5 458.1 224.3 458.1 225.3 459.1 226.3 459.7 226.6 460.7 226.7 461.8 226.3 462.3 225.3 462 224.3 460.8 223.3 459.7 223.2Z" fill="#d7505f" stroke="#d7505f" stroke-width="0.5" fill-rule="evenodd"/>
<path d="M459.7 223.2L460.8 223.3 462 224.3 462.3 225.3 461.8 226.3 460.7 226.7 459.7 226.6 459.1 226.3 458.1 225.3 458.1 224.3 458.7 223.5 459.2 223.3ZM459.3 224.3L459.3 225.3 459.7 225.6 460.7 225.6 461.1 225.3 460.9 224.3 459.7 224.1Z" fill="#e6737d" stroke="#e6737d" stroke-width="0.5" fill-rule="evenodd"/>
<path d="M459.7 224.1L460.9 224.3 461.1 225.3 460.7 225.6 459.7 225.6 459.3 225.3 459.3 224.3Z" fill="#f2969b" stroke="#f2969b" stroke-width="0.5" fill-rule="evenodd"/>
<path d="M389.7 317.7 388.3 308.5 387.6 304.8 391.8 299.3 395.9 294.2 402.0 290.1 407.2 285.0 411.9 274.7 412.7 270.6 404.1 272.3 397.9 273.7 396.3 271.2 396.5 269.0 391.8 264.5 388.3 262.4 386.6 257.3 383.9 252.2 380.4 246.1 377.4 239.9 374.3 233.8 373.2 231.1 367.1 231.7 358.8 230.1 348.5 228.7 346.5 232.8 339.3 228.7 329.0 226.6 328.0 219.4 313.6 219.9 303.3 223.1 296.1 221.5M374.3 233.8 379.4 237.9 383.5 244.0 387.6 252.2 393.8 261.4 395.9 269.2 400.0 268.6 406.2 266.5 414.4 261.4 420.6 259.4 425.7 256.3 429.8 249.1 424.7 246.1 423.2 240.9 418.5 245.7 413.4 245.0 413.0 242.0 410.3 240.9 407.2 234.8 410.3 233.8 414.4 238.9 419.5 240.7 423.7 239.9 425.7 243.0 432.9 243.6 444.2 243.4 446.3 246.1 448.4 247.1 449.4 249.5 452.5 252.6 456.6 251.2 457.2 256.3 458.6 262.4 460.7 268.6 463.8 274.7 466.9 278.8 468.9 276.8 471.6 274.1 472.4 267.6 472.6 263.5 476.7 261.0 482.3 255.3 486.4 251.2 490.5 250.2 494.7 249.1 496.7 252.2 500.8 258.3 501.9 262.4 504.9 261.4 508.0 260.8 509.1 268.6 510.1 274.7 509.7 278.8 513.8 282.9 516.3 289.1 520.4 292.1 521.8 291.1 520.2 286.0 517.3 282.3 514.2 278.8 513.2 270.6 514.2 267.6 517.3 269.6 519.3 272.7 523.5 276.8 527.2 273.7 531.7 270.6 532.3 266.5 529.6 261.4 526.6 257.3 525.5 254.2 529.6 251.2 533.8 251.6 534.8 253.6 541.0 249.1 547.1 248.1 552.3 243.0 557.4 236.8 558.4 232.8 556.4 229.7 553.3 224.6 555.4 220.5 559.5 219.4 552.3 218.4 550.2 215.3 557.4 212.3 558.4 215.3 564.6 213.3 567.7 218.4 567.3 224.6 572.9 222.9 573.9 219.4 570.8 214.3 575.9 208.2 586.2 206.1 596.5 195.9 597.5 186.7 586.2 183.2 601.7 173.8 626.4 173.4 644.9 168.3 628.4 174.4 627.4 179.5 629.4 190.8 640.8 180.5 642.8 173.4 657.2 172.3 675.7 167.2 673.7 163.1 681.9 162.5 692.2 163.5 698.4 159.0 677.8 153.9 657.2 152.9 636.6 151.9 616.1 148.8 595.5 146.8 577.0 149.8 568.7 146.8 539.9 143.7 521.4 136.5 509.1 139.6 486.4 141.6 472.0 145.7 455.6 146.8 445.3 149.8 447.3 154.9 430.9 153.9 416.5 154.9 397.9 155.4 397.9 159.0 389.7 162.1 383.5 164.2 377.4 159.0 389.7 160.1 391.8 156.0 369.1 151.9 358.8 149.8 346.5 151.9 336.2 156.0 328.0 164.2 317.7 169.3 321.8 176.4 330.0 174.4 334.1 181.6 341.3 179.5 345.5 172.3 343.4 168.3 352.7 160.7 358.8 161.1 351.6 166.2 354.7 172.3 367.1 172.3 356.8 173.8 350.6 178.5 346.5 183.6 336.2 184.6 328.0 183.6 329.0 177.5 324.9 178.5 323.8 184.6 315.6 188.7 311.5 190.8 304.3 195.5 298.1 195.9 305.3 201.0 304.3 206.1 288.2 207.2 288.9 219.4 296.1 221.5 303.3 220.1 307.4 216.0 313.6 209.6 319.7 206.7 325.9 204.5 333.1 210.2 339.7 213.3 340.3 217.4 342.4 214.3 345.5 212.9 335.2 206.1 332.7 202.4 335.6 201.8 347.5 210.2 350.6 217.4 354.7 220.5 356.8 217.4 354.7 212.7 360.9 211.7 362.9 219.4 370.1 220.5 381.5 220.5 380.4 227.6 378.0 231.1 373.2 231.1M367.1 210.8 375.3 209.2 385.6 211.3 392.8 210.2 387.6 205.1 383.5 202.4 376.3 204.1 375.3 201.0 370.1 201.0 366.0 206.1 367.1 210.8M408.2 218.4 418.5 219.4 416.5 213.3 416.5 209.2 413.4 203.1 404.1 202.0 405.1 207.2 409.3 212.3 408.2 218.4M472.0 275.7 475.7 279.8 473.3 282.9 471.6 279.8 472.0 275.7M574.9 230.7 577.0 225.6 581.1 224.6 586.2 224.2 589.3 224.2 593.4 223.5 597.1 221.5 597.5 216.4 598.6 212.3 595.5 212.3 594.5 217.4 589.3 219.4 587.3 221.5 581.1 222.5 577.0 224.6 574.9 226.6 574.9 230.7M596.1 210.2 598.6 207.2 599.2 202.4 605.8 205.1 606.8 207.2 601.7 209.2 596.1 210.2M599.6 201.0 602.7 194.9 600.6 184.6 601.7 192.8 599.6 201.0M556.4 244.0 558.4 245.0 556.0 250.2 554.7 247.1 556.4 244.0M555.4 257.3 558.9 257.7 558.4 262.4 562.6 268.6 560.5 266.9 556.4 266.5 554.3 262.4 555.4 257.3M558.4 280.9 562.6 277.8 567.7 276.8 567.3 281.9 565.7 282.9 562.6 280.9 558.4 280.9M503.5 283.9 509.1 287.0 514.2 291.1 520.4 295.2 522.4 300.3 525.5 301.3 525.1 307.1 522.4 307.1 517.3 303.4 514.2 297.2 510.5 291.7 506.0 287.6 503.5 283.9M524.1 309.1 529.6 308.5 535.4 308.5 539.9 309.5 543.0 311.2 542.6 312.8 533.8 311.6 526.6 310.4 524.1 309.1M531.7 292.1 536.8 291.1 539.9 288.6 545.1 285.0 548.2 280.9 552.3 284.6 549.8 289.1 550.2 293.2 549.2 296.2 547.1 299.3 546.1 303.4 543.0 303.4 539.9 302.0 536.8 302.0 533.8 298.3 531.7 294.6 531.7 292.1M553.9 294.2 555.4 292.7 560.5 293.2 564.6 292.1 561.5 294.4 556.0 294.4 557.4 297.2 561.1 297.2 558.0 299.3 559.5 302.0 560.1 305.0 557.4 305.0 556.4 301.3 554.9 301.3 555.2 306.5 553.3 306.5 553.3 302.4 551.9 300.7 553.9 294.2M577.0 296.8 583.1 296.8 585.2 302.0 591.4 298.7 597.5 300.5 605.8 304.0 611.5 307.5 608.9 309.5 610.9 313.6 617.1 316.7 609.9 316.7 601.7 313.6 597.5 314.0 593.4 311.6 591.4 312.2 590.3 305.8 585.2 304.2 581.1 303.4 579.0 300.9 577.0 296.8M531.1 254.5 535.4 254.2 534.4 257.5 531.3 257.1 531.1 254.5M414.4 149.8 422.6 144.7 435.0 139.6 447.3 137.5 430.9 141.6 420.6 147.8 414.4 149.8" fill="none" stroke="#6a6a6a" stroke-width="0.35" stroke-opacity="0.75" stroke-linejoin="round"/>
<path d="M455.7 218.8L463.7 218.8 465.7 220.8 466.7 220.8 467.2 221.3 467.2 222.3 469.2 224.3 469.2 225.3 475.2 231.3 475.2 232.3 476.2 233.3 476.2 235.3 477.2 236.3 477.2 240.3 474.7 242.8 468.7 242.8 467.7 241.8 466.7 241.8 464.7 239.8 463.7 239.8 460.2 236.3 460.2 235.3 453.2 228.3 453.2 227.3 452.2 226.3 452.2 222.3 455.2 219.3ZM503.7 222.8L504.7 223.8 506.7 223.8 508.2 225.3 508.2 226.3 509.2 227.3 509.2 230.3 508.2 231.3 508.2 233.3 506.2 235.3 506.2 236.3 505.7 236.8 504.7 236.8 502.7 238.8 495.7 238.8 495.2 238.3 495.2 236.3 496.2 235.3 496.2 230.3 497.2 229.3 497.2 227.3 500.7 223.8 502.7 223.8 503.2 223.3ZM526.7 222.8L527.7 222.8 528.7 223.8 529.7 223.8 531.2 225.3 531.2 227.3 532.2 228.3 532.2 229.3 531.2 230.3 531.2 231.3 529.7 232.8 528.7 232.8 527.7 231.8 526.7 231.8 525.2 230.3 525.2 229.3 524.2 228.3 524.2 224.3 524.7 223.8 525.7 223.8 526.2 223.3ZM642.7 232.8L650.7 232.8 651.7 233.8 652.7 233.8 654.2 235.3 654.2 236.3 651.7 238.8 649.7 238.8 648.7 239.8 644.7 239.8 643.7 238.8 642.7 238.8 641.7 237.8 640.7 237.8 640.2 237.3 640.2 235.3 642.2 233.3ZM567.7 233.8L569.7 233.8 570.7 234.8 580.7 234.8 581.7 235.8 584.7 235.8 585.7 236.8 586.7 236.8 587.7 237.8 588.7 237.8 590.2 239.3 590.2 242.3 585.7 246.8 584.7 246.8 583.7 247.8 582.7 247.8 581.7 248.8 579.7 248.8 578.7 249.8 575.7 249.8 574.7 250.8 570.7 250.8 569.7 251.8 562.7 251.8 561.7 252.8 552.7 252.8 551.7 251.8 543.7 251.8 542.7 250.8 540.7 250.8 539.7 251.8 536.7 251.8 534.7 253.8 533.7 253.8 531.7 255.8 531.2 255.3 531.2 248.3 532.2 247.3 532.2 244.3 533.2 243.3 533.2 242.3 535.7 239.8 536.7 239.8 537.7 238.8 539.7 238.8 540.7 237.8 543.7 237.8 544.7 236.8 548.7 236.8 549.7 235.8 553.7 235.8 554.7 234.8 566.7 234.8 567.2 234.3ZM389.7 234.8L390.7 234.8 392.2 236.3 392.2 237.3 393.2 238.3 393.2 241.3 392.2 242.3 392.2 244.3 389.7 246.8 388.7 246.8 388.7 234.8ZM515.7 237.8L516.7 237.8 518.2 239.3 518.2 241.3 517.2 242.3 517.2 243.3 516.7 243.8 514.7 243.8 514.2 243.3 514.2 239.3 515.2 238.3ZM491.7 249.8L498.7 249.8 499.7 250.8 500.7 250.8 502.7 252.8 503.7 252.8 505.7 254.8 506.7 254.8 510.2 258.3 510.2 261.3 508.7 262.8 506.7 262.8 505.7 263.8 500.7 263.8 499.7 262.8 497.7 262.8 496.7 261.8 495.7 261.8 494.7 260.8 493.7 260.8 490.2 257.3 490.2 256.3 489.2 255.3 489.2 252.3 491.2 250.3ZM616.7 259.8L636.7 259.8 637.7 260.8 641.7 260.8 642.7 261.8 644.7 261.8 645.7 262.8 647.7 262.8 648.7 263.8 649.7 263.8 651.7 265.8 652.7 265.8 653.2 266.3 653.2 267.3 654.2 268.3 654.2 270.3 650.7 273.8 649.7 273.8 648.7 274.8 646.7 274.8 645.7 275.8 643.7 275.8 642.7 276.8 639.7 276.8 638.7 277.8 633.7 277.8 632.7 278.8 612.7 278.8 611.7 277.8 609.7 277.8 608.7 276.8 607.7 276.8 606.7 275.8 605.7 275.8 604.7 274.8 603.7 274.8 601.2 272.3 601.2 271.3 600.2 270.3 600.2 268.3 601.2 267.3 601.2 266.3 601.7 265.8 602.7 265.8 604.7 263.8 605.7 263.8 606.7 262.8 608.7 262.8 609.7 261.8 611.7 261.8 612.7 260.8 615.7 260.8 616.2 260.3ZM672.7 265.8L674.7 265.8 675.7 266.8 676.7 266.8 677.2 267.3 677.2 268.3 678.2 269.3 678.2 274.3 677.2 275.3 677.2 276.3 676.7 276.8 675.7 276.8 674.7 277.8 673.7 277.8 672.7 276.8 671.7 276.8 671.2 276.3 671.2 275.3 669.2 273.3 669.2 269.3 672.2 266.3ZM399.7 269.8L402.7 269.8 407.2 274.3 407.2 276.3 408.2 277.3 408.2 282.3 407.2 283.3 407.2 285.3 406.2 286.3 406.2 287.3 404.7 288.8 403.7 288.8 402.7 289.8 398.7 289.8 395.2 286.3 395.2 285.3 394.2 284.3 394.2 276.3 395.2 275.3 395.2 274.3 396.2 273.3 396.2 272.3 397.7 270.8 398.7 270.8 399.2 270.3ZM508.7 282.8L517.7 282.8 518.7 283.8 521.7 283.8 522.7 284.8 524.7 284.8 525.7 285.8 527.7 285.8 528.7 286.8 529.7 286.8 530.7 287.8 532.7 287.8 533.7 288.8 534.7 288.8 535.7 289.8 538.7 289.8 539.7 290.8 544.7 290.8 545.7 291.8 553.7 291.8 554.7 292.8 559.7 292.8 560.7 293.8 563.7 293.8 564.7 294.8 566.7 294.8 567.7 295.8 571.7 295.8 572.7 296.8 580.7 296.8 581.7 297.8 592.7 297.8 593.7 298.8 596.7 298.8 597.7 299.8 599.7 299.8 602.2 302.3 602.2 305.3 597.7 309.8 596.7 309.8 595.7 310.8 594.7 310.8 593.7 311.8 591.7 311.8 590.7 312.8 589.7 312.8 588.2 314.3 588.7 314.8 591.7 314.8 592.7 315.8 594.7 315.8 595.2 316.3 532.2 316.3 532.7 315.8 540.7 315.8 541.7 314.8 546.7 314.8 547.2 314.3 547.2 313.3 546.7 312.8 544.7 312.8 543.7 311.8 542.7 311.8 540.7 309.8 539.7 309.8 538.7 308.8 537.7 308.8 536.7 307.8 535.7 307.8 533.7 305.8 531.7 305.8 530.7 304.8 523.7 304.8 522.7 303.8 520.7 303.8 519.7 302.8 518.7 302.8 516.2 300.3 516.2 298.3 515.2 297.3 515.2 294.3 514.2 293.3 514.2 292.3 507.2 285.3 507.2 284.3 508.2 283.3ZM475.7 303.8L482.7 303.8 483.7 304.8 486.7 304.8 487.2 305.3 487.2 306.3 486.7 306.8 473.7 306.8 472.2 305.3 472.7 304.8 474.7 304.8 475.2 304.3ZM405.7 308.8L414.7 308.8 415.7 309.8 418.7 309.8 419.7 310.8 421.7 310.8 423.2 312.3 420.7 314.8 419.7 314.8 418.7 315.8 414.7 315.8 414.2 316.3 407.2 316.3 406.7 315.8 403.7 315.8 400.2 312.3 402.7 309.8 404.7 309.8 405.2 309.3Z" fill="url(#dotsc)" fill-rule="evenodd"/>
<g stroke="#000" fill="#000" stroke-linecap="butt">
<path d="M410.7 229.6L416.6 226.6" stroke-width="1.49" fill="none"/><path d="M420.9 224.4L417.0 228.6L415.2 225.1Z" stroke="none"/>
<path d="M391.3 219.2L389.3 217.4L390.9 216.5Z" stroke="none"/>
<path d="M416.7 216.5L414.3 215.1L415.7 213.9Z" stroke="none"/>
<path d="M474.4 216.7L476.6 215.9" stroke-width="1.40" fill="none"/><path d="M479.5 214.9L476.4 217.4L475.6 214.9Z" stroke="none"/>
<path d="M391.1 227.8L389.1 225.9L390.8 225.1Z" stroke="none"/>
<path d="M410.8 236.4L409.0 234.3L410.7 233.7Z" stroke="none"/>
<path d="M397.5 239.1L399.3 238.9" stroke-width="1.40" fill="none"/><path d="M401.9 238.6L398.8 240.1L398.6 237.8Z" stroke="none"/>
<path d="M391.2 239.4L388.8 237.9L390.3 236.8Z" stroke="none"/>
<path d="M433.4 234.0L431.2 234.7" stroke-width="1.40" fill="none"/><path d="M428.3 235.7L431.3 233.3L432.2 235.8Z" stroke="none"/>
<path d="M444.4 234.0L442.2 234.6" stroke-width="1.40" fill="none"/><path d="M439.2 235.4L442.4 233.2L443.1 235.7Z" stroke="none"/>
<path d="M453.2 233.2L452.3 234.4" stroke-width="1.40" fill="none"/><path d="M451.0 236.2L451.8 233.3L453.5 234.5Z" stroke="none"/>
<path d="M461.2 228.8L461.8 231.0" stroke-width="1.40" fill="none"/><path d="M462.7 234.0L460.4 230.8L462.9 230.1Z" stroke="none"/>
<path d="M464.1 235.4L465.7 237.7" stroke-width="1.40" fill="none"/><path d="M467.8 240.6L464.2 238.0L466.6 236.3Z" stroke="none"/>
<path d="M456.8 241.3L456.5 242.7" stroke-width="1.40" fill="none"/><path d="M456.1 244.9L455.6 241.9L457.7 242.3Z" stroke="none"/>
<path d="M422.4 241.3L421.3 241.8" stroke-width="1.40" fill="none"/><path d="M419.5 242.7L421.4 240.7L422.3 242.4Z" stroke="none"/>
<path d="M434.9 242.5L432.0 242.7" stroke-width="1.40" fill="none"/><path d="M428.3 243.0L432.4 241.1L432.7 244.2Z" stroke="none"/>
<path d="M440.0 241.3L441.2 242.8" stroke-width="1.40" fill="none"/><path d="M442.9 244.9L439.9 243.1L441.8 241.6Z" stroke="none"/>
<path d="M403.4 247.9L400.5 246.8" stroke-width="1.40" fill="none"/><path d="M396.8 245.4L401.6 245.5L400.4 248.5Z" stroke="none"/>
<path d="M389.9 250.6L391.5 248.3L392.5 249.9Z" stroke="none"/>
<path d="M416.6 249.3L416.0 250.4" stroke-width="1.40" fill="none"/><path d="M415.1 252.3L415.4 249.5L417.1 250.3Z" stroke="none"/>
<path d="M426.8 248.6L426.2 249.7" stroke-width="1.40" fill="none"/><path d="M425.3 251.5L425.7 248.7L427.4 249.6Z" stroke="none"/>
<path d="M434.9 249.3L435.7 250.5" stroke-width="1.40" fill="none"/><path d="M437.0 252.3L434.5 250.6L436.2 249.4Z" stroke="none"/>
<path d="M445.1 249.3L446.3 250.5" stroke-width="1.40" fill="none"/><path d="M448.0 252.3L445.1 250.9L446.6 249.3Z" stroke="none"/>
<path d="M456.1 249.3L456.4 250.6" stroke-width="1.40" fill="none"/><path d="M456.8 252.7L455.3 250.3L457.2 249.8Z" stroke="none"/>
<path d="M465.6 244.5L466.6 247.1" stroke-width="1.40" fill="none"/><path d="M467.8 250.4L465.0 247.0L467.7 246.0Z" stroke="none"/>
<path d="M475.8 244.5L476.5 246.9" stroke-width="1.40" fill="none"/><path d="M477.3 250.1L475.0 246.7L477.7 246.0Z" stroke="none"/>
<path d="M402.6 253.3L404.5 254.3" stroke-width="1.40" fill="none"/><path d="M407.0 255.6L403.4 255.1L404.5 252.9Z" stroke="none"/>
<path d="M475.8 252.3L477.4 254.5" stroke-width="1.40" fill="none"/><path d="M479.5 257.4L475.9 254.9L478.3 253.1Z" stroke="none"/>
<path d="M465.6 253.7L466.7 254.5" stroke-width="1.40" fill="none"/><path d="M468.5 255.6L465.7 255.0L466.8 253.3Z" stroke="none"/>
<path d="M420.9 257.1L420.5 257.9" stroke-width="1.40" fill="none"/><path d="M419.5 259.6L420.0 256.9L421.6 257.8Z" stroke="none"/>
<path d="M429.7 260.3L430.5 261.1" stroke-width="1.40" fill="none"/><path d="M431.9 262.5L429.4 261.3L430.7 260.0Z" stroke="none"/>
<path d="M440.0 257.4L441.1 258.2" stroke-width="1.40" fill="none"/><path d="M442.9 259.6L440.0 258.7L441.3 257.1Z" stroke="none"/>
<path d="M393.9 257.1L394.3 257.9" stroke-width="1.40" fill="none"/><path d="M395.3 259.6L393.2 257.8L394.8 256.9Z" stroke="none"/>
<path d="M456.1 261.8L456.6 262.1" stroke-width="1.40" fill="none"/><path d="M458.3 263.2L455.6 262.6L456.6 261.0Z" stroke="none"/>
<path d="M464.9 261.0L466.0 261.9" stroke-width="1.40" fill="none"/><path d="M467.8 263.2L464.9 262.4L466.1 260.7Z" stroke="none"/>
<path d="M474.4 260.6L476.6 261.7" stroke-width="1.40" fill="none"/><path d="M479.5 263.2L475.4 262.7L476.7 260.2Z" stroke="none"/>
<path d="M487.0 242.9L484.5 241.8L485.8 240.4Z" stroke="none"/>
<path d="M519.5 213.8L523.2 215.5" stroke-width="1.40" fill="none"/><path d="M527.5 217.6L521.8 217.0L523.5 213.5Z" stroke="none"/>
<path d="M526.8 225.5L528.3 226.7" stroke-width="1.40" fill="none"/><path d="M530.5 228.4L527.1 227.2L528.6 225.4Z" stroke="none"/>
<path d="M530.8 235.1L529.0 235.0" stroke-width="1.40" fill="none"/><path d="M526.4 234.7L529.7 233.9L529.4 236.2Z" stroke="none"/>
<path d="M541.4 235.0L539.3 235.0" stroke-width="1.40" fill="none"/><path d="M536.3 235.0L539.9 233.7L539.9 236.3Z" stroke="none"/>
<path d="M551.7 235.0L549.5 235.0" stroke-width="1.40" fill="none"/><path d="M546.6 235.0L550.1 233.7L550.1 236.3Z" stroke="none"/>
<path d="M501.2 247.9L498.6 247.0" stroke-width="1.40" fill="none"/><path d="M495.3 246.0L499.7 245.8L498.7 248.6Z" stroke="none"/>
<path d="M510.0 247.9L508.5 247.0" stroke-width="1.40" fill="none"/><path d="M506.3 245.7L509.6 246.3L508.4 248.3Z" stroke="none"/>
<path d="M520.2 247.1L518.8 246.9" stroke-width="1.40" fill="none"/><path d="M516.6 246.4L519.6 246.0L519.2 248.0Z" stroke="none"/>
<path d="M487.9 242.7L490.6 242.6L490.0 244.4Z" stroke="none"/>
<path d="M501.9 253.0L502.5 254.5" stroke-width="1.40" fill="none"/><path d="M503.4 256.7L501.3 254.3L503.3 253.5Z" stroke="none"/>
<path d="M512.2 253.7L513.3 254.9" stroke-width="1.40" fill="none"/><path d="M515.1 256.7L512.1 255.3L513.7 253.7Z" stroke="none"/>
<path d="M507.0 261.0L507.3 262.0" stroke-width="1.40" fill="none"/><path d="M507.8 264.0L506.2 261.7L508.0 261.2Z" stroke="none"/>
<path d="M552.4 244.2L549.8 246.2" stroke-width="1.40" fill="none"/><path d="M546.6 248.6L549.3 244.5L551.3 247.1Z" stroke="none"/>
<path d="M567.8 248.6L564.9 250.2" stroke-width="1.40" fill="none"/><path d="M561.2 252.3L564.5 248.4L566.2 251.4Z" stroke="none"/>
<path d="M578.0 248.6L575.1 250.2" stroke-width="1.40" fill="none"/><path d="M571.5 252.3L574.8 248.4L576.5 251.4Z" stroke="none"/>
<path d="M545.8 253.0L543.9 254.6" stroke-width="1.40" fill="none"/><path d="M541.4 256.7L543.5 253.1L545.3 255.3Z" stroke="none"/>
<path d="M556.8 252.3L555.2 254.2" stroke-width="1.40" fill="none"/><path d="M553.2 256.7L554.6 252.8L556.7 254.6Z" stroke="none"/>
<path d="M536.3 256.7L534.8 257.9" stroke-width="1.40" fill="none"/><path d="M532.7 259.6L534.5 256.6L536.0 258.4Z" stroke="none"/>
<path d="M544.4 259.6L544.1 261.8" stroke-width="1.40" fill="none"/><path d="M543.6 264.9L542.8 261.0L545.4 261.4Z" stroke="none"/>
<path d="M554.6 258.9L554.3 261.5" stroke-width="1.40" fill="none"/><path d="M553.9 264.9L552.9 260.7L555.8 261.0Z" stroke="none"/>
<path d="M564.9 255.9L564.2 258.1" stroke-width="1.40" fill="none"/><path d="M563.4 261.0L563.1 257.2L565.7 257.9Z" stroke="none"/>
<path d="M575.8 255.9L574.9 258.1" stroke-width="1.40" fill="none"/><path d="M573.7 261.0L573.9 257.0L576.4 258.1Z" stroke="none"/>
<path d="M586.1 257.4L585.3 258.2" stroke-width="1.40" fill="none"/><path d="M583.9 259.6L585.1 257.1L586.4 258.4Z" stroke="none"/>
<path d="M400.4 266.6L399.3 266.1" stroke-width="1.40" fill="none"/><path d="M397.5 265.2L400.3 265.5L399.5 267.2Z" stroke="none"/>
<path d="M420.3 264.4L422.6 265.9L421.2 267.1Z" stroke="none"/>
<path d="M445.6 264.7L447.6 266.6L445.9 267.5Z" stroke="none"/>
<path d="M475.1 272.1L473.6 270.8" stroke-width="1.40" fill="none"/><path d="M471.5 269.1L474.8 270.3L473.3 272.2Z" stroke="none"/>
<path d="M485.4 272.1L482.8 270.4" stroke-width="1.40" fill="none"/><path d="M479.5 268.4L484.1 269.4L482.4 272.1Z" stroke="none"/>
<path d="M407.0 275.0L405.9 274.2" stroke-width="1.40" fill="none"/><path d="M404.1 273.1L406.9 273.7L405.9 275.4Z" stroke="none"/>
<path d="M396.1 274.5L395.1 274.3" stroke-width="1.40" fill="none"/><path d="M393.1 274.0L395.9 273.5L395.5 275.4Z" stroke="none"/>
<path d="M445.6 272.6L447.6 274.6L445.9 275.4Z" stroke="none"/>
<path d="M455.9 272.6L457.9 274.6L456.2 275.4Z" stroke="none"/>
<path d="M467.1 274.2L466.7 273.7" stroke-width="1.40" fill="none"/><path d="M465.6 272.1L467.8 273.7L466.3 274.7Z" stroke="none"/>
<path d="M478.0 278.6L477.5 278.3" stroke-width="1.40" fill="none"/><path d="M475.8 277.2L478.5 277.8L477.5 279.4Z" stroke="none"/>
<path d="M486.1 277.9L485.6 277.6" stroke-width="1.40" fill="none"/><path d="M483.9 276.4L486.6 277.1L485.5 278.7Z" stroke="none"/>
<path d="M401.2 282.3L400.6 281.9" stroke-width="1.40" fill="none"/><path d="M399.0 280.8L401.7 281.5L400.6 283.1Z" stroke="none"/>
<path d="M409.2 280.3L411.5 281.8L410.0 283.0Z" stroke="none"/>
<path d="M430.2 280.4L432.2 282.3L430.6 283.2Z" stroke="none"/>
<path d="M440.5 280.4L442.5 282.3L440.8 283.2Z" stroke="none"/>
<path d="M450.7 280.4L452.7 282.3L451.1 283.2Z" stroke="none"/>
<path d="M460.3 280.7L462.8 281.8L461.5 283.2Z" stroke="none"/>
<path d="M471.4 281.2L473.7 282.6L472.3 283.8Z" stroke="none"/>
<path d="M421.7 287.4L420.8 286.3" stroke-width="1.40" fill="none"/><path d="M419.5 284.5L422.0 286.2L420.4 287.4Z" stroke="none"/>
<path d="M401.2 290.4L400.1 289.9" stroke-width="1.40" fill="none"/><path d="M398.2 289.2L401.0 289.3L400.3 291.0Z" stroke="none"/>
<path d="M411.4 290.6L410.6 289.7" stroke-width="1.40" fill="none"/><path d="M409.2 288.2L411.7 289.5L410.3 290.8Z" stroke="none"/>
<path d="M432.7 291.1L431.1 289.9" stroke-width="1.40" fill="none"/><path d="M429.0 288.2L432.4 289.3L430.9 291.2Z" stroke="none"/>
<path d="M442.9 290.4L441.1 289.6" stroke-width="1.40" fill="none"/><path d="M438.5 288.6L442.1 288.7L441.2 291.0Z" stroke="none"/>
<path d="M453.2 290.4L451.3 289.6" stroke-width="1.40" fill="none"/><path d="M448.8 288.6L452.3 288.7L451.4 291.0Z" stroke="none"/>
<path d="M464.1 290.6L462.3 289.8" stroke-width="1.40" fill="none"/><path d="M459.7 288.6L463.4 288.9L462.3 291.2Z" stroke="none"/>
<path d="M474.4 290.4L472.9 289.8" stroke-width="1.40" fill="none"/><path d="M470.7 288.9L473.9 289.0L473.1 291.0Z" stroke="none"/>
<path d="M484.6 290.6L482.8 290.0" stroke-width="1.40" fill="none"/><path d="M480.2 289.2L483.8 289.1L483.0 291.4Z" stroke="none"/>
<path d="M423.9 294.7L421.3 294.1" stroke-width="1.40" fill="none"/><path d="M418.0 293.3L422.3 292.9L421.6 295.7Z" stroke="none"/>
<path d="M394.6 297.7L393.2 297.6" stroke-width="1.40" fill="none"/><path d="M390.9 297.4L393.8 296.6L393.7 298.6Z" stroke="none"/>
<path d="M402.6 297.7L400.5 297.6" stroke-width="1.40" fill="none"/><path d="M397.5 297.4L401.2 296.3L401.0 298.9Z" stroke="none"/>
<path d="M412.9 298.0L410.4 297.7" stroke-width="1.40" fill="none"/><path d="M407.0 297.4L411.1 296.4L410.8 299.2Z" stroke="none"/>
<path d="M440.0 298.0L436.3 297.7" stroke-width="1.40" fill="none"/><path d="M431.9 297.4L437.1 295.9L436.8 299.6Z" stroke="none"/>
<path d="M450.2 298.0L446.2 297.5" stroke-width="1.40" fill="none"/><path d="M441.4 296.9L447.0 295.6L446.6 299.5Z" stroke="none"/>
<path d="M460.5 298.4L456.8 297.7" stroke-width="1.40" fill="none"/><path d="M452.4 296.9L457.8 296.1L457.1 299.7Z" stroke="none"/>
<path d="M470.0 298.8L466.7 298.2" stroke-width="1.40" fill="none"/><path d="M462.7 297.4L467.6 296.6L467.0 300.0Z" stroke="none"/>
<path d="M479.5 298.4L476.2 298.1" stroke-width="1.40" fill="none"/><path d="M472.2 297.7L477.0 296.5L476.7 299.8Z" stroke="none"/>
<path d="M488.0 298.4L485.2 298.1" stroke-width="1.40" fill="none"/><path d="M481.7 297.7L486.0 296.7L485.7 299.6Z" stroke="none"/>
<path d="M429.0 301.3L426.1 301.7" stroke-width="1.40" fill="none"/><path d="M422.4 302.1L426.5 300.0L426.9 303.1Z" stroke="none"/>
<path d="M397.7 305.1L400.5 305.0L400.0 306.8Z" stroke="none"/>
<path d="M414.7 303.7L417.0 305.3L415.4 306.4Z" stroke="none"/>
<path d="M434.7 305.3L437.4 304.8L437.0 306.7Z" stroke="none"/>
<path d="M449.5 305.7L447.7 305.4" stroke-width="1.40" fill="none"/><path d="M445.1 305.0L448.5 304.4L448.1 306.7Z" stroke="none"/>
<path d="M460.5 305.7L456.8 305.4" stroke-width="1.40" fill="none"/><path d="M452.4 305.0L457.6 303.6L457.3 307.3Z" stroke="none"/>
<path d="M470.7 305.7L466.7 305.5" stroke-width="1.40" fill="none"/><path d="M461.9 305.3L467.4 303.6L467.2 307.5Z" stroke="none"/>
<path d="M481.7 305.7L477.0 305.5" stroke-width="1.42" fill="none"/><path d="M472.2 305.3L477.7 303.6L477.5 307.5Z" stroke="none"/>
<path d="M488.0 305.7L486.0 305.5" stroke-width="1.40" fill="none"/><path d="M483.2 305.3L486.7 304.4L486.5 306.8Z" stroke="none"/>
<path d="M394.6 313.0L393.5 312.5" stroke-width="1.40" fill="none"/><path d="M391.7 311.6L394.4 311.9L393.6 313.6Z" stroke="none"/>
<path d="M402.6 313.5L400.8 312.7" stroke-width="1.40" fill="none"/><path d="M398.2 311.6L401.8 311.8L400.9 314.1Z" stroke="none"/>
<path d="M412.9 313.5L411.1 312.7" stroke-width="1.40" fill="none"/><path d="M408.5 311.6L412.1 311.8L411.1 314.1Z" stroke="none"/>
<path d="M422.4 313.5L420.6 312.9" stroke-width="1.40" fill="none"/><path d="M418.0 312.0L421.5 311.9L420.8 314.2Z" stroke="none"/>
<path d="M432.7 313.8L430.8 313.1" stroke-width="1.40" fill="none"/><path d="M428.3 312.0L431.8 312.1L430.9 314.4Z" stroke="none"/>
<path d="M439.9 312.6L442.7 313.0L441.8 314.6Z" stroke="none"/>
<path d="M461.2 313.0L458.3 312.9" stroke-width="1.40" fill="none"/><path d="M454.6 312.6L459.0 311.4L458.8 314.4Z" stroke="none"/>
<path d="M471.5 313.0L467.8 312.9" stroke-width="1.40" fill="none"/><path d="M463.4 312.6L468.5 311.1L468.3 314.7Z" stroke="none"/>
<path d="M481.7 313.0L477.7 312.8" stroke-width="1.40" fill="none"/><path d="M472.9 312.6L478.4 310.9L478.2 314.8Z" stroke="none"/>
<path d="M488.0 313.0L486.0 312.9" stroke-width="1.40" fill="none"/><path d="M483.2 312.6L486.7 311.7L486.5 314.1Z" stroke="none"/>
<path d="M495.3 266.9L493.1 266.3" stroke-width="1.40" fill="none"/><path d="M490.2 265.5L494.1 265.2L493.4 267.7Z" stroke="none"/>
<path d="M510.7 270.6L508.2 270.1" stroke-width="1.40" fill="none"/><path d="M504.8 269.6L509.0 268.8L508.5 271.7Z" stroke="none"/>
<path d="M523.4 267.7L522.2 265.2L524.1 265.0Z" stroke="none"/>
<path d="M533.4 264.7L534.0 267.3" stroke-width="1.40" fill="none"/><path d="M534.9 270.6L532.5 267.0L535.3 266.3Z" stroke="none"/>
<path d="M548.8 267.7L550.4 269.9" stroke-width="1.40" fill="none"/><path d="M552.4 272.8L548.8 270.3L551.2 268.5Z" stroke="none"/>
<path d="M558.3 266.9L560.2 269.2" stroke-width="1.40" fill="none"/><path d="M562.7 272.1L558.6 269.8L561.0 267.7Z" stroke="none"/>
<path d="M569.3 264.7L570.5 267.3" stroke-width="1.40" fill="none"/><path d="M572.2 270.6L568.9 267.5L571.7 266.1Z" stroke="none"/>
<path d="M579.5 264.7L580.4 266.2" stroke-width="1.40" fill="none"/><path d="M581.7 268.4L579.1 266.3L581.1 265.1Z" stroke="none"/>
<path d="M501.9 275.0L499.0 274.3" stroke-width="1.40" fill="none"/><path d="M495.3 273.5L499.9 272.9L499.2 276.0Z" stroke="none"/>
<path d="M517.3 273.1L518.8 273.8" stroke-width="1.40" fill="none"/><path d="M520.9 275.0L517.7 274.5L518.7 272.6Z" stroke="none"/>
<path d="M526.8 272.1L528.4 273.9" stroke-width="1.40" fill="none"/><path d="M530.5 276.4L526.9 274.4L529.1 272.6Z" stroke="none"/>
<path d="M537.8 271.3L539.4 273.6" stroke-width="1.40" fill="none"/><path d="M541.4 276.4L537.8 273.9L540.2 272.2Z" stroke="none"/>
<path d="M550.2 275.7L554.0 277.6" stroke-width="1.40" fill="none"/><path d="M558.3 279.8L552.6 279.1L554.3 275.6Z" stroke="none"/>
<path d="M561.9 275.0L565.8 277.1" stroke-width="1.41" fill="none"/><path d="M570.0 279.4L564.3 278.5L566.2 275.1Z" stroke="none"/>
<path d="M571.5 272.1L574.8 273.7" stroke-width="1.40" fill="none"/><path d="M578.8 275.7L573.4 275.1L575.0 271.8Z" stroke="none"/>
<path d="M581.7 272.8L584.5 273.6" stroke-width="1.40" fill="none"/><path d="M588.0 274.5L583.5 274.9L584.3 271.9Z" stroke="none"/>
<path d="M499.0 281.9L497.5 281.6" stroke-width="1.40" fill="none"/><path d="M495.3 281.3L498.3 280.7L498.0 282.7Z" stroke="none"/>
<path d="M509.2 277.9L507.1 277.5" stroke-width="1.40" fill="none"/><path d="M504.1 276.9L507.9 276.3L507.4 278.9Z" stroke="none"/>
<path d="M523.1 280.1L523.4 281.1" stroke-width="1.40" fill="none"/><path d="M523.9 283.0L522.3 280.7L524.1 280.3Z" stroke="none"/>
<path d="M533.4 280.1L534.3 281.6" stroke-width="1.40" fill="none"/><path d="M535.6 283.8L533.0 281.7L534.9 280.5Z" stroke="none"/>
<path d="M541.4 280.1L544.0 281.7" stroke-width="1.40" fill="none"/><path d="M547.3 283.8L542.7 282.8L544.4 280.0Z" stroke="none"/>
<path d="M572.2 280.4L583.3 282.0" stroke-width="1.64" fill="none"/><path d="M588.0 282.7L582.4 283.9L582.9 280.0Z" stroke="none"/>
<path d="M553.9 284.8L572.5 286.3" stroke-width="1.85" fill="none"/><path d="M577.3 286.7L571.8 288.2L572.1 284.3Z" stroke="none"/>
<path d="M502.6 288.0L504.3 290.2L502.5 290.8Z" stroke="none"/>
<path d="M513.2 284.3L513.8 287.0L511.9 286.8Z" stroke="none"/>
<path d="M529.0 291.1L528.4 290.0" stroke-width="1.40" fill="none"/><path d="M527.5 288.2L529.6 290.1L527.9 290.9Z" stroke="none"/>
<path d="M520.2 292.6L519.1 293.4" stroke-width="1.40" fill="none"/><path d="M517.3 294.7L518.9 292.2L520.2 293.9Z" stroke="none"/>
<path d="M569.3 290.1L583.2 289.4" stroke-width="1.74" fill="none"/><path d="M588.0 289.2L582.7 291.4L582.5 287.5Z" stroke="none"/>
<path d="M500.4 297.4L497.9 297.4" stroke-width="1.40" fill="none"/><path d="M494.6 297.4L498.5 296.0L498.5 298.8Z" stroke="none"/>
<path d="M511.4 296.9L509.2 297.6" stroke-width="1.40" fill="none"/><path d="M506.3 298.4L509.5 296.1L510.2 298.7Z" stroke="none"/>
<path d="M555.3 298.4L565.5 294.9" stroke-width="1.63" fill="none"/><path d="M570.0 293.3L565.5 296.9L564.3 293.2Z" stroke="none"/>
<path d="M567.1 296.9L573.6 294.3" stroke-width="1.50" fill="none"/><path d="M578.0 292.6L573.8 296.4L572.3 292.8Z" stroke="none"/>
<path d="M575.8 297.4L583.4 295.3" stroke-width="1.53" fill="none"/><path d="M588.0 294.0L583.3 297.3L582.3 293.6Z" stroke="none"/>
<path d="M501.9 305.7L499.4 305.4" stroke-width="1.40" fill="none"/><path d="M496.1 305.0L500.1 304.1L499.8 306.9Z" stroke="none"/>
<path d="M545.8 306.5L548.8 305.0" stroke-width="1.40" fill="none"/><path d="M552.4 303.2L549.0 306.8L547.5 303.8Z" stroke="none"/>
<path d="M554.6 305.7L561.1 303.1" stroke-width="1.50" fill="none"/><path d="M565.6 301.3L561.3 305.1L559.9 301.5Z" stroke="none"/>
<path d="M564.1 305.3L572.8 302.2" stroke-width="1.57" fill="none"/><path d="M577.3 300.6L572.9 304.2L571.6 300.6Z" stroke="none"/>
<path d="M575.8 305.0L583.4 302.7" stroke-width="1.53" fill="none"/><path d="M588.0 301.3L583.4 304.8L582.3 301.0Z" stroke="none"/>
<path d="M508.5 312.3L507.0 311.6" stroke-width="1.40" fill="none"/><path d="M504.8 310.6L508.0 310.9L507.1 312.9Z" stroke="none"/>
<path d="M519.5 313.8L518.6 312.8" stroke-width="1.40" fill="none"/><path d="M517.3 311.1L519.8 312.6L518.3 313.9Z" stroke="none"/>
<path d="M527.5 313.8L528.4 312.8" stroke-width="1.40" fill="none"/><path d="M529.7 311.1L528.7 313.9L527.2 312.6Z" stroke="none"/>
<path d="M537.0 313.8L539.6 312.4" stroke-width="1.40" fill="none"/><path d="M542.9 310.6L539.9 314.0L538.3 311.3Z" stroke="none"/>
<path d="M547.3 313.0L549.9 312.0" stroke-width="1.40" fill="none"/><path d="M553.2 310.6L549.9 313.6L548.7 310.8Z" stroke="none"/>
<path d="M556.1 312.3L559.0 311.5" stroke-width="1.40" fill="none"/><path d="M562.7 310.6L558.8 313.2L558.0 310.2Z" stroke="none"/>
<path d="M565.6 310.9L569.8 309.4" stroke-width="1.41" fill="none"/><path d="M574.4 307.9L569.9 311.5L568.6 307.8Z" stroke="none"/>
<path d="M577.3 312.3L583.6 309.7" stroke-width="1.49" fill="none"/><path d="M588.0 307.9L583.7 311.8L582.3 308.2Z" stroke="none"/>
<path d="M501.9 313.5L499.7 313.0" stroke-width="1.40" fill="none"/><path d="M496.8 312.3L500.6 311.9L500.0 314.4Z" stroke="none"/>
<path d="M590.9 274.0L595.6 274.0" stroke-width="1.42" fill="none"/><path d="M600.4 274.0L595.0 275.9L595.0 272.0Z" stroke="none"/>
<path d="M585.0 274.5L586.8 274.4" stroke-width="1.40" fill="none"/><path d="M589.4 274.2L586.3 275.6L586.1 273.3Z" stroke="none"/>
<path d="M603.3 277.9L613.9 277.9" stroke-width="1.62" fill="none"/><path d="M618.7 277.9L613.3 279.9L613.3 276.0Z" stroke="none"/>
<path d="M614.3 277.9L622.7 277.9" stroke-width="1.55" fill="none"/><path d="M627.5 277.9L622.1 279.9L622.1 276.0Z" stroke="none"/>
<path d="M624.5 277.9L632.9 277.9" stroke-width="1.55" fill="none"/><path d="M637.7 277.9L632.3 279.9L632.3 276.0Z" stroke="none"/>
<path d="M634.8 277.9L642.4 277.9" stroke-width="1.52" fill="none"/><path d="M647.2 277.9L641.8 279.9L641.8 276.0Z" stroke="none"/>
<path d="M647.2 278.3L652.0 277.8" stroke-width="1.42" fill="none"/><path d="M656.7 277.2L651.6 279.8L651.1 275.9Z" stroke="none"/>
<path d="M585.0 282.3L594.8 282.0" stroke-width="1.60" fill="none"/><path d="M599.6 281.9L594.3 284.0L594.2 280.1Z" stroke="none"/>
<path d="M596.7 282.3L605.8 282.0" stroke-width="1.57" fill="none"/><path d="M610.6 281.9L605.3 284.0L605.2 280.1Z" stroke="none"/>
<path d="M654.5 282.3L665.1 281.3" stroke-width="1.63" fill="none"/><path d="M669.9 280.8L664.7 283.3L664.4 279.4Z" stroke="none"/>
<path d="M667.0 281.9L672.3 281.3" stroke-width="1.44" fill="none"/><path d="M677.1 280.8L671.9 283.3L671.5 279.4Z" stroke="none"/>
<path d="M598.9 285.7L617.5 285.9" stroke-width="1.85" fill="none"/><path d="M622.3 286.0L616.9 287.8L617.0 284.0Z" stroke="none"/>
<path d="M614.3 286.0L627.1 286.0" stroke-width="1.70" fill="none"/><path d="M631.9 286.0L626.5 287.9L626.5 284.0Z" stroke="none"/>
<path d="M626.0 286.0L638.0 286.0" stroke-width="1.67" fill="none"/><path d="M642.8 286.0L637.4 287.9L637.4 284.0Z" stroke="none"/>
<path d="M636.2 286.3L647.6 286.0" stroke-width="1.65" fill="none"/><path d="M652.3 286.0L647.0 288.0L646.9 284.1Z" stroke="none"/>
<path d="M646.5 286.3L657.1 286.1" stroke-width="1.62" fill="none"/><path d="M661.9 286.0L656.5 288.0L656.4 284.1Z" stroke="none"/>
<path d="M585.0 289.6L596.3 289.3" stroke-width="1.65" fill="none"/><path d="M601.1 289.2L595.8 291.3L595.7 287.4Z" stroke="none"/>
<path d="M593.8 289.6L608.0 289.3" stroke-width="1.75" fill="none"/><path d="M612.8 289.2L607.5 291.3L607.4 287.4Z" stroke="none"/>
<path d="M650.9 289.6L668.0 290.0" stroke-width="1.85" fill="none"/><path d="M672.8 290.1L667.4 291.9L667.5 288.0Z" stroke="none"/>
<path d="M664.1 290.1L672.3 290.1" stroke-width="1.54" fill="none"/><path d="M677.1 290.1L671.7 292.0L671.7 288.1Z" stroke="none"/>
<path d="M598.9 294.0L617.5 294.0" stroke-width="1.85" fill="none"/><path d="M622.3 294.0L616.9 296.0L616.9 292.1Z" stroke="none"/>
<path d="M612.8 294.0L628.5 294.0" stroke-width="1.80" fill="none"/><path d="M633.3 294.0L627.9 296.0L627.9 292.1Z" stroke="none"/>
<path d="M623.1 294.0L638.8 294.0" stroke-width="1.80" fill="none"/><path d="M643.6 294.0L638.2 296.0L638.2 292.1Z" stroke="none"/>
<path d="M633.3 294.0L649.0 294.0" stroke-width="1.80" fill="none"/><path d="M653.8 294.0L648.4 296.0L648.4 292.1Z" stroke="none"/>
<path d="M643.6 294.0L660.0 294.4" stroke-width="1.83" fill="none"/><path d="M664.8 294.5L659.4 296.3L659.4 292.4Z" stroke="none"/>
<path d="M585.0 296.9L594.8 296.5" stroke-width="1.60" fill="none"/><path d="M599.6 296.2L594.3 298.4L594.2 294.5Z" stroke="none"/>
<path d="M595.2 296.5L605.8 296.3" stroke-width="1.62" fill="none"/><path d="M610.6 296.2L605.3 298.3L605.2 294.4Z" stroke="none"/>
<path d="M649.4 297.4L668.0 297.4" stroke-width="1.85" fill="none"/><path d="M672.8 297.4L667.4 299.3L667.4 295.4Z" stroke="none"/>
<path d="M662.6 297.7L672.3 297.5" stroke-width="1.59" fill="none"/><path d="M677.1 297.4L671.7 299.4L671.7 295.5Z" stroke="none"/>
<path d="M602.6 301.8L612.4 301.0" stroke-width="1.60" fill="none"/><path d="M617.2 300.6L612.0 303.0L611.7 299.1Z" stroke="none"/>
<path d="M612.8 301.3L624.9 301.0" stroke-width="1.67" fill="none"/><path d="M629.7 300.9L624.3 303.0L624.2 299.1Z" stroke="none"/>
<path d="M623.1 301.3L635.8 301.0" stroke-width="1.70" fill="none"/><path d="M640.6 300.9L635.3 303.0L635.2 299.1Z" stroke="none"/>
<path d="M634.0 301.3L646.8 301.3" stroke-width="1.70" fill="none"/><path d="M651.6 301.3L646.2 303.3L646.2 299.4Z" stroke="none"/>
<path d="M643.6 301.3L657.8 301.3" stroke-width="1.75" fill="none"/><path d="M662.6 301.3L657.2 303.3L657.2 299.4Z" stroke="none"/>
<path d="M653.1 305.0L665.1 305.2" stroke-width="1.67" fill="none"/><path d="M669.9 305.3L664.5 307.1L664.6 303.3Z" stroke="none"/>
<path d="M664.1 305.3L672.3 305.6" stroke-width="1.54" fill="none"/><path d="M677.1 305.7L671.6 307.5L671.8 303.6Z" stroke="none"/>
<path d="M606.2 311.6L610.9 308.9" stroke-width="1.44" fill="none"/><path d="M615.0 306.5L611.3 310.9L609.4 307.5Z" stroke="none"/>
<path d="M616.5 310.1L621.4 308.6" stroke-width="1.43" fill="none"/><path d="M626.0 307.2L621.4 310.6L620.3 306.9Z" stroke="none"/>
<path d="M626.7 309.7L632.2 308.7" stroke-width="1.45" fill="none"/><path d="M637.0 307.9L632.0 310.8L631.3 306.9Z" stroke="none"/>
<path d="M634.8 308.7L643.2 308.7" stroke-width="1.55" fill="none"/><path d="M648.0 308.7L642.6 310.6L642.6 306.7Z" stroke="none"/>
<path d="M643.6 308.7L652.7 308.9" stroke-width="1.57" fill="none"/><path d="M657.5 309.1L652.0 310.9L652.1 307.0Z" stroke="none"/>
<path d="M589.4 306.5L590.3 305.3" stroke-width="1.40" fill="none"/><path d="M591.6 303.5L590.7 306.4L589.1 305.2Z" stroke="none"/>
<path d="M599.6 307.9L601.3 305.3" stroke-width="1.40" fill="none"/><path d="M603.3 302.1L602.3 306.7L599.6 305.0Z" stroke="none"/>
<path d="M671.4 275.0L673.2 274.1" stroke-width="1.40" fill="none"/><path d="M675.8 272.8L673.2 275.4L672.1 273.2Z" stroke="none"/>
<path d="M598.2 314.5L600.4 312.9" stroke-width="1.40" fill="none"/><path d="M603.3 310.9L600.8 314.5L599.1 312.0Z" stroke="none"/>
</g>
</g>
<rect x="389.7" y="213.3" width="288.1" height="102.9" fill="none" stroke="#000" stroke-width="1"/>
<path d="M430.9 316.2v3.5M492.6 316.2v3.5M554.3 316.2v3.5M616.1 316.2v3.5M677.8 316.2v3.5M389.7 316.2v2.0M410.3 316.2v2.0M451.4 316.2v2.0M472.0 316.2v2.0M513.2 316.2v2.0M533.8 316.2v2.0M574.9 316.2v2.0M595.5 316.2v2.0M636.6 316.2v2.0M657.2 316.2v2.0" stroke="#000" stroke-width="0.8" fill="none"/>
<text x="430.9" y="334.3" font-size="10.2" text-anchor="middle">60E</text>
<text x="492.6" y="334.3" font-size="10.2" text-anchor="middle">90E</text>
<text x="554.3" y="334.3" font-size="10.2" text-anchor="middle">120E</text>
<text x="616.1" y="334.3" font-size="10.2" text-anchor="middle">150E</text>
<text x="677.8" y="334.3" font-size="10.2" text-anchor="middle">180</text>
<path d="M389.7 295.2h-3.5M389.7 254.2h-3.5M389.7 213.3h-3.5M389.7 315.7h-2.0M389.7 274.7h-2.0M389.7 233.8h-2.0" stroke="#000" stroke-width="0.8" fill="none"/>
<path d="M677.8 295.2h3.5M677.8 254.2h3.5M677.8 213.3h3.5M677.8 315.7h2.0M677.8 274.7h2.0M677.8 233.8h2.0" stroke="#000" stroke-width="0.8" fill="none"/>
<text x="380.5" y="299.8" font-size="10.2" text-anchor="end">0</text>
<text x="380.5" y="258.9" font-size="10.2" text-anchor="end">20N</text>
<text x="380.5" y="217.9" font-size="10.2" text-anchor="end">40N</text>
<rect x="663.6" y="213.3" width="14.2" height="16.8" fill="#fff" stroke="#000" stroke-width="0.8"/>
<text x="670.8" y="219.7" font-size="6.7" text-anchor="middle">1</text>
<g stroke="#000" fill="#000"><path d="M664.9 224.0L673.5 224.0" stroke-width="1.19" fill="none"/><path d="M676.5 224.0L672.9 225.4L672.9 222.6Z" stroke="none"/></g>
<rect x="363.80" y="343.3" width="8.42" height="9.2" fill="#825adc" stroke="#222" stroke-width="0.6"/>
<rect x="372.22" y="343.3" width="8.42" height="9.2" fill="#6446d2" stroke="#222" stroke-width="0.6"/>
<rect x="380.64" y="343.3" width="8.42" height="9.2" fill="#412dcd" stroke="#222" stroke-width="0.6"/>
<rect x="389.06" y="343.3" width="8.42" height="9.2" fill="#2319c8" stroke="#222" stroke-width="0.6"/>
<rect x="397.48" y="343.3" width="8.42" height="9.2" fill="#0000c8" stroke="#222" stroke-width="0.6"/>
<rect x="405.90" y="343.3" width="8.42" height="9.2" fill="#0f1ed2" stroke="#222" stroke-width="0.6"/>
<rect x="414.32" y="343.3" width="8.42" height="9.2" fill="#1e37dc" stroke="#222" stroke-width="0.6"/>
<rect x="422.74" y="343.3" width="8.42" height="9.2" fill="#2850e1" stroke="#222" stroke-width="0.6"/>
<rect x="431.16" y="343.3" width="8.42" height="9.2" fill="#3764e6" stroke="#222" stroke-width="0.6"/>
<rect x="439.58" y="343.3" width="8.42" height="9.2" fill="#4169e6" stroke="#222" stroke-width="0.6"/>
<rect x="448.00" y="343.3" width="8.42" height="9.2" fill="#5073e6" stroke="#222" stroke-width="0.6"/>
<rect x="456.42" y="343.3" width="8.42" height="9.2" fill="#5a82eb" stroke="#222" stroke-width="0.6"/>
<rect x="464.84" y="343.3" width="8.42" height="9.2" fill="#698cee" stroke="#222" stroke-width="0.6"/>
<rect x="473.26" y="343.3" width="8.42" height="9.2" fill="#78a0f0" stroke="#222" stroke-width="0.6"/>
<rect x="481.68" y="343.3" width="8.42" height="9.2" fill="#87b4eb" stroke="#222" stroke-width="0.6"/>
<rect x="490.10" y="343.3" width="8.42" height="9.2" fill="#96cde8" stroke="#222" stroke-width="0.6"/>
<rect x="498.52" y="343.3" width="8.42" height="9.2" fill="#a0d7e6" stroke="#222" stroke-width="0.6"/>
<rect x="506.94" y="343.3" width="8.42" height="9.2" fill="#aae1e4" stroke="#222" stroke-width="0.6"/>
<rect x="515.36" y="343.3" width="8.42" height="9.2" fill="#ffffff" stroke="#222" stroke-width="0.6"/>
<rect x="523.78" y="343.3" width="8.42" height="9.2" fill="#ffffff" stroke="#222" stroke-width="0.6"/>
<rect x="532.20" y="343.3" width="8.42" height="9.2" fill="#eed4a5" stroke="#222" stroke-width="0.6"/>
<rect x="540.62" y="343.3" width="8.42" height="9.2" fill="#e1b987" stroke="#222" stroke-width="0.6"/>
<rect x="549.04" y="343.3" width="8.42" height="9.2" fill="#f0c346" stroke="#222" stroke-width="0.6"/>
<rect x="557.46" y="343.3" width="8.42" height="9.2" fill="#ffe100" stroke="#222" stroke-width="0.6"/>
<rect x="565.88" y="343.3" width="8.42" height="9.2" fill="#ffc300" stroke="#222" stroke-width="0.6"/>
<rect x="574.30" y="343.3" width="8.42" height="9.2" fill="#ffa500" stroke="#222" stroke-width="0.6"/>
<rect x="582.72" y="343.3" width="8.42" height="9.2" fill="#ff7d00" stroke="#222" stroke-width="0.6"/>
<rect x="591.14" y="343.3" width="8.42" height="9.2" fill="#ff6e00" stroke="#222" stroke-width="0.6"/>
<rect x="599.56" y="343.3" width="8.42" height="9.2" fill="#ff5505" stroke="#222" stroke-width="0.6"/>
<rect x="607.98" y="343.3" width="8.42" height="9.2" fill="#fa410a" stroke="#222" stroke-width="0.6"/>
<rect x="616.40" y="343.3" width="8.42" height="9.2" fill="#eb3714" stroke="#222" stroke-width="0.6"/>
<rect x="624.82" y="343.3" width="8.42" height="9.2" fill="#dc2d19" stroke="#222" stroke-width="0.6"/>
<rect x="633.24" y="343.3" width="8.42" height="9.2" fill="#c82323" stroke="#222" stroke-width="0.6"/>
<rect x="641.66" y="343.3" width="8.42" height="9.2" fill="#b41e28" stroke="#222" stroke-width="0.6"/>
<rect x="650.08" y="343.3" width="8.42" height="9.2" fill="#c83241" stroke="#222" stroke-width="0.6"/>
<rect x="658.50" y="343.3" width="8.42" height="9.2" fill="#d7505f" stroke="#222" stroke-width="0.6"/>
<rect x="666.92" y="343.3" width="8.42" height="9.2" fill="#e6737d" stroke="#222" stroke-width="0.6"/>
<rect x="675.34" y="343.3" width="8.42" height="9.2" fill="#f2969b" stroke="#222" stroke-width="0.6"/>
<text x="372.2" y="360.9" font-size="8.7" text-anchor="middle">-1.8</text>
<text x="397.5" y="360.9" font-size="8.7" text-anchor="middle">-1.5</text>
<text x="422.7" y="360.9" font-size="8.7" text-anchor="middle">-1.2</text>
<text x="448.0" y="360.9" font-size="8.7" text-anchor="middle">-0.9</text>
<text x="473.3" y="360.9" font-size="8.7" text-anchor="middle">-0.6</text>
<text x="498.5" y="360.9" font-size="8.7" text-anchor="middle">-0.3</text>
<text x="523.8" y="360.9" font-size="8.7" text-anchor="middle">0</text>
<text x="549.0" y="360.9" font-size="8.7" text-anchor="middle">0.3</text>
<text x="574.3" y="360.9" font-size="8.7" text-anchor="middle">0.6</text>
<text x="599.6" y="360.9" font-size="8.7" text-anchor="middle">0.9</text>
<text x="624.8" y="360.9" font-size="8.7" text-anchor="middle">1.2</text>
<text x="650.1" y="360.9" font-size="8.7" text-anchor="middle">1.5</text>
<text x="675.3" y="360.9" font-size="8.7" text-anchor="middle">1.8</text>
</svg></body></html>
